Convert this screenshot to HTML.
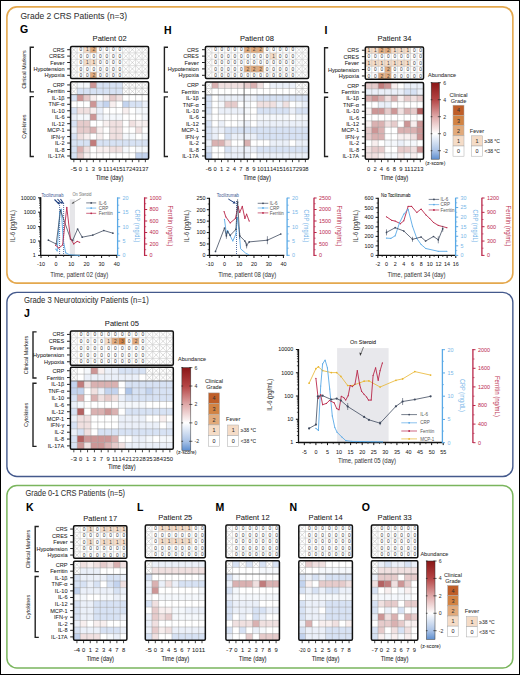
<!DOCTYPE html>
<html><head><meta charset="utf-8"><style>
html,body{margin:0;padding:0;background:#fff;}
svg{display:block;font-family:"Liberation Sans", sans-serif;}
</style></head><body>
<svg width="520" height="675" viewBox="0 0 520 675">
<defs>
<linearGradient id="cbgrad" x1="0" y1="0" x2="0" y2="1">
<stop offset="0" stop-color="#8a1616"/>
<stop offset="0.2222" stop-color="#b54545"/>
<stop offset="0.4444" stop-color="#dfa9a9"/>
<stop offset="0.6667" stop-color="#ffffff"/>
<stop offset="0.8889" stop-color="#a9c2e6"/>
<stop offset="1" stop-color="#5f8fd0"/>
</linearGradient>
</defs>
<rect width="520" height="675" fill="#fff"/>
<rect x="0.50" y="0.50" width="519.00" height="674.00" fill="none" stroke="#000" stroke-width="1" rx="0" />
<rect x="6.90" y="6.90" width="505.95" height="276.20" fill="none" stroke="#e4a84e" stroke-width="1.6" rx="10" />
<rect x="6.90" y="292.35" width="505.95" height="184.15" fill="none" stroke="#44598c" stroke-width="1.4" rx="10" />
<rect x="6.90" y="485.60" width="505.95" height="182.30" fill="none" stroke="#7ab55d" stroke-width="1.5" rx="10" />
<text x="20.50" y="18.70" font-size="8.6" fill="#333" text-anchor="start" stroke="#333" stroke-width="0.06" textLength="106.5" lengthAdjust="spacingAndGlyphs" >Grade 2 CRS Patients (n=3)</text>
<text x="24.00" y="302.70" font-size="8.2" fill="#333" text-anchor="start" stroke="#333" stroke-width="0.06" textLength="124.7" lengthAdjust="spacingAndGlyphs" >Grade 3 Neurotoxicity Patients (n=1)</text>
<text x="25.40" y="496.30" font-size="8.2" fill="#333" text-anchor="start" stroke="#333" stroke-width="0.06" textLength="99.6" lengthAdjust="spacingAndGlyphs" >Grade 0-1 CRS Patients (n=5)</text>
<text x="20.00" y="33.30" font-size="10.5" fill="#000" text-anchor="start" stroke="#000" stroke-width="0.06" font-weight="bold" >G</text>
<text x="164.00" y="33.70" font-size="10.5" fill="#000" text-anchor="start" stroke="#000" stroke-width="0.06" font-weight="bold" >H</text>
<text x="324.60" y="33.70" font-size="10.5" fill="#000" text-anchor="start" stroke="#000" stroke-width="0.06" font-weight="bold" >I</text>
<text x="24.00" y="317.00" font-size="10.5" fill="#000" text-anchor="start" stroke="#000" stroke-width="0.06" font-weight="bold" >J</text>
<text x="25.90" y="510.60" font-size="10.5" fill="#000" text-anchor="start" stroke="#000" stroke-width="0.06" font-weight="bold" >K</text>
<text x="137.10" y="510.60" font-size="10.5" fill="#000" text-anchor="start" stroke="#000" stroke-width="0.06" font-weight="bold" >L</text>
<text x="215.50" y="510.60" font-size="10.5" fill="#000" text-anchor="start" stroke="#000" stroke-width="0.06" font-weight="bold" >M</text>
<text x="289.60" y="510.60" font-size="10.5" fill="#000" text-anchor="start" stroke="#000" stroke-width="0.06" font-weight="bold" >N</text>
<text x="361.80" y="510.60" font-size="10.5" fill="#000" text-anchor="start" stroke="#000" stroke-width="0.06" font-weight="bold" >O</text>
<line x1="71.40" y1="47.30" x2="76.30" y2="52.10" stroke="#b0b0b0" stroke-width="0.45" />
<line x1="76.30" y1="47.30" x2="71.40" y2="52.10" stroke="#b0b0b0" stroke-width="0.45" />
<text x="80.75" y="51.40" font-size="4.8" fill="#444" text-anchor="middle" stroke="#444" stroke-width="0.03" >0</text>
<rect x="83.60" y="46.50" width="6.50" height="6.40" fill="#f5dcc7" stroke="none" stroke-width="0" rx="0" />
<text x="87.25" y="51.40" font-size="4.8" fill="#444" text-anchor="middle" stroke="#444" stroke-width="0.03" >1</text>
<rect x="90.10" y="46.50" width="6.50" height="6.40" fill="#e2aa7b" stroke="none" stroke-width="0" rx="0" />
<text x="93.75" y="51.40" font-size="4.8" fill="#444" text-anchor="middle" stroke="#444" stroke-width="0.03" >2</text>
<text x="100.25" y="51.40" font-size="4.8" fill="#444" text-anchor="middle" stroke="#444" stroke-width="0.03" >0</text>
<text x="106.75" y="51.40" font-size="4.8" fill="#444" text-anchor="middle" stroke="#444" stroke-width="0.03" >0</text>
<text x="113.25" y="51.40" font-size="4.8" fill="#444" text-anchor="middle" stroke="#444" stroke-width="0.03" >0</text>
<text x="119.75" y="51.40" font-size="4.8" fill="#444" text-anchor="middle" stroke="#444" stroke-width="0.03" >0</text>
<line x1="123.40" y1="47.30" x2="128.30" y2="52.10" stroke="#b0b0b0" stroke-width="0.45" />
<line x1="128.30" y1="47.30" x2="123.40" y2="52.10" stroke="#b0b0b0" stroke-width="0.45" />
<line x1="129.90" y1="47.30" x2="134.80" y2="52.10" stroke="#b0b0b0" stroke-width="0.45" />
<line x1="134.80" y1="47.30" x2="129.90" y2="52.10" stroke="#b0b0b0" stroke-width="0.45" />
<line x1="136.40" y1="47.30" x2="141.30" y2="52.10" stroke="#b0b0b0" stroke-width="0.45" />
<line x1="141.30" y1="47.30" x2="136.40" y2="52.10" stroke="#b0b0b0" stroke-width="0.45" />
<line x1="142.90" y1="47.30" x2="147.80" y2="52.10" stroke="#b0b0b0" stroke-width="0.45" />
<line x1="147.80" y1="47.30" x2="142.90" y2="52.10" stroke="#b0b0b0" stroke-width="0.45" />
<line x1="71.40" y1="53.70" x2="76.30" y2="58.50" stroke="#b0b0b0" stroke-width="0.45" />
<line x1="76.30" y1="53.70" x2="71.40" y2="58.50" stroke="#b0b0b0" stroke-width="0.45" />
<text x="80.75" y="57.80" font-size="4.8" fill="#444" text-anchor="middle" stroke="#444" stroke-width="0.03" >0</text>
<text x="87.25" y="57.80" font-size="4.8" fill="#444" text-anchor="middle" stroke="#444" stroke-width="0.03" >0</text>
<text x="93.75" y="57.80" font-size="4.8" fill="#444" text-anchor="middle" stroke="#444" stroke-width="0.03" >0</text>
<text x="100.25" y="57.80" font-size="4.8" fill="#444" text-anchor="middle" stroke="#444" stroke-width="0.03" >0</text>
<text x="106.75" y="57.80" font-size="4.8" fill="#444" text-anchor="middle" stroke="#444" stroke-width="0.03" >0</text>
<text x="113.25" y="57.80" font-size="4.8" fill="#444" text-anchor="middle" stroke="#444" stroke-width="0.03" >0</text>
<text x="119.75" y="57.80" font-size="4.8" fill="#444" text-anchor="middle" stroke="#444" stroke-width="0.03" >0</text>
<line x1="123.40" y1="53.70" x2="128.30" y2="58.50" stroke="#b0b0b0" stroke-width="0.45" />
<line x1="128.30" y1="53.70" x2="123.40" y2="58.50" stroke="#b0b0b0" stroke-width="0.45" />
<line x1="129.90" y1="53.70" x2="134.80" y2="58.50" stroke="#b0b0b0" stroke-width="0.45" />
<line x1="134.80" y1="53.70" x2="129.90" y2="58.50" stroke="#b0b0b0" stroke-width="0.45" />
<line x1="136.40" y1="53.70" x2="141.30" y2="58.50" stroke="#b0b0b0" stroke-width="0.45" />
<line x1="141.30" y1="53.70" x2="136.40" y2="58.50" stroke="#b0b0b0" stroke-width="0.45" />
<line x1="142.90" y1="53.70" x2="147.80" y2="58.50" stroke="#b0b0b0" stroke-width="0.45" />
<line x1="147.80" y1="53.70" x2="142.90" y2="58.50" stroke="#b0b0b0" stroke-width="0.45" />
<line x1="71.40" y1="60.10" x2="76.30" y2="64.90" stroke="#b0b0b0" stroke-width="0.45" />
<line x1="76.30" y1="60.10" x2="71.40" y2="64.90" stroke="#b0b0b0" stroke-width="0.45" />
<text x="80.75" y="64.20" font-size="4.8" fill="#444" text-anchor="middle" stroke="#444" stroke-width="0.03" >0</text>
<rect x="83.60" y="59.30" width="6.50" height="6.40" fill="#f5dcc7" stroke="none" stroke-width="0" rx="0" />
<text x="87.25" y="64.20" font-size="4.8" fill="#444" text-anchor="middle" stroke="#444" stroke-width="0.03" >1</text>
<rect x="90.10" y="59.30" width="6.50" height="6.40" fill="#f5dcc7" stroke="none" stroke-width="0" rx="0" />
<text x="93.75" y="64.20" font-size="4.8" fill="#444" text-anchor="middle" stroke="#444" stroke-width="0.03" >1</text>
<text x="100.25" y="64.20" font-size="4.8" fill="#444" text-anchor="middle" stroke="#444" stroke-width="0.03" >0</text>
<text x="106.75" y="64.20" font-size="4.8" fill="#444" text-anchor="middle" stroke="#444" stroke-width="0.03" >0</text>
<text x="113.25" y="64.20" font-size="4.8" fill="#444" text-anchor="middle" stroke="#444" stroke-width="0.03" >0</text>
<text x="119.75" y="64.20" font-size="4.8" fill="#444" text-anchor="middle" stroke="#444" stroke-width="0.03" >0</text>
<line x1="123.40" y1="60.10" x2="128.30" y2="64.90" stroke="#b0b0b0" stroke-width="0.45" />
<line x1="128.30" y1="60.10" x2="123.40" y2="64.90" stroke="#b0b0b0" stroke-width="0.45" />
<line x1="129.90" y1="60.10" x2="134.80" y2="64.90" stroke="#b0b0b0" stroke-width="0.45" />
<line x1="134.80" y1="60.10" x2="129.90" y2="64.90" stroke="#b0b0b0" stroke-width="0.45" />
<line x1="136.40" y1="60.10" x2="141.30" y2="64.90" stroke="#b0b0b0" stroke-width="0.45" />
<line x1="141.30" y1="60.10" x2="136.40" y2="64.90" stroke="#b0b0b0" stroke-width="0.45" />
<line x1="142.90" y1="60.10" x2="147.80" y2="64.90" stroke="#b0b0b0" stroke-width="0.45" />
<line x1="147.80" y1="60.10" x2="142.90" y2="64.90" stroke="#b0b0b0" stroke-width="0.45" />
<line x1="71.40" y1="66.50" x2="76.30" y2="71.30" stroke="#b0b0b0" stroke-width="0.45" />
<line x1="76.30" y1="66.50" x2="71.40" y2="71.30" stroke="#b0b0b0" stroke-width="0.45" />
<text x="80.75" y="70.60" font-size="4.8" fill="#444" text-anchor="middle" stroke="#444" stroke-width="0.03" >0</text>
<text x="87.25" y="70.60" font-size="4.8" fill="#444" text-anchor="middle" stroke="#444" stroke-width="0.03" >0</text>
<text x="93.75" y="70.60" font-size="4.8" fill="#444" text-anchor="middle" stroke="#444" stroke-width="0.03" >0</text>
<text x="100.25" y="70.60" font-size="4.8" fill="#444" text-anchor="middle" stroke="#444" stroke-width="0.03" >0</text>
<text x="106.75" y="70.60" font-size="4.8" fill="#444" text-anchor="middle" stroke="#444" stroke-width="0.03" >0</text>
<text x="113.25" y="70.60" font-size="4.8" fill="#444" text-anchor="middle" stroke="#444" stroke-width="0.03" >0</text>
<text x="119.75" y="70.60" font-size="4.8" fill="#444" text-anchor="middle" stroke="#444" stroke-width="0.03" >0</text>
<line x1="123.40" y1="66.50" x2="128.30" y2="71.30" stroke="#b0b0b0" stroke-width="0.45" />
<line x1="128.30" y1="66.50" x2="123.40" y2="71.30" stroke="#b0b0b0" stroke-width="0.45" />
<line x1="129.90" y1="66.50" x2="134.80" y2="71.30" stroke="#b0b0b0" stroke-width="0.45" />
<line x1="134.80" y1="66.50" x2="129.90" y2="71.30" stroke="#b0b0b0" stroke-width="0.45" />
<line x1="136.40" y1="66.50" x2="141.30" y2="71.30" stroke="#b0b0b0" stroke-width="0.45" />
<line x1="141.30" y1="66.50" x2="136.40" y2="71.30" stroke="#b0b0b0" stroke-width="0.45" />
<line x1="142.90" y1="66.50" x2="147.80" y2="71.30" stroke="#b0b0b0" stroke-width="0.45" />
<line x1="147.80" y1="66.50" x2="142.90" y2="71.30" stroke="#b0b0b0" stroke-width="0.45" />
<line x1="71.40" y1="72.90" x2="76.30" y2="77.70" stroke="#b0b0b0" stroke-width="0.45" />
<line x1="76.30" y1="72.90" x2="71.40" y2="77.70" stroke="#b0b0b0" stroke-width="0.45" />
<text x="80.75" y="77.00" font-size="4.8" fill="#444" text-anchor="middle" stroke="#444" stroke-width="0.03" >0</text>
<text x="87.25" y="77.00" font-size="4.8" fill="#444" text-anchor="middle" stroke="#444" stroke-width="0.03" >0</text>
<rect x="90.10" y="72.10" width="6.50" height="6.40" fill="#e2aa7b" stroke="none" stroke-width="0" rx="0" />
<text x="93.75" y="77.00" font-size="4.8" fill="#444" text-anchor="middle" stroke="#444" stroke-width="0.03" >2</text>
<text x="100.25" y="77.00" font-size="4.8" fill="#444" text-anchor="middle" stroke="#444" stroke-width="0.03" >0</text>
<text x="106.75" y="77.00" font-size="4.8" fill="#444" text-anchor="middle" stroke="#444" stroke-width="0.03" >0</text>
<text x="113.25" y="77.00" font-size="4.8" fill="#444" text-anchor="middle" stroke="#444" stroke-width="0.03" >0</text>
<text x="119.75" y="77.00" font-size="4.8" fill="#444" text-anchor="middle" stroke="#444" stroke-width="0.03" >0</text>
<line x1="123.40" y1="72.90" x2="128.30" y2="77.70" stroke="#b0b0b0" stroke-width="0.45" />
<line x1="128.30" y1="72.90" x2="123.40" y2="77.70" stroke="#b0b0b0" stroke-width="0.45" />
<line x1="129.90" y1="72.90" x2="134.80" y2="77.70" stroke="#b0b0b0" stroke-width="0.45" />
<line x1="134.80" y1="72.90" x2="129.90" y2="77.70" stroke="#b0b0b0" stroke-width="0.45" />
<line x1="136.40" y1="72.90" x2="141.30" y2="77.70" stroke="#b0b0b0" stroke-width="0.45" />
<line x1="141.30" y1="72.90" x2="136.40" y2="77.70" stroke="#b0b0b0" stroke-width="0.45" />
<line x1="142.90" y1="72.90" x2="147.80" y2="77.70" stroke="#b0b0b0" stroke-width="0.45" />
<line x1="147.80" y1="72.90" x2="142.90" y2="77.70" stroke="#b0b0b0" stroke-width="0.45" />
<line x1="77.10" y1="46.50" x2="77.10" y2="78.50" stroke="#b4b4b4" stroke-width="0.45" />
<line x1="83.60" y1="46.50" x2="83.60" y2="78.50" stroke="#b4b4b4" stroke-width="0.45" />
<line x1="90.10" y1="46.50" x2="90.10" y2="78.50" stroke="#b4b4b4" stroke-width="0.45" />
<line x1="96.60" y1="46.50" x2="96.60" y2="78.50" stroke="#b4b4b4" stroke-width="0.45" />
<line x1="103.10" y1="46.50" x2="103.10" y2="78.50" stroke="#b4b4b4" stroke-width="0.45" />
<line x1="109.60" y1="46.50" x2="109.60" y2="78.50" stroke="#b4b4b4" stroke-width="0.45" />
<line x1="116.10" y1="46.50" x2="116.10" y2="78.50" stroke="#b4b4b4" stroke-width="0.45" />
<line x1="122.60" y1="46.50" x2="122.60" y2="78.50" stroke="#b4b4b4" stroke-width="0.45" />
<line x1="129.10" y1="46.50" x2="129.10" y2="78.50" stroke="#b4b4b4" stroke-width="0.45" />
<line x1="135.60" y1="46.50" x2="135.60" y2="78.50" stroke="#b4b4b4" stroke-width="0.45" />
<line x1="142.10" y1="46.50" x2="142.10" y2="78.50" stroke="#b4b4b4" stroke-width="0.45" />
<line x1="70.60" y1="52.90" x2="148.60" y2="52.90" stroke="#b4b4b4" stroke-width="0.45" />
<line x1="70.60" y1="59.30" x2="148.60" y2="59.30" stroke="#b4b4b4" stroke-width="0.45" />
<line x1="70.60" y1="65.70" x2="148.60" y2="65.70" stroke="#b4b4b4" stroke-width="0.45" />
<line x1="70.60" y1="72.10" x2="148.60" y2="72.10" stroke="#b4b4b4" stroke-width="0.45" />
<rect x="70.60" y="46.50" width="78.00" height="32.00" fill="none" stroke="#111" stroke-width="1.5" rx="1.2" />
<line x1="71.40" y1="82.50" x2="76.30" y2="87.36" stroke="#b0b0b0" stroke-width="0.45" />
<line x1="76.30" y1="82.50" x2="71.40" y2="87.36" stroke="#b0b0b0" stroke-width="0.45" />
<rect x="77.08" y="81.68" width="6.54" height="6.50" fill="#f5f8fc" stroke="none" stroke-width="0" rx="0" />
<rect x="83.58" y="81.68" width="6.54" height="6.50" fill="#f5f8fc" stroke="none" stroke-width="0" rx="0" />
<rect x="90.08" y="81.68" width="6.54" height="6.50" fill="#cd9696" stroke="none" stroke-width="0" rx="0" />
<rect x="96.58" y="81.68" width="6.54" height="6.50" fill="#d7e2f4" stroke="none" stroke-width="0" rx="0" />
<rect x="103.08" y="81.68" width="6.54" height="6.50" fill="#d7e2f4" stroke="none" stroke-width="0" rx="0" />
<rect x="109.58" y="81.68" width="6.54" height="6.50" fill="#d7e2f4" stroke="none" stroke-width="0" rx="0" />
<rect x="116.08" y="81.68" width="6.54" height="6.50" fill="#d7e2f4" stroke="none" stroke-width="0" rx="0" />
<line x1="123.40" y1="82.50" x2="128.30" y2="87.36" stroke="#b0b0b0" stroke-width="0.45" />
<line x1="128.30" y1="82.50" x2="123.40" y2="87.36" stroke="#b0b0b0" stroke-width="0.45" />
<line x1="129.90" y1="82.50" x2="134.80" y2="87.36" stroke="#b0b0b0" stroke-width="0.45" />
<line x1="134.80" y1="82.50" x2="129.90" y2="87.36" stroke="#b0b0b0" stroke-width="0.45" />
<line x1="136.40" y1="82.50" x2="141.30" y2="87.36" stroke="#b0b0b0" stroke-width="0.45" />
<line x1="141.30" y1="82.50" x2="136.40" y2="87.36" stroke="#b0b0b0" stroke-width="0.45" />
<line x1="142.90" y1="82.50" x2="147.80" y2="87.36" stroke="#b0b0b0" stroke-width="0.45" />
<line x1="147.80" y1="82.50" x2="142.90" y2="87.36" stroke="#b0b0b0" stroke-width="0.45" />
<line x1="71.40" y1="88.96" x2="76.30" y2="93.82" stroke="#b0b0b0" stroke-width="0.45" />
<line x1="76.30" y1="88.96" x2="71.40" y2="93.82" stroke="#b0b0b0" stroke-width="0.45" />
<rect x="77.08" y="88.14" width="6.54" height="6.50" fill="#d7e2f4" stroke="none" stroke-width="0" rx="0" />
<rect x="83.58" y="88.14" width="6.54" height="6.50" fill="#d7e2f4" stroke="none" stroke-width="0" rx="0" />
<rect x="90.08" y="88.14" width="6.54" height="6.50" fill="#d7e2f4" stroke="none" stroke-width="0" rx="0" />
<rect x="96.58" y="88.14" width="6.54" height="6.50" fill="#d7e2f4" stroke="none" stroke-width="0" rx="0" />
<rect x="103.08" y="88.14" width="6.54" height="6.50" fill="#d7e2f4" stroke="none" stroke-width="0" rx="0" />
<rect x="109.58" y="88.14" width="6.54" height="6.50" fill="#d7e2f4" stroke="none" stroke-width="0" rx="0" />
<rect x="116.08" y="88.14" width="6.54" height="6.50" fill="#d7e2f4" stroke="none" stroke-width="0" rx="0" />
<line x1="123.40" y1="88.96" x2="128.30" y2="93.82" stroke="#b0b0b0" stroke-width="0.45" />
<line x1="128.30" y1="88.96" x2="123.40" y2="93.82" stroke="#b0b0b0" stroke-width="0.45" />
<line x1="129.90" y1="88.96" x2="134.80" y2="93.82" stroke="#b0b0b0" stroke-width="0.45" />
<line x1="134.80" y1="88.96" x2="129.90" y2="93.82" stroke="#b0b0b0" stroke-width="0.45" />
<line x1="136.40" y1="88.96" x2="141.30" y2="93.82" stroke="#b0b0b0" stroke-width="0.45" />
<line x1="141.30" y1="88.96" x2="136.40" y2="93.82" stroke="#b0b0b0" stroke-width="0.45" />
<line x1="142.90" y1="88.96" x2="147.80" y2="93.82" stroke="#b0b0b0" stroke-width="0.45" />
<line x1="147.80" y1="88.96" x2="142.90" y2="93.82" stroke="#b0b0b0" stroke-width="0.45" />
<rect x="70.58" y="94.60" width="6.54" height="6.50" fill="#d7e2f4" stroke="none" stroke-width="0" rx="0" />
<rect x="77.08" y="94.60" width="6.54" height="6.50" fill="#cd9696" stroke="none" stroke-width="0" rx="0" />
<rect x="83.58" y="94.60" width="6.54" height="6.50" fill="#e6cbcb" stroke="none" stroke-width="0" rx="0" />
<rect x="90.08" y="94.60" width="6.54" height="6.50" fill="#f8efef" stroke="none" stroke-width="0" rx="0" />
<rect x="96.58" y="94.60" width="6.54" height="6.50" fill="#ffffff" stroke="none" stroke-width="0" rx="0" />
<rect x="103.08" y="94.60" width="6.54" height="6.50" fill="#f8efef" stroke="none" stroke-width="0" rx="0" />
<rect x="109.58" y="94.60" width="6.54" height="6.50" fill="#e6cbcb" stroke="none" stroke-width="0" rx="0" />
<rect x="116.08" y="94.60" width="6.54" height="6.50" fill="#f0e0e0" stroke="none" stroke-width="0" rx="0" />
<rect x="122.58" y="94.60" width="6.54" height="6.50" fill="#ffffff" stroke="none" stroke-width="0" rx="0" />
<rect x="129.08" y="94.60" width="6.54" height="6.50" fill="#ffffff" stroke="none" stroke-width="0" rx="0" />
<rect x="135.58" y="94.60" width="6.54" height="6.50" fill="#ffffff" stroke="none" stroke-width="0" rx="0" />
<rect x="142.08" y="94.60" width="6.54" height="6.50" fill="#ffffff" stroke="none" stroke-width="0" rx="0" />
<rect x="70.58" y="101.06" width="6.54" height="6.50" fill="#ffffff" stroke="none" stroke-width="0" rx="0" />
<rect x="77.08" y="101.06" width="6.54" height="6.50" fill="#ffffff" stroke="none" stroke-width="0" rx="0" />
<rect x="83.58" y="101.06" width="6.54" height="6.50" fill="#ffffff" stroke="none" stroke-width="0" rx="0" />
<rect x="90.08" y="101.06" width="6.54" height="6.50" fill="#cd9696" stroke="none" stroke-width="0" rx="0" />
<rect x="96.58" y="101.06" width="6.54" height="6.50" fill="#d7e2f4" stroke="none" stroke-width="0" rx="0" />
<rect x="103.08" y="101.06" width="6.54" height="6.50" fill="#c3d3ee" stroke="none" stroke-width="0" rx="0" />
<rect x="109.58" y="101.06" width="6.54" height="6.50" fill="#f8efef" stroke="none" stroke-width="0" rx="0" />
<rect x="116.08" y="101.06" width="6.54" height="6.50" fill="#ffffff" stroke="none" stroke-width="0" rx="0" />
<rect x="122.58" y="101.06" width="6.54" height="6.50" fill="#c3d3ee" stroke="none" stroke-width="0" rx="0" />
<rect x="129.08" y="101.06" width="6.54" height="6.50" fill="#d7e2f4" stroke="none" stroke-width="0" rx="0" />
<rect x="135.58" y="101.06" width="6.54" height="6.50" fill="#d7e2f4" stroke="none" stroke-width="0" rx="0" />
<rect x="142.08" y="101.06" width="6.54" height="6.50" fill="#ebf0f9" stroke="none" stroke-width="0" rx="0" />
<rect x="70.58" y="107.51" width="6.54" height="6.50" fill="#d7e2f4" stroke="none" stroke-width="0" rx="0" />
<rect x="77.08" y="107.51" width="6.54" height="6.50" fill="#f0e0e0" stroke="none" stroke-width="0" rx="0" />
<rect x="83.58" y="107.51" width="6.54" height="6.50" fill="#f0e0e0" stroke="none" stroke-width="0" rx="0" />
<rect x="90.08" y="107.51" width="6.54" height="6.50" fill="#f8efef" stroke="none" stroke-width="0" rx="0" />
<rect x="96.58" y="107.51" width="6.54" height="6.50" fill="#ebf0f9" stroke="none" stroke-width="0" rx="0" />
<rect x="103.08" y="107.51" width="6.54" height="6.50" fill="#ffffff" stroke="none" stroke-width="0" rx="0" />
<rect x="109.58" y="107.51" width="6.54" height="6.50" fill="#ffffff" stroke="none" stroke-width="0" rx="0" />
<rect x="116.08" y="107.51" width="6.54" height="6.50" fill="#ffffff" stroke="none" stroke-width="0" rx="0" />
<rect x="122.58" y="107.51" width="6.54" height="6.50" fill="#f8efef" stroke="none" stroke-width="0" rx="0" />
<rect x="129.08" y="107.51" width="6.54" height="6.50" fill="#ffffff" stroke="none" stroke-width="0" rx="0" />
<rect x="135.58" y="107.51" width="6.54" height="6.50" fill="#f5f8fc" stroke="none" stroke-width="0" rx="0" />
<rect x="142.08" y="107.51" width="6.54" height="6.50" fill="#f5f8fc" stroke="none" stroke-width="0" rx="0" />
<rect x="70.58" y="113.97" width="6.54" height="6.50" fill="#ebf0f9" stroke="none" stroke-width="0" rx="0" />
<rect x="77.08" y="113.97" width="6.54" height="6.50" fill="#f5f8fc" stroke="none" stroke-width="0" rx="0" />
<rect x="83.58" y="113.97" width="6.54" height="6.50" fill="#f5f8fc" stroke="none" stroke-width="0" rx="0" />
<rect x="90.08" y="113.97" width="6.54" height="6.50" fill="#cd9696" stroke="none" stroke-width="0" rx="0" />
<rect x="96.58" y="113.97" width="6.54" height="6.50" fill="#ebf0f9" stroke="none" stroke-width="0" rx="0" />
<rect x="103.08" y="113.97" width="6.54" height="6.50" fill="#f5f8fc" stroke="none" stroke-width="0" rx="0" />
<rect x="109.58" y="113.97" width="6.54" height="6.50" fill="#f5f8fc" stroke="none" stroke-width="0" rx="0" />
<rect x="116.08" y="113.97" width="6.54" height="6.50" fill="#f5f8fc" stroke="none" stroke-width="0" rx="0" />
<rect x="122.58" y="113.97" width="6.54" height="6.50" fill="#ffffff" stroke="none" stroke-width="0" rx="0" />
<rect x="129.08" y="113.97" width="6.54" height="6.50" fill="#ffffff" stroke="none" stroke-width="0" rx="0" />
<rect x="135.58" y="113.97" width="6.54" height="6.50" fill="#ffffff" stroke="none" stroke-width="0" rx="0" />
<rect x="142.08" y="113.97" width="6.54" height="6.50" fill="#f5f8fc" stroke="none" stroke-width="0" rx="0" />
<rect x="70.58" y="120.43" width="6.54" height="6.50" fill="#d7e2f4" stroke="none" stroke-width="0" rx="0" />
<rect x="77.08" y="120.43" width="6.54" height="6.50" fill="#e6cbcb" stroke="none" stroke-width="0" rx="0" />
<rect x="83.58" y="120.43" width="6.54" height="6.50" fill="#e6cbcb" stroke="none" stroke-width="0" rx="0" />
<rect x="90.08" y="120.43" width="6.54" height="6.50" fill="#ffffff" stroke="none" stroke-width="0" rx="0" />
<rect x="96.58" y="120.43" width="6.54" height="6.50" fill="#ffffff" stroke="none" stroke-width="0" rx="0" />
<rect x="103.08" y="120.43" width="6.54" height="6.50" fill="#f8efef" stroke="none" stroke-width="0" rx="0" />
<rect x="109.58" y="120.43" width="6.54" height="6.50" fill="#f0e0e0" stroke="none" stroke-width="0" rx="0" />
<rect x="116.08" y="120.43" width="6.54" height="6.50" fill="#f0e0e0" stroke="none" stroke-width="0" rx="0" />
<rect x="122.58" y="120.43" width="6.54" height="6.50" fill="#ffffff" stroke="none" stroke-width="0" rx="0" />
<rect x="129.08" y="120.43" width="6.54" height="6.50" fill="#f0e0e0" stroke="none" stroke-width="0" rx="0" />
<rect x="135.58" y="120.43" width="6.54" height="6.50" fill="#f8efef" stroke="none" stroke-width="0" rx="0" />
<rect x="142.08" y="120.43" width="6.54" height="6.50" fill="#f8efef" stroke="none" stroke-width="0" rx="0" />
<rect x="70.58" y="126.89" width="6.54" height="6.50" fill="#ebf0f9" stroke="none" stroke-width="0" rx="0" />
<rect x="77.08" y="126.89" width="6.54" height="6.50" fill="#e6cbcb" stroke="none" stroke-width="0" rx="0" />
<rect x="83.58" y="126.89" width="6.54" height="6.50" fill="#e6cbcb" stroke="none" stroke-width="0" rx="0" />
<rect x="90.08" y="126.89" width="6.54" height="6.50" fill="#dab1b1" stroke="none" stroke-width="0" rx="0" />
<rect x="96.58" y="126.89" width="6.54" height="6.50" fill="#f8efef" stroke="none" stroke-width="0" rx="0" />
<rect x="103.08" y="126.89" width="6.54" height="6.50" fill="#ffffff" stroke="none" stroke-width="0" rx="0" />
<rect x="109.58" y="126.89" width="6.54" height="6.50" fill="#f0e0e0" stroke="none" stroke-width="0" rx="0" />
<rect x="116.08" y="126.89" width="6.54" height="6.50" fill="#f0e0e0" stroke="none" stroke-width="0" rx="0" />
<rect x="122.58" y="126.89" width="6.54" height="6.50" fill="#ffffff" stroke="none" stroke-width="0" rx="0" />
<rect x="129.08" y="126.89" width="6.54" height="6.50" fill="#ffffff" stroke="none" stroke-width="0" rx="0" />
<rect x="135.58" y="126.89" width="6.54" height="6.50" fill="#f0e0e0" stroke="none" stroke-width="0" rx="0" />
<rect x="142.08" y="126.89" width="6.54" height="6.50" fill="#ffffff" stroke="none" stroke-width="0" rx="0" />
<rect x="70.58" y="133.35" width="6.54" height="6.50" fill="#d7e2f4" stroke="none" stroke-width="0" rx="0" />
<rect x="77.08" y="133.35" width="6.54" height="6.50" fill="#f0e0e0" stroke="none" stroke-width="0" rx="0" />
<rect x="83.58" y="133.35" width="6.54" height="6.50" fill="#f8efef" stroke="none" stroke-width="0" rx="0" />
<rect x="90.08" y="133.35" width="6.54" height="6.50" fill="#ffffff" stroke="none" stroke-width="0" rx="0" />
<rect x="96.58" y="133.35" width="6.54" height="6.50" fill="#f8efef" stroke="none" stroke-width="0" rx="0" />
<rect x="103.08" y="133.35" width="6.54" height="6.50" fill="#ffffff" stroke="none" stroke-width="0" rx="0" />
<rect x="109.58" y="133.35" width="6.54" height="6.50" fill="#f0e0e0" stroke="none" stroke-width="0" rx="0" />
<rect x="116.08" y="133.35" width="6.54" height="6.50" fill="#f0e0e0" stroke="none" stroke-width="0" rx="0" />
<rect x="122.58" y="133.35" width="6.54" height="6.50" fill="#f5f8fc" stroke="none" stroke-width="0" rx="0" />
<rect x="129.08" y="133.35" width="6.54" height="6.50" fill="#f5f8fc" stroke="none" stroke-width="0" rx="0" />
<rect x="135.58" y="133.35" width="6.54" height="6.50" fill="#ffffff" stroke="none" stroke-width="0" rx="0" />
<rect x="142.08" y="133.35" width="6.54" height="6.50" fill="#f5f8fc" stroke="none" stroke-width="0" rx="0" />
<rect x="70.58" y="139.80" width="6.54" height="6.50" fill="#d7e2f4" stroke="none" stroke-width="0" rx="0" />
<rect x="77.08" y="139.80" width="6.54" height="6.50" fill="#d7e2f4" stroke="none" stroke-width="0" rx="0" />
<rect x="83.58" y="139.80" width="6.54" height="6.50" fill="#d7e2f4" stroke="none" stroke-width="0" rx="0" />
<rect x="90.08" y="139.80" width="6.54" height="6.50" fill="#c17c7c" stroke="none" stroke-width="0" rx="0" />
<rect x="96.58" y="139.80" width="6.54" height="6.50" fill="#d7e2f4" stroke="none" stroke-width="0" rx="0" />
<rect x="103.08" y="139.80" width="6.54" height="6.50" fill="#d7e2f4" stroke="none" stroke-width="0" rx="0" />
<rect x="109.58" y="139.80" width="6.54" height="6.50" fill="#d7e2f4" stroke="none" stroke-width="0" rx="0" />
<rect x="116.08" y="139.80" width="6.54" height="6.50" fill="#d7e2f4" stroke="none" stroke-width="0" rx="0" />
<rect x="122.58" y="139.80" width="6.54" height="6.50" fill="#d7e2f4" stroke="none" stroke-width="0" rx="0" />
<rect x="129.08" y="139.80" width="6.54" height="6.50" fill="#d7e2f4" stroke="none" stroke-width="0" rx="0" />
<rect x="135.58" y="139.80" width="6.54" height="6.50" fill="#d7e2f4" stroke="none" stroke-width="0" rx="0" />
<rect x="142.08" y="139.80" width="6.54" height="6.50" fill="#d7e2f4" stroke="none" stroke-width="0" rx="0" />
<rect x="70.58" y="146.26" width="6.54" height="6.50" fill="#d7e2f4" stroke="none" stroke-width="0" rx="0" />
<rect x="77.08" y="146.26" width="6.54" height="6.50" fill="#dab1b1" stroke="none" stroke-width="0" rx="0" />
<rect x="83.58" y="146.26" width="6.54" height="6.50" fill="#f0e0e0" stroke="none" stroke-width="0" rx="0" />
<rect x="90.08" y="146.26" width="6.54" height="6.50" fill="#ffffff" stroke="none" stroke-width="0" rx="0" />
<rect x="96.58" y="146.26" width="6.54" height="6.50" fill="#f8efef" stroke="none" stroke-width="0" rx="0" />
<rect x="103.08" y="146.26" width="6.54" height="6.50" fill="#f8efef" stroke="none" stroke-width="0" rx="0" />
<rect x="109.58" y="146.26" width="6.54" height="6.50" fill="#f0e0e0" stroke="none" stroke-width="0" rx="0" />
<rect x="116.08" y="146.26" width="6.54" height="6.50" fill="#f0e0e0" stroke="none" stroke-width="0" rx="0" />
<rect x="122.58" y="146.26" width="6.54" height="6.50" fill="#f5f8fc" stroke="none" stroke-width="0" rx="0" />
<rect x="129.08" y="146.26" width="6.54" height="6.50" fill="#ffffff" stroke="none" stroke-width="0" rx="0" />
<rect x="135.58" y="146.26" width="6.54" height="6.50" fill="#f5f8fc" stroke="none" stroke-width="0" rx="0" />
<rect x="142.08" y="146.26" width="6.54" height="6.50" fill="#f5f8fc" stroke="none" stroke-width="0" rx="0" />
<rect x="70.58" y="152.72" width="6.54" height="6.50" fill="#d7e2f4" stroke="none" stroke-width="0" rx="0" />
<rect x="77.08" y="152.72" width="6.54" height="6.50" fill="#e6cbcb" stroke="none" stroke-width="0" rx="0" />
<rect x="83.58" y="152.72" width="6.54" height="6.50" fill="#f8efef" stroke="none" stroke-width="0" rx="0" />
<rect x="90.08" y="152.72" width="6.54" height="6.50" fill="#ffffff" stroke="none" stroke-width="0" rx="0" />
<rect x="96.58" y="152.72" width="6.54" height="6.50" fill="#ffffff" stroke="none" stroke-width="0" rx="0" />
<rect x="103.08" y="152.72" width="6.54" height="6.50" fill="#ffffff" stroke="none" stroke-width="0" rx="0" />
<rect x="109.58" y="152.72" width="6.54" height="6.50" fill="#ffffff" stroke="none" stroke-width="0" rx="0" />
<rect x="116.08" y="152.72" width="6.54" height="6.50" fill="#ffffff" stroke="none" stroke-width="0" rx="0" />
<rect x="122.58" y="152.72" width="6.54" height="6.50" fill="#ffffff" stroke="none" stroke-width="0" rx="0" />
<rect x="129.08" y="152.72" width="6.54" height="6.50" fill="#ffffff" stroke="none" stroke-width="0" rx="0" />
<rect x="135.58" y="152.72" width="6.54" height="6.50" fill="#c3d3ee" stroke="none" stroke-width="0" rx="0" />
<rect x="142.08" y="152.72" width="6.54" height="6.50" fill="#c3d3ee" stroke="none" stroke-width="0" rx="0" />
<line x1="77.10" y1="81.70" x2="77.10" y2="159.20" stroke="#949494" stroke-width="0.45" />
<line x1="83.60" y1="81.70" x2="83.60" y2="159.20" stroke="#949494" stroke-width="0.45" />
<line x1="90.10" y1="81.70" x2="90.10" y2="159.20" stroke="#949494" stroke-width="0.45" />
<line x1="96.60" y1="81.70" x2="96.60" y2="159.20" stroke="#949494" stroke-width="0.45" />
<line x1="103.10" y1="81.70" x2="103.10" y2="159.20" stroke="#949494" stroke-width="0.45" />
<line x1="109.60" y1="81.70" x2="109.60" y2="159.20" stroke="#949494" stroke-width="0.45" />
<line x1="116.10" y1="81.70" x2="116.10" y2="159.20" stroke="#949494" stroke-width="0.45" />
<line x1="122.60" y1="81.70" x2="122.60" y2="159.20" stroke="#949494" stroke-width="0.45" />
<line x1="129.10" y1="81.70" x2="129.10" y2="159.20" stroke="#949494" stroke-width="0.45" />
<line x1="135.60" y1="81.70" x2="135.60" y2="159.20" stroke="#949494" stroke-width="0.45" />
<line x1="142.10" y1="81.70" x2="142.10" y2="159.20" stroke="#949494" stroke-width="0.45" />
<line x1="70.60" y1="88.16" x2="148.60" y2="88.16" stroke="#949494" stroke-width="0.45" />
<line x1="70.60" y1="94.62" x2="148.60" y2="94.62" stroke="#949494" stroke-width="0.45" />
<line x1="70.60" y1="101.08" x2="148.60" y2="101.08" stroke="#949494" stroke-width="0.45" />
<line x1="70.60" y1="107.53" x2="148.60" y2="107.53" stroke="#949494" stroke-width="0.45" />
<line x1="70.60" y1="113.99" x2="148.60" y2="113.99" stroke="#949494" stroke-width="0.45" />
<line x1="70.60" y1="120.45" x2="148.60" y2="120.45" stroke="#949494" stroke-width="0.45" />
<line x1="70.60" y1="126.91" x2="148.60" y2="126.91" stroke="#949494" stroke-width="0.45" />
<line x1="70.60" y1="133.37" x2="148.60" y2="133.37" stroke="#949494" stroke-width="0.45" />
<line x1="70.60" y1="139.82" x2="148.60" y2="139.82" stroke="#949494" stroke-width="0.45" />
<line x1="70.60" y1="146.28" x2="148.60" y2="146.28" stroke="#949494" stroke-width="0.45" />
<line x1="70.60" y1="152.74" x2="148.60" y2="152.74" stroke="#949494" stroke-width="0.45" />
<line x1="70.60" y1="94.62" x2="148.60" y2="94.62" stroke="#555" stroke-width="0.6" />
<rect x="70.60" y="81.70" width="78.00" height="77.50" fill="none" stroke="#111" stroke-width="1.5" rx="1.2" />
<line x1="73.85" y1="160.00" x2="73.85" y2="162.20" stroke="#111" stroke-width="0.8" />
<text x="73.85" y="170.80" font-size="5.8" fill="#222" text-anchor="middle" stroke="#222" stroke-width="0.04" textLength="6.5" lengthAdjust="spacingAndGlyphs" >-5</text>
<line x1="80.35" y1="160.00" x2="80.35" y2="162.20" stroke="#111" stroke-width="0.8" />
<text x="80.35" y="170.80" font-size="5.8" fill="#222" text-anchor="middle" stroke="#222" stroke-width="0.04" >0</text>
<line x1="86.85" y1="160.00" x2="86.85" y2="162.20" stroke="#111" stroke-width="0.8" />
<text x="86.85" y="170.80" font-size="5.8" fill="#222" text-anchor="middle" stroke="#222" stroke-width="0.04" >1</text>
<line x1="93.35" y1="160.00" x2="93.35" y2="162.20" stroke="#111" stroke-width="0.8" />
<text x="93.35" y="170.80" font-size="5.8" fill="#222" text-anchor="middle" stroke="#222" stroke-width="0.04" >3</text>
<line x1="99.85" y1="160.00" x2="99.85" y2="162.20" stroke="#111" stroke-width="0.8" />
<text x="99.85" y="170.80" font-size="5.8" fill="#222" text-anchor="middle" stroke="#222" stroke-width="0.04" >9</text>
<line x1="106.35" y1="160.00" x2="106.35" y2="162.20" stroke="#111" stroke-width="0.8" />
<text x="106.35" y="170.80" font-size="5.8" fill="#222" text-anchor="middle" stroke="#222" stroke-width="0.04" textLength="6.5" lengthAdjust="spacingAndGlyphs" >11</text>
<line x1="112.85" y1="160.00" x2="112.85" y2="162.20" stroke="#111" stroke-width="0.8" />
<text x="112.85" y="170.80" font-size="5.8" fill="#222" text-anchor="middle" stroke="#222" stroke-width="0.04" textLength="6.5" lengthAdjust="spacingAndGlyphs" >14</text>
<line x1="119.35" y1="160.00" x2="119.35" y2="162.20" stroke="#111" stroke-width="0.8" />
<text x="119.35" y="170.80" font-size="5.8" fill="#222" text-anchor="middle" stroke="#222" stroke-width="0.04" textLength="6.5" lengthAdjust="spacingAndGlyphs" >15</text>
<line x1="125.85" y1="160.00" x2="125.85" y2="162.20" stroke="#111" stroke-width="0.8" />
<text x="125.85" y="170.80" font-size="5.8" fill="#222" text-anchor="middle" stroke="#222" stroke-width="0.04" textLength="6.5" lengthAdjust="spacingAndGlyphs" >17</text>
<line x1="132.35" y1="160.00" x2="132.35" y2="162.20" stroke="#111" stroke-width="0.8" />
<text x="132.35" y="170.80" font-size="5.8" fill="#222" text-anchor="middle" stroke="#222" stroke-width="0.04" textLength="6.5" lengthAdjust="spacingAndGlyphs" >24</text>
<line x1="138.85" y1="160.00" x2="138.85" y2="162.20" stroke="#111" stroke-width="0.8" />
<text x="138.85" y="170.80" font-size="5.8" fill="#222" text-anchor="middle" stroke="#222" stroke-width="0.04" textLength="6.5" lengthAdjust="spacingAndGlyphs" >31</text>
<line x1="145.35" y1="160.00" x2="145.35" y2="162.20" stroke="#111" stroke-width="0.8" />
<text x="145.35" y="170.80" font-size="5.8" fill="#222" text-anchor="middle" stroke="#222" stroke-width="0.04" textLength="6.5" lengthAdjust="spacingAndGlyphs" >37</text>
<text x="109.60" y="41.20" font-size="7.7" fill="#222" text-anchor="middle" stroke="#222" stroke-width="0.06" textLength="34.0" lengthAdjust="spacingAndGlyphs" >Patient 02</text>
<text x="109.60" y="180.20" font-size="7.6" fill="#222" text-anchor="middle" stroke="#222" stroke-width="0.06" textLength="27.7" lengthAdjust="spacingAndGlyphs" >Time (day)</text>
<line x1="67.20" y1="49.70" x2="70.10" y2="49.70" stroke="#222" stroke-width="1.0" />
<text x="64.60" y="51.70" font-size="5.6" fill="#222" text-anchor="end" stroke="#222" stroke-width="0.05" >CRS</text>
<line x1="67.20" y1="56.10" x2="70.10" y2="56.10" stroke="#222" stroke-width="1.0" />
<text x="64.60" y="58.10" font-size="5.6" fill="#222" text-anchor="end" stroke="#222" stroke-width="0.05" >CRES</text>
<line x1="67.20" y1="62.50" x2="70.10" y2="62.50" stroke="#222" stroke-width="1.0" />
<text x="64.60" y="64.50" font-size="5.6" fill="#222" text-anchor="end" stroke="#222" stroke-width="0.05" >Fever</text>
<line x1="67.20" y1="68.90" x2="70.10" y2="68.90" stroke="#222" stroke-width="1.0" />
<text x="64.60" y="70.90" font-size="5.6" fill="#222" text-anchor="end" stroke="#222" stroke-width="0.05" >Hypotension</text>
<line x1="67.20" y1="75.30" x2="70.10" y2="75.30" stroke="#222" stroke-width="1.0" />
<text x="64.60" y="77.30" font-size="5.6" fill="#222" text-anchor="end" stroke="#222" stroke-width="0.05" >Hypoxia</text>
<line x1="67.20" y1="84.93" x2="70.10" y2="84.93" stroke="#222" stroke-width="1.0" />
<text x="64.60" y="86.93" font-size="5.6" fill="#222" text-anchor="end" stroke="#222" stroke-width="0.05" >CRP</text>
<line x1="67.20" y1="91.39" x2="70.10" y2="91.39" stroke="#222" stroke-width="1.0" />
<text x="64.60" y="93.39" font-size="5.6" fill="#222" text-anchor="end" stroke="#222" stroke-width="0.05" >Ferritin</text>
<line x1="67.20" y1="97.85" x2="70.10" y2="97.85" stroke="#222" stroke-width="1.0" />
<text x="64.60" y="99.85" font-size="5.6" fill="#222" text-anchor="end" stroke="#222" stroke-width="0.05" >IL-1β</text>
<line x1="67.20" y1="104.30" x2="70.10" y2="104.30" stroke="#222" stroke-width="1.0" />
<text x="64.60" y="106.30" font-size="5.6" fill="#222" text-anchor="end" stroke="#222" stroke-width="0.05" >TNF-α</text>
<line x1="67.20" y1="110.76" x2="70.10" y2="110.76" stroke="#222" stroke-width="1.0" />
<text x="64.60" y="112.76" font-size="5.6" fill="#222" text-anchor="end" stroke="#222" stroke-width="0.05" >IL-10</text>
<line x1="67.20" y1="117.22" x2="70.10" y2="117.22" stroke="#222" stroke-width="1.0" />
<text x="64.60" y="119.22" font-size="5.6" fill="#222" text-anchor="end" stroke="#222" stroke-width="0.05" >IL-6</text>
<line x1="67.20" y1="123.68" x2="70.10" y2="123.68" stroke="#222" stroke-width="1.0" />
<text x="64.60" y="125.68" font-size="5.6" fill="#222" text-anchor="end" stroke="#222" stroke-width="0.05" >IL-12</text>
<line x1="67.20" y1="130.14" x2="70.10" y2="130.14" stroke="#222" stroke-width="1.0" />
<text x="64.60" y="132.14" font-size="5.6" fill="#222" text-anchor="end" stroke="#222" stroke-width="0.05" >MCP-1</text>
<line x1="67.20" y1="136.60" x2="70.10" y2="136.60" stroke="#222" stroke-width="1.0" />
<text x="64.60" y="138.60" font-size="5.6" fill="#222" text-anchor="end" stroke="#222" stroke-width="0.05" >IFN-γ</text>
<line x1="67.20" y1="143.05" x2="70.10" y2="143.05" stroke="#222" stroke-width="1.0" />
<text x="64.60" y="145.05" font-size="5.6" fill="#222" text-anchor="end" stroke="#222" stroke-width="0.05" >IL-2</text>
<line x1="67.20" y1="149.51" x2="70.10" y2="149.51" stroke="#222" stroke-width="1.0" />
<text x="64.60" y="151.51" font-size="5.6" fill="#222" text-anchor="end" stroke="#222" stroke-width="0.05" >IL-8</text>
<line x1="67.20" y1="155.97" x2="70.10" y2="155.97" stroke="#222" stroke-width="1.0" />
<text x="64.60" y="157.97" font-size="5.6" fill="#222" text-anchor="end" stroke="#222" stroke-width="0.05" >IL-17A</text>
<path d="M33.90,47.20 H30.30 V91.89 H33.90" fill="none" stroke="#222" stroke-width="1.4"/>
<path d="M33.90,96.65 H30.30 V156.47 H33.90" fill="none" stroke="#222" stroke-width="1.4"/>
<text x="25.60" y="69.54" font-size="5.6" fill="#333" text-anchor="middle" stroke="#333" stroke-width="0.03" textLength="38.5" lengthAdjust="spacingAndGlyphs" transform="rotate(-90 25.60 69.54)" >Clinical Markers</text>
<text x="25.60" y="126.56" font-size="5.7" fill="#333" text-anchor="middle" stroke="#333" stroke-width="0.03" textLength="24.3" lengthAdjust="spacingAndGlyphs" transform="rotate(-90 25.60 126.56)" >Cytokines</text>
<line x1="206.20" y1="47.30" x2="211.05" y2="52.10" stroke="#b0b0b0" stroke-width="0.45" />
<line x1="211.05" y1="47.30" x2="206.20" y2="52.10" stroke="#b0b0b0" stroke-width="0.45" />
<text x="215.47" y="51.40" font-size="4.8" fill="#444" text-anchor="middle" stroke="#444" stroke-width="0.03" >0</text>
<text x="221.93" y="51.40" font-size="4.8" fill="#444" text-anchor="middle" stroke="#444" stroke-width="0.03" >0</text>
<text x="228.38" y="51.40" font-size="4.8" fill="#444" text-anchor="middle" stroke="#444" stroke-width="0.03" >0</text>
<text x="234.83" y="51.40" font-size="4.8" fill="#444" text-anchor="middle" stroke="#444" stroke-width="0.03" >0</text>
<text x="241.28" y="51.40" font-size="4.8" fill="#444" text-anchor="middle" stroke="#444" stroke-width="0.03" >0</text>
<rect x="244.10" y="46.50" width="6.45" height="6.40" fill="#e2aa7b" stroke="none" stroke-width="0" rx="0" />
<text x="247.73" y="51.40" font-size="4.8" fill="#444" text-anchor="middle" stroke="#444" stroke-width="0.03" >2</text>
<rect x="250.55" y="46.50" width="6.45" height="6.40" fill="#e2aa7b" stroke="none" stroke-width="0" rx="0" />
<text x="254.18" y="51.40" font-size="4.8" fill="#444" text-anchor="middle" stroke="#444" stroke-width="0.03" >2</text>
<rect x="257.00" y="46.50" width="6.45" height="6.40" fill="#e2aa7b" stroke="none" stroke-width="0" rx="0" />
<text x="260.62" y="51.40" font-size="4.8" fill="#444" text-anchor="middle" stroke="#444" stroke-width="0.03" >2</text>
<text x="267.07" y="51.40" font-size="4.8" fill="#444" text-anchor="middle" stroke="#444" stroke-width="0.03" >0</text>
<text x="273.52" y="51.40" font-size="4.8" fill="#444" text-anchor="middle" stroke="#444" stroke-width="0.03" >0</text>
<text x="279.98" y="51.40" font-size="4.8" fill="#444" text-anchor="middle" stroke="#444" stroke-width="0.03" >0</text>
<text x="286.43" y="51.40" font-size="4.8" fill="#444" text-anchor="middle" stroke="#444" stroke-width="0.03" >0</text>
<text x="292.88" y="51.40" font-size="4.8" fill="#444" text-anchor="middle" stroke="#444" stroke-width="0.03" >0</text>
<line x1="296.50" y1="47.30" x2="301.35" y2="52.10" stroke="#b0b0b0" stroke-width="0.45" />
<line x1="301.35" y1="47.30" x2="296.50" y2="52.10" stroke="#b0b0b0" stroke-width="0.45" />
<line x1="302.95" y1="47.30" x2="307.80" y2="52.10" stroke="#b0b0b0" stroke-width="0.45" />
<line x1="307.80" y1="47.30" x2="302.95" y2="52.10" stroke="#b0b0b0" stroke-width="0.45" />
<line x1="206.20" y1="53.70" x2="211.05" y2="58.50" stroke="#b0b0b0" stroke-width="0.45" />
<line x1="211.05" y1="53.70" x2="206.20" y2="58.50" stroke="#b0b0b0" stroke-width="0.45" />
<text x="215.47" y="57.80" font-size="4.8" fill="#444" text-anchor="middle" stroke="#444" stroke-width="0.03" >0</text>
<text x="221.93" y="57.80" font-size="4.8" fill="#444" text-anchor="middle" stroke="#444" stroke-width="0.03" >0</text>
<text x="228.38" y="57.80" font-size="4.8" fill="#444" text-anchor="middle" stroke="#444" stroke-width="0.03" >0</text>
<text x="234.83" y="57.80" font-size="4.8" fill="#444" text-anchor="middle" stroke="#444" stroke-width="0.03" >0</text>
<text x="241.28" y="57.80" font-size="4.8" fill="#444" text-anchor="middle" stroke="#444" stroke-width="0.03" >0</text>
<text x="247.73" y="57.80" font-size="4.8" fill="#444" text-anchor="middle" stroke="#444" stroke-width="0.03" >0</text>
<text x="254.18" y="57.80" font-size="4.8" fill="#444" text-anchor="middle" stroke="#444" stroke-width="0.03" >0</text>
<text x="260.62" y="57.80" font-size="4.8" fill="#444" text-anchor="middle" stroke="#444" stroke-width="0.03" >0</text>
<text x="267.07" y="57.80" font-size="4.8" fill="#444" text-anchor="middle" stroke="#444" stroke-width="0.03" >0</text>
<rect x="269.90" y="52.90" width="6.45" height="6.40" fill="#f5dcc7" stroke="none" stroke-width="0" rx="0" />
<text x="273.52" y="57.80" font-size="4.8" fill="#444" text-anchor="middle" stroke="#444" stroke-width="0.03" >1</text>
<text x="279.98" y="57.80" font-size="4.8" fill="#444" text-anchor="middle" stroke="#444" stroke-width="0.03" >0</text>
<text x="286.43" y="57.80" font-size="4.8" fill="#444" text-anchor="middle" stroke="#444" stroke-width="0.03" >0</text>
<text x="292.88" y="57.80" font-size="4.8" fill="#444" text-anchor="middle" stroke="#444" stroke-width="0.03" >0</text>
<line x1="296.50" y1="53.70" x2="301.35" y2="58.50" stroke="#b0b0b0" stroke-width="0.45" />
<line x1="301.35" y1="53.70" x2="296.50" y2="58.50" stroke="#b0b0b0" stroke-width="0.45" />
<line x1="302.95" y1="53.70" x2="307.80" y2="58.50" stroke="#b0b0b0" stroke-width="0.45" />
<line x1="307.80" y1="53.70" x2="302.95" y2="58.50" stroke="#b0b0b0" stroke-width="0.45" />
<line x1="206.20" y1="60.10" x2="211.05" y2="64.90" stroke="#b0b0b0" stroke-width="0.45" />
<line x1="211.05" y1="60.10" x2="206.20" y2="64.90" stroke="#b0b0b0" stroke-width="0.45" />
<text x="215.47" y="64.20" font-size="4.8" fill="#444" text-anchor="middle" stroke="#444" stroke-width="0.03" >0</text>
<text x="221.93" y="64.20" font-size="4.8" fill="#444" text-anchor="middle" stroke="#444" stroke-width="0.03" >0</text>
<text x="228.38" y="64.20" font-size="4.8" fill="#444" text-anchor="middle" stroke="#444" stroke-width="0.03" >0</text>
<text x="234.83" y="64.20" font-size="4.8" fill="#444" text-anchor="middle" stroke="#444" stroke-width="0.03" >0</text>
<text x="241.28" y="64.20" font-size="4.8" fill="#444" text-anchor="middle" stroke="#444" stroke-width="0.03" >0</text>
<text x="247.73" y="64.20" font-size="4.8" fill="#444" text-anchor="middle" stroke="#444" stroke-width="0.03" >0</text>
<text x="254.18" y="64.20" font-size="4.8" fill="#444" text-anchor="middle" stroke="#444" stroke-width="0.03" >0</text>
<text x="260.62" y="64.20" font-size="4.8" fill="#444" text-anchor="middle" stroke="#444" stroke-width="0.03" >0</text>
<text x="267.07" y="64.20" font-size="4.8" fill="#444" text-anchor="middle" stroke="#444" stroke-width="0.03" >0</text>
<text x="273.52" y="64.20" font-size="4.8" fill="#444" text-anchor="middle" stroke="#444" stroke-width="0.03" >0</text>
<text x="279.98" y="64.20" font-size="4.8" fill="#444" text-anchor="middle" stroke="#444" stroke-width="0.03" >0</text>
<text x="286.43" y="64.20" font-size="4.8" fill="#444" text-anchor="middle" stroke="#444" stroke-width="0.03" >0</text>
<text x="292.88" y="64.20" font-size="4.8" fill="#444" text-anchor="middle" stroke="#444" stroke-width="0.03" >0</text>
<line x1="296.50" y1="60.10" x2="301.35" y2="64.90" stroke="#b0b0b0" stroke-width="0.45" />
<line x1="301.35" y1="60.10" x2="296.50" y2="64.90" stroke="#b0b0b0" stroke-width="0.45" />
<line x1="302.95" y1="60.10" x2="307.80" y2="64.90" stroke="#b0b0b0" stroke-width="0.45" />
<line x1="307.80" y1="60.10" x2="302.95" y2="64.90" stroke="#b0b0b0" stroke-width="0.45" />
<line x1="206.20" y1="66.50" x2="211.05" y2="71.30" stroke="#b0b0b0" stroke-width="0.45" />
<line x1="211.05" y1="66.50" x2="206.20" y2="71.30" stroke="#b0b0b0" stroke-width="0.45" />
<text x="215.47" y="70.60" font-size="4.8" fill="#444" text-anchor="middle" stroke="#444" stroke-width="0.03" >0</text>
<text x="221.93" y="70.60" font-size="4.8" fill="#444" text-anchor="middle" stroke="#444" stroke-width="0.03" >0</text>
<text x="228.38" y="70.60" font-size="4.8" fill="#444" text-anchor="middle" stroke="#444" stroke-width="0.03" >0</text>
<text x="234.83" y="70.60" font-size="4.8" fill="#444" text-anchor="middle" stroke="#444" stroke-width="0.03" >0</text>
<text x="241.28" y="70.60" font-size="4.8" fill="#444" text-anchor="middle" stroke="#444" stroke-width="0.03" >0</text>
<rect x="244.10" y="65.70" width="6.45" height="6.40" fill="#e2aa7b" stroke="none" stroke-width="0" rx="0" />
<text x="247.73" y="70.60" font-size="4.8" fill="#444" text-anchor="middle" stroke="#444" stroke-width="0.03" >2</text>
<rect x="250.55" y="65.70" width="6.45" height="6.40" fill="#e2aa7b" stroke="none" stroke-width="0" rx="0" />
<text x="254.18" y="70.60" font-size="4.8" fill="#444" text-anchor="middle" stroke="#444" stroke-width="0.03" >2</text>
<rect x="257.00" y="65.70" width="6.45" height="6.40" fill="#e2aa7b" stroke="none" stroke-width="0" rx="0" />
<text x="260.62" y="70.60" font-size="4.8" fill="#444" text-anchor="middle" stroke="#444" stroke-width="0.03" >2</text>
<text x="267.07" y="70.60" font-size="4.8" fill="#444" text-anchor="middle" stroke="#444" stroke-width="0.03" >0</text>
<text x="273.52" y="70.60" font-size="4.8" fill="#444" text-anchor="middle" stroke="#444" stroke-width="0.03" >0</text>
<text x="279.98" y="70.60" font-size="4.8" fill="#444" text-anchor="middle" stroke="#444" stroke-width="0.03" >0</text>
<text x="286.43" y="70.60" font-size="4.8" fill="#444" text-anchor="middle" stroke="#444" stroke-width="0.03" >0</text>
<text x="292.88" y="70.60" font-size="4.8" fill="#444" text-anchor="middle" stroke="#444" stroke-width="0.03" >0</text>
<line x1="296.50" y1="66.50" x2="301.35" y2="71.30" stroke="#b0b0b0" stroke-width="0.45" />
<line x1="301.35" y1="66.50" x2="296.50" y2="71.30" stroke="#b0b0b0" stroke-width="0.45" />
<line x1="302.95" y1="66.50" x2="307.80" y2="71.30" stroke="#b0b0b0" stroke-width="0.45" />
<line x1="307.80" y1="66.50" x2="302.95" y2="71.30" stroke="#b0b0b0" stroke-width="0.45" />
<line x1="206.20" y1="72.90" x2="211.05" y2="77.70" stroke="#b0b0b0" stroke-width="0.45" />
<line x1="211.05" y1="72.90" x2="206.20" y2="77.70" stroke="#b0b0b0" stroke-width="0.45" />
<text x="215.47" y="77.00" font-size="4.8" fill="#444" text-anchor="middle" stroke="#444" stroke-width="0.03" >0</text>
<text x="221.93" y="77.00" font-size="4.8" fill="#444" text-anchor="middle" stroke="#444" stroke-width="0.03" >0</text>
<text x="228.38" y="77.00" font-size="4.8" fill="#444" text-anchor="middle" stroke="#444" stroke-width="0.03" >0</text>
<text x="234.83" y="77.00" font-size="4.8" fill="#444" text-anchor="middle" stroke="#444" stroke-width="0.03" >0</text>
<text x="241.28" y="77.00" font-size="4.8" fill="#444" text-anchor="middle" stroke="#444" stroke-width="0.03" >0</text>
<text x="247.73" y="77.00" font-size="4.8" fill="#444" text-anchor="middle" stroke="#444" stroke-width="0.03" >0</text>
<text x="254.18" y="77.00" font-size="4.8" fill="#444" text-anchor="middle" stroke="#444" stroke-width="0.03" >0</text>
<text x="260.62" y="77.00" font-size="4.8" fill="#444" text-anchor="middle" stroke="#444" stroke-width="0.03" >0</text>
<text x="267.07" y="77.00" font-size="4.8" fill="#444" text-anchor="middle" stroke="#444" stroke-width="0.03" >0</text>
<text x="273.52" y="77.00" font-size="4.8" fill="#444" text-anchor="middle" stroke="#444" stroke-width="0.03" >0</text>
<text x="279.98" y="77.00" font-size="4.8" fill="#444" text-anchor="middle" stroke="#444" stroke-width="0.03" >0</text>
<text x="286.43" y="77.00" font-size="4.8" fill="#444" text-anchor="middle" stroke="#444" stroke-width="0.03" >0</text>
<text x="292.88" y="77.00" font-size="4.8" fill="#444" text-anchor="middle" stroke="#444" stroke-width="0.03" >0</text>
<line x1="296.50" y1="72.90" x2="301.35" y2="77.70" stroke="#b0b0b0" stroke-width="0.45" />
<line x1="301.35" y1="72.90" x2="296.50" y2="77.70" stroke="#b0b0b0" stroke-width="0.45" />
<line x1="302.95" y1="72.90" x2="307.80" y2="77.70" stroke="#b0b0b0" stroke-width="0.45" />
<line x1="307.80" y1="72.90" x2="302.95" y2="77.70" stroke="#b0b0b0" stroke-width="0.45" />
<line x1="211.85" y1="46.50" x2="211.85" y2="78.50" stroke="#b4b4b4" stroke-width="0.45" />
<line x1="218.30" y1="46.50" x2="218.30" y2="78.50" stroke="#b4b4b4" stroke-width="0.45" />
<line x1="224.75" y1="46.50" x2="224.75" y2="78.50" stroke="#b4b4b4" stroke-width="0.45" />
<line x1="231.20" y1="46.50" x2="231.20" y2="78.50" stroke="#b4b4b4" stroke-width="0.45" />
<line x1="237.65" y1="46.50" x2="237.65" y2="78.50" stroke="#b4b4b4" stroke-width="0.45" />
<line x1="244.10" y1="46.50" x2="244.10" y2="78.50" stroke="#b4b4b4" stroke-width="0.45" />
<line x1="250.55" y1="46.50" x2="250.55" y2="78.50" stroke="#b4b4b4" stroke-width="0.45" />
<line x1="257.00" y1="46.50" x2="257.00" y2="78.50" stroke="#b4b4b4" stroke-width="0.45" />
<line x1="263.45" y1="46.50" x2="263.45" y2="78.50" stroke="#b4b4b4" stroke-width="0.45" />
<line x1="269.90" y1="46.50" x2="269.90" y2="78.50" stroke="#b4b4b4" stroke-width="0.45" />
<line x1="276.35" y1="46.50" x2="276.35" y2="78.50" stroke="#b4b4b4" stroke-width="0.45" />
<line x1="282.80" y1="46.50" x2="282.80" y2="78.50" stroke="#b4b4b4" stroke-width="0.45" />
<line x1="289.25" y1="46.50" x2="289.25" y2="78.50" stroke="#b4b4b4" stroke-width="0.45" />
<line x1="295.70" y1="46.50" x2="295.70" y2="78.50" stroke="#b4b4b4" stroke-width="0.45" />
<line x1="302.15" y1="46.50" x2="302.15" y2="78.50" stroke="#b4b4b4" stroke-width="0.45" />
<line x1="205.40" y1="52.90" x2="308.60" y2="52.90" stroke="#b4b4b4" stroke-width="0.45" />
<line x1="205.40" y1="59.30" x2="308.60" y2="59.30" stroke="#b4b4b4" stroke-width="0.45" />
<line x1="205.40" y1="65.70" x2="308.60" y2="65.70" stroke="#b4b4b4" stroke-width="0.45" />
<line x1="205.40" y1="72.10" x2="308.60" y2="72.10" stroke="#b4b4b4" stroke-width="0.45" />
<rect x="205.40" y="46.50" width="103.20" height="32.00" fill="none" stroke="#111" stroke-width="1.5" rx="1.2" />
<line x1="206.20" y1="82.80" x2="211.05" y2="87.63" stroke="#b0b0b0" stroke-width="0.45" />
<line x1="211.05" y1="82.80" x2="206.20" y2="87.63" stroke="#b0b0b0" stroke-width="0.45" />
<rect x="211.83" y="81.98" width="6.49" height="6.47" fill="#dab1b1" stroke="none" stroke-width="0" rx="0" />
<rect x="218.28" y="81.98" width="6.49" height="6.47" fill="#f0e0e0" stroke="none" stroke-width="0" rx="0" />
<rect x="224.73" y="81.98" width="6.49" height="6.47" fill="#f0e0e0" stroke="none" stroke-width="0" rx="0" />
<rect x="231.18" y="81.98" width="6.49" height="6.47" fill="#f0e0e0" stroke="none" stroke-width="0" rx="0" />
<rect x="237.63" y="81.98" width="6.49" height="6.47" fill="#f0e0e0" stroke="none" stroke-width="0" rx="0" />
<rect x="244.08" y="81.98" width="6.49" height="6.47" fill="#e6cbcb" stroke="none" stroke-width="0" rx="0" />
<rect x="250.53" y="81.98" width="6.49" height="6.47" fill="#dab1b1" stroke="none" stroke-width="0" rx="0" />
<rect x="256.98" y="81.98" width="6.49" height="6.47" fill="#f0e0e0" stroke="none" stroke-width="0" rx="0" />
<rect x="263.43" y="81.98" width="6.49" height="6.47" fill="#ffffff" stroke="none" stroke-width="0" rx="0" />
<rect x="269.88" y="81.98" width="6.49" height="6.47" fill="#ebf0f9" stroke="none" stroke-width="0" rx="0" />
<rect x="276.33" y="81.98" width="6.49" height="6.47" fill="#ebf0f9" stroke="none" stroke-width="0" rx="0" />
<rect x="282.78" y="81.98" width="6.49" height="6.47" fill="#ebf0f9" stroke="none" stroke-width="0" rx="0" />
<rect x="289.23" y="81.98" width="6.49" height="6.47" fill="#ebf0f9" stroke="none" stroke-width="0" rx="0" />
<line x1="296.50" y1="82.80" x2="301.35" y2="87.63" stroke="#b0b0b0" stroke-width="0.45" />
<line x1="301.35" y1="82.80" x2="296.50" y2="87.63" stroke="#b0b0b0" stroke-width="0.45" />
<line x1="302.95" y1="82.80" x2="307.80" y2="87.63" stroke="#b0b0b0" stroke-width="0.45" />
<line x1="307.80" y1="82.80" x2="302.95" y2="87.63" stroke="#b0b0b0" stroke-width="0.45" />
<line x1="206.20" y1="89.23" x2="211.05" y2="94.07" stroke="#b0b0b0" stroke-width="0.45" />
<line x1="211.05" y1="89.23" x2="206.20" y2="94.07" stroke="#b0b0b0" stroke-width="0.45" />
<rect x="211.83" y="88.41" width="6.49" height="6.47" fill="#ffffff" stroke="none" stroke-width="0" rx="0" />
<rect x="218.28" y="88.41" width="6.49" height="6.47" fill="#ffffff" stroke="none" stroke-width="0" rx="0" />
<rect x="224.73" y="88.41" width="6.49" height="6.47" fill="#ffffff" stroke="none" stroke-width="0" rx="0" />
<rect x="231.18" y="88.41" width="6.49" height="6.47" fill="#ffffff" stroke="none" stroke-width="0" rx="0" />
<rect x="237.63" y="88.41" width="6.49" height="6.47" fill="#ffffff" stroke="none" stroke-width="0" rx="0" />
<rect x="244.08" y="88.41" width="6.49" height="6.47" fill="#ffffff" stroke="none" stroke-width="0" rx="0" />
<rect x="250.53" y="88.41" width="6.49" height="6.47" fill="#ffffff" stroke="none" stroke-width="0" rx="0" />
<rect x="256.98" y="88.41" width="6.49" height="6.47" fill="#ffffff" stroke="none" stroke-width="0" rx="0" />
<rect x="263.43" y="88.41" width="6.49" height="6.47" fill="#ffffff" stroke="none" stroke-width="0" rx="0" />
<rect x="269.88" y="88.41" width="6.49" height="6.47" fill="#ffffff" stroke="none" stroke-width="0" rx="0" />
<rect x="276.33" y="88.41" width="6.49" height="6.47" fill="#ffffff" stroke="none" stroke-width="0" rx="0" />
<rect x="282.78" y="88.41" width="6.49" height="6.47" fill="#ffffff" stroke="none" stroke-width="0" rx="0" />
<rect x="289.23" y="88.41" width="6.49" height="6.47" fill="#ffffff" stroke="none" stroke-width="0" rx="0" />
<line x1="296.50" y1="89.23" x2="301.35" y2="94.07" stroke="#b0b0b0" stroke-width="0.45" />
<line x1="301.35" y1="89.23" x2="296.50" y2="94.07" stroke="#b0b0b0" stroke-width="0.45" />
<line x1="302.95" y1="89.23" x2="307.80" y2="94.07" stroke="#b0b0b0" stroke-width="0.45" />
<line x1="307.80" y1="89.23" x2="302.95" y2="94.07" stroke="#b0b0b0" stroke-width="0.45" />
<rect x="205.38" y="94.85" width="6.49" height="6.47" fill="#d7e2f4" stroke="none" stroke-width="0" rx="0" />
<rect x="211.83" y="94.85" width="6.49" height="6.47" fill="#ffffff" stroke="none" stroke-width="0" rx="0" />
<rect x="218.28" y="94.85" width="6.49" height="6.47" fill="#ebf0f9" stroke="none" stroke-width="0" rx="0" />
<rect x="224.73" y="94.85" width="6.49" height="6.47" fill="#ebf0f9" stroke="none" stroke-width="0" rx="0" />
<rect x="231.18" y="94.85" width="6.49" height="6.47" fill="#ebf0f9" stroke="none" stroke-width="0" rx="0" />
<rect x="237.63" y="94.85" width="6.49" height="6.47" fill="#ebf0f9" stroke="none" stroke-width="0" rx="0" />
<rect x="244.08" y="94.85" width="6.49" height="6.47" fill="#ebf0f9" stroke="none" stroke-width="0" rx="0" />
<rect x="250.53" y="94.85" width="6.49" height="6.47" fill="#ebf0f9" stroke="none" stroke-width="0" rx="0" />
<rect x="256.98" y="94.85" width="6.49" height="6.47" fill="#d7e2f4" stroke="none" stroke-width="0" rx="0" />
<rect x="263.43" y="94.85" width="6.49" height="6.47" fill="#d7e2f4" stroke="none" stroke-width="0" rx="0" />
<rect x="269.88" y="94.85" width="6.49" height="6.47" fill="#d7e2f4" stroke="none" stroke-width="0" rx="0" />
<rect x="276.33" y="94.85" width="6.49" height="6.47" fill="#d7e2f4" stroke="none" stroke-width="0" rx="0" />
<rect x="282.78" y="94.85" width="6.49" height="6.47" fill="#d7e2f4" stroke="none" stroke-width="0" rx="0" />
<rect x="289.23" y="94.85" width="6.49" height="6.47" fill="#d7e2f4" stroke="none" stroke-width="0" rx="0" />
<rect x="295.68" y="94.85" width="6.49" height="6.47" fill="#d7e2f4" stroke="none" stroke-width="0" rx="0" />
<rect x="302.13" y="94.85" width="6.49" height="6.47" fill="#d7e2f4" stroke="none" stroke-width="0" rx="0" />
<rect x="205.38" y="101.28" width="6.49" height="6.47" fill="#d7e2f4" stroke="none" stroke-width="0" rx="0" />
<rect x="211.83" y="101.28" width="6.49" height="6.47" fill="#ffffff" stroke="none" stroke-width="0" rx="0" />
<rect x="218.28" y="101.28" width="6.49" height="6.47" fill="#f5f8fc" stroke="none" stroke-width="0" rx="0" />
<rect x="224.73" y="101.28" width="6.49" height="6.47" fill="#e6cbcb" stroke="none" stroke-width="0" rx="0" />
<rect x="231.18" y="101.28" width="6.49" height="6.47" fill="#e6cbcb" stroke="none" stroke-width="0" rx="0" />
<rect x="237.63" y="101.28" width="6.49" height="6.47" fill="#ffffff" stroke="none" stroke-width="0" rx="0" />
<rect x="244.08" y="101.28" width="6.49" height="6.47" fill="#f5f8fc" stroke="none" stroke-width="0" rx="0" />
<rect x="250.53" y="101.28" width="6.49" height="6.47" fill="#ffffff" stroke="none" stroke-width="0" rx="0" />
<rect x="256.98" y="101.28" width="6.49" height="6.47" fill="#f0e0e0" stroke="none" stroke-width="0" rx="0" />
<rect x="263.43" y="101.28" width="6.49" height="6.47" fill="#f0e0e0" stroke="none" stroke-width="0" rx="0" />
<rect x="269.88" y="101.28" width="6.49" height="6.47" fill="#f0e0e0" stroke="none" stroke-width="0" rx="0" />
<rect x="276.33" y="101.28" width="6.49" height="6.47" fill="#ebf0f9" stroke="none" stroke-width="0" rx="0" />
<rect x="282.78" y="101.28" width="6.49" height="6.47" fill="#f0e0e0" stroke="none" stroke-width="0" rx="0" />
<rect x="289.23" y="101.28" width="6.49" height="6.47" fill="#ffffff" stroke="none" stroke-width="0" rx="0" />
<rect x="295.68" y="101.28" width="6.49" height="6.47" fill="#f5f8fc" stroke="none" stroke-width="0" rx="0" />
<rect x="302.13" y="101.28" width="6.49" height="6.47" fill="#ebf0f9" stroke="none" stroke-width="0" rx="0" />
<rect x="205.38" y="107.71" width="6.49" height="6.47" fill="#d7e2f4" stroke="none" stroke-width="0" rx="0" />
<rect x="211.83" y="107.71" width="6.49" height="6.47" fill="#ffffff" stroke="none" stroke-width="0" rx="0" />
<rect x="218.28" y="107.71" width="6.49" height="6.47" fill="#ebf0f9" stroke="none" stroke-width="0" rx="0" />
<rect x="224.73" y="107.71" width="6.49" height="6.47" fill="#ebf0f9" stroke="none" stroke-width="0" rx="0" />
<rect x="231.18" y="107.71" width="6.49" height="6.47" fill="#ebf0f9" stroke="none" stroke-width="0" rx="0" />
<rect x="237.63" y="107.71" width="6.49" height="6.47" fill="#ebf0f9" stroke="none" stroke-width="0" rx="0" />
<rect x="244.08" y="107.71" width="6.49" height="6.47" fill="#f5f8fc" stroke="none" stroke-width="0" rx="0" />
<rect x="250.53" y="107.71" width="6.49" height="6.47" fill="#ffffff" stroke="none" stroke-width="0" rx="0" />
<rect x="256.98" y="107.71" width="6.49" height="6.47" fill="#d7e2f4" stroke="none" stroke-width="0" rx="0" />
<rect x="263.43" y="107.71" width="6.49" height="6.47" fill="#d7e2f4" stroke="none" stroke-width="0" rx="0" />
<rect x="269.88" y="107.71" width="6.49" height="6.47" fill="#d7e2f4" stroke="none" stroke-width="0" rx="0" />
<rect x="276.33" y="107.71" width="6.49" height="6.47" fill="#d7e2f4" stroke="none" stroke-width="0" rx="0" />
<rect x="282.78" y="107.71" width="6.49" height="6.47" fill="#d7e2f4" stroke="none" stroke-width="0" rx="0" />
<rect x="289.23" y="107.71" width="6.49" height="6.47" fill="#ebf0f9" stroke="none" stroke-width="0" rx="0" />
<rect x="295.68" y="107.71" width="6.49" height="6.47" fill="#d7e2f4" stroke="none" stroke-width="0" rx="0" />
<rect x="302.13" y="107.71" width="6.49" height="6.47" fill="#d7e2f4" stroke="none" stroke-width="0" rx="0" />
<rect x="205.38" y="114.15" width="6.49" height="6.47" fill="#ebf0f9" stroke="none" stroke-width="0" rx="0" />
<rect x="211.83" y="114.15" width="6.49" height="6.47" fill="#ffffff" stroke="none" stroke-width="0" rx="0" />
<rect x="218.28" y="114.15" width="6.49" height="6.47" fill="#ffffff" stroke="none" stroke-width="0" rx="0" />
<rect x="224.73" y="114.15" width="6.49" height="6.47" fill="#ffffff" stroke="none" stroke-width="0" rx="0" />
<rect x="231.18" y="114.15" width="6.49" height="6.47" fill="#ffffff" stroke="none" stroke-width="0" rx="0" />
<rect x="237.63" y="114.15" width="6.49" height="6.47" fill="#ffffff" stroke="none" stroke-width="0" rx="0" />
<rect x="244.08" y="114.15" width="6.49" height="6.47" fill="#ffffff" stroke="none" stroke-width="0" rx="0" />
<rect x="250.53" y="114.15" width="6.49" height="6.47" fill="#ffffff" stroke="none" stroke-width="0" rx="0" />
<rect x="256.98" y="114.15" width="6.49" height="6.47" fill="#f5f8fc" stroke="none" stroke-width="0" rx="0" />
<rect x="263.43" y="114.15" width="6.49" height="6.47" fill="#f5f8fc" stroke="none" stroke-width="0" rx="0" />
<rect x="269.88" y="114.15" width="6.49" height="6.47" fill="#f5f8fc" stroke="none" stroke-width="0" rx="0" />
<rect x="276.33" y="114.15" width="6.49" height="6.47" fill="#f5f8fc" stroke="none" stroke-width="0" rx="0" />
<rect x="282.78" y="114.15" width="6.49" height="6.47" fill="#f5f8fc" stroke="none" stroke-width="0" rx="0" />
<rect x="289.23" y="114.15" width="6.49" height="6.47" fill="#ffffff" stroke="none" stroke-width="0" rx="0" />
<rect x="295.68" y="114.15" width="6.49" height="6.47" fill="#f5f8fc" stroke="none" stroke-width="0" rx="0" />
<rect x="302.13" y="114.15" width="6.49" height="6.47" fill="#f5f8fc" stroke="none" stroke-width="0" rx="0" />
<rect x="205.38" y="120.58" width="6.49" height="6.47" fill="#d7e2f4" stroke="none" stroke-width="0" rx="0" />
<rect x="211.83" y="120.58" width="6.49" height="6.47" fill="#ffffff" stroke="none" stroke-width="0" rx="0" />
<rect x="218.28" y="120.58" width="6.49" height="6.47" fill="#ebf0f9" stroke="none" stroke-width="0" rx="0" />
<rect x="224.73" y="120.58" width="6.49" height="6.47" fill="#ffffff" stroke="none" stroke-width="0" rx="0" />
<rect x="231.18" y="120.58" width="6.49" height="6.47" fill="#ffffff" stroke="none" stroke-width="0" rx="0" />
<rect x="237.63" y="120.58" width="6.49" height="6.47" fill="#f5f8fc" stroke="none" stroke-width="0" rx="0" />
<rect x="244.08" y="120.58" width="6.49" height="6.47" fill="#ebf0f9" stroke="none" stroke-width="0" rx="0" />
<rect x="250.53" y="120.58" width="6.49" height="6.47" fill="#ffffff" stroke="none" stroke-width="0" rx="0" />
<rect x="256.98" y="120.58" width="6.49" height="6.47" fill="#ebf0f9" stroke="none" stroke-width="0" rx="0" />
<rect x="263.43" y="120.58" width="6.49" height="6.47" fill="#ebf0f9" stroke="none" stroke-width="0" rx="0" />
<rect x="269.88" y="120.58" width="6.49" height="6.47" fill="#ebf0f9" stroke="none" stroke-width="0" rx="0" />
<rect x="276.33" y="120.58" width="6.49" height="6.47" fill="#ebf0f9" stroke="none" stroke-width="0" rx="0" />
<rect x="282.78" y="120.58" width="6.49" height="6.47" fill="#ebf0f9" stroke="none" stroke-width="0" rx="0" />
<rect x="289.23" y="120.58" width="6.49" height="6.47" fill="#ebf0f9" stroke="none" stroke-width="0" rx="0" />
<rect x="295.68" y="120.58" width="6.49" height="6.47" fill="#ebf0f9" stroke="none" stroke-width="0" rx="0" />
<rect x="302.13" y="120.58" width="6.49" height="6.47" fill="#ebf0f9" stroke="none" stroke-width="0" rx="0" />
<rect x="205.38" y="127.01" width="6.49" height="6.47" fill="#d7e2f4" stroke="none" stroke-width="0" rx="0" />
<rect x="211.83" y="127.01" width="6.49" height="6.47" fill="#ebf0f9" stroke="none" stroke-width="0" rx="0" />
<rect x="218.28" y="127.01" width="6.49" height="6.47" fill="#ebf0f9" stroke="none" stroke-width="0" rx="0" />
<rect x="224.73" y="127.01" width="6.49" height="6.47" fill="#d7e2f4" stroke="none" stroke-width="0" rx="0" />
<rect x="231.18" y="127.01" width="6.49" height="6.47" fill="#d7e2f4" stroke="none" stroke-width="0" rx="0" />
<rect x="237.63" y="127.01" width="6.49" height="6.47" fill="#d7e2f4" stroke="none" stroke-width="0" rx="0" />
<rect x="244.08" y="127.01" width="6.49" height="6.47" fill="#d7e2f4" stroke="none" stroke-width="0" rx="0" />
<rect x="250.53" y="127.01" width="6.49" height="6.47" fill="#d7e2f4" stroke="none" stroke-width="0" rx="0" />
<rect x="256.98" y="127.01" width="6.49" height="6.47" fill="#d7e2f4" stroke="none" stroke-width="0" rx="0" />
<rect x="263.43" y="127.01" width="6.49" height="6.47" fill="#d7e2f4" stroke="none" stroke-width="0" rx="0" />
<rect x="269.88" y="127.01" width="6.49" height="6.47" fill="#d7e2f4" stroke="none" stroke-width="0" rx="0" />
<rect x="276.33" y="127.01" width="6.49" height="6.47" fill="#d7e2f4" stroke="none" stroke-width="0" rx="0" />
<rect x="282.78" y="127.01" width="6.49" height="6.47" fill="#d7e2f4" stroke="none" stroke-width="0" rx="0" />
<rect x="289.23" y="127.01" width="6.49" height="6.47" fill="#d7e2f4" stroke="none" stroke-width="0" rx="0" />
<rect x="295.68" y="127.01" width="6.49" height="6.47" fill="#d7e2f4" stroke="none" stroke-width="0" rx="0" />
<rect x="302.13" y="127.01" width="6.49" height="6.47" fill="#d7e2f4" stroke="none" stroke-width="0" rx="0" />
<rect x="205.38" y="133.45" width="6.49" height="6.47" fill="#d7e2f4" stroke="none" stroke-width="0" rx="0" />
<rect x="211.83" y="133.45" width="6.49" height="6.47" fill="#ebf0f9" stroke="none" stroke-width="0" rx="0" />
<rect x="218.28" y="133.45" width="6.49" height="6.47" fill="#ffffff" stroke="none" stroke-width="0" rx="0" />
<rect x="224.73" y="133.45" width="6.49" height="6.47" fill="#d7e2f4" stroke="none" stroke-width="0" rx="0" />
<rect x="231.18" y="133.45" width="6.49" height="6.47" fill="#ebf0f9" stroke="none" stroke-width="0" rx="0" />
<rect x="237.63" y="133.45" width="6.49" height="6.47" fill="#ebf0f9" stroke="none" stroke-width="0" rx="0" />
<rect x="244.08" y="133.45" width="6.49" height="6.47" fill="#ebf0f9" stroke="none" stroke-width="0" rx="0" />
<rect x="250.53" y="133.45" width="6.49" height="6.47" fill="#ebf0f9" stroke="none" stroke-width="0" rx="0" />
<rect x="256.98" y="133.45" width="6.49" height="6.47" fill="#d7e2f4" stroke="none" stroke-width="0" rx="0" />
<rect x="263.43" y="133.45" width="6.49" height="6.47" fill="#d7e2f4" stroke="none" stroke-width="0" rx="0" />
<rect x="269.88" y="133.45" width="6.49" height="6.47" fill="#d7e2f4" stroke="none" stroke-width="0" rx="0" />
<rect x="276.33" y="133.45" width="6.49" height="6.47" fill="#d7e2f4" stroke="none" stroke-width="0" rx="0" />
<rect x="282.78" y="133.45" width="6.49" height="6.47" fill="#d7e2f4" stroke="none" stroke-width="0" rx="0" />
<rect x="289.23" y="133.45" width="6.49" height="6.47" fill="#d7e2f4" stroke="none" stroke-width="0" rx="0" />
<rect x="295.68" y="133.45" width="6.49" height="6.47" fill="#d7e2f4" stroke="none" stroke-width="0" rx="0" />
<rect x="302.13" y="133.45" width="6.49" height="6.47" fill="#d7e2f4" stroke="none" stroke-width="0" rx="0" />
<rect x="205.38" y="139.88" width="6.49" height="6.47" fill="#ebf0f9" stroke="none" stroke-width="0" rx="0" />
<rect x="211.83" y="139.88" width="6.49" height="6.47" fill="#dab1b1" stroke="none" stroke-width="0" rx="0" />
<rect x="218.28" y="139.88" width="6.49" height="6.47" fill="#dab1b1" stroke="none" stroke-width="0" rx="0" />
<rect x="224.73" y="139.88" width="6.49" height="6.47" fill="#f0e0e0" stroke="none" stroke-width="0" rx="0" />
<rect x="231.18" y="139.88" width="6.49" height="6.47" fill="#ffffff" stroke="none" stroke-width="0" rx="0" />
<rect x="237.63" y="139.88" width="6.49" height="6.47" fill="#ffffff" stroke="none" stroke-width="0" rx="0" />
<rect x="244.08" y="139.88" width="6.49" height="6.47" fill="#dab1b1" stroke="none" stroke-width="0" rx="0" />
<rect x="250.53" y="139.88" width="6.49" height="6.47" fill="#ffffff" stroke="none" stroke-width="0" rx="0" />
<rect x="256.98" y="139.88" width="6.49" height="6.47" fill="#ffffff" stroke="none" stroke-width="0" rx="0" />
<rect x="263.43" y="139.88" width="6.49" height="6.47" fill="#ffffff" stroke="none" stroke-width="0" rx="0" />
<rect x="269.88" y="139.88" width="6.49" height="6.47" fill="#ebf0f9" stroke="none" stroke-width="0" rx="0" />
<rect x="276.33" y="139.88" width="6.49" height="6.47" fill="#ebf0f9" stroke="none" stroke-width="0" rx="0" />
<rect x="282.78" y="139.88" width="6.49" height="6.47" fill="#ebf0f9" stroke="none" stroke-width="0" rx="0" />
<rect x="289.23" y="139.88" width="6.49" height="6.47" fill="#ffffff" stroke="none" stroke-width="0" rx="0" />
<rect x="295.68" y="139.88" width="6.49" height="6.47" fill="#ebf0f9" stroke="none" stroke-width="0" rx="0" />
<rect x="302.13" y="139.88" width="6.49" height="6.47" fill="#ebf0f9" stroke="none" stroke-width="0" rx="0" />
<rect x="205.38" y="146.31" width="6.49" height="6.47" fill="#d7e2f4" stroke="none" stroke-width="0" rx="0" />
<rect x="211.83" y="146.31" width="6.49" height="6.47" fill="#ffffff" stroke="none" stroke-width="0" rx="0" />
<rect x="218.28" y="146.31" width="6.49" height="6.47" fill="#ffffff" stroke="none" stroke-width="0" rx="0" />
<rect x="224.73" y="146.31" width="6.49" height="6.47" fill="#d7e2f4" stroke="none" stroke-width="0" rx="0" />
<rect x="231.18" y="146.31" width="6.49" height="6.47" fill="#ebf0f9" stroke="none" stroke-width="0" rx="0" />
<rect x="237.63" y="146.31" width="6.49" height="6.47" fill="#ebf0f9" stroke="none" stroke-width="0" rx="0" />
<rect x="244.08" y="146.31" width="6.49" height="6.47" fill="#ebf0f9" stroke="none" stroke-width="0" rx="0" />
<rect x="250.53" y="146.31" width="6.49" height="6.47" fill="#ebf0f9" stroke="none" stroke-width="0" rx="0" />
<rect x="256.98" y="146.31" width="6.49" height="6.47" fill="#d7e2f4" stroke="none" stroke-width="0" rx="0" />
<rect x="263.43" y="146.31" width="6.49" height="6.47" fill="#d7e2f4" stroke="none" stroke-width="0" rx="0" />
<rect x="269.88" y="146.31" width="6.49" height="6.47" fill="#d7e2f4" stroke="none" stroke-width="0" rx="0" />
<rect x="276.33" y="146.31" width="6.49" height="6.47" fill="#d7e2f4" stroke="none" stroke-width="0" rx="0" />
<rect x="282.78" y="146.31" width="6.49" height="6.47" fill="#d7e2f4" stroke="none" stroke-width="0" rx="0" />
<rect x="289.23" y="146.31" width="6.49" height="6.47" fill="#d7e2f4" stroke="none" stroke-width="0" rx="0" />
<rect x="295.68" y="146.31" width="6.49" height="6.47" fill="#d7e2f4" stroke="none" stroke-width="0" rx="0" />
<rect x="302.13" y="146.31" width="6.49" height="6.47" fill="#d7e2f4" stroke="none" stroke-width="0" rx="0" />
<rect x="205.38" y="152.75" width="6.49" height="6.47" fill="#c3d3ee" stroke="none" stroke-width="0" rx="0" />
<rect x="211.83" y="152.75" width="6.49" height="6.47" fill="#ffffff" stroke="none" stroke-width="0" rx="0" />
<rect x="218.28" y="152.75" width="6.49" height="6.47" fill="#ffffff" stroke="none" stroke-width="0" rx="0" />
<rect x="224.73" y="152.75" width="6.49" height="6.47" fill="#ebf0f9" stroke="none" stroke-width="0" rx="0" />
<rect x="231.18" y="152.75" width="6.49" height="6.47" fill="#ebf0f9" stroke="none" stroke-width="0" rx="0" />
<rect x="237.63" y="152.75" width="6.49" height="6.47" fill="#ebf0f9" stroke="none" stroke-width="0" rx="0" />
<rect x="244.08" y="152.75" width="6.49" height="6.47" fill="#ebf0f9" stroke="none" stroke-width="0" rx="0" />
<rect x="250.53" y="152.75" width="6.49" height="6.47" fill="#ffffff" stroke="none" stroke-width="0" rx="0" />
<rect x="256.98" y="152.75" width="6.49" height="6.47" fill="#ebf0f9" stroke="none" stroke-width="0" rx="0" />
<rect x="263.43" y="152.75" width="6.49" height="6.47" fill="#ebf0f9" stroke="none" stroke-width="0" rx="0" />
<rect x="269.88" y="152.75" width="6.49" height="6.47" fill="#ebf0f9" stroke="none" stroke-width="0" rx="0" />
<rect x="276.33" y="152.75" width="6.49" height="6.47" fill="#ebf0f9" stroke="none" stroke-width="0" rx="0" />
<rect x="282.78" y="152.75" width="6.49" height="6.47" fill="#ebf0f9" stroke="none" stroke-width="0" rx="0" />
<rect x="289.23" y="152.75" width="6.49" height="6.47" fill="#ebf0f9" stroke="none" stroke-width="0" rx="0" />
<rect x="295.68" y="152.75" width="6.49" height="6.47" fill="#ebf0f9" stroke="none" stroke-width="0" rx="0" />
<rect x="302.13" y="152.75" width="6.49" height="6.47" fill="#ebf0f9" stroke="none" stroke-width="0" rx="0" />
<line x1="211.85" y1="82.00" x2="211.85" y2="159.20" stroke="#949494" stroke-width="0.45" />
<line x1="218.30" y1="82.00" x2="218.30" y2="159.20" stroke="#949494" stroke-width="0.45" />
<line x1="224.75" y1="82.00" x2="224.75" y2="159.20" stroke="#949494" stroke-width="0.45" />
<line x1="231.20" y1="82.00" x2="231.20" y2="159.20" stroke="#949494" stroke-width="0.45" />
<line x1="237.65" y1="82.00" x2="237.65" y2="159.20" stroke="#949494" stroke-width="0.45" />
<line x1="244.10" y1="82.00" x2="244.10" y2="159.20" stroke="#949494" stroke-width="0.45" />
<line x1="250.55" y1="82.00" x2="250.55" y2="159.20" stroke="#949494" stroke-width="0.45" />
<line x1="257.00" y1="82.00" x2="257.00" y2="159.20" stroke="#949494" stroke-width="0.45" />
<line x1="263.45" y1="82.00" x2="263.45" y2="159.20" stroke="#949494" stroke-width="0.45" />
<line x1="269.90" y1="82.00" x2="269.90" y2="159.20" stroke="#949494" stroke-width="0.45" />
<line x1="276.35" y1="82.00" x2="276.35" y2="159.20" stroke="#949494" stroke-width="0.45" />
<line x1="282.80" y1="82.00" x2="282.80" y2="159.20" stroke="#949494" stroke-width="0.45" />
<line x1="289.25" y1="82.00" x2="289.25" y2="159.20" stroke="#949494" stroke-width="0.45" />
<line x1="295.70" y1="82.00" x2="295.70" y2="159.20" stroke="#949494" stroke-width="0.45" />
<line x1="302.15" y1="82.00" x2="302.15" y2="159.20" stroke="#949494" stroke-width="0.45" />
<line x1="205.40" y1="88.43" x2="308.60" y2="88.43" stroke="#949494" stroke-width="0.45" />
<line x1="205.40" y1="94.87" x2="308.60" y2="94.87" stroke="#949494" stroke-width="0.45" />
<line x1="205.40" y1="101.30" x2="308.60" y2="101.30" stroke="#949494" stroke-width="0.45" />
<line x1="205.40" y1="107.73" x2="308.60" y2="107.73" stroke="#949494" stroke-width="0.45" />
<line x1="205.40" y1="114.17" x2="308.60" y2="114.17" stroke="#949494" stroke-width="0.45" />
<line x1="205.40" y1="120.60" x2="308.60" y2="120.60" stroke="#949494" stroke-width="0.45" />
<line x1="205.40" y1="127.03" x2="308.60" y2="127.03" stroke="#949494" stroke-width="0.45" />
<line x1="205.40" y1="133.47" x2="308.60" y2="133.47" stroke="#949494" stroke-width="0.45" />
<line x1="205.40" y1="139.90" x2="308.60" y2="139.90" stroke="#949494" stroke-width="0.45" />
<line x1="205.40" y1="146.33" x2="308.60" y2="146.33" stroke="#949494" stroke-width="0.45" />
<line x1="205.40" y1="152.77" x2="308.60" y2="152.77" stroke="#949494" stroke-width="0.45" />
<line x1="205.40" y1="94.87" x2="308.60" y2="94.87" stroke="#555" stroke-width="0.6" />
<line x1="244.10" y1="82.00" x2="244.10" y2="159.20" stroke="#444" stroke-width="0.6" />
<rect x="205.40" y="82.00" width="103.20" height="77.20" fill="none" stroke="#111" stroke-width="1.5" rx="1.2" />
<line x1="208.62" y1="160.00" x2="208.62" y2="162.20" stroke="#111" stroke-width="0.8" />
<text x="208.62" y="170.80" font-size="5.8" fill="#222" text-anchor="middle" stroke="#222" stroke-width="0.04" textLength="6.45" lengthAdjust="spacingAndGlyphs" >-6</text>
<line x1="215.07" y1="160.00" x2="215.07" y2="162.20" stroke="#111" stroke-width="0.8" />
<text x="215.07" y="170.80" font-size="5.8" fill="#222" text-anchor="middle" stroke="#222" stroke-width="0.04" >0</text>
<line x1="221.53" y1="160.00" x2="221.53" y2="162.20" stroke="#111" stroke-width="0.8" />
<text x="221.53" y="170.80" font-size="5.8" fill="#222" text-anchor="middle" stroke="#222" stroke-width="0.04" >1</text>
<line x1="227.97" y1="160.00" x2="227.97" y2="162.20" stroke="#111" stroke-width="0.8" />
<text x="227.97" y="170.80" font-size="5.8" fill="#222" text-anchor="middle" stroke="#222" stroke-width="0.04" >2</text>
<line x1="234.43" y1="160.00" x2="234.43" y2="162.20" stroke="#111" stroke-width="0.8" />
<text x="234.43" y="170.80" font-size="5.8" fill="#222" text-anchor="middle" stroke="#222" stroke-width="0.04" >4</text>
<line x1="240.88" y1="160.00" x2="240.88" y2="162.20" stroke="#111" stroke-width="0.8" />
<text x="240.88" y="170.80" font-size="5.8" fill="#222" text-anchor="middle" stroke="#222" stroke-width="0.04" >7</text>
<line x1="247.33" y1="160.00" x2="247.33" y2="162.20" stroke="#111" stroke-width="0.8" />
<text x="247.33" y="170.80" font-size="5.8" fill="#222" text-anchor="middle" stroke="#222" stroke-width="0.04" >8</text>
<line x1="253.78" y1="160.00" x2="253.78" y2="162.20" stroke="#111" stroke-width="0.8" />
<text x="253.78" y="170.80" font-size="5.8" fill="#222" text-anchor="middle" stroke="#222" stroke-width="0.04" >9</text>
<line x1="260.23" y1="160.00" x2="260.23" y2="162.20" stroke="#111" stroke-width="0.8" />
<text x="260.23" y="170.80" font-size="5.8" fill="#222" text-anchor="middle" stroke="#222" stroke-width="0.04" textLength="6.45" lengthAdjust="spacingAndGlyphs" >10</text>
<line x1="266.68" y1="160.00" x2="266.68" y2="162.20" stroke="#111" stroke-width="0.8" />
<text x="266.68" y="170.80" font-size="5.8" fill="#222" text-anchor="middle" stroke="#222" stroke-width="0.04" textLength="6.45" lengthAdjust="spacingAndGlyphs" >11</text>
<line x1="273.12" y1="160.00" x2="273.12" y2="162.20" stroke="#111" stroke-width="0.8" />
<text x="273.12" y="170.80" font-size="5.8" fill="#222" text-anchor="middle" stroke="#222" stroke-width="0.04" textLength="6.45" lengthAdjust="spacingAndGlyphs" >14</text>
<line x1="279.58" y1="160.00" x2="279.58" y2="162.20" stroke="#111" stroke-width="0.8" />
<text x="279.58" y="170.80" font-size="5.8" fill="#222" text-anchor="middle" stroke="#222" stroke-width="0.04" textLength="6.45" lengthAdjust="spacingAndGlyphs" >15</text>
<line x1="286.03" y1="160.00" x2="286.03" y2="162.20" stroke="#111" stroke-width="0.8" />
<text x="286.03" y="170.80" font-size="5.8" fill="#222" text-anchor="middle" stroke="#222" stroke-width="0.04" textLength="6.45" lengthAdjust="spacingAndGlyphs" >16</text>
<line x1="292.48" y1="160.00" x2="292.48" y2="162.20" stroke="#111" stroke-width="0.8" />
<text x="292.48" y="170.80" font-size="5.8" fill="#222" text-anchor="middle" stroke="#222" stroke-width="0.04" textLength="6.45" lengthAdjust="spacingAndGlyphs" >17</text>
<line x1="298.93" y1="160.00" x2="298.93" y2="162.20" stroke="#111" stroke-width="0.8" />
<text x="298.93" y="170.80" font-size="5.8" fill="#222" text-anchor="middle" stroke="#222" stroke-width="0.04" textLength="6.45" lengthAdjust="spacingAndGlyphs" >29</text>
<line x1="305.38" y1="160.00" x2="305.38" y2="162.20" stroke="#111" stroke-width="0.8" />
<text x="305.38" y="170.80" font-size="5.8" fill="#222" text-anchor="middle" stroke="#222" stroke-width="0.04" textLength="6.45" lengthAdjust="spacingAndGlyphs" >38</text>
<text x="257.00" y="41.20" font-size="7.7" fill="#222" text-anchor="middle" stroke="#222" stroke-width="0.06" textLength="34.0" lengthAdjust="spacingAndGlyphs" >Patient 08</text>
<text x="257.00" y="180.20" font-size="7.6" fill="#222" text-anchor="middle" stroke="#222" stroke-width="0.06" textLength="27.7" lengthAdjust="spacingAndGlyphs" >Time (day)</text>
<line x1="202.00" y1="49.70" x2="204.90" y2="49.70" stroke="#222" stroke-width="1.0" />
<text x="198.80" y="51.70" font-size="5.6" fill="#222" text-anchor="end" stroke="#222" stroke-width="0.05" >CRS</text>
<line x1="202.00" y1="56.10" x2="204.90" y2="56.10" stroke="#222" stroke-width="1.0" />
<text x="198.80" y="58.10" font-size="5.6" fill="#222" text-anchor="end" stroke="#222" stroke-width="0.05" >CRES</text>
<line x1="202.00" y1="62.50" x2="204.90" y2="62.50" stroke="#222" stroke-width="1.0" />
<text x="198.80" y="64.50" font-size="5.6" fill="#222" text-anchor="end" stroke="#222" stroke-width="0.05" >Fever</text>
<line x1="202.00" y1="68.90" x2="204.90" y2="68.90" stroke="#222" stroke-width="1.0" />
<text x="198.80" y="70.90" font-size="5.6" fill="#222" text-anchor="end" stroke="#222" stroke-width="0.05" >Hypotension</text>
<line x1="202.00" y1="75.30" x2="204.90" y2="75.30" stroke="#222" stroke-width="1.0" />
<text x="198.80" y="77.30" font-size="5.6" fill="#222" text-anchor="end" stroke="#222" stroke-width="0.05" >Hypoxia</text>
<line x1="202.00" y1="85.22" x2="204.90" y2="85.22" stroke="#222" stroke-width="1.0" />
<text x="198.80" y="87.22" font-size="5.6" fill="#222" text-anchor="end" stroke="#222" stroke-width="0.05" >CRP</text>
<line x1="202.00" y1="91.65" x2="204.90" y2="91.65" stroke="#222" stroke-width="1.0" />
<text x="198.80" y="93.65" font-size="5.6" fill="#222" text-anchor="end" stroke="#222" stroke-width="0.05" >Ferritin</text>
<line x1="202.00" y1="98.08" x2="204.90" y2="98.08" stroke="#222" stroke-width="1.0" />
<text x="198.80" y="100.08" font-size="5.6" fill="#222" text-anchor="end" stroke="#222" stroke-width="0.05" >IL-1β</text>
<line x1="202.00" y1="104.52" x2="204.90" y2="104.52" stroke="#222" stroke-width="1.0" />
<text x="198.80" y="106.52" font-size="5.6" fill="#222" text-anchor="end" stroke="#222" stroke-width="0.05" >TNF-α</text>
<line x1="202.00" y1="110.95" x2="204.90" y2="110.95" stroke="#222" stroke-width="1.0" />
<text x="198.80" y="112.95" font-size="5.6" fill="#222" text-anchor="end" stroke="#222" stroke-width="0.05" >IL-10</text>
<line x1="202.00" y1="117.38" x2="204.90" y2="117.38" stroke="#222" stroke-width="1.0" />
<text x="198.80" y="119.38" font-size="5.6" fill="#222" text-anchor="end" stroke="#222" stroke-width="0.05" >IL-6</text>
<line x1="202.00" y1="123.82" x2="204.90" y2="123.82" stroke="#222" stroke-width="1.0" />
<text x="198.80" y="125.82" font-size="5.6" fill="#222" text-anchor="end" stroke="#222" stroke-width="0.05" >IL-12</text>
<line x1="202.00" y1="130.25" x2="204.90" y2="130.25" stroke="#222" stroke-width="1.0" />
<text x="198.80" y="132.25" font-size="5.6" fill="#222" text-anchor="end" stroke="#222" stroke-width="0.05" >MCP-1</text>
<line x1="202.00" y1="136.68" x2="204.90" y2="136.68" stroke="#222" stroke-width="1.0" />
<text x="198.80" y="138.68" font-size="5.6" fill="#222" text-anchor="end" stroke="#222" stroke-width="0.05" >IFN-γ</text>
<line x1="202.00" y1="143.12" x2="204.90" y2="143.12" stroke="#222" stroke-width="1.0" />
<text x="198.80" y="145.12" font-size="5.6" fill="#222" text-anchor="end" stroke="#222" stroke-width="0.05" >IL-2</text>
<line x1="202.00" y1="149.55" x2="204.90" y2="149.55" stroke="#222" stroke-width="1.0" />
<text x="198.80" y="151.55" font-size="5.6" fill="#222" text-anchor="end" stroke="#222" stroke-width="0.05" >IL-8</text>
<line x1="202.00" y1="155.98" x2="204.90" y2="155.98" stroke="#222" stroke-width="1.0" />
<text x="198.80" y="157.98" font-size="5.6" fill="#222" text-anchor="end" stroke="#222" stroke-width="0.05" >IL-17A</text>
<path d="M168.00,47.20 H164.40 V92.15 H168.00" fill="none" stroke="#222" stroke-width="1.4"/>
<path d="M168.00,96.88 H164.40 V156.48 H168.00" fill="none" stroke="#222" stroke-width="1.4"/>
<rect x="365.30" y="47.00" width="6.47" height="6.44" fill="#f5dcc7" stroke="none" stroke-width="0" rx="0" />
<text x="368.94" y="51.92" font-size="4.8" fill="#444" text-anchor="middle" stroke="#444" stroke-width="0.03" >1</text>
<rect x="371.77" y="47.00" width="6.47" height="6.44" fill="#f5dcc7" stroke="none" stroke-width="0" rx="0" />
<text x="375.41" y="51.92" font-size="4.8" fill="#444" text-anchor="middle" stroke="#444" stroke-width="0.03" >1</text>
<rect x="378.24" y="47.00" width="6.47" height="6.44" fill="#e2aa7b" stroke="none" stroke-width="0" rx="0" />
<text x="381.88" y="51.92" font-size="4.8" fill="#444" text-anchor="middle" stroke="#444" stroke-width="0.03" >2</text>
<rect x="384.71" y="47.00" width="6.47" height="6.44" fill="#e2aa7b" stroke="none" stroke-width="0" rx="0" />
<text x="388.35" y="51.92" font-size="4.8" fill="#444" text-anchor="middle" stroke="#444" stroke-width="0.03" >2</text>
<rect x="391.18" y="47.00" width="6.47" height="6.44" fill="#f5dcc7" stroke="none" stroke-width="0" rx="0" />
<text x="394.81" y="51.92" font-size="4.8" fill="#444" text-anchor="middle" stroke="#444" stroke-width="0.03" >1</text>
<rect x="397.65" y="47.00" width="6.47" height="6.44" fill="#f5dcc7" stroke="none" stroke-width="0" rx="0" />
<text x="401.29" y="51.92" font-size="4.8" fill="#444" text-anchor="middle" stroke="#444" stroke-width="0.03" >1</text>
<rect x="404.12" y="47.00" width="6.47" height="6.44" fill="#f5dcc7" stroke="none" stroke-width="0" rx="0" />
<text x="407.75" y="51.92" font-size="4.8" fill="#444" text-anchor="middle" stroke="#444" stroke-width="0.03" >1</text>
<text x="414.23" y="51.92" font-size="4.8" fill="#444" text-anchor="middle" stroke="#444" stroke-width="0.03" >0</text>
<text x="420.69" y="51.92" font-size="4.8" fill="#444" text-anchor="middle" stroke="#444" stroke-width="0.03" >0</text>
<text x="368.94" y="58.36" font-size="4.8" fill="#444" text-anchor="middle" stroke="#444" stroke-width="0.03" >0</text>
<text x="375.41" y="58.36" font-size="4.8" fill="#444" text-anchor="middle" stroke="#444" stroke-width="0.03" >0</text>
<text x="381.88" y="58.36" font-size="4.8" fill="#444" text-anchor="middle" stroke="#444" stroke-width="0.03" >0</text>
<text x="388.35" y="58.36" font-size="4.8" fill="#444" text-anchor="middle" stroke="#444" stroke-width="0.03" >0</text>
<text x="394.81" y="58.36" font-size="4.8" fill="#444" text-anchor="middle" stroke="#444" stroke-width="0.03" >0</text>
<text x="401.29" y="58.36" font-size="4.8" fill="#444" text-anchor="middle" stroke="#444" stroke-width="0.03" >0</text>
<text x="407.75" y="58.36" font-size="4.8" fill="#444" text-anchor="middle" stroke="#444" stroke-width="0.03" >0</text>
<text x="414.23" y="58.36" font-size="4.8" fill="#444" text-anchor="middle" stroke="#444" stroke-width="0.03" >0</text>
<text x="420.69" y="58.36" font-size="4.8" fill="#444" text-anchor="middle" stroke="#444" stroke-width="0.03" >0</text>
<rect x="365.30" y="59.88" width="6.47" height="6.44" fill="#f5dcc7" stroke="none" stroke-width="0" rx="0" />
<text x="368.94" y="64.80" font-size="4.8" fill="#444" text-anchor="middle" stroke="#444" stroke-width="0.03" >1</text>
<rect x="371.77" y="59.88" width="6.47" height="6.44" fill="#f5dcc7" stroke="none" stroke-width="0" rx="0" />
<text x="375.41" y="64.80" font-size="4.8" fill="#444" text-anchor="middle" stroke="#444" stroke-width="0.03" >1</text>
<rect x="378.24" y="59.88" width="6.47" height="6.44" fill="#f5dcc7" stroke="none" stroke-width="0" rx="0" />
<text x="381.88" y="64.80" font-size="4.8" fill="#444" text-anchor="middle" stroke="#444" stroke-width="0.03" >1</text>
<rect x="384.71" y="59.88" width="6.47" height="6.44" fill="#f5dcc7" stroke="none" stroke-width="0" rx="0" />
<text x="388.35" y="64.80" font-size="4.8" fill="#444" text-anchor="middle" stroke="#444" stroke-width="0.03" >1</text>
<rect x="391.18" y="59.88" width="6.47" height="6.44" fill="#f5dcc7" stroke="none" stroke-width="0" rx="0" />
<text x="394.81" y="64.80" font-size="4.8" fill="#444" text-anchor="middle" stroke="#444" stroke-width="0.03" >1</text>
<rect x="397.65" y="59.88" width="6.47" height="6.44" fill="#f5dcc7" stroke="none" stroke-width="0" rx="0" />
<text x="401.29" y="64.80" font-size="4.8" fill="#444" text-anchor="middle" stroke="#444" stroke-width="0.03" >1</text>
<rect x="404.12" y="59.88" width="6.47" height="6.44" fill="#f5dcc7" stroke="none" stroke-width="0" rx="0" />
<text x="407.75" y="64.80" font-size="4.8" fill="#444" text-anchor="middle" stroke="#444" stroke-width="0.03" >1</text>
<text x="414.23" y="64.80" font-size="4.8" fill="#444" text-anchor="middle" stroke="#444" stroke-width="0.03" >0</text>
<text x="420.69" y="64.80" font-size="4.8" fill="#444" text-anchor="middle" stroke="#444" stroke-width="0.03" >0</text>
<text x="368.94" y="71.24" font-size="4.8" fill="#444" text-anchor="middle" stroke="#444" stroke-width="0.03" >0</text>
<text x="375.41" y="71.24" font-size="4.8" fill="#444" text-anchor="middle" stroke="#444" stroke-width="0.03" >0</text>
<text x="381.88" y="71.24" font-size="4.8" fill="#444" text-anchor="middle" stroke="#444" stroke-width="0.03" >0</text>
<rect x="384.71" y="66.32" width="6.47" height="6.44" fill="#e2aa7b" stroke="none" stroke-width="0" rx="0" />
<text x="388.35" y="71.24" font-size="4.8" fill="#444" text-anchor="middle" stroke="#444" stroke-width="0.03" >2</text>
<text x="394.81" y="71.24" font-size="4.8" fill="#444" text-anchor="middle" stroke="#444" stroke-width="0.03" >0</text>
<text x="401.29" y="71.24" font-size="4.8" fill="#444" text-anchor="middle" stroke="#444" stroke-width="0.03" >0</text>
<text x="407.75" y="71.24" font-size="4.8" fill="#444" text-anchor="middle" stroke="#444" stroke-width="0.03" >0</text>
<text x="414.23" y="71.24" font-size="4.8" fill="#444" text-anchor="middle" stroke="#444" stroke-width="0.03" >0</text>
<text x="420.69" y="71.24" font-size="4.8" fill="#444" text-anchor="middle" stroke="#444" stroke-width="0.03" >0</text>
<text x="368.94" y="77.68" font-size="4.8" fill="#444" text-anchor="middle" stroke="#444" stroke-width="0.03" >0</text>
<text x="375.41" y="77.68" font-size="4.8" fill="#444" text-anchor="middle" stroke="#444" stroke-width="0.03" >0</text>
<rect x="378.24" y="72.76" width="6.47" height="6.44" fill="#e2aa7b" stroke="none" stroke-width="0" rx="0" />
<text x="381.88" y="77.68" font-size="4.8" fill="#444" text-anchor="middle" stroke="#444" stroke-width="0.03" >2</text>
<rect x="384.71" y="72.76" width="6.47" height="6.44" fill="#e2aa7b" stroke="none" stroke-width="0" rx="0" />
<text x="388.35" y="77.68" font-size="4.8" fill="#444" text-anchor="middle" stroke="#444" stroke-width="0.03" >2</text>
<text x="394.81" y="77.68" font-size="4.8" fill="#444" text-anchor="middle" stroke="#444" stroke-width="0.03" >0</text>
<text x="401.29" y="77.68" font-size="4.8" fill="#444" text-anchor="middle" stroke="#444" stroke-width="0.03" >0</text>
<text x="407.75" y="77.68" font-size="4.8" fill="#444" text-anchor="middle" stroke="#444" stroke-width="0.03" >0</text>
<text x="414.23" y="77.68" font-size="4.8" fill="#444" text-anchor="middle" stroke="#444" stroke-width="0.03" >0</text>
<text x="420.69" y="77.68" font-size="4.8" fill="#444" text-anchor="middle" stroke="#444" stroke-width="0.03" >0</text>
<line x1="371.77" y1="47.00" x2="371.77" y2="79.20" stroke="#b4b4b4" stroke-width="0.45" />
<line x1="378.24" y1="47.00" x2="378.24" y2="79.20" stroke="#b4b4b4" stroke-width="0.45" />
<line x1="384.71" y1="47.00" x2="384.71" y2="79.20" stroke="#b4b4b4" stroke-width="0.45" />
<line x1="391.18" y1="47.00" x2="391.18" y2="79.20" stroke="#b4b4b4" stroke-width="0.45" />
<line x1="397.65" y1="47.00" x2="397.65" y2="79.20" stroke="#b4b4b4" stroke-width="0.45" />
<line x1="404.12" y1="47.00" x2="404.12" y2="79.20" stroke="#b4b4b4" stroke-width="0.45" />
<line x1="410.59" y1="47.00" x2="410.59" y2="79.20" stroke="#b4b4b4" stroke-width="0.45" />
<line x1="417.06" y1="47.00" x2="417.06" y2="79.20" stroke="#b4b4b4" stroke-width="0.45" />
<line x1="365.30" y1="53.44" x2="423.53" y2="53.44" stroke="#b4b4b4" stroke-width="0.45" />
<line x1="365.30" y1="59.88" x2="423.53" y2="59.88" stroke="#b4b4b4" stroke-width="0.45" />
<line x1="365.30" y1="66.32" x2="423.53" y2="66.32" stroke="#b4b4b4" stroke-width="0.45" />
<line x1="365.30" y1="72.76" x2="423.53" y2="72.76" stroke="#b4b4b4" stroke-width="0.45" />
<rect x="365.30" y="47.00" width="58.23" height="32.20" fill="none" stroke="#111" stroke-width="1.5" rx="1.2" />
<rect x="365.28" y="82.48" width="6.51" height="6.43" fill="#e6cbcb" stroke="none" stroke-width="0" rx="0" />
<rect x="371.75" y="82.48" width="6.51" height="6.43" fill="#e6cbcb" stroke="none" stroke-width="0" rx="0" />
<rect x="378.22" y="82.48" width="6.51" height="6.43" fill="#c17c7c" stroke="none" stroke-width="0" rx="0" />
<rect x="384.69" y="82.48" width="6.51" height="6.43" fill="#cd9696" stroke="none" stroke-width="0" rx="0" />
<rect x="391.16" y="82.48" width="6.51" height="6.43" fill="#f8efef" stroke="none" stroke-width="0" rx="0" />
<rect x="397.63" y="82.48" width="6.51" height="6.43" fill="#ffffff" stroke="none" stroke-width="0" rx="0" />
<rect x="404.10" y="82.48" width="6.51" height="6.43" fill="#ebf0f9" stroke="none" stroke-width="0" rx="0" />
<rect x="410.57" y="82.48" width="6.51" height="6.43" fill="#ebf0f9" stroke="none" stroke-width="0" rx="0" />
<rect x="417.04" y="82.48" width="6.51" height="6.43" fill="#ebf0f9" stroke="none" stroke-width="0" rx="0" />
<rect x="365.28" y="88.87" width="6.51" height="6.43" fill="#ebf0f9" stroke="none" stroke-width="0" rx="0" />
<rect x="371.75" y="88.87" width="6.51" height="6.43" fill="#ebf0f9" stroke="none" stroke-width="0" rx="0" />
<rect x="378.22" y="88.87" width="6.51" height="6.43" fill="#ebf0f9" stroke="none" stroke-width="0" rx="0" />
<rect x="384.69" y="88.87" width="6.51" height="6.43" fill="#ebf0f9" stroke="none" stroke-width="0" rx="0" />
<rect x="391.16" y="88.87" width="6.51" height="6.43" fill="#ebf0f9" stroke="none" stroke-width="0" rx="0" />
<rect x="397.63" y="88.87" width="6.51" height="6.43" fill="#ebf0f9" stroke="none" stroke-width="0" rx="0" />
<rect x="404.10" y="88.87" width="6.51" height="6.43" fill="#d7e2f4" stroke="none" stroke-width="0" rx="0" />
<rect x="410.57" y="88.87" width="6.51" height="6.43" fill="#d7e2f4" stroke="none" stroke-width="0" rx="0" />
<rect x="417.04" y="88.87" width="6.51" height="6.43" fill="#ebf0f9" stroke="none" stroke-width="0" rx="0" />
<rect x="365.28" y="95.26" width="6.51" height="6.43" fill="#dab1b1" stroke="none" stroke-width="0" rx="0" />
<rect x="371.75" y="95.26" width="6.51" height="6.43" fill="#cd9696" stroke="none" stroke-width="0" rx="0" />
<rect x="378.22" y="95.26" width="6.51" height="6.43" fill="#dab1b1" stroke="none" stroke-width="0" rx="0" />
<rect x="384.69" y="95.26" width="6.51" height="6.43" fill="#f0e0e0" stroke="none" stroke-width="0" rx="0" />
<rect x="391.16" y="95.26" width="6.51" height="6.43" fill="#dab1b1" stroke="none" stroke-width="0" rx="0" />
<rect x="397.63" y="95.26" width="6.51" height="6.43" fill="#f8efef" stroke="none" stroke-width="0" rx="0" />
<rect x="404.10" y="95.26" width="6.51" height="6.43" fill="#e6cbcb" stroke="none" stroke-width="0" rx="0" />
<rect x="410.57" y="95.26" width="6.51" height="6.43" fill="#f0e0e0" stroke="none" stroke-width="0" rx="0" />
<rect x="417.04" y="95.26" width="6.51" height="6.43" fill="#e6cbcb" stroke="none" stroke-width="0" rx="0" />
<rect x="365.28" y="101.66" width="6.51" height="6.43" fill="#ffffff" stroke="none" stroke-width="0" rx="0" />
<rect x="371.75" y="101.66" width="6.51" height="6.43" fill="#ffffff" stroke="none" stroke-width="0" rx="0" />
<rect x="378.22" y="101.66" width="6.51" height="6.43" fill="#ebf0f9" stroke="none" stroke-width="0" rx="0" />
<rect x="384.69" y="101.66" width="6.51" height="6.43" fill="#ebf0f9" stroke="none" stroke-width="0" rx="0" />
<rect x="391.16" y="101.66" width="6.51" height="6.43" fill="#ffffff" stroke="none" stroke-width="0" rx="0" />
<rect x="397.63" y="101.66" width="6.51" height="6.43" fill="#ffffff" stroke="none" stroke-width="0" rx="0" />
<rect x="404.10" y="101.66" width="6.51" height="6.43" fill="#ffffff" stroke="none" stroke-width="0" rx="0" />
<rect x="410.57" y="101.66" width="6.51" height="6.43" fill="#ffffff" stroke="none" stroke-width="0" rx="0" />
<rect x="417.04" y="101.66" width="6.51" height="6.43" fill="#ffffff" stroke="none" stroke-width="0" rx="0" />
<rect x="365.28" y="108.05" width="6.51" height="6.43" fill="#f8efef" stroke="none" stroke-width="0" rx="0" />
<rect x="371.75" y="108.05" width="6.51" height="6.43" fill="#cd9696" stroke="none" stroke-width="0" rx="0" />
<rect x="378.22" y="108.05" width="6.51" height="6.43" fill="#cd9696" stroke="none" stroke-width="0" rx="0" />
<rect x="384.69" y="108.05" width="6.51" height="6.43" fill="#e6cbcb" stroke="none" stroke-width="0" rx="0" />
<rect x="391.16" y="108.05" width="6.51" height="6.43" fill="#cd9696" stroke="none" stroke-width="0" rx="0" />
<rect x="397.63" y="108.05" width="6.51" height="6.43" fill="#f0e0e0" stroke="none" stroke-width="0" rx="0" />
<rect x="404.10" y="108.05" width="6.51" height="6.43" fill="#dab1b1" stroke="none" stroke-width="0" rx="0" />
<rect x="410.57" y="108.05" width="6.51" height="6.43" fill="#e6cbcb" stroke="none" stroke-width="0" rx="0" />
<rect x="417.04" y="108.05" width="6.51" height="6.43" fill="#b46262" stroke="none" stroke-width="0" rx="0" />
<rect x="365.28" y="114.44" width="6.51" height="6.43" fill="#ffffff" stroke="none" stroke-width="0" rx="0" />
<rect x="371.75" y="114.44" width="6.51" height="6.43" fill="#ffffff" stroke="none" stroke-width="0" rx="0" />
<rect x="378.22" y="114.44" width="6.51" height="6.43" fill="#ffffff" stroke="none" stroke-width="0" rx="0" />
<rect x="384.69" y="114.44" width="6.51" height="6.43" fill="#ffffff" stroke="none" stroke-width="0" rx="0" />
<rect x="391.16" y="114.44" width="6.51" height="6.43" fill="#ffffff" stroke="none" stroke-width="0" rx="0" />
<rect x="397.63" y="114.44" width="6.51" height="6.43" fill="#ffffff" stroke="none" stroke-width="0" rx="0" />
<rect x="404.10" y="114.44" width="6.51" height="6.43" fill="#ffffff" stroke="none" stroke-width="0" rx="0" />
<rect x="410.57" y="114.44" width="6.51" height="6.43" fill="#ffffff" stroke="none" stroke-width="0" rx="0" />
<rect x="417.04" y="114.44" width="6.51" height="6.43" fill="#ffffff" stroke="none" stroke-width="0" rx="0" />
<rect x="365.28" y="120.83" width="6.51" height="6.43" fill="#f8efef" stroke="none" stroke-width="0" rx="0" />
<rect x="371.75" y="120.83" width="6.51" height="6.43" fill="#dab1b1" stroke="none" stroke-width="0" rx="0" />
<rect x="378.22" y="120.83" width="6.51" height="6.43" fill="#dab1b1" stroke="none" stroke-width="0" rx="0" />
<rect x="384.69" y="120.83" width="6.51" height="6.43" fill="#f0e0e0" stroke="none" stroke-width="0" rx="0" />
<rect x="391.16" y="120.83" width="6.51" height="6.43" fill="#e6cbcb" stroke="none" stroke-width="0" rx="0" />
<rect x="397.63" y="120.83" width="6.51" height="6.43" fill="#ffffff" stroke="none" stroke-width="0" rx="0" />
<rect x="404.10" y="120.83" width="6.51" height="6.43" fill="#cd9696" stroke="none" stroke-width="0" rx="0" />
<rect x="410.57" y="120.83" width="6.51" height="6.43" fill="#f8efef" stroke="none" stroke-width="0" rx="0" />
<rect x="417.04" y="120.83" width="6.51" height="6.43" fill="#cd9696" stroke="none" stroke-width="0" rx="0" />
<rect x="365.28" y="127.22" width="6.51" height="6.43" fill="#e6cbcb" stroke="none" stroke-width="0" rx="0" />
<rect x="371.75" y="127.22" width="6.51" height="6.43" fill="#cd9696" stroke="none" stroke-width="0" rx="0" />
<rect x="378.22" y="127.22" width="6.51" height="6.43" fill="#dab1b1" stroke="none" stroke-width="0" rx="0" />
<rect x="384.69" y="127.22" width="6.51" height="6.43" fill="#ffffff" stroke="none" stroke-width="0" rx="0" />
<rect x="391.16" y="127.22" width="6.51" height="6.43" fill="#ffffff" stroke="none" stroke-width="0" rx="0" />
<rect x="397.63" y="127.22" width="6.51" height="6.43" fill="#dab1b1" stroke="none" stroke-width="0" rx="0" />
<rect x="404.10" y="127.22" width="6.51" height="6.43" fill="#dab1b1" stroke="none" stroke-width="0" rx="0" />
<rect x="410.57" y="127.22" width="6.51" height="6.43" fill="#dab1b1" stroke="none" stroke-width="0" rx="0" />
<rect x="417.04" y="127.22" width="6.51" height="6.43" fill="#cd9696" stroke="none" stroke-width="0" rx="0" />
<rect x="365.28" y="133.61" width="6.51" height="6.43" fill="#e6cbcb" stroke="none" stroke-width="0" rx="0" />
<rect x="371.75" y="133.61" width="6.51" height="6.43" fill="#dab1b1" stroke="none" stroke-width="0" rx="0" />
<rect x="378.22" y="133.61" width="6.51" height="6.43" fill="#dab1b1" stroke="none" stroke-width="0" rx="0" />
<rect x="384.69" y="133.61" width="6.51" height="6.43" fill="#ffffff" stroke="none" stroke-width="0" rx="0" />
<rect x="391.16" y="133.61" width="6.51" height="6.43" fill="#ffffff" stroke="none" stroke-width="0" rx="0" />
<rect x="397.63" y="133.61" width="6.51" height="6.43" fill="#f8efef" stroke="none" stroke-width="0" rx="0" />
<rect x="404.10" y="133.61" width="6.51" height="6.43" fill="#f8efef" stroke="none" stroke-width="0" rx="0" />
<rect x="410.57" y="133.61" width="6.51" height="6.43" fill="#f0e0e0" stroke="none" stroke-width="0" rx="0" />
<rect x="417.04" y="133.61" width="6.51" height="6.43" fill="#cd9696" stroke="none" stroke-width="0" rx="0" />
<rect x="365.28" y="140.00" width="6.51" height="6.43" fill="#ffffff" stroke="none" stroke-width="0" rx="0" />
<rect x="371.75" y="140.00" width="6.51" height="6.43" fill="#f8efef" stroke="none" stroke-width="0" rx="0" />
<rect x="378.22" y="140.00" width="6.51" height="6.43" fill="#ffffff" stroke="none" stroke-width="0" rx="0" />
<rect x="384.69" y="140.00" width="6.51" height="6.43" fill="#f5f8fc" stroke="none" stroke-width="0" rx="0" />
<rect x="391.16" y="140.00" width="6.51" height="6.43" fill="#f5f8fc" stroke="none" stroke-width="0" rx="0" />
<rect x="397.63" y="140.00" width="6.51" height="6.43" fill="#ebf0f9" stroke="none" stroke-width="0" rx="0" />
<rect x="404.10" y="140.00" width="6.51" height="6.43" fill="#f5f8fc" stroke="none" stroke-width="0" rx="0" />
<rect x="410.57" y="140.00" width="6.51" height="6.43" fill="#f5f8fc" stroke="none" stroke-width="0" rx="0" />
<rect x="417.04" y="140.00" width="6.51" height="6.43" fill="#ffffff" stroke="none" stroke-width="0" rx="0" />
<rect x="365.28" y="146.40" width="6.51" height="6.43" fill="#f0e0e0" stroke="none" stroke-width="0" rx="0" />
<rect x="371.75" y="146.40" width="6.51" height="6.43" fill="#e6cbcb" stroke="none" stroke-width="0" rx="0" />
<rect x="378.22" y="146.40" width="6.51" height="6.43" fill="#e6cbcb" stroke="none" stroke-width="0" rx="0" />
<rect x="384.69" y="146.40" width="6.51" height="6.43" fill="#ffffff" stroke="none" stroke-width="0" rx="0" />
<rect x="391.16" y="146.40" width="6.51" height="6.43" fill="#ffffff" stroke="none" stroke-width="0" rx="0" />
<rect x="397.63" y="146.40" width="6.51" height="6.43" fill="#e6cbcb" stroke="none" stroke-width="0" rx="0" />
<rect x="404.10" y="146.40" width="6.51" height="6.43" fill="#e6cbcb" stroke="none" stroke-width="0" rx="0" />
<rect x="410.57" y="146.40" width="6.51" height="6.43" fill="#f0e0e0" stroke="none" stroke-width="0" rx="0" />
<rect x="417.04" y="146.40" width="6.51" height="6.43" fill="#cd9696" stroke="none" stroke-width="0" rx="0" />
<rect x="365.28" y="152.79" width="6.51" height="6.43" fill="#f0e0e0" stroke="none" stroke-width="0" rx="0" />
<rect x="371.75" y="152.79" width="6.51" height="6.43" fill="#f0e0e0" stroke="none" stroke-width="0" rx="0" />
<rect x="378.22" y="152.79" width="6.51" height="6.43" fill="#f8efef" stroke="none" stroke-width="0" rx="0" />
<rect x="384.69" y="152.79" width="6.51" height="6.43" fill="#f5f8fc" stroke="none" stroke-width="0" rx="0" />
<rect x="391.16" y="152.79" width="6.51" height="6.43" fill="#f5f8fc" stroke="none" stroke-width="0" rx="0" />
<rect x="397.63" y="152.79" width="6.51" height="6.43" fill="#f8efef" stroke="none" stroke-width="0" rx="0" />
<rect x="404.10" y="152.79" width="6.51" height="6.43" fill="#f5f8fc" stroke="none" stroke-width="0" rx="0" />
<rect x="410.57" y="152.79" width="6.51" height="6.43" fill="#f8efef" stroke="none" stroke-width="0" rx="0" />
<rect x="417.04" y="152.79" width="6.51" height="6.43" fill="#ffffff" stroke="none" stroke-width="0" rx="0" />
<line x1="371.77" y1="82.50" x2="371.77" y2="159.20" stroke="#949494" stroke-width="0.45" />
<line x1="378.24" y1="82.50" x2="378.24" y2="159.20" stroke="#949494" stroke-width="0.45" />
<line x1="384.71" y1="82.50" x2="384.71" y2="159.20" stroke="#949494" stroke-width="0.45" />
<line x1="391.18" y1="82.50" x2="391.18" y2="159.20" stroke="#949494" stroke-width="0.45" />
<line x1="397.65" y1="82.50" x2="397.65" y2="159.20" stroke="#949494" stroke-width="0.45" />
<line x1="404.12" y1="82.50" x2="404.12" y2="159.20" stroke="#949494" stroke-width="0.45" />
<line x1="410.59" y1="82.50" x2="410.59" y2="159.20" stroke="#949494" stroke-width="0.45" />
<line x1="417.06" y1="82.50" x2="417.06" y2="159.20" stroke="#949494" stroke-width="0.45" />
<line x1="365.30" y1="88.89" x2="423.53" y2="88.89" stroke="#949494" stroke-width="0.45" />
<line x1="365.30" y1="95.28" x2="423.53" y2="95.28" stroke="#949494" stroke-width="0.45" />
<line x1="365.30" y1="101.67" x2="423.53" y2="101.67" stroke="#949494" stroke-width="0.45" />
<line x1="365.30" y1="108.07" x2="423.53" y2="108.07" stroke="#949494" stroke-width="0.45" />
<line x1="365.30" y1="114.46" x2="423.53" y2="114.46" stroke="#949494" stroke-width="0.45" />
<line x1="365.30" y1="120.85" x2="423.53" y2="120.85" stroke="#949494" stroke-width="0.45" />
<line x1="365.30" y1="127.24" x2="423.53" y2="127.24" stroke="#949494" stroke-width="0.45" />
<line x1="365.30" y1="133.63" x2="423.53" y2="133.63" stroke="#949494" stroke-width="0.45" />
<line x1="365.30" y1="140.02" x2="423.53" y2="140.02" stroke="#949494" stroke-width="0.45" />
<line x1="365.30" y1="146.42" x2="423.53" y2="146.42" stroke="#949494" stroke-width="0.45" />
<line x1="365.30" y1="152.81" x2="423.53" y2="152.81" stroke="#949494" stroke-width="0.45" />
<line x1="365.30" y1="95.28" x2="423.53" y2="95.28" stroke="#555" stroke-width="0.6" />
<rect x="365.30" y="82.50" width="58.23" height="76.70" fill="none" stroke="#111" stroke-width="1.5" rx="1.2" />
<line x1="368.54" y1="160.00" x2="368.54" y2="162.20" stroke="#111" stroke-width="0.8" />
<text x="368.54" y="170.80" font-size="5.8" fill="#222" text-anchor="middle" stroke="#222" stroke-width="0.04" >0</text>
<line x1="375.01" y1="160.00" x2="375.01" y2="162.20" stroke="#111" stroke-width="0.8" />
<text x="375.01" y="170.80" font-size="5.8" fill="#222" text-anchor="middle" stroke="#222" stroke-width="0.04" >2</text>
<line x1="381.48" y1="160.00" x2="381.48" y2="162.20" stroke="#111" stroke-width="0.8" />
<text x="381.48" y="170.80" font-size="5.8" fill="#222" text-anchor="middle" stroke="#222" stroke-width="0.04" >4</text>
<line x1="387.95" y1="160.00" x2="387.95" y2="162.20" stroke="#111" stroke-width="0.8" />
<text x="387.95" y="170.80" font-size="5.8" fill="#222" text-anchor="middle" stroke="#222" stroke-width="0.04" >6</text>
<line x1="394.42" y1="160.00" x2="394.42" y2="162.20" stroke="#111" stroke-width="0.8" />
<text x="394.42" y="170.80" font-size="5.8" fill="#222" text-anchor="middle" stroke="#222" stroke-width="0.04" >8</text>
<line x1="400.89" y1="160.00" x2="400.89" y2="162.20" stroke="#111" stroke-width="0.8" />
<text x="400.89" y="170.80" font-size="5.8" fill="#222" text-anchor="middle" stroke="#222" stroke-width="0.04" >9</text>
<line x1="407.36" y1="160.00" x2="407.36" y2="162.20" stroke="#111" stroke-width="0.8" />
<text x="407.36" y="170.80" font-size="5.8" fill="#222" text-anchor="middle" stroke="#222" stroke-width="0.04" textLength="6.47" lengthAdjust="spacingAndGlyphs" >11</text>
<line x1="413.83" y1="160.00" x2="413.83" y2="162.20" stroke="#111" stroke-width="0.8" />
<text x="413.83" y="170.80" font-size="5.8" fill="#222" text-anchor="middle" stroke="#222" stroke-width="0.04" textLength="6.47" lengthAdjust="spacingAndGlyphs" >12</text>
<line x1="420.30" y1="160.00" x2="420.30" y2="162.20" stroke="#111" stroke-width="0.8" />
<text x="420.30" y="170.80" font-size="5.8" fill="#222" text-anchor="middle" stroke="#222" stroke-width="0.04" textLength="6.47" lengthAdjust="spacingAndGlyphs" >13</text>
<text x="394.42" y="41.20" font-size="7.7" fill="#222" text-anchor="middle" stroke="#222" stroke-width="0.06" textLength="34.0" lengthAdjust="spacingAndGlyphs" >Patient 34</text>
<text x="394.42" y="180.20" font-size="7.6" fill="#222" text-anchor="middle" stroke="#222" stroke-width="0.06" textLength="27.7" lengthAdjust="spacingAndGlyphs" >Time (day)</text>
<line x1="361.90" y1="50.22" x2="364.80" y2="50.22" stroke="#222" stroke-width="1.0" />
<text x="359.00" y="52.22" font-size="5.6" fill="#222" text-anchor="end" stroke="#222" stroke-width="0.05" >CRS</text>
<line x1="361.90" y1="56.66" x2="364.80" y2="56.66" stroke="#222" stroke-width="1.0" />
<text x="359.00" y="58.66" font-size="5.6" fill="#222" text-anchor="end" stroke="#222" stroke-width="0.05" >CRES</text>
<line x1="361.90" y1="63.10" x2="364.80" y2="63.10" stroke="#222" stroke-width="1.0" />
<text x="359.00" y="65.10" font-size="5.6" fill="#222" text-anchor="end" stroke="#222" stroke-width="0.05" >Fever</text>
<line x1="361.90" y1="69.54" x2="364.80" y2="69.54" stroke="#222" stroke-width="1.0" />
<text x="359.00" y="71.54" font-size="5.6" fill="#222" text-anchor="end" stroke="#222" stroke-width="0.05" >Hypotension</text>
<line x1="361.90" y1="75.98" x2="364.80" y2="75.98" stroke="#222" stroke-width="1.0" />
<text x="359.00" y="77.98" font-size="5.6" fill="#222" text-anchor="end" stroke="#222" stroke-width="0.05" >Hypoxia</text>
<line x1="361.90" y1="85.70" x2="364.80" y2="85.70" stroke="#222" stroke-width="1.0" />
<text x="359.00" y="87.70" font-size="5.6" fill="#222" text-anchor="end" stroke="#222" stroke-width="0.05" >CRP</text>
<line x1="361.90" y1="92.09" x2="364.80" y2="92.09" stroke="#222" stroke-width="1.0" />
<text x="359.00" y="94.09" font-size="5.6" fill="#222" text-anchor="end" stroke="#222" stroke-width="0.05" >Ferritin</text>
<line x1="361.90" y1="98.48" x2="364.80" y2="98.48" stroke="#222" stroke-width="1.0" />
<text x="359.00" y="100.48" font-size="5.6" fill="#222" text-anchor="end" stroke="#222" stroke-width="0.05" >IL-1β</text>
<line x1="361.90" y1="104.87" x2="364.80" y2="104.87" stroke="#222" stroke-width="1.0" />
<text x="359.00" y="106.87" font-size="5.6" fill="#222" text-anchor="end" stroke="#222" stroke-width="0.05" >TNF-α</text>
<line x1="361.90" y1="111.26" x2="364.80" y2="111.26" stroke="#222" stroke-width="1.0" />
<text x="359.00" y="113.26" font-size="5.6" fill="#222" text-anchor="end" stroke="#222" stroke-width="0.05" >IL-10</text>
<line x1="361.90" y1="117.65" x2="364.80" y2="117.65" stroke="#222" stroke-width="1.0" />
<text x="359.00" y="119.65" font-size="5.6" fill="#222" text-anchor="end" stroke="#222" stroke-width="0.05" >IL-6</text>
<line x1="361.90" y1="124.05" x2="364.80" y2="124.05" stroke="#222" stroke-width="1.0" />
<text x="359.00" y="126.05" font-size="5.6" fill="#222" text-anchor="end" stroke="#222" stroke-width="0.05" >IL-12</text>
<line x1="361.90" y1="130.44" x2="364.80" y2="130.44" stroke="#222" stroke-width="1.0" />
<text x="359.00" y="132.44" font-size="5.6" fill="#222" text-anchor="end" stroke="#222" stroke-width="0.05" >MCP-1</text>
<line x1="361.90" y1="136.83" x2="364.80" y2="136.83" stroke="#222" stroke-width="1.0" />
<text x="359.00" y="138.83" font-size="5.6" fill="#222" text-anchor="end" stroke="#222" stroke-width="0.05" >IFN-γ</text>
<line x1="361.90" y1="143.22" x2="364.80" y2="143.22" stroke="#222" stroke-width="1.0" />
<text x="359.00" y="145.22" font-size="5.6" fill="#222" text-anchor="end" stroke="#222" stroke-width="0.05" >IL-2</text>
<line x1="361.90" y1="149.61" x2="364.80" y2="149.61" stroke="#222" stroke-width="1.0" />
<text x="359.00" y="151.61" font-size="5.6" fill="#222" text-anchor="end" stroke="#222" stroke-width="0.05" >IL-8</text>
<line x1="361.90" y1="156.00" x2="364.80" y2="156.00" stroke="#222" stroke-width="1.0" />
<text x="359.00" y="158.00" font-size="5.6" fill="#222" text-anchor="end" stroke="#222" stroke-width="0.05" >IL-17A</text>
<path d="M328.20,47.72 H324.60 V92.59 H328.20" fill="none" stroke="#222" stroke-width="1.4"/>
<path d="M328.20,97.28 H324.60 V156.50 H328.20" fill="none" stroke="#222" stroke-width="1.4"/>
<rect x="431.20" y="82.70" width="8.2" height="76.50" fill="url(#cbgrad)" stroke="#333" stroke-width="0.5"/>
<line x1="437.80" y1="82.70" x2="441.00" y2="82.70" stroke="#222" stroke-width="0.7" />
<line x1="430.70" y1="82.70" x2="432.40" y2="82.70" stroke="#222" stroke-width="0.7" />
<text x="443.20" y="84.60" font-size="5.2" fill="#333" text-anchor="start" stroke="#333" stroke-width="0.03" >6</text>
<line x1="437.80" y1="99.70" x2="441.00" y2="99.70" stroke="#222" stroke-width="0.7" />
<line x1="430.70" y1="99.70" x2="432.40" y2="99.70" stroke="#222" stroke-width="0.7" />
<text x="443.20" y="101.60" font-size="5.2" fill="#333" text-anchor="start" stroke="#333" stroke-width="0.03" >4</text>
<line x1="437.80" y1="116.70" x2="441.00" y2="116.70" stroke="#222" stroke-width="0.7" />
<line x1="430.70" y1="116.70" x2="432.40" y2="116.70" stroke="#222" stroke-width="0.7" />
<text x="443.20" y="118.60" font-size="5.2" fill="#333" text-anchor="start" stroke="#333" stroke-width="0.03" >2</text>
<line x1="437.80" y1="133.70" x2="441.00" y2="133.70" stroke="#222" stroke-width="0.7" />
<line x1="430.70" y1="133.70" x2="432.40" y2="133.70" stroke="#222" stroke-width="0.7" />
<text x="443.20" y="135.60" font-size="5.2" fill="#333" text-anchor="start" stroke="#333" stroke-width="0.03" >0</text>
<line x1="437.80" y1="150.70" x2="441.00" y2="150.70" stroke="#222" stroke-width="0.7" />
<line x1="430.70" y1="150.70" x2="432.40" y2="150.70" stroke="#222" stroke-width="0.7" />
<text x="443.20" y="152.60" font-size="5.2" fill="#333" text-anchor="start" stroke="#333" stroke-width="0.03" >-2</text>
<text x="442.10" y="77.30" font-size="5.6" fill="#333" text-anchor="middle" stroke="#333" stroke-width="0.06" textLength="28" lengthAdjust="spacingAndGlyphs" >Abundance</text>
<text x="435.30" y="165.30" font-size="5.4" fill="#333" text-anchor="middle" stroke="#333" stroke-width="0.06" textLength="20.2" lengthAdjust="spacingAndGlyphs" >(z-score)</text>
<rect x="453.00" y="105.20" width="11.00" height="10.20" fill="#bf5e28" stroke="#aaa" stroke-width="0.5" rx="0" />
<text x="458.50" y="112.30" font-size="5.4" fill="#333" text-anchor="middle" stroke="#333" stroke-width="0.06" >4</text>
<rect x="453.00" y="115.40" width="11.00" height="10.20" fill="#d28343" stroke="#aaa" stroke-width="0.5" rx="0" />
<text x="458.50" y="122.50" font-size="5.4" fill="#333" text-anchor="middle" stroke="#333" stroke-width="0.06" >3</text>
<rect x="453.00" y="125.60" width="11.00" height="10.20" fill="#e2aa7b" stroke="#aaa" stroke-width="0.5" rx="0" />
<text x="458.50" y="132.70" font-size="5.4" fill="#333" text-anchor="middle" stroke="#333" stroke-width="0.06" >2</text>
<rect x="453.00" y="135.80" width="11.00" height="10.20" fill="#f5dcc7" stroke="#aaa" stroke-width="0.5" rx="0" />
<text x="458.50" y="142.90" font-size="5.4" fill="#333" text-anchor="middle" stroke="#333" stroke-width="0.06" >1</text>
<rect x="453.00" y="146.00" width="11.00" height="10.20" fill="#ffffff" stroke="#aaa" stroke-width="0.5" rx="0" />
<text x="458.50" y="153.10" font-size="5.4" fill="#333" text-anchor="middle" stroke="#333" stroke-width="0.06" >0</text>
<text x="458.50" y="97.20" font-size="5.6" fill="#333" text-anchor="middle" stroke="#333" stroke-width="0.06" >Clinical</text>
<text x="458.50" y="103.30" font-size="5.6" fill="#333" text-anchor="middle" stroke="#333" stroke-width="0.06" >Grade</text>
<rect x="471.50" y="135.80" width="11.00" height="10.20" fill="#f5dcc7" stroke="#aaa" stroke-width="0.5" rx="0" />
<text x="477.00" y="142.90" font-size="5.4" fill="#333" text-anchor="middle" stroke="#333" stroke-width="0.06" >1</text>
<text x="484.50" y="142.90" font-size="5.0" fill="#333" text-anchor="start" stroke="#333" stroke-width="0.06" >≥38 °C</text>
<rect x="471.50" y="146.00" width="11.00" height="10.20" fill="#ffffff" stroke="#aaa" stroke-width="0.5" rx="0" />
<text x="477.00" y="153.10" font-size="5.4" fill="#333" text-anchor="middle" stroke="#333" stroke-width="0.06" >0</text>
<text x="484.50" y="153.10" font-size="5.0" fill="#333" text-anchor="start" stroke="#333" stroke-width="0.06" >&lt;38 °C</text>
<text x="477.00" y="132.80" font-size="5.6" fill="#333" text-anchor="middle" stroke="#333" stroke-width="0.06" >Fever</text>
<line x1="71.20" y1="331.80" x2="76.46" y2="337.04" stroke="#b0b0b0" stroke-width="0.45" />
<line x1="76.46" y1="331.80" x2="71.20" y2="337.04" stroke="#b0b0b0" stroke-width="0.45" />
<text x="81.09" y="336.12" font-size="4.8" fill="#444" text-anchor="middle" stroke="#444" stroke-width="0.03" >0</text>
<text x="87.95" y="336.12" font-size="4.8" fill="#444" text-anchor="middle" stroke="#444" stroke-width="0.03" >0</text>
<text x="94.81" y="336.12" font-size="4.8" fill="#444" text-anchor="middle" stroke="#444" stroke-width="0.03" >0</text>
<text x="101.67" y="336.12" font-size="4.8" fill="#444" text-anchor="middle" stroke="#444" stroke-width="0.03" >0</text>
<text x="108.53" y="336.12" font-size="4.8" fill="#444" text-anchor="middle" stroke="#444" stroke-width="0.03" >0</text>
<text x="115.39" y="336.12" font-size="4.8" fill="#444" text-anchor="middle" stroke="#444" stroke-width="0.03" >0</text>
<text x="122.25" y="336.12" font-size="4.8" fill="#444" text-anchor="middle" stroke="#444" stroke-width="0.03" >0</text>
<text x="129.11" y="336.12" font-size="4.8" fill="#444" text-anchor="middle" stroke="#444" stroke-width="0.03" >0</text>
<text x="135.97" y="336.12" font-size="4.8" fill="#444" text-anchor="middle" stroke="#444" stroke-width="0.03" >0</text>
<text x="142.83" y="336.12" font-size="4.8" fill="#444" text-anchor="middle" stroke="#444" stroke-width="0.03" >0</text>
<line x1="146.66" y1="331.80" x2="151.92" y2="337.04" stroke="#b0b0b0" stroke-width="0.45" />
<line x1="151.92" y1="331.80" x2="146.66" y2="337.04" stroke="#b0b0b0" stroke-width="0.45" />
<line x1="153.52" y1="331.80" x2="158.78" y2="337.04" stroke="#b0b0b0" stroke-width="0.45" />
<line x1="158.78" y1="331.80" x2="153.52" y2="337.04" stroke="#b0b0b0" stroke-width="0.45" />
<line x1="160.38" y1="331.80" x2="165.64" y2="337.04" stroke="#b0b0b0" stroke-width="0.45" />
<line x1="165.64" y1="331.80" x2="160.38" y2="337.04" stroke="#b0b0b0" stroke-width="0.45" />
<line x1="167.24" y1="331.80" x2="172.50" y2="337.04" stroke="#b0b0b0" stroke-width="0.45" />
<line x1="172.50" y1="331.80" x2="167.24" y2="337.04" stroke="#b0b0b0" stroke-width="0.45" />
<line x1="71.20" y1="338.64" x2="76.46" y2="343.88" stroke="#b0b0b0" stroke-width="0.45" />
<line x1="76.46" y1="338.64" x2="71.20" y2="343.88" stroke="#b0b0b0" stroke-width="0.45" />
<text x="81.09" y="342.96" font-size="4.8" fill="#444" text-anchor="middle" stroke="#444" stroke-width="0.03" >0</text>
<text x="87.95" y="342.96" font-size="4.8" fill="#444" text-anchor="middle" stroke="#444" stroke-width="0.03" >0</text>
<text x="94.81" y="342.96" font-size="4.8" fill="#444" text-anchor="middle" stroke="#444" stroke-width="0.03" >0</text>
<text x="101.67" y="342.96" font-size="4.8" fill="#444" text-anchor="middle" stroke="#444" stroke-width="0.03" >0</text>
<rect x="104.70" y="337.84" width="6.86" height="6.84" fill="#f5dcc7" stroke="none" stroke-width="0" rx="0" />
<text x="108.53" y="342.96" font-size="4.8" fill="#444" text-anchor="middle" stroke="#444" stroke-width="0.03" >1</text>
<rect x="111.56" y="337.84" width="6.86" height="6.84" fill="#e2aa7b" stroke="none" stroke-width="0" rx="0" />
<text x="115.39" y="342.96" font-size="4.8" fill="#444" text-anchor="middle" stroke="#444" stroke-width="0.03" >2</text>
<rect x="118.42" y="337.84" width="6.86" height="6.84" fill="#d28343" stroke="none" stroke-width="0" rx="0" />
<text x="122.25" y="342.96" font-size="4.8" fill="#444" text-anchor="middle" stroke="#444" stroke-width="0.03" >3</text>
<text x="129.11" y="342.96" font-size="4.8" fill="#444" text-anchor="middle" stroke="#444" stroke-width="0.03" >0</text>
<rect x="132.14" y="337.84" width="6.86" height="6.84" fill="#e2aa7b" stroke="none" stroke-width="0" rx="0" />
<text x="135.97" y="342.96" font-size="4.8" fill="#444" text-anchor="middle" stroke="#444" stroke-width="0.03" >2</text>
<text x="142.83" y="342.96" font-size="4.8" fill="#444" text-anchor="middle" stroke="#444" stroke-width="0.03" >0</text>
<line x1="146.66" y1="338.64" x2="151.92" y2="343.88" stroke="#b0b0b0" stroke-width="0.45" />
<line x1="151.92" y1="338.64" x2="146.66" y2="343.88" stroke="#b0b0b0" stroke-width="0.45" />
<line x1="153.52" y1="338.64" x2="158.78" y2="343.88" stroke="#b0b0b0" stroke-width="0.45" />
<line x1="158.78" y1="338.64" x2="153.52" y2="343.88" stroke="#b0b0b0" stroke-width="0.45" />
<line x1="160.38" y1="338.64" x2="165.64" y2="343.88" stroke="#b0b0b0" stroke-width="0.45" />
<line x1="165.64" y1="338.64" x2="160.38" y2="343.88" stroke="#b0b0b0" stroke-width="0.45" />
<line x1="167.24" y1="338.64" x2="172.50" y2="343.88" stroke="#b0b0b0" stroke-width="0.45" />
<line x1="172.50" y1="338.64" x2="167.24" y2="343.88" stroke="#b0b0b0" stroke-width="0.45" />
<line x1="71.20" y1="345.48" x2="76.46" y2="350.72" stroke="#b0b0b0" stroke-width="0.45" />
<line x1="76.46" y1="345.48" x2="71.20" y2="350.72" stroke="#b0b0b0" stroke-width="0.45" />
<text x="81.09" y="349.80" font-size="4.8" fill="#444" text-anchor="middle" stroke="#444" stroke-width="0.03" >0</text>
<text x="87.95" y="349.80" font-size="4.8" fill="#444" text-anchor="middle" stroke="#444" stroke-width="0.03" >0</text>
<text x="94.81" y="349.80" font-size="4.8" fill="#444" text-anchor="middle" stroke="#444" stroke-width="0.03" >0</text>
<text x="101.67" y="349.80" font-size="4.8" fill="#444" text-anchor="middle" stroke="#444" stroke-width="0.03" >0</text>
<text x="108.53" y="349.80" font-size="4.8" fill="#444" text-anchor="middle" stroke="#444" stroke-width="0.03" >0</text>
<text x="115.39" y="349.80" font-size="4.8" fill="#444" text-anchor="middle" stroke="#444" stroke-width="0.03" >0</text>
<text x="122.25" y="349.80" font-size="4.8" fill="#444" text-anchor="middle" stroke="#444" stroke-width="0.03" >0</text>
<text x="129.11" y="349.80" font-size="4.8" fill="#444" text-anchor="middle" stroke="#444" stroke-width="0.03" >0</text>
<text x="135.97" y="349.80" font-size="4.8" fill="#444" text-anchor="middle" stroke="#444" stroke-width="0.03" >0</text>
<text x="142.83" y="349.80" font-size="4.8" fill="#444" text-anchor="middle" stroke="#444" stroke-width="0.03" >0</text>
<line x1="146.66" y1="345.48" x2="151.92" y2="350.72" stroke="#b0b0b0" stroke-width="0.45" />
<line x1="151.92" y1="345.48" x2="146.66" y2="350.72" stroke="#b0b0b0" stroke-width="0.45" />
<line x1="153.52" y1="345.48" x2="158.78" y2="350.72" stroke="#b0b0b0" stroke-width="0.45" />
<line x1="158.78" y1="345.48" x2="153.52" y2="350.72" stroke="#b0b0b0" stroke-width="0.45" />
<line x1="160.38" y1="345.48" x2="165.64" y2="350.72" stroke="#b0b0b0" stroke-width="0.45" />
<line x1="165.64" y1="345.48" x2="160.38" y2="350.72" stroke="#b0b0b0" stroke-width="0.45" />
<line x1="167.24" y1="345.48" x2="172.50" y2="350.72" stroke="#b0b0b0" stroke-width="0.45" />
<line x1="172.50" y1="345.48" x2="167.24" y2="350.72" stroke="#b0b0b0" stroke-width="0.45" />
<line x1="71.20" y1="352.32" x2="76.46" y2="357.56" stroke="#b0b0b0" stroke-width="0.45" />
<line x1="76.46" y1="352.32" x2="71.20" y2="357.56" stroke="#b0b0b0" stroke-width="0.45" />
<text x="81.09" y="356.64" font-size="4.8" fill="#444" text-anchor="middle" stroke="#444" stroke-width="0.03" >0</text>
<text x="87.95" y="356.64" font-size="4.8" fill="#444" text-anchor="middle" stroke="#444" stroke-width="0.03" >0</text>
<text x="94.81" y="356.64" font-size="4.8" fill="#444" text-anchor="middle" stroke="#444" stroke-width="0.03" >0</text>
<text x="101.67" y="356.64" font-size="4.8" fill="#444" text-anchor="middle" stroke="#444" stroke-width="0.03" >0</text>
<text x="108.53" y="356.64" font-size="4.8" fill="#444" text-anchor="middle" stroke="#444" stroke-width="0.03" >0</text>
<text x="115.39" y="356.64" font-size="4.8" fill="#444" text-anchor="middle" stroke="#444" stroke-width="0.03" >0</text>
<text x="122.25" y="356.64" font-size="4.8" fill="#444" text-anchor="middle" stroke="#444" stroke-width="0.03" >0</text>
<text x="129.11" y="356.64" font-size="4.8" fill="#444" text-anchor="middle" stroke="#444" stroke-width="0.03" >0</text>
<text x="135.97" y="356.64" font-size="4.8" fill="#444" text-anchor="middle" stroke="#444" stroke-width="0.03" >0</text>
<text x="142.83" y="356.64" font-size="4.8" fill="#444" text-anchor="middle" stroke="#444" stroke-width="0.03" >0</text>
<line x1="146.66" y1="352.32" x2="151.92" y2="357.56" stroke="#b0b0b0" stroke-width="0.45" />
<line x1="151.92" y1="352.32" x2="146.66" y2="357.56" stroke="#b0b0b0" stroke-width="0.45" />
<line x1="153.52" y1="352.32" x2="158.78" y2="357.56" stroke="#b0b0b0" stroke-width="0.45" />
<line x1="158.78" y1="352.32" x2="153.52" y2="357.56" stroke="#b0b0b0" stroke-width="0.45" />
<line x1="160.38" y1="352.32" x2="165.64" y2="357.56" stroke="#b0b0b0" stroke-width="0.45" />
<line x1="165.64" y1="352.32" x2="160.38" y2="357.56" stroke="#b0b0b0" stroke-width="0.45" />
<line x1="167.24" y1="352.32" x2="172.50" y2="357.56" stroke="#b0b0b0" stroke-width="0.45" />
<line x1="172.50" y1="352.32" x2="167.24" y2="357.56" stroke="#b0b0b0" stroke-width="0.45" />
<line x1="71.20" y1="359.16" x2="76.46" y2="364.40" stroke="#b0b0b0" stroke-width="0.45" />
<line x1="76.46" y1="359.16" x2="71.20" y2="364.40" stroke="#b0b0b0" stroke-width="0.45" />
<text x="81.09" y="363.48" font-size="4.8" fill="#444" text-anchor="middle" stroke="#444" stroke-width="0.03" >0</text>
<text x="87.95" y="363.48" font-size="4.8" fill="#444" text-anchor="middle" stroke="#444" stroke-width="0.03" >0</text>
<text x="94.81" y="363.48" font-size="4.8" fill="#444" text-anchor="middle" stroke="#444" stroke-width="0.03" >0</text>
<text x="101.67" y="363.48" font-size="4.8" fill="#444" text-anchor="middle" stroke="#444" stroke-width="0.03" >0</text>
<text x="108.53" y="363.48" font-size="4.8" fill="#444" text-anchor="middle" stroke="#444" stroke-width="0.03" >0</text>
<text x="115.39" y="363.48" font-size="4.8" fill="#444" text-anchor="middle" stroke="#444" stroke-width="0.03" >0</text>
<text x="122.25" y="363.48" font-size="4.8" fill="#444" text-anchor="middle" stroke="#444" stroke-width="0.03" >0</text>
<text x="129.11" y="363.48" font-size="4.8" fill="#444" text-anchor="middle" stroke="#444" stroke-width="0.03" >0</text>
<text x="135.97" y="363.48" font-size="4.8" fill="#444" text-anchor="middle" stroke="#444" stroke-width="0.03" >0</text>
<text x="142.83" y="363.48" font-size="4.8" fill="#444" text-anchor="middle" stroke="#444" stroke-width="0.03" >0</text>
<line x1="146.66" y1="359.16" x2="151.92" y2="364.40" stroke="#b0b0b0" stroke-width="0.45" />
<line x1="151.92" y1="359.16" x2="146.66" y2="364.40" stroke="#b0b0b0" stroke-width="0.45" />
<line x1="153.52" y1="359.16" x2="158.78" y2="364.40" stroke="#b0b0b0" stroke-width="0.45" />
<line x1="158.78" y1="359.16" x2="153.52" y2="364.40" stroke="#b0b0b0" stroke-width="0.45" />
<line x1="160.38" y1="359.16" x2="165.64" y2="364.40" stroke="#b0b0b0" stroke-width="0.45" />
<line x1="165.64" y1="359.16" x2="160.38" y2="364.40" stroke="#b0b0b0" stroke-width="0.45" />
<line x1="167.24" y1="359.16" x2="172.50" y2="364.40" stroke="#b0b0b0" stroke-width="0.45" />
<line x1="172.50" y1="359.16" x2="167.24" y2="364.40" stroke="#b0b0b0" stroke-width="0.45" />
<line x1="77.26" y1="331.00" x2="77.26" y2="365.20" stroke="#b4b4b4" stroke-width="0.45" />
<line x1="84.12" y1="331.00" x2="84.12" y2="365.20" stroke="#b4b4b4" stroke-width="0.45" />
<line x1="90.98" y1="331.00" x2="90.98" y2="365.20" stroke="#b4b4b4" stroke-width="0.45" />
<line x1="97.84" y1="331.00" x2="97.84" y2="365.20" stroke="#b4b4b4" stroke-width="0.45" />
<line x1="104.70" y1="331.00" x2="104.70" y2="365.20" stroke="#b4b4b4" stroke-width="0.45" />
<line x1="111.56" y1="331.00" x2="111.56" y2="365.20" stroke="#b4b4b4" stroke-width="0.45" />
<line x1="118.42" y1="331.00" x2="118.42" y2="365.20" stroke="#b4b4b4" stroke-width="0.45" />
<line x1="125.28" y1="331.00" x2="125.28" y2="365.20" stroke="#b4b4b4" stroke-width="0.45" />
<line x1="132.14" y1="331.00" x2="132.14" y2="365.20" stroke="#b4b4b4" stroke-width="0.45" />
<line x1="139.00" y1="331.00" x2="139.00" y2="365.20" stroke="#b4b4b4" stroke-width="0.45" />
<line x1="145.86" y1="331.00" x2="145.86" y2="365.20" stroke="#b4b4b4" stroke-width="0.45" />
<line x1="152.72" y1="331.00" x2="152.72" y2="365.20" stroke="#b4b4b4" stroke-width="0.45" />
<line x1="159.58" y1="331.00" x2="159.58" y2="365.20" stroke="#b4b4b4" stroke-width="0.45" />
<line x1="166.44" y1="331.00" x2="166.44" y2="365.20" stroke="#b4b4b4" stroke-width="0.45" />
<line x1="70.40" y1="337.84" x2="173.30" y2="337.84" stroke="#b4b4b4" stroke-width="0.45" />
<line x1="70.40" y1="344.68" x2="173.30" y2="344.68" stroke="#b4b4b4" stroke-width="0.45" />
<line x1="70.40" y1="351.52" x2="173.30" y2="351.52" stroke="#b4b4b4" stroke-width="0.45" />
<line x1="70.40" y1="358.36" x2="173.30" y2="358.36" stroke="#b4b4b4" stroke-width="0.45" />
<rect x="70.40" y="331.00" width="102.90" height="34.20" fill="none" stroke="#111" stroke-width="1.5" rx="1.2" />
<line x1="71.20" y1="368.10" x2="76.46" y2="373.33" stroke="#b0b0b0" stroke-width="0.45" />
<line x1="76.46" y1="368.10" x2="71.20" y2="373.33" stroke="#b0b0b0" stroke-width="0.45" />
<rect x="77.24" y="367.28" width="6.90" height="6.87" fill="#ffffff" stroke="none" stroke-width="0" rx="0" />
<rect x="84.10" y="367.28" width="6.90" height="6.87" fill="#f5f8fc" stroke="none" stroke-width="0" rx="0" />
<rect x="90.96" y="367.28" width="6.90" height="6.87" fill="#cd9696" stroke="none" stroke-width="0" rx="0" />
<rect x="97.82" y="367.28" width="6.90" height="6.87" fill="#f8efef" stroke="none" stroke-width="0" rx="0" />
<rect x="104.68" y="367.28" width="6.90" height="6.87" fill="#ebf0f9" stroke="none" stroke-width="0" rx="0" />
<rect x="111.54" y="367.28" width="6.90" height="6.87" fill="#ebf0f9" stroke="none" stroke-width="0" rx="0" />
<rect x="118.40" y="367.28" width="6.90" height="6.87" fill="#d7e2f4" stroke="none" stroke-width="0" rx="0" />
<rect x="125.26" y="367.28" width="6.90" height="6.87" fill="#d7e2f4" stroke="none" stroke-width="0" rx="0" />
<rect x="132.12" y="367.28" width="6.90" height="6.87" fill="#d7e2f4" stroke="none" stroke-width="0" rx="0" />
<rect x="138.98" y="367.28" width="6.90" height="6.87" fill="#d7e2f4" stroke="none" stroke-width="0" rx="0" />
<line x1="146.66" y1="368.10" x2="151.92" y2="373.33" stroke="#b0b0b0" stroke-width="0.45" />
<line x1="151.92" y1="368.10" x2="146.66" y2="373.33" stroke="#b0b0b0" stroke-width="0.45" />
<line x1="153.52" y1="368.10" x2="158.78" y2="373.33" stroke="#b0b0b0" stroke-width="0.45" />
<line x1="158.78" y1="368.10" x2="153.52" y2="373.33" stroke="#b0b0b0" stroke-width="0.45" />
<line x1="160.38" y1="368.10" x2="165.64" y2="373.33" stroke="#b0b0b0" stroke-width="0.45" />
<line x1="165.64" y1="368.10" x2="160.38" y2="373.33" stroke="#b0b0b0" stroke-width="0.45" />
<line x1="167.24" y1="368.10" x2="172.50" y2="373.33" stroke="#b0b0b0" stroke-width="0.45" />
<line x1="172.50" y1="368.10" x2="167.24" y2="373.33" stroke="#b0b0b0" stroke-width="0.45" />
<line x1="71.20" y1="374.93" x2="76.46" y2="380.17" stroke="#b0b0b0" stroke-width="0.45" />
<line x1="76.46" y1="374.93" x2="71.20" y2="380.17" stroke="#b0b0b0" stroke-width="0.45" />
<rect x="77.24" y="374.11" width="6.90" height="6.87" fill="#ffffff" stroke="none" stroke-width="0" rx="0" />
<rect x="84.10" y="374.11" width="6.90" height="6.87" fill="#ebf0f9" stroke="none" stroke-width="0" rx="0" />
<rect x="90.96" y="374.11" width="6.90" height="6.87" fill="#ebf0f9" stroke="none" stroke-width="0" rx="0" />
<rect x="97.82" y="374.11" width="6.90" height="6.87" fill="#ebf0f9" stroke="none" stroke-width="0" rx="0" />
<rect x="104.68" y="374.11" width="6.90" height="6.87" fill="#ebf0f9" stroke="none" stroke-width="0" rx="0" />
<rect x="111.54" y="374.11" width="6.90" height="6.87" fill="#ebf0f9" stroke="none" stroke-width="0" rx="0" />
<rect x="118.40" y="374.11" width="6.90" height="6.87" fill="#ebf0f9" stroke="none" stroke-width="0" rx="0" />
<rect x="125.26" y="374.11" width="6.90" height="6.87" fill="#ebf0f9" stroke="none" stroke-width="0" rx="0" />
<rect x="132.12" y="374.11" width="6.90" height="6.87" fill="#ebf0f9" stroke="none" stroke-width="0" rx="0" />
<rect x="138.98" y="374.11" width="6.90" height="6.87" fill="#ffffff" stroke="none" stroke-width="0" rx="0" />
<line x1="146.66" y1="374.93" x2="151.92" y2="380.17" stroke="#b0b0b0" stroke-width="0.45" />
<line x1="151.92" y1="374.93" x2="146.66" y2="380.17" stroke="#b0b0b0" stroke-width="0.45" />
<line x1="153.52" y1="374.93" x2="158.78" y2="380.17" stroke="#b0b0b0" stroke-width="0.45" />
<line x1="158.78" y1="374.93" x2="153.52" y2="380.17" stroke="#b0b0b0" stroke-width="0.45" />
<line x1="160.38" y1="374.93" x2="165.64" y2="380.17" stroke="#b0b0b0" stroke-width="0.45" />
<line x1="165.64" y1="374.93" x2="160.38" y2="380.17" stroke="#b0b0b0" stroke-width="0.45" />
<line x1="167.24" y1="374.93" x2="172.50" y2="380.17" stroke="#b0b0b0" stroke-width="0.45" />
<line x1="172.50" y1="374.93" x2="167.24" y2="380.17" stroke="#b0b0b0" stroke-width="0.45" />
<rect x="70.38" y="380.95" width="6.90" height="6.87" fill="#c3d3ee" stroke="none" stroke-width="0" rx="0" />
<rect x="77.24" y="380.95" width="6.90" height="6.87" fill="#c17c7c" stroke="none" stroke-width="0" rx="0" />
<rect x="84.10" y="380.95" width="6.90" height="6.87" fill="#f0e0e0" stroke="none" stroke-width="0" rx="0" />
<rect x="90.96" y="380.95" width="6.90" height="6.87" fill="#dab1b1" stroke="none" stroke-width="0" rx="0" />
<rect x="97.82" y="380.95" width="6.90" height="6.87" fill="#dab1b1" stroke="none" stroke-width="0" rx="0" />
<rect x="104.68" y="380.95" width="6.90" height="6.87" fill="#dab1b1" stroke="none" stroke-width="0" rx="0" />
<rect x="111.54" y="380.95" width="6.90" height="6.87" fill="#dab1b1" stroke="none" stroke-width="0" rx="0" />
<rect x="118.40" y="380.95" width="6.90" height="6.87" fill="#ffffff" stroke="none" stroke-width="0" rx="0" />
<rect x="125.26" y="380.95" width="6.90" height="6.87" fill="#d7e2f4" stroke="none" stroke-width="0" rx="0" />
<rect x="132.12" y="380.95" width="6.90" height="6.87" fill="#d7e2f4" stroke="none" stroke-width="0" rx="0" />
<rect x="138.98" y="380.95" width="6.90" height="6.87" fill="#d7e2f4" stroke="none" stroke-width="0" rx="0" />
<rect x="145.84" y="380.95" width="6.90" height="6.87" fill="#d7e2f4" stroke="none" stroke-width="0" rx="0" />
<rect x="152.70" y="380.95" width="6.90" height="6.87" fill="#d7e2f4" stroke="none" stroke-width="0" rx="0" />
<rect x="159.56" y="380.95" width="6.90" height="6.87" fill="#d7e2f4" stroke="none" stroke-width="0" rx="0" />
<rect x="166.42" y="380.95" width="6.90" height="6.87" fill="#d7e2f4" stroke="none" stroke-width="0" rx="0" />
<rect x="70.38" y="387.78" width="6.90" height="6.87" fill="#c3d3ee" stroke="none" stroke-width="0" rx="0" />
<rect x="77.24" y="387.78" width="6.90" height="6.87" fill="#c3d3ee" stroke="none" stroke-width="0" rx="0" />
<rect x="84.10" y="387.78" width="6.90" height="6.87" fill="#ffffff" stroke="none" stroke-width="0" rx="0" />
<rect x="90.96" y="387.78" width="6.90" height="6.87" fill="#f0e0e0" stroke="none" stroke-width="0" rx="0" />
<rect x="97.82" y="387.78" width="6.90" height="6.87" fill="#ebf0f9" stroke="none" stroke-width="0" rx="0" />
<rect x="104.68" y="387.78" width="6.90" height="6.87" fill="#c3d3ee" stroke="none" stroke-width="0" rx="0" />
<rect x="111.54" y="387.78" width="6.90" height="6.87" fill="#c3d3ee" stroke="none" stroke-width="0" rx="0" />
<rect x="118.40" y="387.78" width="6.90" height="6.87" fill="#ffffff" stroke="none" stroke-width="0" rx="0" />
<rect x="125.26" y="387.78" width="6.90" height="6.87" fill="#aec5e9" stroke="none" stroke-width="0" rx="0" />
<rect x="132.12" y="387.78" width="6.90" height="6.87" fill="#d7e2f4" stroke="none" stroke-width="0" rx="0" />
<rect x="138.98" y="387.78" width="6.90" height="6.87" fill="#d7e2f4" stroke="none" stroke-width="0" rx="0" />
<rect x="145.84" y="387.78" width="6.90" height="6.87" fill="#c3d3ee" stroke="none" stroke-width="0" rx="0" />
<rect x="152.70" y="387.78" width="6.90" height="6.87" fill="#d7e2f4" stroke="none" stroke-width="0" rx="0" />
<rect x="159.56" y="387.78" width="6.90" height="6.87" fill="#d7e2f4" stroke="none" stroke-width="0" rx="0" />
<rect x="166.42" y="387.78" width="6.90" height="6.87" fill="#d7e2f4" stroke="none" stroke-width="0" rx="0" />
<rect x="70.38" y="394.61" width="6.90" height="6.87" fill="#d7e2f4" stroke="none" stroke-width="0" rx="0" />
<rect x="77.24" y="394.61" width="6.90" height="6.87" fill="#dab1b1" stroke="none" stroke-width="0" rx="0" />
<rect x="84.10" y="394.61" width="6.90" height="6.87" fill="#ffffff" stroke="none" stroke-width="0" rx="0" />
<rect x="90.96" y="394.61" width="6.90" height="6.87" fill="#dab1b1" stroke="none" stroke-width="0" rx="0" />
<rect x="97.82" y="394.61" width="6.90" height="6.87" fill="#f0e0e0" stroke="none" stroke-width="0" rx="0" />
<rect x="104.68" y="394.61" width="6.90" height="6.87" fill="#e6cbcb" stroke="none" stroke-width="0" rx="0" />
<rect x="111.54" y="394.61" width="6.90" height="6.87" fill="#f0e0e0" stroke="none" stroke-width="0" rx="0" />
<rect x="118.40" y="394.61" width="6.90" height="6.87" fill="#ebf0f9" stroke="none" stroke-width="0" rx="0" />
<rect x="125.26" y="394.61" width="6.90" height="6.87" fill="#d7e2f4" stroke="none" stroke-width="0" rx="0" />
<rect x="132.12" y="394.61" width="6.90" height="6.87" fill="#d7e2f4" stroke="none" stroke-width="0" rx="0" />
<rect x="138.98" y="394.61" width="6.90" height="6.87" fill="#d7e2f4" stroke="none" stroke-width="0" rx="0" />
<rect x="145.84" y="394.61" width="6.90" height="6.87" fill="#d7e2f4" stroke="none" stroke-width="0" rx="0" />
<rect x="152.70" y="394.61" width="6.90" height="6.87" fill="#d7e2f4" stroke="none" stroke-width="0" rx="0" />
<rect x="159.56" y="394.61" width="6.90" height="6.87" fill="#d7e2f4" stroke="none" stroke-width="0" rx="0" />
<rect x="166.42" y="394.61" width="6.90" height="6.87" fill="#d7e2f4" stroke="none" stroke-width="0" rx="0" />
<rect x="70.38" y="401.45" width="6.90" height="6.87" fill="#ebf0f9" stroke="none" stroke-width="0" rx="0" />
<rect x="77.24" y="401.45" width="6.90" height="6.87" fill="#f5f8fc" stroke="none" stroke-width="0" rx="0" />
<rect x="84.10" y="401.45" width="6.90" height="6.87" fill="#ffffff" stroke="none" stroke-width="0" rx="0" />
<rect x="90.96" y="401.45" width="6.90" height="6.87" fill="#ffffff" stroke="none" stroke-width="0" rx="0" />
<rect x="97.82" y="401.45" width="6.90" height="6.87" fill="#ffffff" stroke="none" stroke-width="0" rx="0" />
<rect x="104.68" y="401.45" width="6.90" height="6.87" fill="#ffffff" stroke="none" stroke-width="0" rx="0" />
<rect x="111.54" y="401.45" width="6.90" height="6.87" fill="#ffffff" stroke="none" stroke-width="0" rx="0" />
<rect x="118.40" y="401.45" width="6.90" height="6.87" fill="#f5f8fc" stroke="none" stroke-width="0" rx="0" />
<rect x="125.26" y="401.45" width="6.90" height="6.87" fill="#f5f8fc" stroke="none" stroke-width="0" rx="0" />
<rect x="132.12" y="401.45" width="6.90" height="6.87" fill="#f5f8fc" stroke="none" stroke-width="0" rx="0" />
<rect x="138.98" y="401.45" width="6.90" height="6.87" fill="#f5f8fc" stroke="none" stroke-width="0" rx="0" />
<rect x="145.84" y="401.45" width="6.90" height="6.87" fill="#ffffff" stroke="none" stroke-width="0" rx="0" />
<rect x="152.70" y="401.45" width="6.90" height="6.87" fill="#ffffff" stroke="none" stroke-width="0" rx="0" />
<rect x="159.56" y="401.45" width="6.90" height="6.87" fill="#ffffff" stroke="none" stroke-width="0" rx="0" />
<rect x="166.42" y="401.45" width="6.90" height="6.87" fill="#ffffff" stroke="none" stroke-width="0" rx="0" />
<rect x="70.38" y="408.28" width="6.90" height="6.87" fill="#d7e2f4" stroke="none" stroke-width="0" rx="0" />
<rect x="77.24" y="408.28" width="6.90" height="6.87" fill="#b46262" stroke="none" stroke-width="0" rx="0" />
<rect x="84.10" y="408.28" width="6.90" height="6.87" fill="#ffffff" stroke="none" stroke-width="0" rx="0" />
<rect x="90.96" y="408.28" width="6.90" height="6.87" fill="#dab1b1" stroke="none" stroke-width="0" rx="0" />
<rect x="97.82" y="408.28" width="6.90" height="6.87" fill="#dab1b1" stroke="none" stroke-width="0" rx="0" />
<rect x="104.68" y="408.28" width="6.90" height="6.87" fill="#cd9696" stroke="none" stroke-width="0" rx="0" />
<rect x="111.54" y="408.28" width="6.90" height="6.87" fill="#dab1b1" stroke="none" stroke-width="0" rx="0" />
<rect x="118.40" y="408.28" width="6.90" height="6.87" fill="#ffffff" stroke="none" stroke-width="0" rx="0" />
<rect x="125.26" y="408.28" width="6.90" height="6.87" fill="#d7e2f4" stroke="none" stroke-width="0" rx="0" />
<rect x="132.12" y="408.28" width="6.90" height="6.87" fill="#d7e2f4" stroke="none" stroke-width="0" rx="0" />
<rect x="138.98" y="408.28" width="6.90" height="6.87" fill="#d7e2f4" stroke="none" stroke-width="0" rx="0" />
<rect x="145.84" y="408.28" width="6.90" height="6.87" fill="#d7e2f4" stroke="none" stroke-width="0" rx="0" />
<rect x="152.70" y="408.28" width="6.90" height="6.87" fill="#d7e2f4" stroke="none" stroke-width="0" rx="0" />
<rect x="159.56" y="408.28" width="6.90" height="6.87" fill="#d7e2f4" stroke="none" stroke-width="0" rx="0" />
<rect x="166.42" y="408.28" width="6.90" height="6.87" fill="#d7e2f4" stroke="none" stroke-width="0" rx="0" />
<rect x="70.38" y="415.11" width="6.90" height="6.87" fill="#ebf0f9" stroke="none" stroke-width="0" rx="0" />
<rect x="77.24" y="415.11" width="6.90" height="6.87" fill="#f0e0e0" stroke="none" stroke-width="0" rx="0" />
<rect x="84.10" y="415.11" width="6.90" height="6.87" fill="#f0e0e0" stroke="none" stroke-width="0" rx="0" />
<rect x="90.96" y="415.11" width="6.90" height="6.87" fill="#ffffff" stroke="none" stroke-width="0" rx="0" />
<rect x="97.82" y="415.11" width="6.90" height="6.87" fill="#ffffff" stroke="none" stroke-width="0" rx="0" />
<rect x="104.68" y="415.11" width="6.90" height="6.87" fill="#ffffff" stroke="none" stroke-width="0" rx="0" />
<rect x="111.54" y="415.11" width="6.90" height="6.87" fill="#ffffff" stroke="none" stroke-width="0" rx="0" />
<rect x="118.40" y="415.11" width="6.90" height="6.87" fill="#ebf0f9" stroke="none" stroke-width="0" rx="0" />
<rect x="125.26" y="415.11" width="6.90" height="6.87" fill="#ebf0f9" stroke="none" stroke-width="0" rx="0" />
<rect x="132.12" y="415.11" width="6.90" height="6.87" fill="#ebf0f9" stroke="none" stroke-width="0" rx="0" />
<rect x="138.98" y="415.11" width="6.90" height="6.87" fill="#ebf0f9" stroke="none" stroke-width="0" rx="0" />
<rect x="145.84" y="415.11" width="6.90" height="6.87" fill="#ffffff" stroke="none" stroke-width="0" rx="0" />
<rect x="152.70" y="415.11" width="6.90" height="6.87" fill="#ffffff" stroke="none" stroke-width="0" rx="0" />
<rect x="159.56" y="415.11" width="6.90" height="6.87" fill="#f8efef" stroke="none" stroke-width="0" rx="0" />
<rect x="166.42" y="415.11" width="6.90" height="6.87" fill="#ffffff" stroke="none" stroke-width="0" rx="0" />
<rect x="70.38" y="421.95" width="6.90" height="6.87" fill="#d7e2f4" stroke="none" stroke-width="0" rx="0" />
<rect x="77.24" y="421.95" width="6.90" height="6.87" fill="#f0e0e0" stroke="none" stroke-width="0" rx="0" />
<rect x="84.10" y="421.95" width="6.90" height="6.87" fill="#f0e0e0" stroke="none" stroke-width="0" rx="0" />
<rect x="90.96" y="421.95" width="6.90" height="6.87" fill="#ffffff" stroke="none" stroke-width="0" rx="0" />
<rect x="97.82" y="421.95" width="6.90" height="6.87" fill="#ffffff" stroke="none" stroke-width="0" rx="0" />
<rect x="104.68" y="421.95" width="6.90" height="6.87" fill="#ffffff" stroke="none" stroke-width="0" rx="0" />
<rect x="111.54" y="421.95" width="6.90" height="6.87" fill="#ffffff" stroke="none" stroke-width="0" rx="0" />
<rect x="118.40" y="421.95" width="6.90" height="6.87" fill="#ebf0f9" stroke="none" stroke-width="0" rx="0" />
<rect x="125.26" y="421.95" width="6.90" height="6.87" fill="#ebf0f9" stroke="none" stroke-width="0" rx="0" />
<rect x="132.12" y="421.95" width="6.90" height="6.87" fill="#ebf0f9" stroke="none" stroke-width="0" rx="0" />
<rect x="138.98" y="421.95" width="6.90" height="6.87" fill="#ebf0f9" stroke="none" stroke-width="0" rx="0" />
<rect x="145.84" y="421.95" width="6.90" height="6.87" fill="#ebf0f9" stroke="none" stroke-width="0" rx="0" />
<rect x="152.70" y="421.95" width="6.90" height="6.87" fill="#ebf0f9" stroke="none" stroke-width="0" rx="0" />
<rect x="159.56" y="421.95" width="6.90" height="6.87" fill="#ffffff" stroke="none" stroke-width="0" rx="0" />
<rect x="166.42" y="421.95" width="6.90" height="6.87" fill="#ebf0f9" stroke="none" stroke-width="0" rx="0" />
<rect x="70.38" y="428.78" width="6.90" height="6.87" fill="#ebf0f9" stroke="none" stroke-width="0" rx="0" />
<rect x="77.24" y="428.78" width="6.90" height="6.87" fill="#d7e2f4" stroke="none" stroke-width="0" rx="0" />
<rect x="84.10" y="428.78" width="6.90" height="6.87" fill="#f0e0e0" stroke="none" stroke-width="0" rx="0" />
<rect x="90.96" y="428.78" width="6.90" height="6.87" fill="#ffffff" stroke="none" stroke-width="0" rx="0" />
<rect x="97.82" y="428.78" width="6.90" height="6.87" fill="#d7e2f4" stroke="none" stroke-width="0" rx="0" />
<rect x="104.68" y="428.78" width="6.90" height="6.87" fill="#d7e2f4" stroke="none" stroke-width="0" rx="0" />
<rect x="111.54" y="428.78" width="6.90" height="6.87" fill="#d7e2f4" stroke="none" stroke-width="0" rx="0" />
<rect x="118.40" y="428.78" width="6.90" height="6.87" fill="#d7e2f4" stroke="none" stroke-width="0" rx="0" />
<rect x="125.26" y="428.78" width="6.90" height="6.87" fill="#d7e2f4" stroke="none" stroke-width="0" rx="0" />
<rect x="132.12" y="428.78" width="6.90" height="6.87" fill="#d7e2f4" stroke="none" stroke-width="0" rx="0" />
<rect x="138.98" y="428.78" width="6.90" height="6.87" fill="#d7e2f4" stroke="none" stroke-width="0" rx="0" />
<rect x="145.84" y="428.78" width="6.90" height="6.87" fill="#d7e2f4" stroke="none" stroke-width="0" rx="0" />
<rect x="152.70" y="428.78" width="6.90" height="6.87" fill="#d7e2f4" stroke="none" stroke-width="0" rx="0" />
<rect x="159.56" y="428.78" width="6.90" height="6.87" fill="#d7e2f4" stroke="none" stroke-width="0" rx="0" />
<rect x="166.42" y="428.78" width="6.90" height="6.87" fill="#d7e2f4" stroke="none" stroke-width="0" rx="0" />
<rect x="70.38" y="435.61" width="6.90" height="6.87" fill="#d7e2f4" stroke="none" stroke-width="0" rx="0" />
<rect x="77.24" y="435.61" width="6.90" height="6.87" fill="#b46262" stroke="none" stroke-width="0" rx="0" />
<rect x="84.10" y="435.61" width="6.90" height="6.87" fill="#cd9696" stroke="none" stroke-width="0" rx="0" />
<rect x="90.96" y="435.61" width="6.90" height="6.87" fill="#cd9696" stroke="none" stroke-width="0" rx="0" />
<rect x="97.82" y="435.61" width="6.90" height="6.87" fill="#cd9696" stroke="none" stroke-width="0" rx="0" />
<rect x="104.68" y="435.61" width="6.90" height="6.87" fill="#cd9696" stroke="none" stroke-width="0" rx="0" />
<rect x="111.54" y="435.61" width="6.90" height="6.87" fill="#dab1b1" stroke="none" stroke-width="0" rx="0" />
<rect x="118.40" y="435.61" width="6.90" height="6.87" fill="#ffffff" stroke="none" stroke-width="0" rx="0" />
<rect x="125.26" y="435.61" width="6.90" height="6.87" fill="#ffffff" stroke="none" stroke-width="0" rx="0" />
<rect x="132.12" y="435.61" width="6.90" height="6.87" fill="#ebf0f9" stroke="none" stroke-width="0" rx="0" />
<rect x="138.98" y="435.61" width="6.90" height="6.87" fill="#ebf0f9" stroke="none" stroke-width="0" rx="0" />
<rect x="145.84" y="435.61" width="6.90" height="6.87" fill="#f5f8fc" stroke="none" stroke-width="0" rx="0" />
<rect x="152.70" y="435.61" width="6.90" height="6.87" fill="#ffffff" stroke="none" stroke-width="0" rx="0" />
<rect x="159.56" y="435.61" width="6.90" height="6.87" fill="#f5f8fc" stroke="none" stroke-width="0" rx="0" />
<rect x="166.42" y="435.61" width="6.90" height="6.87" fill="#f5f8fc" stroke="none" stroke-width="0" rx="0" />
<rect x="70.38" y="442.45" width="6.90" height="6.87" fill="#d7e2f4" stroke="none" stroke-width="0" rx="0" />
<rect x="77.24" y="442.45" width="6.90" height="6.87" fill="#cd9696" stroke="none" stroke-width="0" rx="0" />
<rect x="84.10" y="442.45" width="6.90" height="6.87" fill="#f0e0e0" stroke="none" stroke-width="0" rx="0" />
<rect x="90.96" y="442.45" width="6.90" height="6.87" fill="#cd9696" stroke="none" stroke-width="0" rx="0" />
<rect x="97.82" y="442.45" width="6.90" height="6.87" fill="#cd9696" stroke="none" stroke-width="0" rx="0" />
<rect x="104.68" y="442.45" width="6.90" height="6.87" fill="#dab1b1" stroke="none" stroke-width="0" rx="0" />
<rect x="111.54" y="442.45" width="6.90" height="6.87" fill="#e6cbcb" stroke="none" stroke-width="0" rx="0" />
<rect x="118.40" y="442.45" width="6.90" height="6.87" fill="#f0e0e0" stroke="none" stroke-width="0" rx="0" />
<rect x="125.26" y="442.45" width="6.90" height="6.87" fill="#ebf0f9" stroke="none" stroke-width="0" rx="0" />
<rect x="132.12" y="442.45" width="6.90" height="6.87" fill="#ebf0f9" stroke="none" stroke-width="0" rx="0" />
<rect x="138.98" y="442.45" width="6.90" height="6.87" fill="#ebf0f9" stroke="none" stroke-width="0" rx="0" />
<rect x="145.84" y="442.45" width="6.90" height="6.87" fill="#ebf0f9" stroke="none" stroke-width="0" rx="0" />
<rect x="152.70" y="442.45" width="6.90" height="6.87" fill="#ebf0f9" stroke="none" stroke-width="0" rx="0" />
<rect x="159.56" y="442.45" width="6.90" height="6.87" fill="#ebf0f9" stroke="none" stroke-width="0" rx="0" />
<rect x="166.42" y="442.45" width="6.90" height="6.87" fill="#ebf0f9" stroke="none" stroke-width="0" rx="0" />
<line x1="77.26" y1="367.30" x2="77.26" y2="449.30" stroke="#949494" stroke-width="0.45" />
<line x1="84.12" y1="367.30" x2="84.12" y2="449.30" stroke="#949494" stroke-width="0.45" />
<line x1="90.98" y1="367.30" x2="90.98" y2="449.30" stroke="#949494" stroke-width="0.45" />
<line x1="97.84" y1="367.30" x2="97.84" y2="449.30" stroke="#949494" stroke-width="0.45" />
<line x1="104.70" y1="367.30" x2="104.70" y2="449.30" stroke="#949494" stroke-width="0.45" />
<line x1="111.56" y1="367.30" x2="111.56" y2="449.30" stroke="#949494" stroke-width="0.45" />
<line x1="118.42" y1="367.30" x2="118.42" y2="449.30" stroke="#949494" stroke-width="0.45" />
<line x1="125.28" y1="367.30" x2="125.28" y2="449.30" stroke="#949494" stroke-width="0.45" />
<line x1="132.14" y1="367.30" x2="132.14" y2="449.30" stroke="#949494" stroke-width="0.45" />
<line x1="139.00" y1="367.30" x2="139.00" y2="449.30" stroke="#949494" stroke-width="0.45" />
<line x1="145.86" y1="367.30" x2="145.86" y2="449.30" stroke="#949494" stroke-width="0.45" />
<line x1="152.72" y1="367.30" x2="152.72" y2="449.30" stroke="#949494" stroke-width="0.45" />
<line x1="159.58" y1="367.30" x2="159.58" y2="449.30" stroke="#949494" stroke-width="0.45" />
<line x1="166.44" y1="367.30" x2="166.44" y2="449.30" stroke="#949494" stroke-width="0.45" />
<line x1="70.40" y1="374.13" x2="173.30" y2="374.13" stroke="#949494" stroke-width="0.45" />
<line x1="70.40" y1="380.97" x2="173.30" y2="380.97" stroke="#949494" stroke-width="0.45" />
<line x1="70.40" y1="387.80" x2="173.30" y2="387.80" stroke="#949494" stroke-width="0.45" />
<line x1="70.40" y1="394.63" x2="173.30" y2="394.63" stroke="#949494" stroke-width="0.45" />
<line x1="70.40" y1="401.47" x2="173.30" y2="401.47" stroke="#949494" stroke-width="0.45" />
<line x1="70.40" y1="408.30" x2="173.30" y2="408.30" stroke="#949494" stroke-width="0.45" />
<line x1="70.40" y1="415.13" x2="173.30" y2="415.13" stroke="#949494" stroke-width="0.45" />
<line x1="70.40" y1="421.97" x2="173.30" y2="421.97" stroke="#949494" stroke-width="0.45" />
<line x1="70.40" y1="428.80" x2="173.30" y2="428.80" stroke="#949494" stroke-width="0.45" />
<line x1="70.40" y1="435.63" x2="173.30" y2="435.63" stroke="#949494" stroke-width="0.45" />
<line x1="70.40" y1="442.47" x2="173.30" y2="442.47" stroke="#949494" stroke-width="0.45" />
<line x1="70.40" y1="380.97" x2="173.30" y2="380.97" stroke="#555" stroke-width="0.6" />
<rect x="70.40" y="367.30" width="102.90" height="82.00" fill="none" stroke="#111" stroke-width="1.5" rx="1.2" />
<line x1="73.83" y1="450.10" x2="73.83" y2="452.30" stroke="#111" stroke-width="0.8" />
<text x="73.83" y="460.90" font-size="5.8" fill="#222" text-anchor="middle" stroke="#222" stroke-width="0.04" textLength="6.5" lengthAdjust="spacingAndGlyphs" >-3</text>
<line x1="80.69" y1="450.10" x2="80.69" y2="452.30" stroke="#111" stroke-width="0.8" />
<text x="80.69" y="460.90" font-size="5.8" fill="#222" text-anchor="middle" stroke="#222" stroke-width="0.04" >0</text>
<line x1="87.55" y1="450.10" x2="87.55" y2="452.30" stroke="#111" stroke-width="0.8" />
<text x="87.55" y="460.90" font-size="5.8" fill="#222" text-anchor="middle" stroke="#222" stroke-width="0.04" >1</text>
<line x1="94.41" y1="450.10" x2="94.41" y2="452.30" stroke="#111" stroke-width="0.8" />
<text x="94.41" y="460.90" font-size="5.8" fill="#222" text-anchor="middle" stroke="#222" stroke-width="0.04" >3</text>
<line x1="101.27" y1="450.10" x2="101.27" y2="452.30" stroke="#111" stroke-width="0.8" />
<text x="101.27" y="460.90" font-size="5.8" fill="#222" text-anchor="middle" stroke="#222" stroke-width="0.04" >7</text>
<line x1="108.13" y1="450.10" x2="108.13" y2="452.30" stroke="#111" stroke-width="0.8" />
<text x="108.13" y="460.90" font-size="5.8" fill="#222" text-anchor="middle" stroke="#222" stroke-width="0.04" >9</text>
<line x1="114.99" y1="450.10" x2="114.99" y2="452.30" stroke="#111" stroke-width="0.8" />
<text x="114.99" y="460.90" font-size="5.8" fill="#222" text-anchor="middle" stroke="#222" stroke-width="0.04" textLength="6.5" lengthAdjust="spacingAndGlyphs" >11</text>
<line x1="121.85" y1="450.10" x2="121.85" y2="452.30" stroke="#111" stroke-width="0.8" />
<text x="121.85" y="460.90" font-size="5.8" fill="#222" text-anchor="middle" stroke="#222" stroke-width="0.04" textLength="6.5" lengthAdjust="spacingAndGlyphs" >14</text>
<line x1="128.71" y1="450.10" x2="128.71" y2="452.30" stroke="#111" stroke-width="0.8" />
<text x="128.71" y="460.90" font-size="5.8" fill="#222" text-anchor="middle" stroke="#222" stroke-width="0.04" textLength="6.5" lengthAdjust="spacingAndGlyphs" >21</text>
<line x1="135.57" y1="450.10" x2="135.57" y2="452.30" stroke="#111" stroke-width="0.8" />
<text x="135.57" y="460.90" font-size="5.8" fill="#222" text-anchor="middle" stroke="#222" stroke-width="0.04" textLength="6.5" lengthAdjust="spacingAndGlyphs" >23</text>
<line x1="142.43" y1="450.10" x2="142.43" y2="452.30" stroke="#111" stroke-width="0.8" />
<text x="142.43" y="460.90" font-size="5.8" fill="#222" text-anchor="middle" stroke="#222" stroke-width="0.04" textLength="6.5" lengthAdjust="spacingAndGlyphs" >28</text>
<line x1="149.29" y1="450.10" x2="149.29" y2="452.30" stroke="#111" stroke-width="0.8" />
<text x="149.29" y="460.90" font-size="5.8" fill="#222" text-anchor="middle" stroke="#222" stroke-width="0.04" textLength="6.5" lengthAdjust="spacingAndGlyphs" >35</text>
<line x1="156.15" y1="450.10" x2="156.15" y2="452.30" stroke="#111" stroke-width="0.8" />
<text x="156.15" y="460.90" font-size="5.8" fill="#222" text-anchor="middle" stroke="#222" stroke-width="0.04" textLength="6.5" lengthAdjust="spacingAndGlyphs" >38</text>
<line x1="163.01" y1="450.10" x2="163.01" y2="452.30" stroke="#111" stroke-width="0.8" />
<text x="163.01" y="460.90" font-size="5.8" fill="#222" text-anchor="middle" stroke="#222" stroke-width="0.04" textLength="6.5" lengthAdjust="spacingAndGlyphs" >43</text>
<line x1="169.87" y1="450.10" x2="169.87" y2="452.30" stroke="#111" stroke-width="0.8" />
<text x="169.87" y="460.90" font-size="5.8" fill="#222" text-anchor="middle" stroke="#222" stroke-width="0.04" textLength="6.5" lengthAdjust="spacingAndGlyphs" >50</text>
<text x="121.85" y="326.30" font-size="7.7" fill="#222" text-anchor="middle" stroke="#222" stroke-width="0.06" textLength="34.0" lengthAdjust="spacingAndGlyphs" >Patient 05</text>
<text x="121.85" y="469.30" font-size="7.6" fill="#222" text-anchor="middle" stroke="#222" stroke-width="0.06" textLength="27.7" lengthAdjust="spacingAndGlyphs" >Time (day)</text>
<line x1="67.00" y1="334.42" x2="69.90" y2="334.42" stroke="#222" stroke-width="1.0" />
<text x="64.20" y="336.42" font-size="5.6" fill="#222" text-anchor="end" stroke="#222" stroke-width="0.05" >CRS</text>
<line x1="67.00" y1="341.26" x2="69.90" y2="341.26" stroke="#222" stroke-width="1.0" />
<text x="64.20" y="343.26" font-size="5.6" fill="#222" text-anchor="end" stroke="#222" stroke-width="0.05" >CRES</text>
<line x1="67.00" y1="348.10" x2="69.90" y2="348.10" stroke="#222" stroke-width="1.0" />
<text x="64.20" y="350.10" font-size="5.6" fill="#222" text-anchor="end" stroke="#222" stroke-width="0.05" >Fever</text>
<line x1="67.00" y1="354.94" x2="69.90" y2="354.94" stroke="#222" stroke-width="1.0" />
<text x="64.20" y="356.94" font-size="5.6" fill="#222" text-anchor="end" stroke="#222" stroke-width="0.05" >Hypotension</text>
<line x1="67.00" y1="361.78" x2="69.90" y2="361.78" stroke="#222" stroke-width="1.0" />
<text x="64.20" y="363.78" font-size="5.6" fill="#222" text-anchor="end" stroke="#222" stroke-width="0.05" >Hypoxia</text>
<line x1="67.00" y1="370.72" x2="69.90" y2="370.72" stroke="#222" stroke-width="1.0" />
<text x="64.20" y="372.72" font-size="5.6" fill="#222" text-anchor="end" stroke="#222" stroke-width="0.05" >CRP</text>
<line x1="67.00" y1="377.55" x2="69.90" y2="377.55" stroke="#222" stroke-width="1.0" />
<text x="64.20" y="379.55" font-size="5.6" fill="#222" text-anchor="end" stroke="#222" stroke-width="0.05" >Ferritin</text>
<line x1="67.00" y1="384.38" x2="69.90" y2="384.38" stroke="#222" stroke-width="1.0" />
<text x="64.20" y="386.38" font-size="5.6" fill="#222" text-anchor="end" stroke="#222" stroke-width="0.05" >IL-1β</text>
<line x1="67.00" y1="391.22" x2="69.90" y2="391.22" stroke="#222" stroke-width="1.0" />
<text x="64.20" y="393.22" font-size="5.6" fill="#222" text-anchor="end" stroke="#222" stroke-width="0.05" >TNF-α</text>
<line x1="67.00" y1="398.05" x2="69.90" y2="398.05" stroke="#222" stroke-width="1.0" />
<text x="64.20" y="400.05" font-size="5.6" fill="#222" text-anchor="end" stroke="#222" stroke-width="0.05" >IL-10</text>
<line x1="67.00" y1="404.88" x2="69.90" y2="404.88" stroke="#222" stroke-width="1.0" />
<text x="64.20" y="406.88" font-size="5.6" fill="#222" text-anchor="end" stroke="#222" stroke-width="0.05" >IL-6</text>
<line x1="67.00" y1="411.72" x2="69.90" y2="411.72" stroke="#222" stroke-width="1.0" />
<text x="64.20" y="413.72" font-size="5.6" fill="#222" text-anchor="end" stroke="#222" stroke-width="0.05" >IL-12</text>
<line x1="67.00" y1="418.55" x2="69.90" y2="418.55" stroke="#222" stroke-width="1.0" />
<text x="64.20" y="420.55" font-size="5.6" fill="#222" text-anchor="end" stroke="#222" stroke-width="0.05" >MCP-1</text>
<line x1="67.00" y1="425.38" x2="69.90" y2="425.38" stroke="#222" stroke-width="1.0" />
<text x="64.20" y="427.38" font-size="5.6" fill="#222" text-anchor="end" stroke="#222" stroke-width="0.05" >IFN-γ</text>
<line x1="67.00" y1="432.22" x2="69.90" y2="432.22" stroke="#222" stroke-width="1.0" />
<text x="64.20" y="434.22" font-size="5.6" fill="#222" text-anchor="end" stroke="#222" stroke-width="0.05" >IL-2</text>
<line x1="67.00" y1="439.05" x2="69.90" y2="439.05" stroke="#222" stroke-width="1.0" />
<text x="64.20" y="441.05" font-size="5.6" fill="#222" text-anchor="end" stroke="#222" stroke-width="0.05" >IL-8</text>
<line x1="67.00" y1="445.88" x2="69.90" y2="445.88" stroke="#222" stroke-width="1.0" />
<text x="64.20" y="447.88" font-size="5.6" fill="#222" text-anchor="end" stroke="#222" stroke-width="0.05" >IL-17A</text>
<path d="M36.60,331.92 H33.00 V378.05 H36.60" fill="none" stroke="#222" stroke-width="1.4"/>
<path d="M36.60,383.18 H33.00 V446.38 H36.60" fill="none" stroke="#222" stroke-width="1.4"/>
<text x="28.30" y="354.99" font-size="5.6" fill="#333" text-anchor="middle" stroke="#333" stroke-width="0.03" textLength="38.5" lengthAdjust="spacingAndGlyphs" transform="rotate(-90 28.30 354.99)" >Clinical Markers</text>
<text x="28.30" y="414.78" font-size="5.7" fill="#333" text-anchor="middle" stroke="#333" stroke-width="0.03" textLength="24.3" lengthAdjust="spacingAndGlyphs" transform="rotate(-90 28.30 414.78)" >Cytokines</text>
<rect x="181.90" y="367.60" width="8.9" height="82.90" fill="url(#cbgrad)" stroke="#333" stroke-width="0.5"/>
<line x1="189.20" y1="367.60" x2="192.40" y2="367.60" stroke="#222" stroke-width="0.7" />
<line x1="181.40" y1="367.60" x2="183.10" y2="367.60" stroke="#222" stroke-width="0.7" />
<text x="194.60" y="369.50" font-size="5.2" fill="#333" text-anchor="start" stroke="#333" stroke-width="0.03" >6</text>
<line x1="189.20" y1="386.02" x2="192.40" y2="386.02" stroke="#222" stroke-width="0.7" />
<line x1="181.40" y1="386.02" x2="183.10" y2="386.02" stroke="#222" stroke-width="0.7" />
<text x="194.60" y="387.92" font-size="5.2" fill="#333" text-anchor="start" stroke="#333" stroke-width="0.03" >4</text>
<line x1="189.20" y1="404.44" x2="192.40" y2="404.44" stroke="#222" stroke-width="0.7" />
<line x1="181.40" y1="404.44" x2="183.10" y2="404.44" stroke="#222" stroke-width="0.7" />
<text x="194.60" y="406.34" font-size="5.2" fill="#333" text-anchor="start" stroke="#333" stroke-width="0.03" >2</text>
<line x1="189.20" y1="422.87" x2="192.40" y2="422.87" stroke="#222" stroke-width="0.7" />
<line x1="181.40" y1="422.87" x2="183.10" y2="422.87" stroke="#222" stroke-width="0.7" />
<text x="194.60" y="424.77" font-size="5.2" fill="#333" text-anchor="start" stroke="#333" stroke-width="0.03" >0</text>
<line x1="189.20" y1="441.29" x2="192.40" y2="441.29" stroke="#222" stroke-width="0.7" />
<line x1="181.40" y1="441.29" x2="183.10" y2="441.29" stroke="#222" stroke-width="0.7" />
<text x="194.60" y="443.19" font-size="5.2" fill="#333" text-anchor="start" stroke="#333" stroke-width="0.03" >-2</text>
<text x="192.10" y="361.20" font-size="5.6" fill="#333" text-anchor="middle" stroke="#333" stroke-width="0.06" textLength="28" lengthAdjust="spacingAndGlyphs" >Abundance</text>
<text x="186.35" y="454.00" font-size="5.4" fill="#333" text-anchor="middle" stroke="#333" stroke-width="0.06" textLength="20.2" lengthAdjust="spacingAndGlyphs" >(z-score)</text>
<rect x="208.50" y="392.90" width="11.00" height="10.66" fill="#bf5e28" stroke="#aaa" stroke-width="0.5" rx="0" />
<text x="214.00" y="400.23" font-size="5.4" fill="#333" text-anchor="middle" stroke="#333" stroke-width="0.06" >4</text>
<rect x="208.50" y="403.56" width="11.00" height="10.66" fill="#d28343" stroke="#aaa" stroke-width="0.5" rx="0" />
<text x="214.00" y="410.89" font-size="5.4" fill="#333" text-anchor="middle" stroke="#333" stroke-width="0.06" >3</text>
<rect x="208.50" y="414.22" width="11.00" height="10.66" fill="#e2aa7b" stroke="#aaa" stroke-width="0.5" rx="0" />
<text x="214.00" y="421.55" font-size="5.4" fill="#333" text-anchor="middle" stroke="#333" stroke-width="0.06" >2</text>
<rect x="208.50" y="424.88" width="11.00" height="10.66" fill="#f5dcc7" stroke="#aaa" stroke-width="0.5" rx="0" />
<text x="214.00" y="432.21" font-size="5.4" fill="#333" text-anchor="middle" stroke="#333" stroke-width="0.06" >1</text>
<rect x="208.50" y="435.54" width="11.00" height="10.66" fill="#ffffff" stroke="#aaa" stroke-width="0.5" rx="0" />
<text x="214.00" y="442.87" font-size="5.4" fill="#333" text-anchor="middle" stroke="#333" stroke-width="0.06" >0</text>
<text x="214.00" y="383.30" font-size="5.6" fill="#333" text-anchor="middle" stroke="#333" stroke-width="0.06" >Clinical</text>
<text x="214.00" y="389.40" font-size="5.6" fill="#333" text-anchor="middle" stroke="#333" stroke-width="0.06" >Grade</text>
<rect x="227.70" y="425.00" width="11.00" height="10.66" fill="#f5dcc7" stroke="#aaa" stroke-width="0.5" rx="0" />
<text x="233.20" y="432.33" font-size="5.4" fill="#333" text-anchor="middle" stroke="#333" stroke-width="0.06" >1</text>
<text x="240.70" y="432.33" font-size="5.0" fill="#333" text-anchor="start" stroke="#333" stroke-width="0.06" >≥38 °C</text>
<rect x="227.70" y="435.66" width="11.00" height="10.66" fill="#ffffff" stroke="#aaa" stroke-width="0.5" rx="0" />
<text x="233.20" y="442.99" font-size="5.4" fill="#333" text-anchor="middle" stroke="#333" stroke-width="0.06" >0</text>
<text x="240.70" y="442.99" font-size="5.0" fill="#333" text-anchor="start" stroke="#333" stroke-width="0.06" >&lt;38 °C</text>
<text x="233.20" y="421.20" font-size="5.6" fill="#333" text-anchor="middle" stroke="#333" stroke-width="0.06" >Fever</text>
<line x1="74.40" y1="526.60" x2="79.46" y2="531.50" stroke="#b0b0b0" stroke-width="0.45" />
<line x1="79.46" y1="526.60" x2="74.40" y2="531.50" stroke="#b0b0b0" stroke-width="0.45" />
<text x="83.99" y="530.75" font-size="4.8" fill="#444" text-anchor="middle" stroke="#444" stroke-width="0.03" >0</text>
<rect x="86.92" y="525.80" width="6.66" height="6.50" fill="#f5dcc7" stroke="none" stroke-width="0" rx="0" />
<text x="90.65" y="530.75" font-size="4.8" fill="#444" text-anchor="middle" stroke="#444" stroke-width="0.03" >1</text>
<text x="97.31" y="530.75" font-size="4.8" fill="#444" text-anchor="middle" stroke="#444" stroke-width="0.03" >0</text>
<rect x="100.24" y="525.80" width="6.66" height="6.50" fill="#f5dcc7" stroke="none" stroke-width="0" rx="0" />
<text x="103.97" y="530.75" font-size="4.8" fill="#444" text-anchor="middle" stroke="#444" stroke-width="0.03" >1</text>
<rect x="106.90" y="525.80" width="6.66" height="6.50" fill="#f5dcc7" stroke="none" stroke-width="0" rx="0" />
<text x="110.63" y="530.75" font-size="4.8" fill="#444" text-anchor="middle" stroke="#444" stroke-width="0.03" >1</text>
<rect x="113.56" y="525.80" width="6.66" height="6.50" fill="#f5dcc7" stroke="none" stroke-width="0" rx="0" />
<text x="117.29" y="530.75" font-size="4.8" fill="#444" text-anchor="middle" stroke="#444" stroke-width="0.03" >1</text>
<rect x="120.22" y="525.80" width="6.66" height="6.50" fill="#f5dcc7" stroke="none" stroke-width="0" rx="0" />
<text x="123.95" y="530.75" font-size="4.8" fill="#444" text-anchor="middle" stroke="#444" stroke-width="0.03" >1</text>
<line x1="74.40" y1="533.10" x2="79.46" y2="538.00" stroke="#b0b0b0" stroke-width="0.45" />
<line x1="79.46" y1="533.10" x2="74.40" y2="538.00" stroke="#b0b0b0" stroke-width="0.45" />
<text x="83.99" y="537.25" font-size="4.8" fill="#444" text-anchor="middle" stroke="#444" stroke-width="0.03" >0</text>
<text x="90.65" y="537.25" font-size="4.8" fill="#444" text-anchor="middle" stroke="#444" stroke-width="0.03" >0</text>
<text x="97.31" y="537.25" font-size="4.8" fill="#444" text-anchor="middle" stroke="#444" stroke-width="0.03" >0</text>
<text x="103.97" y="537.25" font-size="4.8" fill="#444" text-anchor="middle" stroke="#444" stroke-width="0.03" >0</text>
<text x="110.63" y="537.25" font-size="4.8" fill="#444" text-anchor="middle" stroke="#444" stroke-width="0.03" >0</text>
<text x="117.29" y="537.25" font-size="4.8" fill="#444" text-anchor="middle" stroke="#444" stroke-width="0.03" >0</text>
<text x="123.95" y="537.25" font-size="4.8" fill="#444" text-anchor="middle" stroke="#444" stroke-width="0.03" >0</text>
<line x1="74.40" y1="539.60" x2="79.46" y2="544.50" stroke="#b0b0b0" stroke-width="0.45" />
<line x1="79.46" y1="539.60" x2="74.40" y2="544.50" stroke="#b0b0b0" stroke-width="0.45" />
<text x="83.99" y="543.75" font-size="4.8" fill="#444" text-anchor="middle" stroke="#444" stroke-width="0.03" >0</text>
<rect x="86.92" y="538.80" width="6.66" height="6.50" fill="#f5dcc7" stroke="none" stroke-width="0" rx="0" />
<text x="90.65" y="543.75" font-size="4.8" fill="#444" text-anchor="middle" stroke="#444" stroke-width="0.03" >1</text>
<text x="97.31" y="543.75" font-size="4.8" fill="#444" text-anchor="middle" stroke="#444" stroke-width="0.03" >0</text>
<rect x="100.24" y="538.80" width="6.66" height="6.50" fill="#f5dcc7" stroke="none" stroke-width="0" rx="0" />
<text x="103.97" y="543.75" font-size="4.8" fill="#444" text-anchor="middle" stroke="#444" stroke-width="0.03" >1</text>
<rect x="106.90" y="538.80" width="6.66" height="6.50" fill="#f5dcc7" stroke="none" stroke-width="0" rx="0" />
<text x="110.63" y="543.75" font-size="4.8" fill="#444" text-anchor="middle" stroke="#444" stroke-width="0.03" >1</text>
<rect x="113.56" y="538.80" width="6.66" height="6.50" fill="#f5dcc7" stroke="none" stroke-width="0" rx="0" />
<text x="117.29" y="543.75" font-size="4.8" fill="#444" text-anchor="middle" stroke="#444" stroke-width="0.03" >1</text>
<rect x="120.22" y="538.80" width="6.66" height="6.50" fill="#f5dcc7" stroke="none" stroke-width="0" rx="0" />
<text x="123.95" y="543.75" font-size="4.8" fill="#444" text-anchor="middle" stroke="#444" stroke-width="0.03" >1</text>
<line x1="74.40" y1="546.10" x2="79.46" y2="551.00" stroke="#b0b0b0" stroke-width="0.45" />
<line x1="79.46" y1="546.10" x2="74.40" y2="551.00" stroke="#b0b0b0" stroke-width="0.45" />
<text x="83.99" y="550.25" font-size="4.8" fill="#444" text-anchor="middle" stroke="#444" stroke-width="0.03" >0</text>
<text x="90.65" y="550.25" font-size="4.8" fill="#444" text-anchor="middle" stroke="#444" stroke-width="0.03" >0</text>
<text x="97.31" y="550.25" font-size="4.8" fill="#444" text-anchor="middle" stroke="#444" stroke-width="0.03" >0</text>
<text x="103.97" y="550.25" font-size="4.8" fill="#444" text-anchor="middle" stroke="#444" stroke-width="0.03" >0</text>
<text x="110.63" y="550.25" font-size="4.8" fill="#444" text-anchor="middle" stroke="#444" stroke-width="0.03" >0</text>
<text x="117.29" y="550.25" font-size="4.8" fill="#444" text-anchor="middle" stroke="#444" stroke-width="0.03" >0</text>
<text x="123.95" y="550.25" font-size="4.8" fill="#444" text-anchor="middle" stroke="#444" stroke-width="0.03" >0</text>
<line x1="74.40" y1="552.60" x2="79.46" y2="557.50" stroke="#b0b0b0" stroke-width="0.45" />
<line x1="79.46" y1="552.60" x2="74.40" y2="557.50" stroke="#b0b0b0" stroke-width="0.45" />
<text x="83.99" y="556.75" font-size="4.8" fill="#444" text-anchor="middle" stroke="#444" stroke-width="0.03" >0</text>
<text x="90.65" y="556.75" font-size="4.8" fill="#444" text-anchor="middle" stroke="#444" stroke-width="0.03" >0</text>
<text x="97.31" y="556.75" font-size="4.8" fill="#444" text-anchor="middle" stroke="#444" stroke-width="0.03" >0</text>
<text x="103.97" y="556.75" font-size="4.8" fill="#444" text-anchor="middle" stroke="#444" stroke-width="0.03" >0</text>
<text x="110.63" y="556.75" font-size="4.8" fill="#444" text-anchor="middle" stroke="#444" stroke-width="0.03" >0</text>
<text x="117.29" y="556.75" font-size="4.8" fill="#444" text-anchor="middle" stroke="#444" stroke-width="0.03" >0</text>
<text x="123.95" y="556.75" font-size="4.8" fill="#444" text-anchor="middle" stroke="#444" stroke-width="0.03" >0</text>
<line x1="80.26" y1="525.80" x2="80.26" y2="558.30" stroke="#b4b4b4" stroke-width="0.45" />
<line x1="86.92" y1="525.80" x2="86.92" y2="558.30" stroke="#b4b4b4" stroke-width="0.45" />
<line x1="93.58" y1="525.80" x2="93.58" y2="558.30" stroke="#b4b4b4" stroke-width="0.45" />
<line x1="100.24" y1="525.80" x2="100.24" y2="558.30" stroke="#b4b4b4" stroke-width="0.45" />
<line x1="106.90" y1="525.80" x2="106.90" y2="558.30" stroke="#b4b4b4" stroke-width="0.45" />
<line x1="113.56" y1="525.80" x2="113.56" y2="558.30" stroke="#b4b4b4" stroke-width="0.45" />
<line x1="120.22" y1="525.80" x2="120.22" y2="558.30" stroke="#b4b4b4" stroke-width="0.45" />
<line x1="73.60" y1="532.30" x2="126.88" y2="532.30" stroke="#b4b4b4" stroke-width="0.45" />
<line x1="73.60" y1="538.80" x2="126.88" y2="538.80" stroke="#b4b4b4" stroke-width="0.45" />
<line x1="73.60" y1="545.30" x2="126.88" y2="545.30" stroke="#b4b4b4" stroke-width="0.45" />
<line x1="73.60" y1="551.80" x2="126.88" y2="551.80" stroke="#b4b4b4" stroke-width="0.45" />
<rect x="73.60" y="525.80" width="53.28" height="32.50" fill="none" stroke="#111" stroke-width="1.5" rx="1.2" />
<line x1="74.40" y1="562.10" x2="79.46" y2="567.08" stroke="#b0b0b0" stroke-width="0.45" />
<line x1="79.46" y1="562.10" x2="74.40" y2="567.08" stroke="#b0b0b0" stroke-width="0.45" />
<rect x="80.24" y="561.28" width="6.70" height="6.62" fill="#f0e0e0" stroke="none" stroke-width="0" rx="0" />
<rect x="86.90" y="561.28" width="6.70" height="6.62" fill="#f8efef" stroke="none" stroke-width="0" rx="0" />
<rect x="93.56" y="561.28" width="6.70" height="6.62" fill="#f0e0e0" stroke="none" stroke-width="0" rx="0" />
<rect x="100.22" y="561.28" width="6.70" height="6.62" fill="#e6cbcb" stroke="none" stroke-width="0" rx="0" />
<rect x="106.88" y="561.28" width="6.70" height="6.62" fill="#f0e0e0" stroke="none" stroke-width="0" rx="0" />
<rect x="113.54" y="561.28" width="6.70" height="6.62" fill="#dab1b1" stroke="none" stroke-width="0" rx="0" />
<rect x="120.20" y="561.28" width="6.70" height="6.62" fill="#f0e0e0" stroke="none" stroke-width="0" rx="0" />
<line x1="74.40" y1="568.67" x2="79.46" y2="573.65" stroke="#b0b0b0" stroke-width="0.45" />
<line x1="79.46" y1="568.67" x2="74.40" y2="573.65" stroke="#b0b0b0" stroke-width="0.45" />
<rect x="80.24" y="567.86" width="6.70" height="6.62" fill="#ebf0f9" stroke="none" stroke-width="0" rx="0" />
<rect x="86.90" y="567.86" width="6.70" height="6.62" fill="#ebf0f9" stroke="none" stroke-width="0" rx="0" />
<rect x="93.56" y="567.86" width="6.70" height="6.62" fill="#ebf0f9" stroke="none" stroke-width="0" rx="0" />
<rect x="100.22" y="567.86" width="6.70" height="6.62" fill="#ffffff" stroke="none" stroke-width="0" rx="0" />
<rect x="106.88" y="567.86" width="6.70" height="6.62" fill="#ffffff" stroke="none" stroke-width="0" rx="0" />
<rect x="113.54" y="567.86" width="6.70" height="6.62" fill="#ffffff" stroke="none" stroke-width="0" rx="0" />
<rect x="120.20" y="567.86" width="6.70" height="6.62" fill="#ffffff" stroke="none" stroke-width="0" rx="0" />
<rect x="73.58" y="574.43" width="6.70" height="6.62" fill="#d7e2f4" stroke="none" stroke-width="0" rx="0" />
<rect x="80.24" y="574.43" width="6.70" height="6.62" fill="#ebf0f9" stroke="none" stroke-width="0" rx="0" />
<rect x="86.90" y="574.43" width="6.70" height="6.62" fill="#ebf0f9" stroke="none" stroke-width="0" rx="0" />
<rect x="93.56" y="574.43" width="6.70" height="6.62" fill="#ebf0f9" stroke="none" stroke-width="0" rx="0" />
<rect x="100.22" y="574.43" width="6.70" height="6.62" fill="#ebf0f9" stroke="none" stroke-width="0" rx="0" />
<rect x="106.88" y="574.43" width="6.70" height="6.62" fill="#d7e2f4" stroke="none" stroke-width="0" rx="0" />
<rect x="113.54" y="574.43" width="6.70" height="6.62" fill="#d7e2f4" stroke="none" stroke-width="0" rx="0" />
<rect x="120.20" y="574.43" width="6.70" height="6.62" fill="#ebf0f9" stroke="none" stroke-width="0" rx="0" />
<rect x="73.58" y="581.00" width="6.70" height="6.62" fill="#d7e2f4" stroke="none" stroke-width="0" rx="0" />
<rect x="80.24" y="581.00" width="6.70" height="6.62" fill="#d7e2f4" stroke="none" stroke-width="0" rx="0" />
<rect x="86.90" y="581.00" width="6.70" height="6.62" fill="#ebf0f9" stroke="none" stroke-width="0" rx="0" />
<rect x="93.56" y="581.00" width="6.70" height="6.62" fill="#d7e2f4" stroke="none" stroke-width="0" rx="0" />
<rect x="100.22" y="581.00" width="6.70" height="6.62" fill="#ffffff" stroke="none" stroke-width="0" rx="0" />
<rect x="106.88" y="581.00" width="6.70" height="6.62" fill="#d7e2f4" stroke="none" stroke-width="0" rx="0" />
<rect x="113.54" y="581.00" width="6.70" height="6.62" fill="#c3d3ee" stroke="none" stroke-width="0" rx="0" />
<rect x="120.20" y="581.00" width="6.70" height="6.62" fill="#f0e0e0" stroke="none" stroke-width="0" rx="0" />
<rect x="73.58" y="587.58" width="6.70" height="6.62" fill="#c3d3ee" stroke="none" stroke-width="0" rx="0" />
<rect x="80.24" y="587.58" width="6.70" height="6.62" fill="#ebf0f9" stroke="none" stroke-width="0" rx="0" />
<rect x="86.90" y="587.58" width="6.70" height="6.62" fill="#ebf0f9" stroke="none" stroke-width="0" rx="0" />
<rect x="93.56" y="587.58" width="6.70" height="6.62" fill="#ebf0f9" stroke="none" stroke-width="0" rx="0" />
<rect x="100.22" y="587.58" width="6.70" height="6.62" fill="#ebf0f9" stroke="none" stroke-width="0" rx="0" />
<rect x="106.88" y="587.58" width="6.70" height="6.62" fill="#ebf0f9" stroke="none" stroke-width="0" rx="0" />
<rect x="113.54" y="587.58" width="6.70" height="6.62" fill="#d7e2f4" stroke="none" stroke-width="0" rx="0" />
<rect x="120.20" y="587.58" width="6.70" height="6.62" fill="#ebf0f9" stroke="none" stroke-width="0" rx="0" />
<rect x="73.58" y="594.15" width="6.70" height="6.62" fill="#f5f8fc" stroke="none" stroke-width="0" rx="0" />
<rect x="80.24" y="594.15" width="6.70" height="6.62" fill="#f5f8fc" stroke="none" stroke-width="0" rx="0" />
<rect x="86.90" y="594.15" width="6.70" height="6.62" fill="#ffffff" stroke="none" stroke-width="0" rx="0" />
<rect x="93.56" y="594.15" width="6.70" height="6.62" fill="#ffffff" stroke="none" stroke-width="0" rx="0" />
<rect x="100.22" y="594.15" width="6.70" height="6.62" fill="#f5f8fc" stroke="none" stroke-width="0" rx="0" />
<rect x="106.88" y="594.15" width="6.70" height="6.62" fill="#f5f8fc" stroke="none" stroke-width="0" rx="0" />
<rect x="113.54" y="594.15" width="6.70" height="6.62" fill="#ebf0f9" stroke="none" stroke-width="0" rx="0" />
<rect x="120.20" y="594.15" width="6.70" height="6.62" fill="#f5f8fc" stroke="none" stroke-width="0" rx="0" />
<rect x="73.58" y="600.73" width="6.70" height="6.62" fill="#d7e2f4" stroke="none" stroke-width="0" rx="0" />
<rect x="80.24" y="600.73" width="6.70" height="6.62" fill="#ebf0f9" stroke="none" stroke-width="0" rx="0" />
<rect x="86.90" y="600.73" width="6.70" height="6.62" fill="#ebf0f9" stroke="none" stroke-width="0" rx="0" />
<rect x="93.56" y="600.73" width="6.70" height="6.62" fill="#d7e2f4" stroke="none" stroke-width="0" rx="0" />
<rect x="100.22" y="600.73" width="6.70" height="6.62" fill="#d7e2f4" stroke="none" stroke-width="0" rx="0" />
<rect x="106.88" y="600.73" width="6.70" height="6.62" fill="#d7e2f4" stroke="none" stroke-width="0" rx="0" />
<rect x="113.54" y="600.73" width="6.70" height="6.62" fill="#d7e2f4" stroke="none" stroke-width="0" rx="0" />
<rect x="120.20" y="600.73" width="6.70" height="6.62" fill="#d7e2f4" stroke="none" stroke-width="0" rx="0" />
<rect x="73.58" y="607.31" width="6.70" height="6.62" fill="#d7e2f4" stroke="none" stroke-width="0" rx="0" />
<rect x="80.24" y="607.31" width="6.70" height="6.62" fill="#ebf0f9" stroke="none" stroke-width="0" rx="0" />
<rect x="86.90" y="607.31" width="6.70" height="6.62" fill="#ebf0f9" stroke="none" stroke-width="0" rx="0" />
<rect x="93.56" y="607.31" width="6.70" height="6.62" fill="#d7e2f4" stroke="none" stroke-width="0" rx="0" />
<rect x="100.22" y="607.31" width="6.70" height="6.62" fill="#d7e2f4" stroke="none" stroke-width="0" rx="0" />
<rect x="106.88" y="607.31" width="6.70" height="6.62" fill="#d7e2f4" stroke="none" stroke-width="0" rx="0" />
<rect x="113.54" y="607.31" width="6.70" height="6.62" fill="#d7e2f4" stroke="none" stroke-width="0" rx="0" />
<rect x="120.20" y="607.31" width="6.70" height="6.62" fill="#d7e2f4" stroke="none" stroke-width="0" rx="0" />
<rect x="73.58" y="613.88" width="6.70" height="6.62" fill="#d7e2f4" stroke="none" stroke-width="0" rx="0" />
<rect x="80.24" y="613.88" width="6.70" height="6.62" fill="#ebf0f9" stroke="none" stroke-width="0" rx="0" />
<rect x="86.90" y="613.88" width="6.70" height="6.62" fill="#ebf0f9" stroke="none" stroke-width="0" rx="0" />
<rect x="93.56" y="613.88" width="6.70" height="6.62" fill="#d7e2f4" stroke="none" stroke-width="0" rx="0" />
<rect x="100.22" y="613.88" width="6.70" height="6.62" fill="#d7e2f4" stroke="none" stroke-width="0" rx="0" />
<rect x="106.88" y="613.88" width="6.70" height="6.62" fill="#d7e2f4" stroke="none" stroke-width="0" rx="0" />
<rect x="113.54" y="613.88" width="6.70" height="6.62" fill="#d7e2f4" stroke="none" stroke-width="0" rx="0" />
<rect x="120.20" y="613.88" width="6.70" height="6.62" fill="#ebf0f9" stroke="none" stroke-width="0" rx="0" />
<rect x="73.58" y="620.46" width="6.70" height="6.62" fill="#ebf0f9" stroke="none" stroke-width="0" rx="0" />
<rect x="80.24" y="620.46" width="6.70" height="6.62" fill="#f8efef" stroke="none" stroke-width="0" rx="0" />
<rect x="86.90" y="620.46" width="6.70" height="6.62" fill="#ffffff" stroke="none" stroke-width="0" rx="0" />
<rect x="93.56" y="620.46" width="6.70" height="6.62" fill="#f8efef" stroke="none" stroke-width="0" rx="0" />
<rect x="100.22" y="620.46" width="6.70" height="6.62" fill="#f8efef" stroke="none" stroke-width="0" rx="0" />
<rect x="106.88" y="620.46" width="6.70" height="6.62" fill="#ffffff" stroke="none" stroke-width="0" rx="0" />
<rect x="113.54" y="620.46" width="6.70" height="6.62" fill="#ffffff" stroke="none" stroke-width="0" rx="0" />
<rect x="120.20" y="620.46" width="6.70" height="6.62" fill="#ffffff" stroke="none" stroke-width="0" rx="0" />
<rect x="73.58" y="627.03" width="6.70" height="6.62" fill="#d7e2f4" stroke="none" stroke-width="0" rx="0" />
<rect x="80.24" y="627.03" width="6.70" height="6.62" fill="#ebf0f9" stroke="none" stroke-width="0" rx="0" />
<rect x="86.90" y="627.03" width="6.70" height="6.62" fill="#ebf0f9" stroke="none" stroke-width="0" rx="0" />
<rect x="93.56" y="627.03" width="6.70" height="6.62" fill="#ebf0f9" stroke="none" stroke-width="0" rx="0" />
<rect x="100.22" y="627.03" width="6.70" height="6.62" fill="#d7e2f4" stroke="none" stroke-width="0" rx="0" />
<rect x="106.88" y="627.03" width="6.70" height="6.62" fill="#d7e2f4" stroke="none" stroke-width="0" rx="0" />
<rect x="113.54" y="627.03" width="6.70" height="6.62" fill="#d7e2f4" stroke="none" stroke-width="0" rx="0" />
<rect x="120.20" y="627.03" width="6.70" height="6.62" fill="#ebf0f9" stroke="none" stroke-width="0" rx="0" />
<rect x="73.58" y="633.61" width="6.70" height="6.62" fill="#c3d3ee" stroke="none" stroke-width="0" rx="0" />
<rect x="80.24" y="633.61" width="6.70" height="6.62" fill="#f0e0e0" stroke="none" stroke-width="0" rx="0" />
<rect x="86.90" y="633.61" width="6.70" height="6.62" fill="#f0e0e0" stroke="none" stroke-width="0" rx="0" />
<rect x="93.56" y="633.61" width="6.70" height="6.62" fill="#f0e0e0" stroke="none" stroke-width="0" rx="0" />
<rect x="100.22" y="633.61" width="6.70" height="6.62" fill="#ffffff" stroke="none" stroke-width="0" rx="0" />
<rect x="106.88" y="633.61" width="6.70" height="6.62" fill="#f5f8fc" stroke="none" stroke-width="0" rx="0" />
<rect x="113.54" y="633.61" width="6.70" height="6.62" fill="#ebf0f9" stroke="none" stroke-width="0" rx="0" />
<rect x="120.20" y="633.61" width="6.70" height="6.62" fill="#ffffff" stroke="none" stroke-width="0" rx="0" />
<line x1="80.26" y1="561.30" x2="80.26" y2="640.20" stroke="#949494" stroke-width="0.45" />
<line x1="86.92" y1="561.30" x2="86.92" y2="640.20" stroke="#949494" stroke-width="0.45" />
<line x1="93.58" y1="561.30" x2="93.58" y2="640.20" stroke="#949494" stroke-width="0.45" />
<line x1="100.24" y1="561.30" x2="100.24" y2="640.20" stroke="#949494" stroke-width="0.45" />
<line x1="106.90" y1="561.30" x2="106.90" y2="640.20" stroke="#949494" stroke-width="0.45" />
<line x1="113.56" y1="561.30" x2="113.56" y2="640.20" stroke="#949494" stroke-width="0.45" />
<line x1="120.22" y1="561.30" x2="120.22" y2="640.20" stroke="#949494" stroke-width="0.45" />
<line x1="73.60" y1="567.88" x2="126.88" y2="567.88" stroke="#949494" stroke-width="0.45" />
<line x1="73.60" y1="574.45" x2="126.88" y2="574.45" stroke="#949494" stroke-width="0.45" />
<line x1="73.60" y1="581.02" x2="126.88" y2="581.02" stroke="#949494" stroke-width="0.45" />
<line x1="73.60" y1="587.60" x2="126.88" y2="587.60" stroke="#949494" stroke-width="0.45" />
<line x1="73.60" y1="594.17" x2="126.88" y2="594.17" stroke="#949494" stroke-width="0.45" />
<line x1="73.60" y1="600.75" x2="126.88" y2="600.75" stroke="#949494" stroke-width="0.45" />
<line x1="73.60" y1="607.33" x2="126.88" y2="607.33" stroke="#949494" stroke-width="0.45" />
<line x1="73.60" y1="613.90" x2="126.88" y2="613.90" stroke="#949494" stroke-width="0.45" />
<line x1="73.60" y1="620.48" x2="126.88" y2="620.48" stroke="#949494" stroke-width="0.45" />
<line x1="73.60" y1="627.05" x2="126.88" y2="627.05" stroke="#949494" stroke-width="0.45" />
<line x1="73.60" y1="633.62" x2="126.88" y2="633.62" stroke="#949494" stroke-width="0.45" />
<line x1="73.60" y1="574.45" x2="126.88" y2="574.45" stroke="#555" stroke-width="0.6" />
<rect x="73.60" y="561.30" width="53.28" height="78.90" fill="none" stroke="#111" stroke-width="1.5" rx="1.2" />
<line x1="76.93" y1="641.00" x2="76.93" y2="643.20" stroke="#111" stroke-width="0.8" />
<text x="76.93" y="651.80" font-size="5.8" fill="#222" text-anchor="middle" stroke="#222" stroke-width="0.04" textLength="6.5" lengthAdjust="spacingAndGlyphs" >-4</text>
<line x1="83.59" y1="641.00" x2="83.59" y2="643.20" stroke="#111" stroke-width="0.8" />
<text x="83.59" y="651.80" font-size="5.8" fill="#222" text-anchor="middle" stroke="#222" stroke-width="0.04" >0</text>
<line x1="90.25" y1="641.00" x2="90.25" y2="643.20" stroke="#111" stroke-width="0.8" />
<text x="90.25" y="651.80" font-size="5.8" fill="#222" text-anchor="middle" stroke="#222" stroke-width="0.04" >1</text>
<line x1="96.91" y1="641.00" x2="96.91" y2="643.20" stroke="#111" stroke-width="0.8" />
<text x="96.91" y="651.80" font-size="5.8" fill="#222" text-anchor="middle" stroke="#222" stroke-width="0.04" >2</text>
<line x1="103.57" y1="641.00" x2="103.57" y2="643.20" stroke="#111" stroke-width="0.8" />
<text x="103.57" y="651.80" font-size="5.8" fill="#222" text-anchor="middle" stroke="#222" stroke-width="0.04" >3</text>
<line x1="110.23" y1="641.00" x2="110.23" y2="643.20" stroke="#111" stroke-width="0.8" />
<text x="110.23" y="651.80" font-size="5.8" fill="#222" text-anchor="middle" stroke="#222" stroke-width="0.04" >4</text>
<line x1="116.89" y1="641.00" x2="116.89" y2="643.20" stroke="#111" stroke-width="0.8" />
<text x="116.89" y="651.80" font-size="5.8" fill="#222" text-anchor="middle" stroke="#222" stroke-width="0.04" >7</text>
<line x1="123.55" y1="641.00" x2="123.55" y2="643.20" stroke="#111" stroke-width="0.8" />
<text x="123.55" y="651.80" font-size="5.8" fill="#222" text-anchor="middle" stroke="#222" stroke-width="0.04" >8</text>
<text x="100.24" y="520.80" font-size="7.7" fill="#222" text-anchor="middle" stroke="#222" stroke-width="0.06" textLength="34.0" lengthAdjust="spacingAndGlyphs" >Patient 17</text>
<text x="100.24" y="661.30" font-size="7.6" fill="#222" text-anchor="middle" stroke="#222" stroke-width="0.06" textLength="27.7" lengthAdjust="spacingAndGlyphs" >Time (day)</text>
<line x1="70.20" y1="529.05" x2="73.10" y2="529.05" stroke="#222" stroke-width="1.0" />
<text x="67.60" y="531.05" font-size="5.6" fill="#222" text-anchor="end" stroke="#222" stroke-width="0.05" >CRS</text>
<line x1="70.20" y1="535.55" x2="73.10" y2="535.55" stroke="#222" stroke-width="1.0" />
<text x="67.60" y="537.55" font-size="5.6" fill="#222" text-anchor="end" stroke="#222" stroke-width="0.05" >CRES</text>
<line x1="70.20" y1="542.05" x2="73.10" y2="542.05" stroke="#222" stroke-width="1.0" />
<text x="67.60" y="544.05" font-size="5.6" fill="#222" text-anchor="end" stroke="#222" stroke-width="0.05" >Fever</text>
<line x1="70.20" y1="548.55" x2="73.10" y2="548.55" stroke="#222" stroke-width="1.0" />
<text x="67.60" y="550.55" font-size="5.6" fill="#222" text-anchor="end" stroke="#222" stroke-width="0.05" >Hypotension</text>
<line x1="70.20" y1="555.05" x2="73.10" y2="555.05" stroke="#222" stroke-width="1.0" />
<text x="67.60" y="557.05" font-size="5.6" fill="#222" text-anchor="end" stroke="#222" stroke-width="0.05" >Hypoxia</text>
<line x1="70.20" y1="564.59" x2="73.10" y2="564.59" stroke="#222" stroke-width="1.0" />
<text x="67.60" y="566.59" font-size="5.6" fill="#222" text-anchor="end" stroke="#222" stroke-width="0.05" >CRP</text>
<line x1="70.20" y1="571.16" x2="73.10" y2="571.16" stroke="#222" stroke-width="1.0" />
<text x="67.60" y="573.16" font-size="5.6" fill="#222" text-anchor="end" stroke="#222" stroke-width="0.05" >Ferritin</text>
<line x1="70.20" y1="577.74" x2="73.10" y2="577.74" stroke="#222" stroke-width="1.0" />
<text x="67.60" y="579.74" font-size="5.6" fill="#222" text-anchor="end" stroke="#222" stroke-width="0.05" >IL-1β</text>
<line x1="70.20" y1="584.31" x2="73.10" y2="584.31" stroke="#222" stroke-width="1.0" />
<text x="67.60" y="586.31" font-size="5.6" fill="#222" text-anchor="end" stroke="#222" stroke-width="0.05" >TNF-α</text>
<line x1="70.20" y1="590.89" x2="73.10" y2="590.89" stroke="#222" stroke-width="1.0" />
<text x="67.60" y="592.89" font-size="5.6" fill="#222" text-anchor="end" stroke="#222" stroke-width="0.05" >IL-10</text>
<line x1="70.20" y1="597.46" x2="73.10" y2="597.46" stroke="#222" stroke-width="1.0" />
<text x="67.60" y="599.46" font-size="5.6" fill="#222" text-anchor="end" stroke="#222" stroke-width="0.05" >IL-6</text>
<line x1="70.20" y1="604.04" x2="73.10" y2="604.04" stroke="#222" stroke-width="1.0" />
<text x="67.60" y="606.04" font-size="5.6" fill="#222" text-anchor="end" stroke="#222" stroke-width="0.05" >IL-12</text>
<line x1="70.20" y1="610.61" x2="73.10" y2="610.61" stroke="#222" stroke-width="1.0" />
<text x="67.60" y="612.61" font-size="5.6" fill="#222" text-anchor="end" stroke="#222" stroke-width="0.05" >MCP-1</text>
<line x1="70.20" y1="617.19" x2="73.10" y2="617.19" stroke="#222" stroke-width="1.0" />
<text x="67.60" y="619.19" font-size="5.6" fill="#222" text-anchor="end" stroke="#222" stroke-width="0.05" >IFN-γ</text>
<line x1="70.20" y1="623.76" x2="73.10" y2="623.76" stroke="#222" stroke-width="1.0" />
<text x="67.60" y="625.76" font-size="5.6" fill="#222" text-anchor="end" stroke="#222" stroke-width="0.05" >IL-2</text>
<line x1="70.20" y1="630.34" x2="73.10" y2="630.34" stroke="#222" stroke-width="1.0" />
<text x="67.60" y="632.34" font-size="5.6" fill="#222" text-anchor="end" stroke="#222" stroke-width="0.05" >IL-8</text>
<line x1="70.20" y1="636.91" x2="73.10" y2="636.91" stroke="#222" stroke-width="1.0" />
<text x="67.60" y="638.91" font-size="5.6" fill="#222" text-anchor="end" stroke="#222" stroke-width="0.05" >IL-17A</text>
<path d="M38.80,526.55 H35.20 V571.66 H38.80" fill="none" stroke="#222" stroke-width="1.4"/>
<path d="M38.80,576.54 H35.20 V637.41 H38.80" fill="none" stroke="#222" stroke-width="1.4"/>
<text x="30.50" y="549.11" font-size="5.6" fill="#333" text-anchor="middle" stroke="#333" stroke-width="0.03" textLength="38.5" lengthAdjust="spacingAndGlyphs" transform="rotate(-90 30.50 549.11)" >Clinical Markers</text>
<text x="30.50" y="606.97" font-size="5.7" fill="#333" text-anchor="middle" stroke="#333" stroke-width="0.03" textLength="24.3" lengthAdjust="spacingAndGlyphs" transform="rotate(-90 30.50 606.97)" >Cytokines</text>
<line x1="146.10" y1="525.80" x2="151.17" y2="530.74" stroke="#b0b0b0" stroke-width="0.45" />
<line x1="151.17" y1="525.80" x2="146.10" y2="530.74" stroke="#b0b0b0" stroke-width="0.45" />
<text x="155.71" y="529.97" font-size="4.8" fill="#444" text-anchor="middle" stroke="#444" stroke-width="0.03" >0</text>
<rect x="158.64" y="525.00" width="6.67" height="6.54" fill="#f5dcc7" stroke="none" stroke-width="0" rx="0" />
<text x="162.38" y="529.97" font-size="4.8" fill="#444" text-anchor="middle" stroke="#444" stroke-width="0.03" >1</text>
<rect x="165.31" y="525.00" width="6.67" height="6.54" fill="#f5dcc7" stroke="none" stroke-width="0" rx="0" />
<text x="169.05" y="529.97" font-size="4.8" fill="#444" text-anchor="middle" stroke="#444" stroke-width="0.03" >1</text>
<rect x="171.98" y="525.00" width="6.67" height="6.54" fill="#f5dcc7" stroke="none" stroke-width="0" rx="0" />
<text x="175.72" y="529.97" font-size="4.8" fill="#444" text-anchor="middle" stroke="#444" stroke-width="0.03" >1</text>
<rect x="178.65" y="525.00" width="6.67" height="6.54" fill="#f5dcc7" stroke="none" stroke-width="0" rx="0" />
<text x="182.39" y="529.97" font-size="4.8" fill="#444" text-anchor="middle" stroke="#444" stroke-width="0.03" >1</text>
<rect x="185.32" y="525.00" width="6.67" height="6.54" fill="#f5dcc7" stroke="none" stroke-width="0" rx="0" />
<text x="189.06" y="529.97" font-size="4.8" fill="#444" text-anchor="middle" stroke="#444" stroke-width="0.03" >1</text>
<text x="195.73" y="529.97" font-size="4.8" fill="#444" text-anchor="middle" stroke="#444" stroke-width="0.03" >0</text>
<text x="202.40" y="529.97" font-size="4.8" fill="#444" text-anchor="middle" stroke="#444" stroke-width="0.03" >0</text>
<line x1="146.10" y1="532.34" x2="151.17" y2="537.28" stroke="#b0b0b0" stroke-width="0.45" />
<line x1="151.17" y1="532.34" x2="146.10" y2="537.28" stroke="#b0b0b0" stroke-width="0.45" />
<text x="155.71" y="536.51" font-size="4.8" fill="#444" text-anchor="middle" stroke="#444" stroke-width="0.03" >0</text>
<text x="162.38" y="536.51" font-size="4.8" fill="#444" text-anchor="middle" stroke="#444" stroke-width="0.03" >0</text>
<text x="169.05" y="536.51" font-size="4.8" fill="#444" text-anchor="middle" stroke="#444" stroke-width="0.03" >0</text>
<text x="175.72" y="536.51" font-size="4.8" fill="#444" text-anchor="middle" stroke="#444" stroke-width="0.03" >0</text>
<text x="182.39" y="536.51" font-size="4.8" fill="#444" text-anchor="middle" stroke="#444" stroke-width="0.03" >0</text>
<text x="189.06" y="536.51" font-size="4.8" fill="#444" text-anchor="middle" stroke="#444" stroke-width="0.03" >0</text>
<text x="195.73" y="536.51" font-size="4.8" fill="#444" text-anchor="middle" stroke="#444" stroke-width="0.03" >0</text>
<text x="202.40" y="536.51" font-size="4.8" fill="#444" text-anchor="middle" stroke="#444" stroke-width="0.03" >0</text>
<line x1="146.10" y1="538.88" x2="151.17" y2="543.82" stroke="#b0b0b0" stroke-width="0.45" />
<line x1="151.17" y1="538.88" x2="146.10" y2="543.82" stroke="#b0b0b0" stroke-width="0.45" />
<text x="155.71" y="543.05" font-size="4.8" fill="#444" text-anchor="middle" stroke="#444" stroke-width="0.03" >0</text>
<rect x="158.64" y="538.08" width="6.67" height="6.54" fill="#f5dcc7" stroke="none" stroke-width="0" rx="0" />
<text x="162.38" y="543.05" font-size="4.8" fill="#444" text-anchor="middle" stroke="#444" stroke-width="0.03" >1</text>
<rect x="165.31" y="538.08" width="6.67" height="6.54" fill="#f5dcc7" stroke="none" stroke-width="0" rx="0" />
<text x="169.05" y="543.05" font-size="4.8" fill="#444" text-anchor="middle" stroke="#444" stroke-width="0.03" >1</text>
<rect x="171.98" y="538.08" width="6.67" height="6.54" fill="#f5dcc7" stroke="none" stroke-width="0" rx="0" />
<text x="175.72" y="543.05" font-size="4.8" fill="#444" text-anchor="middle" stroke="#444" stroke-width="0.03" >1</text>
<rect x="178.65" y="538.08" width="6.67" height="6.54" fill="#f5dcc7" stroke="none" stroke-width="0" rx="0" />
<text x="182.39" y="543.05" font-size="4.8" fill="#444" text-anchor="middle" stroke="#444" stroke-width="0.03" >1</text>
<rect x="185.32" y="538.08" width="6.67" height="6.54" fill="#f5dcc7" stroke="none" stroke-width="0" rx="0" />
<text x="189.06" y="543.05" font-size="4.8" fill="#444" text-anchor="middle" stroke="#444" stroke-width="0.03" >1</text>
<text x="195.73" y="543.05" font-size="4.8" fill="#444" text-anchor="middle" stroke="#444" stroke-width="0.03" >0</text>
<text x="202.40" y="543.05" font-size="4.8" fill="#444" text-anchor="middle" stroke="#444" stroke-width="0.03" >0</text>
<line x1="146.10" y1="545.42" x2="151.17" y2="550.36" stroke="#b0b0b0" stroke-width="0.45" />
<line x1="151.17" y1="545.42" x2="146.10" y2="550.36" stroke="#b0b0b0" stroke-width="0.45" />
<text x="155.71" y="549.59" font-size="4.8" fill="#444" text-anchor="middle" stroke="#444" stroke-width="0.03" >0</text>
<text x="162.38" y="549.59" font-size="4.8" fill="#444" text-anchor="middle" stroke="#444" stroke-width="0.03" >0</text>
<text x="169.05" y="549.59" font-size="4.8" fill="#444" text-anchor="middle" stroke="#444" stroke-width="0.03" >0</text>
<text x="175.72" y="549.59" font-size="4.8" fill="#444" text-anchor="middle" stroke="#444" stroke-width="0.03" >0</text>
<text x="182.39" y="549.59" font-size="4.8" fill="#444" text-anchor="middle" stroke="#444" stroke-width="0.03" >0</text>
<text x="189.06" y="549.59" font-size="4.8" fill="#444" text-anchor="middle" stroke="#444" stroke-width="0.03" >0</text>
<text x="195.73" y="549.59" font-size="4.8" fill="#444" text-anchor="middle" stroke="#444" stroke-width="0.03" >0</text>
<text x="202.40" y="549.59" font-size="4.8" fill="#444" text-anchor="middle" stroke="#444" stroke-width="0.03" >0</text>
<line x1="146.10" y1="551.96" x2="151.17" y2="556.90" stroke="#b0b0b0" stroke-width="0.45" />
<line x1="151.17" y1="551.96" x2="146.10" y2="556.90" stroke="#b0b0b0" stroke-width="0.45" />
<text x="155.71" y="556.13" font-size="4.8" fill="#444" text-anchor="middle" stroke="#444" stroke-width="0.03" >0</text>
<text x="162.38" y="556.13" font-size="4.8" fill="#444" text-anchor="middle" stroke="#444" stroke-width="0.03" >0</text>
<text x="169.05" y="556.13" font-size="4.8" fill="#444" text-anchor="middle" stroke="#444" stroke-width="0.03" >0</text>
<text x="175.72" y="556.13" font-size="4.8" fill="#444" text-anchor="middle" stroke="#444" stroke-width="0.03" >0</text>
<text x="182.39" y="556.13" font-size="4.8" fill="#444" text-anchor="middle" stroke="#444" stroke-width="0.03" >0</text>
<text x="189.06" y="556.13" font-size="4.8" fill="#444" text-anchor="middle" stroke="#444" stroke-width="0.03" >0</text>
<text x="195.73" y="556.13" font-size="4.8" fill="#444" text-anchor="middle" stroke="#444" stroke-width="0.03" >0</text>
<text x="202.40" y="556.13" font-size="4.8" fill="#444" text-anchor="middle" stroke="#444" stroke-width="0.03" >0</text>
<line x1="151.97" y1="525.00" x2="151.97" y2="557.70" stroke="#b4b4b4" stroke-width="0.45" />
<line x1="158.64" y1="525.00" x2="158.64" y2="557.70" stroke="#b4b4b4" stroke-width="0.45" />
<line x1="165.31" y1="525.00" x2="165.31" y2="557.70" stroke="#b4b4b4" stroke-width="0.45" />
<line x1="171.98" y1="525.00" x2="171.98" y2="557.70" stroke="#b4b4b4" stroke-width="0.45" />
<line x1="178.65" y1="525.00" x2="178.65" y2="557.70" stroke="#b4b4b4" stroke-width="0.45" />
<line x1="185.32" y1="525.00" x2="185.32" y2="557.70" stroke="#b4b4b4" stroke-width="0.45" />
<line x1="191.99" y1="525.00" x2="191.99" y2="557.70" stroke="#b4b4b4" stroke-width="0.45" />
<line x1="198.66" y1="525.00" x2="198.66" y2="557.70" stroke="#b4b4b4" stroke-width="0.45" />
<line x1="145.30" y1="531.54" x2="205.33" y2="531.54" stroke="#b4b4b4" stroke-width="0.45" />
<line x1="145.30" y1="538.08" x2="205.33" y2="538.08" stroke="#b4b4b4" stroke-width="0.45" />
<line x1="145.30" y1="544.62" x2="205.33" y2="544.62" stroke="#b4b4b4" stroke-width="0.45" />
<line x1="145.30" y1="551.16" x2="205.33" y2="551.16" stroke="#b4b4b4" stroke-width="0.45" />
<rect x="145.30" y="525.00" width="60.03" height="32.70" fill="none" stroke="#111" stroke-width="1.5" rx="1.2" />
<line x1="146.10" y1="561.60" x2="151.17" y2="566.62" stroke="#b0b0b0" stroke-width="0.45" />
<line x1="151.17" y1="561.60" x2="146.10" y2="566.62" stroke="#b0b0b0" stroke-width="0.45" />
<rect x="151.95" y="560.78" width="6.71" height="6.66" fill="#ebf0f9" stroke="none" stroke-width="0" rx="0" />
<rect x="158.62" y="560.78" width="6.71" height="6.66" fill="#ebf0f9" stroke="none" stroke-width="0" rx="0" />
<rect x="165.29" y="560.78" width="6.71" height="6.66" fill="#ebf0f9" stroke="none" stroke-width="0" rx="0" />
<rect x="171.96" y="560.78" width="6.71" height="6.66" fill="#ebf0f9" stroke="none" stroke-width="0" rx="0" />
<rect x="178.63" y="560.78" width="6.71" height="6.66" fill="#ebf0f9" stroke="none" stroke-width="0" rx="0" />
<rect x="185.30" y="560.78" width="6.71" height="6.66" fill="#ebf0f9" stroke="none" stroke-width="0" rx="0" />
<rect x="191.97" y="560.78" width="6.71" height="6.66" fill="#ebf0f9" stroke="none" stroke-width="0" rx="0" />
<rect x="198.64" y="560.78" width="6.71" height="6.66" fill="#ebf0f9" stroke="none" stroke-width="0" rx="0" />
<line x1="146.10" y1="568.22" x2="151.17" y2="573.23" stroke="#b0b0b0" stroke-width="0.45" />
<line x1="151.17" y1="568.22" x2="146.10" y2="573.23" stroke="#b0b0b0" stroke-width="0.45" />
<rect x="151.95" y="567.40" width="6.71" height="6.66" fill="#f0e0e0" stroke="none" stroke-width="0" rx="0" />
<rect x="158.62" y="567.40" width="6.71" height="6.66" fill="#f0e0e0" stroke="none" stroke-width="0" rx="0" />
<rect x="165.29" y="567.40" width="6.71" height="6.66" fill="#f0e0e0" stroke="none" stroke-width="0" rx="0" />
<rect x="171.96" y="567.40" width="6.71" height="6.66" fill="#f0e0e0" stroke="none" stroke-width="0" rx="0" />
<rect x="178.63" y="567.40" width="6.71" height="6.66" fill="#f0e0e0" stroke="none" stroke-width="0" rx="0" />
<rect x="185.30" y="567.40" width="6.71" height="6.66" fill="#f0e0e0" stroke="none" stroke-width="0" rx="0" />
<rect x="191.97" y="567.40" width="6.71" height="6.66" fill="#f0e0e0" stroke="none" stroke-width="0" rx="0" />
<rect x="198.64" y="567.40" width="6.71" height="6.66" fill="#f0e0e0" stroke="none" stroke-width="0" rx="0" />
<rect x="145.28" y="574.01" width="6.71" height="6.66" fill="#d7e2f4" stroke="none" stroke-width="0" rx="0" />
<rect x="151.95" y="574.01" width="6.71" height="6.66" fill="#ffffff" stroke="none" stroke-width="0" rx="0" />
<rect x="158.62" y="574.01" width="6.71" height="6.66" fill="#ffffff" stroke="none" stroke-width="0" rx="0" />
<rect x="165.29" y="574.01" width="6.71" height="6.66" fill="#ffffff" stroke="none" stroke-width="0" rx="0" />
<rect x="171.96" y="574.01" width="6.71" height="6.66" fill="#ffffff" stroke="none" stroke-width="0" rx="0" />
<rect x="178.63" y="574.01" width="6.71" height="6.66" fill="#ffffff" stroke="none" stroke-width="0" rx="0" />
<rect x="185.30" y="574.01" width="6.71" height="6.66" fill="#ffffff" stroke="none" stroke-width="0" rx="0" />
<rect x="191.97" y="574.01" width="6.71" height="6.66" fill="#ffffff" stroke="none" stroke-width="0" rx="0" />
<rect x="198.64" y="574.01" width="6.71" height="6.66" fill="#f5f8fc" stroke="none" stroke-width="0" rx="0" />
<rect x="145.28" y="580.63" width="6.71" height="6.66" fill="#ebf0f9" stroke="none" stroke-width="0" rx="0" />
<rect x="151.95" y="580.63" width="6.71" height="6.66" fill="#dab1b1" stroke="none" stroke-width="0" rx="0" />
<rect x="158.62" y="580.63" width="6.71" height="6.66" fill="#ebf0f9" stroke="none" stroke-width="0" rx="0" />
<rect x="165.29" y="580.63" width="6.71" height="6.66" fill="#f0e0e0" stroke="none" stroke-width="0" rx="0" />
<rect x="171.96" y="580.63" width="6.71" height="6.66" fill="#ebf0f9" stroke="none" stroke-width="0" rx="0" />
<rect x="178.63" y="580.63" width="6.71" height="6.66" fill="#d7e2f4" stroke="none" stroke-width="0" rx="0" />
<rect x="185.30" y="580.63" width="6.71" height="6.66" fill="#d7e2f4" stroke="none" stroke-width="0" rx="0" />
<rect x="191.97" y="580.63" width="6.71" height="6.66" fill="#d7e2f4" stroke="none" stroke-width="0" rx="0" />
<rect x="198.64" y="580.63" width="6.71" height="6.66" fill="#d7e2f4" stroke="none" stroke-width="0" rx="0" />
<rect x="145.28" y="587.25" width="6.71" height="6.66" fill="#ebf0f9" stroke="none" stroke-width="0" rx="0" />
<rect x="151.95" y="587.25" width="6.71" height="6.66" fill="#cd9696" stroke="none" stroke-width="0" rx="0" />
<rect x="158.62" y="587.25" width="6.71" height="6.66" fill="#ffffff" stroke="none" stroke-width="0" rx="0" />
<rect x="165.29" y="587.25" width="6.71" height="6.66" fill="#ffffff" stroke="none" stroke-width="0" rx="0" />
<rect x="171.96" y="587.25" width="6.71" height="6.66" fill="#ffffff" stroke="none" stroke-width="0" rx="0" />
<rect x="178.63" y="587.25" width="6.71" height="6.66" fill="#ffffff" stroke="none" stroke-width="0" rx="0" />
<rect x="185.30" y="587.25" width="6.71" height="6.66" fill="#ffffff" stroke="none" stroke-width="0" rx="0" />
<rect x="191.97" y="587.25" width="6.71" height="6.66" fill="#ffffff" stroke="none" stroke-width="0" rx="0" />
<rect x="198.64" y="587.25" width="6.71" height="6.66" fill="#f5f8fc" stroke="none" stroke-width="0" rx="0" />
<rect x="145.28" y="593.86" width="6.71" height="6.66" fill="#f5f8fc" stroke="none" stroke-width="0" rx="0" />
<rect x="151.95" y="593.86" width="6.71" height="6.66" fill="#ffffff" stroke="none" stroke-width="0" rx="0" />
<rect x="158.62" y="593.86" width="6.71" height="6.66" fill="#f5f8fc" stroke="none" stroke-width="0" rx="0" />
<rect x="165.29" y="593.86" width="6.71" height="6.66" fill="#f5f8fc" stroke="none" stroke-width="0" rx="0" />
<rect x="171.96" y="593.86" width="6.71" height="6.66" fill="#f5f8fc" stroke="none" stroke-width="0" rx="0" />
<rect x="178.63" y="593.86" width="6.71" height="6.66" fill="#f5f8fc" stroke="none" stroke-width="0" rx="0" />
<rect x="185.30" y="593.86" width="6.71" height="6.66" fill="#f5f8fc" stroke="none" stroke-width="0" rx="0" />
<rect x="191.97" y="593.86" width="6.71" height="6.66" fill="#f5f8fc" stroke="none" stroke-width="0" rx="0" />
<rect x="198.64" y="593.86" width="6.71" height="6.66" fill="#f5f8fc" stroke="none" stroke-width="0" rx="0" />
<rect x="145.28" y="600.48" width="6.71" height="6.66" fill="#d7e2f4" stroke="none" stroke-width="0" rx="0" />
<rect x="151.95" y="600.48" width="6.71" height="6.66" fill="#f0e0e0" stroke="none" stroke-width="0" rx="0" />
<rect x="158.62" y="600.48" width="6.71" height="6.66" fill="#ffffff" stroke="none" stroke-width="0" rx="0" />
<rect x="165.29" y="600.48" width="6.71" height="6.66" fill="#ffffff" stroke="none" stroke-width="0" rx="0" />
<rect x="171.96" y="600.48" width="6.71" height="6.66" fill="#ffffff" stroke="none" stroke-width="0" rx="0" />
<rect x="178.63" y="600.48" width="6.71" height="6.66" fill="#ffffff" stroke="none" stroke-width="0" rx="0" />
<rect x="185.30" y="600.48" width="6.71" height="6.66" fill="#ffffff" stroke="none" stroke-width="0" rx="0" />
<rect x="191.97" y="600.48" width="6.71" height="6.66" fill="#ffffff" stroke="none" stroke-width="0" rx="0" />
<rect x="198.64" y="600.48" width="6.71" height="6.66" fill="#ffffff" stroke="none" stroke-width="0" rx="0" />
<rect x="145.28" y="607.10" width="6.71" height="6.66" fill="#ffffff" stroke="none" stroke-width="0" rx="0" />
<rect x="151.95" y="607.10" width="6.71" height="6.66" fill="#e6cbcb" stroke="none" stroke-width="0" rx="0" />
<rect x="158.62" y="607.10" width="6.71" height="6.66" fill="#f8efef" stroke="none" stroke-width="0" rx="0" />
<rect x="165.29" y="607.10" width="6.71" height="6.66" fill="#f8efef" stroke="none" stroke-width="0" rx="0" />
<rect x="171.96" y="607.10" width="6.71" height="6.66" fill="#f5f8fc" stroke="none" stroke-width="0" rx="0" />
<rect x="178.63" y="607.10" width="6.71" height="6.66" fill="#f5f8fc" stroke="none" stroke-width="0" rx="0" />
<rect x="185.30" y="607.10" width="6.71" height="6.66" fill="#ebf0f9" stroke="none" stroke-width="0" rx="0" />
<rect x="191.97" y="607.10" width="6.71" height="6.66" fill="#ebf0f9" stroke="none" stroke-width="0" rx="0" />
<rect x="198.64" y="607.10" width="6.71" height="6.66" fill="#ebf0f9" stroke="none" stroke-width="0" rx="0" />
<rect x="145.28" y="613.71" width="6.71" height="6.66" fill="#ebf0f9" stroke="none" stroke-width="0" rx="0" />
<rect x="151.95" y="613.71" width="6.71" height="6.66" fill="#e6cbcb" stroke="none" stroke-width="0" rx="0" />
<rect x="158.62" y="613.71" width="6.71" height="6.66" fill="#f0e0e0" stroke="none" stroke-width="0" rx="0" />
<rect x="165.29" y="613.71" width="6.71" height="6.66" fill="#e6cbcb" stroke="none" stroke-width="0" rx="0" />
<rect x="171.96" y="613.71" width="6.71" height="6.66" fill="#f5f8fc" stroke="none" stroke-width="0" rx="0" />
<rect x="178.63" y="613.71" width="6.71" height="6.66" fill="#f5f8fc" stroke="none" stroke-width="0" rx="0" />
<rect x="185.30" y="613.71" width="6.71" height="6.66" fill="#f5f8fc" stroke="none" stroke-width="0" rx="0" />
<rect x="191.97" y="613.71" width="6.71" height="6.66" fill="#f5f8fc" stroke="none" stroke-width="0" rx="0" />
<rect x="198.64" y="613.71" width="6.71" height="6.66" fill="#f5f8fc" stroke="none" stroke-width="0" rx="0" />
<rect x="145.28" y="620.33" width="6.71" height="6.66" fill="#ebf0f9" stroke="none" stroke-width="0" rx="0" />
<rect x="151.95" y="620.33" width="6.71" height="6.66" fill="#f0e0e0" stroke="none" stroke-width="0" rx="0" />
<rect x="158.62" y="620.33" width="6.71" height="6.66" fill="#ffffff" stroke="none" stroke-width="0" rx="0" />
<rect x="165.29" y="620.33" width="6.71" height="6.66" fill="#ffffff" stroke="none" stroke-width="0" rx="0" />
<rect x="171.96" y="620.33" width="6.71" height="6.66" fill="#ffffff" stroke="none" stroke-width="0" rx="0" />
<rect x="178.63" y="620.33" width="6.71" height="6.66" fill="#ffffff" stroke="none" stroke-width="0" rx="0" />
<rect x="185.30" y="620.33" width="6.71" height="6.66" fill="#ffffff" stroke="none" stroke-width="0" rx="0" />
<rect x="191.97" y="620.33" width="6.71" height="6.66" fill="#ffffff" stroke="none" stroke-width="0" rx="0" />
<rect x="198.64" y="620.33" width="6.71" height="6.66" fill="#ffffff" stroke="none" stroke-width="0" rx="0" />
<rect x="145.28" y="626.95" width="6.71" height="6.66" fill="#ebf0f9" stroke="none" stroke-width="0" rx="0" />
<rect x="151.95" y="626.95" width="6.71" height="6.66" fill="#e6cbcb" stroke="none" stroke-width="0" rx="0" />
<rect x="158.62" y="626.95" width="6.71" height="6.66" fill="#f8efef" stroke="none" stroke-width="0" rx="0" />
<rect x="165.29" y="626.95" width="6.71" height="6.66" fill="#f0e0e0" stroke="none" stroke-width="0" rx="0" />
<rect x="171.96" y="626.95" width="6.71" height="6.66" fill="#ebf0f9" stroke="none" stroke-width="0" rx="0" />
<rect x="178.63" y="626.95" width="6.71" height="6.66" fill="#ebf0f9" stroke="none" stroke-width="0" rx="0" />
<rect x="185.30" y="626.95" width="6.71" height="6.66" fill="#ebf0f9" stroke="none" stroke-width="0" rx="0" />
<rect x="191.97" y="626.95" width="6.71" height="6.66" fill="#ebf0f9" stroke="none" stroke-width="0" rx="0" />
<rect x="198.64" y="626.95" width="6.71" height="6.66" fill="#ebf0f9" stroke="none" stroke-width="0" rx="0" />
<rect x="145.28" y="633.56" width="6.71" height="6.66" fill="#d7e2f4" stroke="none" stroke-width="0" rx="0" />
<rect x="151.95" y="633.56" width="6.71" height="6.66" fill="#f0e0e0" stroke="none" stroke-width="0" rx="0" />
<rect x="158.62" y="633.56" width="6.71" height="6.66" fill="#ffffff" stroke="none" stroke-width="0" rx="0" />
<rect x="165.29" y="633.56" width="6.71" height="6.66" fill="#ffffff" stroke="none" stroke-width="0" rx="0" />
<rect x="171.96" y="633.56" width="6.71" height="6.66" fill="#d7e2f4" stroke="none" stroke-width="0" rx="0" />
<rect x="178.63" y="633.56" width="6.71" height="6.66" fill="#d7e2f4" stroke="none" stroke-width="0" rx="0" />
<rect x="185.30" y="633.56" width="6.71" height="6.66" fill="#d7e2f4" stroke="none" stroke-width="0" rx="0" />
<rect x="191.97" y="633.56" width="6.71" height="6.66" fill="#d7e2f4" stroke="none" stroke-width="0" rx="0" />
<rect x="198.64" y="633.56" width="6.71" height="6.66" fill="#d7e2f4" stroke="none" stroke-width="0" rx="0" />
<line x1="151.97" y1="560.80" x2="151.97" y2="640.20" stroke="#949494" stroke-width="0.45" />
<line x1="158.64" y1="560.80" x2="158.64" y2="640.20" stroke="#949494" stroke-width="0.45" />
<line x1="165.31" y1="560.80" x2="165.31" y2="640.20" stroke="#949494" stroke-width="0.45" />
<line x1="171.98" y1="560.80" x2="171.98" y2="640.20" stroke="#949494" stroke-width="0.45" />
<line x1="178.65" y1="560.80" x2="178.65" y2="640.20" stroke="#949494" stroke-width="0.45" />
<line x1="185.32" y1="560.80" x2="185.32" y2="640.20" stroke="#949494" stroke-width="0.45" />
<line x1="191.99" y1="560.80" x2="191.99" y2="640.20" stroke="#949494" stroke-width="0.45" />
<line x1="198.66" y1="560.80" x2="198.66" y2="640.20" stroke="#949494" stroke-width="0.45" />
<line x1="145.30" y1="567.42" x2="205.33" y2="567.42" stroke="#949494" stroke-width="0.45" />
<line x1="145.30" y1="574.03" x2="205.33" y2="574.03" stroke="#949494" stroke-width="0.45" />
<line x1="145.30" y1="580.65" x2="205.33" y2="580.65" stroke="#949494" stroke-width="0.45" />
<line x1="145.30" y1="587.27" x2="205.33" y2="587.27" stroke="#949494" stroke-width="0.45" />
<line x1="145.30" y1="593.88" x2="205.33" y2="593.88" stroke="#949494" stroke-width="0.45" />
<line x1="145.30" y1="600.50" x2="205.33" y2="600.50" stroke="#949494" stroke-width="0.45" />
<line x1="145.30" y1="607.12" x2="205.33" y2="607.12" stroke="#949494" stroke-width="0.45" />
<line x1="145.30" y1="613.73" x2="205.33" y2="613.73" stroke="#949494" stroke-width="0.45" />
<line x1="145.30" y1="620.35" x2="205.33" y2="620.35" stroke="#949494" stroke-width="0.45" />
<line x1="145.30" y1="626.97" x2="205.33" y2="626.97" stroke="#949494" stroke-width="0.45" />
<line x1="145.30" y1="633.58" x2="205.33" y2="633.58" stroke="#949494" stroke-width="0.45" />
<line x1="145.30" y1="574.03" x2="205.33" y2="574.03" stroke="#555" stroke-width="0.6" />
<rect x="145.30" y="560.80" width="60.03" height="79.40" fill="none" stroke="#111" stroke-width="1.5" rx="1.2" />
<line x1="148.64" y1="641.00" x2="148.64" y2="643.20" stroke="#111" stroke-width="0.8" />
<text x="148.64" y="651.80" font-size="5.8" fill="#222" text-anchor="middle" stroke="#222" stroke-width="0.04" textLength="6.5" lengthAdjust="spacingAndGlyphs" >-5</text>
<line x1="155.31" y1="641.00" x2="155.31" y2="643.20" stroke="#111" stroke-width="0.8" />
<text x="155.31" y="651.80" font-size="5.8" fill="#222" text-anchor="middle" stroke="#222" stroke-width="0.04" >0</text>
<line x1="161.98" y1="641.00" x2="161.98" y2="643.20" stroke="#111" stroke-width="0.8" />
<text x="161.98" y="651.80" font-size="5.8" fill="#222" text-anchor="middle" stroke="#222" stroke-width="0.04" >3</text>
<line x1="168.65" y1="641.00" x2="168.65" y2="643.20" stroke="#111" stroke-width="0.8" />
<text x="168.65" y="651.80" font-size="5.8" fill="#222" text-anchor="middle" stroke="#222" stroke-width="0.04" >4</text>
<line x1="175.32" y1="641.00" x2="175.32" y2="643.20" stroke="#111" stroke-width="0.8" />
<text x="175.32" y="651.80" font-size="5.8" fill="#222" text-anchor="middle" stroke="#222" stroke-width="0.04" >5</text>
<line x1="181.99" y1="641.00" x2="181.99" y2="643.20" stroke="#111" stroke-width="0.8" />
<text x="181.99" y="651.80" font-size="5.8" fill="#222" text-anchor="middle" stroke="#222" stroke-width="0.04" >6</text>
<line x1="188.66" y1="641.00" x2="188.66" y2="643.20" stroke="#111" stroke-width="0.8" />
<text x="188.66" y="651.80" font-size="5.8" fill="#222" text-anchor="middle" stroke="#222" stroke-width="0.04" >7</text>
<line x1="195.33" y1="641.00" x2="195.33" y2="643.20" stroke="#111" stroke-width="0.8" />
<text x="195.33" y="651.80" font-size="5.8" fill="#222" text-anchor="middle" stroke="#222" stroke-width="0.04" textLength="6.5" lengthAdjust="spacingAndGlyphs" >10</text>
<line x1="202.00" y1="641.00" x2="202.00" y2="643.20" stroke="#111" stroke-width="0.8" />
<text x="202.00" y="651.80" font-size="5.8" fill="#222" text-anchor="middle" stroke="#222" stroke-width="0.04" textLength="6.5" lengthAdjust="spacingAndGlyphs" >11</text>
<text x="175.31" y="520.40" font-size="7.7" fill="#222" text-anchor="middle" stroke="#222" stroke-width="0.06" textLength="34.0" lengthAdjust="spacingAndGlyphs" >Patient 25</text>
<text x="175.31" y="661.10" font-size="7.6" fill="#222" text-anchor="middle" stroke="#222" stroke-width="0.06" textLength="27.7" lengthAdjust="spacingAndGlyphs" >Time (day)</text>
<line x1="226.70" y1="525.80" x2="231.79" y2="530.74" stroke="#b0b0b0" stroke-width="0.45" />
<line x1="231.79" y1="525.80" x2="226.70" y2="530.74" stroke="#b0b0b0" stroke-width="0.45" />
<text x="236.34" y="529.97" font-size="4.8" fill="#444" text-anchor="middle" stroke="#444" stroke-width="0.03" >0</text>
<text x="243.03" y="529.97" font-size="4.8" fill="#444" text-anchor="middle" stroke="#444" stroke-width="0.03" >0</text>
<text x="249.72" y="529.97" font-size="4.8" fill="#444" text-anchor="middle" stroke="#444" stroke-width="0.03" >0</text>
<text x="256.40" y="529.97" font-size="4.8" fill="#444" text-anchor="middle" stroke="#444" stroke-width="0.03" >0</text>
<text x="263.10" y="529.97" font-size="4.8" fill="#444" text-anchor="middle" stroke="#444" stroke-width="0.03" >0</text>
<text x="269.79" y="529.97" font-size="4.8" fill="#444" text-anchor="middle" stroke="#444" stroke-width="0.03" >0</text>
<text x="276.48" y="529.97" font-size="4.8" fill="#444" text-anchor="middle" stroke="#444" stroke-width="0.03" >0</text>
<line x1="226.70" y1="532.34" x2="231.79" y2="537.28" stroke="#b0b0b0" stroke-width="0.45" />
<line x1="231.79" y1="532.34" x2="226.70" y2="537.28" stroke="#b0b0b0" stroke-width="0.45" />
<text x="236.34" y="536.51" font-size="4.8" fill="#444" text-anchor="middle" stroke="#444" stroke-width="0.03" >0</text>
<text x="243.03" y="536.51" font-size="4.8" fill="#444" text-anchor="middle" stroke="#444" stroke-width="0.03" >0</text>
<text x="249.72" y="536.51" font-size="4.8" fill="#444" text-anchor="middle" stroke="#444" stroke-width="0.03" >0</text>
<text x="256.40" y="536.51" font-size="4.8" fill="#444" text-anchor="middle" stroke="#444" stroke-width="0.03" >0</text>
<text x="263.10" y="536.51" font-size="4.8" fill="#444" text-anchor="middle" stroke="#444" stroke-width="0.03" >0</text>
<text x="269.79" y="536.51" font-size="4.8" fill="#444" text-anchor="middle" stroke="#444" stroke-width="0.03" >0</text>
<text x="276.48" y="536.51" font-size="4.8" fill="#444" text-anchor="middle" stroke="#444" stroke-width="0.03" >0</text>
<line x1="226.70" y1="538.88" x2="231.79" y2="543.82" stroke="#b0b0b0" stroke-width="0.45" />
<line x1="231.79" y1="538.88" x2="226.70" y2="543.82" stroke="#b0b0b0" stroke-width="0.45" />
<text x="236.34" y="543.05" font-size="4.8" fill="#444" text-anchor="middle" stroke="#444" stroke-width="0.03" >0</text>
<text x="243.03" y="543.05" font-size="4.8" fill="#444" text-anchor="middle" stroke="#444" stroke-width="0.03" >0</text>
<text x="249.72" y="543.05" font-size="4.8" fill="#444" text-anchor="middle" stroke="#444" stroke-width="0.03" >0</text>
<text x="256.40" y="543.05" font-size="4.8" fill="#444" text-anchor="middle" stroke="#444" stroke-width="0.03" >0</text>
<text x="263.10" y="543.05" font-size="4.8" fill="#444" text-anchor="middle" stroke="#444" stroke-width="0.03" >0</text>
<text x="269.79" y="543.05" font-size="4.8" fill="#444" text-anchor="middle" stroke="#444" stroke-width="0.03" >0</text>
<text x="276.48" y="543.05" font-size="4.8" fill="#444" text-anchor="middle" stroke="#444" stroke-width="0.03" >0</text>
<line x1="226.70" y1="545.42" x2="231.79" y2="550.36" stroke="#b0b0b0" stroke-width="0.45" />
<line x1="231.79" y1="545.42" x2="226.70" y2="550.36" stroke="#b0b0b0" stroke-width="0.45" />
<text x="236.34" y="549.59" font-size="4.8" fill="#444" text-anchor="middle" stroke="#444" stroke-width="0.03" >0</text>
<text x="243.03" y="549.59" font-size="4.8" fill="#444" text-anchor="middle" stroke="#444" stroke-width="0.03" >0</text>
<text x="249.72" y="549.59" font-size="4.8" fill="#444" text-anchor="middle" stroke="#444" stroke-width="0.03" >0</text>
<text x="256.40" y="549.59" font-size="4.8" fill="#444" text-anchor="middle" stroke="#444" stroke-width="0.03" >0</text>
<text x="263.10" y="549.59" font-size="4.8" fill="#444" text-anchor="middle" stroke="#444" stroke-width="0.03" >0</text>
<text x="269.79" y="549.59" font-size="4.8" fill="#444" text-anchor="middle" stroke="#444" stroke-width="0.03" >0</text>
<text x="276.48" y="549.59" font-size="4.8" fill="#444" text-anchor="middle" stroke="#444" stroke-width="0.03" >0</text>
<line x1="226.70" y1="551.96" x2="231.79" y2="556.90" stroke="#b0b0b0" stroke-width="0.45" />
<line x1="231.79" y1="551.96" x2="226.70" y2="556.90" stroke="#b0b0b0" stroke-width="0.45" />
<text x="236.34" y="556.13" font-size="4.8" fill="#444" text-anchor="middle" stroke="#444" stroke-width="0.03" >0</text>
<text x="243.03" y="556.13" font-size="4.8" fill="#444" text-anchor="middle" stroke="#444" stroke-width="0.03" >0</text>
<text x="249.72" y="556.13" font-size="4.8" fill="#444" text-anchor="middle" stroke="#444" stroke-width="0.03" >0</text>
<text x="256.40" y="556.13" font-size="4.8" fill="#444" text-anchor="middle" stroke="#444" stroke-width="0.03" >0</text>
<text x="263.10" y="556.13" font-size="4.8" fill="#444" text-anchor="middle" stroke="#444" stroke-width="0.03" >0</text>
<text x="269.79" y="556.13" font-size="4.8" fill="#444" text-anchor="middle" stroke="#444" stroke-width="0.03" >0</text>
<text x="276.48" y="556.13" font-size="4.8" fill="#444" text-anchor="middle" stroke="#444" stroke-width="0.03" >0</text>
<line x1="232.59" y1="525.00" x2="232.59" y2="557.70" stroke="#b4b4b4" stroke-width="0.45" />
<line x1="239.28" y1="525.00" x2="239.28" y2="557.70" stroke="#b4b4b4" stroke-width="0.45" />
<line x1="245.97" y1="525.00" x2="245.97" y2="557.70" stroke="#b4b4b4" stroke-width="0.45" />
<line x1="252.66" y1="525.00" x2="252.66" y2="557.70" stroke="#b4b4b4" stroke-width="0.45" />
<line x1="259.35" y1="525.00" x2="259.35" y2="557.70" stroke="#b4b4b4" stroke-width="0.45" />
<line x1="266.04" y1="525.00" x2="266.04" y2="557.70" stroke="#b4b4b4" stroke-width="0.45" />
<line x1="272.73" y1="525.00" x2="272.73" y2="557.70" stroke="#b4b4b4" stroke-width="0.45" />
<line x1="225.90" y1="531.54" x2="279.42" y2="531.54" stroke="#b4b4b4" stroke-width="0.45" />
<line x1="225.90" y1="538.08" x2="279.42" y2="538.08" stroke="#b4b4b4" stroke-width="0.45" />
<line x1="225.90" y1="544.62" x2="279.42" y2="544.62" stroke="#b4b4b4" stroke-width="0.45" />
<line x1="225.90" y1="551.16" x2="279.42" y2="551.16" stroke="#b4b4b4" stroke-width="0.45" />
<rect x="225.90" y="525.00" width="53.52" height="32.70" fill="none" stroke="#111" stroke-width="1.5" rx="1.2" />
<line x1="226.70" y1="561.60" x2="231.79" y2="566.62" stroke="#b0b0b0" stroke-width="0.45" />
<line x1="231.79" y1="561.60" x2="226.70" y2="566.62" stroke="#b0b0b0" stroke-width="0.45" />
<rect x="232.57" y="560.78" width="6.73" height="6.66" fill="#d7e2f4" stroke="none" stroke-width="0" rx="0" />
<line x1="240.08" y1="561.60" x2="245.17" y2="566.62" stroke="#b0b0b0" stroke-width="0.45" />
<line x1="245.17" y1="561.60" x2="240.08" y2="566.62" stroke="#b0b0b0" stroke-width="0.45" />
<rect x="245.95" y="560.78" width="6.73" height="6.66" fill="#d7e2f4" stroke="none" stroke-width="0" rx="0" />
<line x1="253.46" y1="561.60" x2="258.55" y2="566.62" stroke="#b0b0b0" stroke-width="0.45" />
<line x1="258.55" y1="561.60" x2="253.46" y2="566.62" stroke="#b0b0b0" stroke-width="0.45" />
<rect x="259.33" y="560.78" width="6.73" height="6.66" fill="#d7e2f4" stroke="none" stroke-width="0" rx="0" />
<line x1="266.84" y1="561.60" x2="271.93" y2="566.62" stroke="#b0b0b0" stroke-width="0.45" />
<line x1="271.93" y1="561.60" x2="266.84" y2="566.62" stroke="#b0b0b0" stroke-width="0.45" />
<rect x="272.71" y="560.78" width="6.73" height="6.66" fill="#d7e2f4" stroke="none" stroke-width="0" rx="0" />
<line x1="226.70" y1="568.22" x2="231.79" y2="573.23" stroke="#b0b0b0" stroke-width="0.45" />
<line x1="231.79" y1="568.22" x2="226.70" y2="573.23" stroke="#b0b0b0" stroke-width="0.45" />
<rect x="232.57" y="567.40" width="6.73" height="6.66" fill="#ffffff" stroke="none" stroke-width="0" rx="0" />
<rect x="239.26" y="567.40" width="6.73" height="6.66" fill="#ffffff" stroke="none" stroke-width="0" rx="0" />
<rect x="245.95" y="567.40" width="6.73" height="6.66" fill="#ffffff" stroke="none" stroke-width="0" rx="0" />
<rect x="252.64" y="567.40" width="6.73" height="6.66" fill="#ffffff" stroke="none" stroke-width="0" rx="0" />
<rect x="259.33" y="567.40" width="6.73" height="6.66" fill="#f5f8fc" stroke="none" stroke-width="0" rx="0" />
<rect x="266.02" y="567.40" width="6.73" height="6.66" fill="#f5f8fc" stroke="none" stroke-width="0" rx="0" />
<rect x="272.71" y="567.40" width="6.73" height="6.66" fill="#f5f8fc" stroke="none" stroke-width="0" rx="0" />
<rect x="225.88" y="574.01" width="6.73" height="6.66" fill="#d7e2f4" stroke="none" stroke-width="0" rx="0" />
<rect x="232.57" y="574.01" width="6.73" height="6.66" fill="#f5f8fc" stroke="none" stroke-width="0" rx="0" />
<rect x="239.26" y="574.01" width="6.73" height="6.66" fill="#ffffff" stroke="none" stroke-width="0" rx="0" />
<rect x="245.95" y="574.01" width="6.73" height="6.66" fill="#ffffff" stroke="none" stroke-width="0" rx="0" />
<rect x="252.64" y="574.01" width="6.73" height="6.66" fill="#ffffff" stroke="none" stroke-width="0" rx="0" />
<rect x="259.33" y="574.01" width="6.73" height="6.66" fill="#ffffff" stroke="none" stroke-width="0" rx="0" />
<rect x="266.02" y="574.01" width="6.73" height="6.66" fill="#ffffff" stroke="none" stroke-width="0" rx="0" />
<rect x="272.71" y="574.01" width="6.73" height="6.66" fill="#ffffff" stroke="none" stroke-width="0" rx="0" />
<rect x="225.88" y="580.63" width="6.73" height="6.66" fill="#ebf0f9" stroke="none" stroke-width="0" rx="0" />
<rect x="232.57" y="580.63" width="6.73" height="6.66" fill="#dab1b1" stroke="none" stroke-width="0" rx="0" />
<rect x="239.26" y="580.63" width="6.73" height="6.66" fill="#dab1b1" stroke="none" stroke-width="0" rx="0" />
<rect x="245.95" y="580.63" width="6.73" height="6.66" fill="#dab1b1" stroke="none" stroke-width="0" rx="0" />
<rect x="252.64" y="580.63" width="6.73" height="6.66" fill="#f0e0e0" stroke="none" stroke-width="0" rx="0" />
<rect x="259.33" y="580.63" width="6.73" height="6.66" fill="#c17c7c" stroke="none" stroke-width="0" rx="0" />
<rect x="266.02" y="580.63" width="6.73" height="6.66" fill="#dab1b1" stroke="none" stroke-width="0" rx="0" />
<rect x="272.71" y="580.63" width="6.73" height="6.66" fill="#dab1b1" stroke="none" stroke-width="0" rx="0" />
<rect x="225.88" y="587.25" width="6.73" height="6.66" fill="#d7e2f4" stroke="none" stroke-width="0" rx="0" />
<rect x="232.57" y="587.25" width="6.73" height="6.66" fill="#f5f8fc" stroke="none" stroke-width="0" rx="0" />
<rect x="239.26" y="587.25" width="6.73" height="6.66" fill="#ffffff" stroke="none" stroke-width="0" rx="0" />
<rect x="245.95" y="587.25" width="6.73" height="6.66" fill="#ffffff" stroke="none" stroke-width="0" rx="0" />
<rect x="252.64" y="587.25" width="6.73" height="6.66" fill="#ffffff" stroke="none" stroke-width="0" rx="0" />
<rect x="259.33" y="587.25" width="6.73" height="6.66" fill="#ffffff" stroke="none" stroke-width="0" rx="0" />
<rect x="266.02" y="587.25" width="6.73" height="6.66" fill="#ffffff" stroke="none" stroke-width="0" rx="0" />
<rect x="272.71" y="587.25" width="6.73" height="6.66" fill="#ffffff" stroke="none" stroke-width="0" rx="0" />
<rect x="225.88" y="593.86" width="6.73" height="6.66" fill="#ebf0f9" stroke="none" stroke-width="0" rx="0" />
<rect x="232.57" y="593.86" width="6.73" height="6.66" fill="#f5f8fc" stroke="none" stroke-width="0" rx="0" />
<rect x="239.26" y="593.86" width="6.73" height="6.66" fill="#f5f8fc" stroke="none" stroke-width="0" rx="0" />
<rect x="245.95" y="593.86" width="6.73" height="6.66" fill="#f5f8fc" stroke="none" stroke-width="0" rx="0" />
<rect x="252.64" y="593.86" width="6.73" height="6.66" fill="#f5f8fc" stroke="none" stroke-width="0" rx="0" />
<rect x="259.33" y="593.86" width="6.73" height="6.66" fill="#f5f8fc" stroke="none" stroke-width="0" rx="0" />
<rect x="266.02" y="593.86" width="6.73" height="6.66" fill="#f5f8fc" stroke="none" stroke-width="0" rx="0" />
<rect x="272.71" y="593.86" width="6.73" height="6.66" fill="#f5f8fc" stroke="none" stroke-width="0" rx="0" />
<rect x="225.88" y="600.48" width="6.73" height="6.66" fill="#d7e2f4" stroke="none" stroke-width="0" rx="0" />
<rect x="232.57" y="600.48" width="6.73" height="6.66" fill="#ebf0f9" stroke="none" stroke-width="0" rx="0" />
<rect x="239.26" y="600.48" width="6.73" height="6.66" fill="#ebf0f9" stroke="none" stroke-width="0" rx="0" />
<rect x="245.95" y="600.48" width="6.73" height="6.66" fill="#ebf0f9" stroke="none" stroke-width="0" rx="0" />
<rect x="252.64" y="600.48" width="6.73" height="6.66" fill="#ebf0f9" stroke="none" stroke-width="0" rx="0" />
<rect x="259.33" y="600.48" width="6.73" height="6.66" fill="#ffffff" stroke="none" stroke-width="0" rx="0" />
<rect x="266.02" y="600.48" width="6.73" height="6.66" fill="#ffffff" stroke="none" stroke-width="0" rx="0" />
<rect x="272.71" y="600.48" width="6.73" height="6.66" fill="#ffffff" stroke="none" stroke-width="0" rx="0" />
<rect x="225.88" y="607.10" width="6.73" height="6.66" fill="#d7e2f4" stroke="none" stroke-width="0" rx="0" />
<rect x="232.57" y="607.10" width="6.73" height="6.66" fill="#ebf0f9" stroke="none" stroke-width="0" rx="0" />
<rect x="239.26" y="607.10" width="6.73" height="6.66" fill="#ebf0f9" stroke="none" stroke-width="0" rx="0" />
<rect x="245.95" y="607.10" width="6.73" height="6.66" fill="#ebf0f9" stroke="none" stroke-width="0" rx="0" />
<rect x="252.64" y="607.10" width="6.73" height="6.66" fill="#d7e2f4" stroke="none" stroke-width="0" rx="0" />
<rect x="259.33" y="607.10" width="6.73" height="6.66" fill="#d7e2f4" stroke="none" stroke-width="0" rx="0" />
<rect x="266.02" y="607.10" width="6.73" height="6.66" fill="#ebf0f9" stroke="none" stroke-width="0" rx="0" />
<rect x="272.71" y="607.10" width="6.73" height="6.66" fill="#ebf0f9" stroke="none" stroke-width="0" rx="0" />
<rect x="225.88" y="613.71" width="6.73" height="6.66" fill="#d7e2f4" stroke="none" stroke-width="0" rx="0" />
<rect x="232.57" y="613.71" width="6.73" height="6.66" fill="#ffffff" stroke="none" stroke-width="0" rx="0" />
<rect x="239.26" y="613.71" width="6.73" height="6.66" fill="#ebf0f9" stroke="none" stroke-width="0" rx="0" />
<rect x="245.95" y="613.71" width="6.73" height="6.66" fill="#ffffff" stroke="none" stroke-width="0" rx="0" />
<rect x="252.64" y="613.71" width="6.73" height="6.66" fill="#d7e2f4" stroke="none" stroke-width="0" rx="0" />
<rect x="259.33" y="613.71" width="6.73" height="6.66" fill="#ebf0f9" stroke="none" stroke-width="0" rx="0" />
<rect x="266.02" y="613.71" width="6.73" height="6.66" fill="#ffffff" stroke="none" stroke-width="0" rx="0" />
<rect x="272.71" y="613.71" width="6.73" height="6.66" fill="#ffffff" stroke="none" stroke-width="0" rx="0" />
<rect x="225.88" y="620.33" width="6.73" height="6.66" fill="#ffffff" stroke="none" stroke-width="0" rx="0" />
<rect x="232.57" y="620.33" width="6.73" height="6.66" fill="#f0e0e0" stroke="none" stroke-width="0" rx="0" />
<rect x="239.26" y="620.33" width="6.73" height="6.66" fill="#f0e0e0" stroke="none" stroke-width="0" rx="0" />
<rect x="245.95" y="620.33" width="6.73" height="6.66" fill="#f0e0e0" stroke="none" stroke-width="0" rx="0" />
<rect x="252.64" y="620.33" width="6.73" height="6.66" fill="#dab1b1" stroke="none" stroke-width="0" rx="0" />
<rect x="259.33" y="620.33" width="6.73" height="6.66" fill="#f0e0e0" stroke="none" stroke-width="0" rx="0" />
<rect x="266.02" y="620.33" width="6.73" height="6.66" fill="#f0e0e0" stroke="none" stroke-width="0" rx="0" />
<rect x="272.71" y="620.33" width="6.73" height="6.66" fill="#f0e0e0" stroke="none" stroke-width="0" rx="0" />
<rect x="225.88" y="626.95" width="6.73" height="6.66" fill="#d7e2f4" stroke="none" stroke-width="0" rx="0" />
<rect x="232.57" y="626.95" width="6.73" height="6.66" fill="#ffffff" stroke="none" stroke-width="0" rx="0" />
<rect x="239.26" y="626.95" width="6.73" height="6.66" fill="#d7e2f4" stroke="none" stroke-width="0" rx="0" />
<rect x="245.95" y="626.95" width="6.73" height="6.66" fill="#ffffff" stroke="none" stroke-width="0" rx="0" />
<rect x="252.64" y="626.95" width="6.73" height="6.66" fill="#ebf0f9" stroke="none" stroke-width="0" rx="0" />
<rect x="259.33" y="626.95" width="6.73" height="6.66" fill="#f5f8fc" stroke="none" stroke-width="0" rx="0" />
<rect x="266.02" y="626.95" width="6.73" height="6.66" fill="#ffffff" stroke="none" stroke-width="0" rx="0" />
<rect x="272.71" y="626.95" width="6.73" height="6.66" fill="#ffffff" stroke="none" stroke-width="0" rx="0" />
<rect x="225.88" y="633.56" width="6.73" height="6.66" fill="#ebf0f9" stroke="none" stroke-width="0" rx="0" />
<rect x="232.57" y="633.56" width="6.73" height="6.66" fill="#ffffff" stroke="none" stroke-width="0" rx="0" />
<rect x="239.26" y="633.56" width="6.73" height="6.66" fill="#ffffff" stroke="none" stroke-width="0" rx="0" />
<rect x="245.95" y="633.56" width="6.73" height="6.66" fill="#e6cbcb" stroke="none" stroke-width="0" rx="0" />
<rect x="252.64" y="633.56" width="6.73" height="6.66" fill="#ffffff" stroke="none" stroke-width="0" rx="0" />
<rect x="259.33" y="633.56" width="6.73" height="6.66" fill="#e6cbcb" stroke="none" stroke-width="0" rx="0" />
<rect x="266.02" y="633.56" width="6.73" height="6.66" fill="#e6cbcb" stroke="none" stroke-width="0" rx="0" />
<rect x="272.71" y="633.56" width="6.73" height="6.66" fill="#e6cbcb" stroke="none" stroke-width="0" rx="0" />
<line x1="232.59" y1="560.80" x2="232.59" y2="640.20" stroke="#949494" stroke-width="0.45" />
<line x1="239.28" y1="560.80" x2="239.28" y2="640.20" stroke="#949494" stroke-width="0.45" />
<line x1="245.97" y1="560.80" x2="245.97" y2="640.20" stroke="#949494" stroke-width="0.45" />
<line x1="252.66" y1="560.80" x2="252.66" y2="640.20" stroke="#949494" stroke-width="0.45" />
<line x1="259.35" y1="560.80" x2="259.35" y2="640.20" stroke="#949494" stroke-width="0.45" />
<line x1="266.04" y1="560.80" x2="266.04" y2="640.20" stroke="#949494" stroke-width="0.45" />
<line x1="272.73" y1="560.80" x2="272.73" y2="640.20" stroke="#949494" stroke-width="0.45" />
<line x1="225.90" y1="567.42" x2="279.42" y2="567.42" stroke="#949494" stroke-width="0.45" />
<line x1="225.90" y1="574.03" x2="279.42" y2="574.03" stroke="#949494" stroke-width="0.45" />
<line x1="225.90" y1="580.65" x2="279.42" y2="580.65" stroke="#949494" stroke-width="0.45" />
<line x1="225.90" y1="587.27" x2="279.42" y2="587.27" stroke="#949494" stroke-width="0.45" />
<line x1="225.90" y1="593.88" x2="279.42" y2="593.88" stroke="#949494" stroke-width="0.45" />
<line x1="225.90" y1="600.50" x2="279.42" y2="600.50" stroke="#949494" stroke-width="0.45" />
<line x1="225.90" y1="607.12" x2="279.42" y2="607.12" stroke="#949494" stroke-width="0.45" />
<line x1="225.90" y1="613.73" x2="279.42" y2="613.73" stroke="#949494" stroke-width="0.45" />
<line x1="225.90" y1="620.35" x2="279.42" y2="620.35" stroke="#949494" stroke-width="0.45" />
<line x1="225.90" y1="626.97" x2="279.42" y2="626.97" stroke="#949494" stroke-width="0.45" />
<line x1="225.90" y1="633.58" x2="279.42" y2="633.58" stroke="#949494" stroke-width="0.45" />
<line x1="225.90" y1="574.03" x2="279.42" y2="574.03" stroke="#555" stroke-width="0.6" />
<rect x="225.90" y="560.80" width="53.52" height="79.40" fill="none" stroke="#111" stroke-width="1.5" rx="1.2" />
<line x1="229.25" y1="641.00" x2="229.25" y2="643.20" stroke="#111" stroke-width="0.8" />
<text x="229.25" y="651.80" font-size="5.8" fill="#222" text-anchor="middle" stroke="#222" stroke-width="0.04" textLength="6.5" lengthAdjust="spacingAndGlyphs" >-7</text>
<line x1="235.94" y1="641.00" x2="235.94" y2="643.20" stroke="#111" stroke-width="0.8" />
<text x="235.94" y="651.80" font-size="5.8" fill="#222" text-anchor="middle" stroke="#222" stroke-width="0.04" >0</text>
<line x1="242.62" y1="641.00" x2="242.62" y2="643.20" stroke="#111" stroke-width="0.8" />
<text x="242.62" y="651.80" font-size="5.8" fill="#222" text-anchor="middle" stroke="#222" stroke-width="0.04" >1</text>
<line x1="249.31" y1="641.00" x2="249.31" y2="643.20" stroke="#111" stroke-width="0.8" />
<text x="249.31" y="651.80" font-size="5.8" fill="#222" text-anchor="middle" stroke="#222" stroke-width="0.04" >2</text>
<line x1="256.00" y1="641.00" x2="256.00" y2="643.20" stroke="#111" stroke-width="0.8" />
<text x="256.00" y="651.80" font-size="5.8" fill="#222" text-anchor="middle" stroke="#222" stroke-width="0.04" >3</text>
<line x1="262.70" y1="641.00" x2="262.70" y2="643.20" stroke="#111" stroke-width="0.8" />
<text x="262.70" y="651.80" font-size="5.8" fill="#222" text-anchor="middle" stroke="#222" stroke-width="0.04" >7</text>
<line x1="269.39" y1="641.00" x2="269.39" y2="643.20" stroke="#111" stroke-width="0.8" />
<text x="269.39" y="651.80" font-size="5.8" fill="#222" text-anchor="middle" stroke="#222" stroke-width="0.04" >8</text>
<line x1="276.08" y1="641.00" x2="276.08" y2="643.20" stroke="#111" stroke-width="0.8" />
<text x="276.08" y="651.80" font-size="5.8" fill="#222" text-anchor="middle" stroke="#222" stroke-width="0.04" >9</text>
<text x="252.66" y="520.40" font-size="7.7" fill="#222" text-anchor="middle" stroke="#222" stroke-width="0.06" textLength="34.0" lengthAdjust="spacingAndGlyphs" >Patient 12</text>
<text x="252.66" y="661.10" font-size="7.6" fill="#222" text-anchor="middle" stroke="#222" stroke-width="0.06" textLength="27.7" lengthAdjust="spacingAndGlyphs" >Time (day)</text>
<line x1="299.60" y1="525.80" x2="304.70" y2="530.74" stroke="#b0b0b0" stroke-width="0.45" />
<line x1="304.70" y1="525.80" x2="299.60" y2="530.74" stroke="#b0b0b0" stroke-width="0.45" />
<text x="309.25" y="529.97" font-size="4.8" fill="#444" text-anchor="middle" stroke="#444" stroke-width="0.03" >0</text>
<text x="315.95" y="529.97" font-size="4.8" fill="#444" text-anchor="middle" stroke="#444" stroke-width="0.03" >0</text>
<text x="322.65" y="529.97" font-size="4.8" fill="#444" text-anchor="middle" stroke="#444" stroke-width="0.03" >0</text>
<text x="329.35" y="529.97" font-size="4.8" fill="#444" text-anchor="middle" stroke="#444" stroke-width="0.03" >0</text>
<text x="336.05" y="529.97" font-size="4.8" fill="#444" text-anchor="middle" stroke="#444" stroke-width="0.03" >0</text>
<text x="342.75" y="529.97" font-size="4.8" fill="#444" text-anchor="middle" stroke="#444" stroke-width="0.03" >0</text>
<text x="349.45" y="529.97" font-size="4.8" fill="#444" text-anchor="middle" stroke="#444" stroke-width="0.03" >0</text>
<line x1="299.60" y1="532.34" x2="304.70" y2="537.28" stroke="#b0b0b0" stroke-width="0.45" />
<line x1="304.70" y1="532.34" x2="299.60" y2="537.28" stroke="#b0b0b0" stroke-width="0.45" />
<text x="309.25" y="536.51" font-size="4.8" fill="#444" text-anchor="middle" stroke="#444" stroke-width="0.03" >0</text>
<text x="315.95" y="536.51" font-size="4.8" fill="#444" text-anchor="middle" stroke="#444" stroke-width="0.03" >0</text>
<text x="322.65" y="536.51" font-size="4.8" fill="#444" text-anchor="middle" stroke="#444" stroke-width="0.03" >0</text>
<text x="329.35" y="536.51" font-size="4.8" fill="#444" text-anchor="middle" stroke="#444" stroke-width="0.03" >0</text>
<text x="336.05" y="536.51" font-size="4.8" fill="#444" text-anchor="middle" stroke="#444" stroke-width="0.03" >0</text>
<text x="342.75" y="536.51" font-size="4.8" fill="#444" text-anchor="middle" stroke="#444" stroke-width="0.03" >0</text>
<text x="349.45" y="536.51" font-size="4.8" fill="#444" text-anchor="middle" stroke="#444" stroke-width="0.03" >0</text>
<line x1="299.60" y1="538.88" x2="304.70" y2="543.82" stroke="#b0b0b0" stroke-width="0.45" />
<line x1="304.70" y1="538.88" x2="299.60" y2="543.82" stroke="#b0b0b0" stroke-width="0.45" />
<text x="309.25" y="543.05" font-size="4.8" fill="#444" text-anchor="middle" stroke="#444" stroke-width="0.03" >0</text>
<text x="315.95" y="543.05" font-size="4.8" fill="#444" text-anchor="middle" stroke="#444" stroke-width="0.03" >0</text>
<text x="322.65" y="543.05" font-size="4.8" fill="#444" text-anchor="middle" stroke="#444" stroke-width="0.03" >0</text>
<text x="329.35" y="543.05" font-size="4.8" fill="#444" text-anchor="middle" stroke="#444" stroke-width="0.03" >0</text>
<text x="336.05" y="543.05" font-size="4.8" fill="#444" text-anchor="middle" stroke="#444" stroke-width="0.03" >0</text>
<text x="342.75" y="543.05" font-size="4.8" fill="#444" text-anchor="middle" stroke="#444" stroke-width="0.03" >0</text>
<text x="349.45" y="543.05" font-size="4.8" fill="#444" text-anchor="middle" stroke="#444" stroke-width="0.03" >0</text>
<line x1="299.60" y1="545.42" x2="304.70" y2="550.36" stroke="#b0b0b0" stroke-width="0.45" />
<line x1="304.70" y1="545.42" x2="299.60" y2="550.36" stroke="#b0b0b0" stroke-width="0.45" />
<text x="309.25" y="549.59" font-size="4.8" fill="#444" text-anchor="middle" stroke="#444" stroke-width="0.03" >0</text>
<text x="315.95" y="549.59" font-size="4.8" fill="#444" text-anchor="middle" stroke="#444" stroke-width="0.03" >0</text>
<text x="322.65" y="549.59" font-size="4.8" fill="#444" text-anchor="middle" stroke="#444" stroke-width="0.03" >0</text>
<text x="329.35" y="549.59" font-size="4.8" fill="#444" text-anchor="middle" stroke="#444" stroke-width="0.03" >0</text>
<text x="336.05" y="549.59" font-size="4.8" fill="#444" text-anchor="middle" stroke="#444" stroke-width="0.03" >0</text>
<text x="342.75" y="549.59" font-size="4.8" fill="#444" text-anchor="middle" stroke="#444" stroke-width="0.03" >0</text>
<text x="349.45" y="549.59" font-size="4.8" fill="#444" text-anchor="middle" stroke="#444" stroke-width="0.03" >0</text>
<line x1="299.60" y1="551.96" x2="304.70" y2="556.90" stroke="#b0b0b0" stroke-width="0.45" />
<line x1="304.70" y1="551.96" x2="299.60" y2="556.90" stroke="#b0b0b0" stroke-width="0.45" />
<text x="309.25" y="556.13" font-size="4.8" fill="#444" text-anchor="middle" stroke="#444" stroke-width="0.03" >0</text>
<text x="315.95" y="556.13" font-size="4.8" fill="#444" text-anchor="middle" stroke="#444" stroke-width="0.03" >0</text>
<text x="322.65" y="556.13" font-size="4.8" fill="#444" text-anchor="middle" stroke="#444" stroke-width="0.03" >0</text>
<text x="329.35" y="556.13" font-size="4.8" fill="#444" text-anchor="middle" stroke="#444" stroke-width="0.03" >0</text>
<text x="336.05" y="556.13" font-size="4.8" fill="#444" text-anchor="middle" stroke="#444" stroke-width="0.03" >0</text>
<text x="342.75" y="556.13" font-size="4.8" fill="#444" text-anchor="middle" stroke="#444" stroke-width="0.03" >0</text>
<text x="349.45" y="556.13" font-size="4.8" fill="#444" text-anchor="middle" stroke="#444" stroke-width="0.03" >0</text>
<line x1="305.50" y1="525.00" x2="305.50" y2="557.70" stroke="#b4b4b4" stroke-width="0.45" />
<line x1="312.20" y1="525.00" x2="312.20" y2="557.70" stroke="#b4b4b4" stroke-width="0.45" />
<line x1="318.90" y1="525.00" x2="318.90" y2="557.70" stroke="#b4b4b4" stroke-width="0.45" />
<line x1="325.60" y1="525.00" x2="325.60" y2="557.70" stroke="#b4b4b4" stroke-width="0.45" />
<line x1="332.30" y1="525.00" x2="332.30" y2="557.70" stroke="#b4b4b4" stroke-width="0.45" />
<line x1="339.00" y1="525.00" x2="339.00" y2="557.70" stroke="#b4b4b4" stroke-width="0.45" />
<line x1="345.70" y1="525.00" x2="345.70" y2="557.70" stroke="#b4b4b4" stroke-width="0.45" />
<line x1="298.80" y1="531.54" x2="352.40" y2="531.54" stroke="#b4b4b4" stroke-width="0.45" />
<line x1="298.80" y1="538.08" x2="352.40" y2="538.08" stroke="#b4b4b4" stroke-width="0.45" />
<line x1="298.80" y1="544.62" x2="352.40" y2="544.62" stroke="#b4b4b4" stroke-width="0.45" />
<line x1="298.80" y1="551.16" x2="352.40" y2="551.16" stroke="#b4b4b4" stroke-width="0.45" />
<rect x="298.80" y="525.00" width="53.60" height="32.70" fill="none" stroke="#111" stroke-width="1.5" rx="1.2" />
<line x1="299.60" y1="561.60" x2="304.70" y2="566.62" stroke="#b0b0b0" stroke-width="0.45" />
<line x1="304.70" y1="561.60" x2="299.60" y2="566.62" stroke="#b0b0b0" stroke-width="0.45" />
<rect x="305.48" y="560.78" width="6.74" height="6.66" fill="#e6cbcb" stroke="none" stroke-width="0" rx="0" />
<rect x="312.18" y="560.78" width="6.74" height="6.66" fill="#f0e0e0" stroke="none" stroke-width="0" rx="0" />
<rect x="318.88" y="560.78" width="6.74" height="6.66" fill="#f0e0e0" stroke="none" stroke-width="0" rx="0" />
<rect x="325.58" y="560.78" width="6.74" height="6.66" fill="#ffffff" stroke="none" stroke-width="0" rx="0" />
<rect x="332.28" y="560.78" width="6.74" height="6.66" fill="#ffffff" stroke="none" stroke-width="0" rx="0" />
<rect x="338.98" y="560.78" width="6.74" height="6.66" fill="#ffffff" stroke="none" stroke-width="0" rx="0" />
<rect x="345.68" y="560.78" width="6.74" height="6.66" fill="#ffffff" stroke="none" stroke-width="0" rx="0" />
<line x1="299.60" y1="568.22" x2="304.70" y2="573.23" stroke="#b0b0b0" stroke-width="0.45" />
<line x1="304.70" y1="568.22" x2="299.60" y2="573.23" stroke="#b0b0b0" stroke-width="0.45" />
<rect x="305.48" y="567.40" width="6.74" height="6.66" fill="#ffffff" stroke="none" stroke-width="0" rx="0" />
<rect x="312.18" y="567.40" width="6.74" height="6.66" fill="#ffffff" stroke="none" stroke-width="0" rx="0" />
<rect x="318.88" y="567.40" width="6.74" height="6.66" fill="#f5f8fc" stroke="none" stroke-width="0" rx="0" />
<rect x="325.58" y="567.40" width="6.74" height="6.66" fill="#f5f8fc" stroke="none" stroke-width="0" rx="0" />
<rect x="332.28" y="567.40" width="6.74" height="6.66" fill="#f5f8fc" stroke="none" stroke-width="0" rx="0" />
<rect x="338.98" y="567.40" width="6.74" height="6.66" fill="#f5f8fc" stroke="none" stroke-width="0" rx="0" />
<rect x="345.68" y="567.40" width="6.74" height="6.66" fill="#f5f8fc" stroke="none" stroke-width="0" rx="0" />
<rect x="298.78" y="574.01" width="6.74" height="6.66" fill="#d7e2f4" stroke="none" stroke-width="0" rx="0" />
<rect x="305.48" y="574.01" width="6.74" height="6.66" fill="#ebf0f9" stroke="none" stroke-width="0" rx="0" />
<rect x="312.18" y="574.01" width="6.74" height="6.66" fill="#d7e2f4" stroke="none" stroke-width="0" rx="0" />
<rect x="318.88" y="574.01" width="6.74" height="6.66" fill="#ebf0f9" stroke="none" stroke-width="0" rx="0" />
<rect x="325.58" y="574.01" width="6.74" height="6.66" fill="#d7e2f4" stroke="none" stroke-width="0" rx="0" />
<rect x="332.28" y="574.01" width="6.74" height="6.66" fill="#d7e2f4" stroke="none" stroke-width="0" rx="0" />
<rect x="338.98" y="574.01" width="6.74" height="6.66" fill="#d7e2f4" stroke="none" stroke-width="0" rx="0" />
<rect x="345.68" y="574.01" width="6.74" height="6.66" fill="#d7e2f4" stroke="none" stroke-width="0" rx="0" />
<rect x="298.78" y="580.63" width="6.74" height="6.66" fill="#c3d3ee" stroke="none" stroke-width="0" rx="0" />
<rect x="305.48" y="580.63" width="6.74" height="6.66" fill="#f8efef" stroke="none" stroke-width="0" rx="0" />
<rect x="312.18" y="580.63" width="6.74" height="6.66" fill="#ffffff" stroke="none" stroke-width="0" rx="0" />
<rect x="318.88" y="580.63" width="6.74" height="6.66" fill="#e6cbcb" stroke="none" stroke-width="0" rx="0" />
<rect x="325.58" y="580.63" width="6.74" height="6.66" fill="#e6cbcb" stroke="none" stroke-width="0" rx="0" />
<rect x="332.28" y="580.63" width="6.74" height="6.66" fill="#e6cbcb" stroke="none" stroke-width="0" rx="0" />
<rect x="338.98" y="580.63" width="6.74" height="6.66" fill="#e6cbcb" stroke="none" stroke-width="0" rx="0" />
<rect x="345.68" y="580.63" width="6.74" height="6.66" fill="#f0e0e0" stroke="none" stroke-width="0" rx="0" />
<rect x="298.78" y="587.25" width="6.74" height="6.66" fill="#d7e2f4" stroke="none" stroke-width="0" rx="0" />
<rect x="305.48" y="587.25" width="6.74" height="6.66" fill="#ebf0f9" stroke="none" stroke-width="0" rx="0" />
<rect x="312.18" y="587.25" width="6.74" height="6.66" fill="#d7e2f4" stroke="none" stroke-width="0" rx="0" />
<rect x="318.88" y="587.25" width="6.74" height="6.66" fill="#ebf0f9" stroke="none" stroke-width="0" rx="0" />
<rect x="325.58" y="587.25" width="6.74" height="6.66" fill="#d7e2f4" stroke="none" stroke-width="0" rx="0" />
<rect x="332.28" y="587.25" width="6.74" height="6.66" fill="#d7e2f4" stroke="none" stroke-width="0" rx="0" />
<rect x="338.98" y="587.25" width="6.74" height="6.66" fill="#ebf0f9" stroke="none" stroke-width="0" rx="0" />
<rect x="345.68" y="587.25" width="6.74" height="6.66" fill="#ebf0f9" stroke="none" stroke-width="0" rx="0" />
<rect x="298.78" y="593.86" width="6.74" height="6.66" fill="#ffffff" stroke="none" stroke-width="0" rx="0" />
<rect x="305.48" y="593.86" width="6.74" height="6.66" fill="#f5f8fc" stroke="none" stroke-width="0" rx="0" />
<rect x="312.18" y="593.86" width="6.74" height="6.66" fill="#f5f8fc" stroke="none" stroke-width="0" rx="0" />
<rect x="318.88" y="593.86" width="6.74" height="6.66" fill="#f5f8fc" stroke="none" stroke-width="0" rx="0" />
<rect x="325.58" y="593.86" width="6.74" height="6.66" fill="#f5f8fc" stroke="none" stroke-width="0" rx="0" />
<rect x="332.28" y="593.86" width="6.74" height="6.66" fill="#f5f8fc" stroke="none" stroke-width="0" rx="0" />
<rect x="338.98" y="593.86" width="6.74" height="6.66" fill="#f5f8fc" stroke="none" stroke-width="0" rx="0" />
<rect x="345.68" y="593.86" width="6.74" height="6.66" fill="#f5f8fc" stroke="none" stroke-width="0" rx="0" />
<rect x="298.78" y="600.48" width="6.74" height="6.66" fill="#d7e2f4" stroke="none" stroke-width="0" rx="0" />
<rect x="305.48" y="600.48" width="6.74" height="6.66" fill="#ebf0f9" stroke="none" stroke-width="0" rx="0" />
<rect x="312.18" y="600.48" width="6.74" height="6.66" fill="#ebf0f9" stroke="none" stroke-width="0" rx="0" />
<rect x="318.88" y="600.48" width="6.74" height="6.66" fill="#ebf0f9" stroke="none" stroke-width="0" rx="0" />
<rect x="325.58" y="600.48" width="6.74" height="6.66" fill="#d7e2f4" stroke="none" stroke-width="0" rx="0" />
<rect x="332.28" y="600.48" width="6.74" height="6.66" fill="#d7e2f4" stroke="none" stroke-width="0" rx="0" />
<rect x="338.98" y="600.48" width="6.74" height="6.66" fill="#d7e2f4" stroke="none" stroke-width="0" rx="0" />
<rect x="345.68" y="600.48" width="6.74" height="6.66" fill="#d7e2f4" stroke="none" stroke-width="0" rx="0" />
<rect x="298.78" y="607.10" width="6.74" height="6.66" fill="#d7e2f4" stroke="none" stroke-width="0" rx="0" />
<rect x="305.48" y="607.10" width="6.74" height="6.66" fill="#ebf0f9" stroke="none" stroke-width="0" rx="0" />
<rect x="312.18" y="607.10" width="6.74" height="6.66" fill="#ebf0f9" stroke="none" stroke-width="0" rx="0" />
<rect x="318.88" y="607.10" width="6.74" height="6.66" fill="#ffffff" stroke="none" stroke-width="0" rx="0" />
<rect x="325.58" y="607.10" width="6.74" height="6.66" fill="#d7e2f4" stroke="none" stroke-width="0" rx="0" />
<rect x="332.28" y="607.10" width="6.74" height="6.66" fill="#d7e2f4" stroke="none" stroke-width="0" rx="0" />
<rect x="338.98" y="607.10" width="6.74" height="6.66" fill="#d7e2f4" stroke="none" stroke-width="0" rx="0" />
<rect x="345.68" y="607.10" width="6.74" height="6.66" fill="#d7e2f4" stroke="none" stroke-width="0" rx="0" />
<rect x="298.78" y="613.71" width="6.74" height="6.66" fill="#d7e2f4" stroke="none" stroke-width="0" rx="0" />
<rect x="305.48" y="613.71" width="6.74" height="6.66" fill="#ebf0f9" stroke="none" stroke-width="0" rx="0" />
<rect x="312.18" y="613.71" width="6.74" height="6.66" fill="#ebf0f9" stroke="none" stroke-width="0" rx="0" />
<rect x="318.88" y="613.71" width="6.74" height="6.66" fill="#ebf0f9" stroke="none" stroke-width="0" rx="0" />
<rect x="325.58" y="613.71" width="6.74" height="6.66" fill="#d7e2f4" stroke="none" stroke-width="0" rx="0" />
<rect x="332.28" y="613.71" width="6.74" height="6.66" fill="#d7e2f4" stroke="none" stroke-width="0" rx="0" />
<rect x="338.98" y="613.71" width="6.74" height="6.66" fill="#d7e2f4" stroke="none" stroke-width="0" rx="0" />
<rect x="345.68" y="613.71" width="6.74" height="6.66" fill="#d7e2f4" stroke="none" stroke-width="0" rx="0" />
<rect x="298.78" y="620.33" width="6.74" height="6.66" fill="#ebf0f9" stroke="none" stroke-width="0" rx="0" />
<rect x="305.48" y="620.33" width="6.74" height="6.66" fill="#dab1b1" stroke="none" stroke-width="0" rx="0" />
<rect x="312.18" y="620.33" width="6.74" height="6.66" fill="#ffffff" stroke="none" stroke-width="0" rx="0" />
<rect x="318.88" y="620.33" width="6.74" height="6.66" fill="#f8efef" stroke="none" stroke-width="0" rx="0" />
<rect x="325.58" y="620.33" width="6.74" height="6.66" fill="#f8efef" stroke="none" stroke-width="0" rx="0" />
<rect x="332.28" y="620.33" width="6.74" height="6.66" fill="#f0e0e0" stroke="none" stroke-width="0" rx="0" />
<rect x="338.98" y="620.33" width="6.74" height="6.66" fill="#ffffff" stroke="none" stroke-width="0" rx="0" />
<rect x="345.68" y="620.33" width="6.74" height="6.66" fill="#f8efef" stroke="none" stroke-width="0" rx="0" />
<rect x="298.78" y="626.95" width="6.74" height="6.66" fill="#d7e2f4" stroke="none" stroke-width="0" rx="0" />
<rect x="305.48" y="626.95" width="6.74" height="6.66" fill="#ebf0f9" stroke="none" stroke-width="0" rx="0" />
<rect x="312.18" y="626.95" width="6.74" height="6.66" fill="#ebf0f9" stroke="none" stroke-width="0" rx="0" />
<rect x="318.88" y="626.95" width="6.74" height="6.66" fill="#ebf0f9" stroke="none" stroke-width="0" rx="0" />
<rect x="325.58" y="626.95" width="6.74" height="6.66" fill="#d7e2f4" stroke="none" stroke-width="0" rx="0" />
<rect x="332.28" y="626.95" width="6.74" height="6.66" fill="#d7e2f4" stroke="none" stroke-width="0" rx="0" />
<rect x="338.98" y="626.95" width="6.74" height="6.66" fill="#d7e2f4" stroke="none" stroke-width="0" rx="0" />
<rect x="345.68" y="626.95" width="6.74" height="6.66" fill="#d7e2f4" stroke="none" stroke-width="0" rx="0" />
<rect x="298.78" y="633.56" width="6.74" height="6.66" fill="#c3d3ee" stroke="none" stroke-width="0" rx="0" />
<rect x="305.48" y="633.56" width="6.74" height="6.66" fill="#ebf0f9" stroke="none" stroke-width="0" rx="0" />
<rect x="312.18" y="633.56" width="6.74" height="6.66" fill="#ebf0f9" stroke="none" stroke-width="0" rx="0" />
<rect x="318.88" y="633.56" width="6.74" height="6.66" fill="#ebf0f9" stroke="none" stroke-width="0" rx="0" />
<rect x="325.58" y="633.56" width="6.74" height="6.66" fill="#d7e2f4" stroke="none" stroke-width="0" rx="0" />
<rect x="332.28" y="633.56" width="6.74" height="6.66" fill="#d7e2f4" stroke="none" stroke-width="0" rx="0" />
<rect x="338.98" y="633.56" width="6.74" height="6.66" fill="#d7e2f4" stroke="none" stroke-width="0" rx="0" />
<rect x="345.68" y="633.56" width="6.74" height="6.66" fill="#d7e2f4" stroke="none" stroke-width="0" rx="0" />
<line x1="305.50" y1="560.80" x2="305.50" y2="640.20" stroke="#949494" stroke-width="0.45" />
<line x1="312.20" y1="560.80" x2="312.20" y2="640.20" stroke="#949494" stroke-width="0.45" />
<line x1="318.90" y1="560.80" x2="318.90" y2="640.20" stroke="#949494" stroke-width="0.45" />
<line x1="325.60" y1="560.80" x2="325.60" y2="640.20" stroke="#949494" stroke-width="0.45" />
<line x1="332.30" y1="560.80" x2="332.30" y2="640.20" stroke="#949494" stroke-width="0.45" />
<line x1="339.00" y1="560.80" x2="339.00" y2="640.20" stroke="#949494" stroke-width="0.45" />
<line x1="345.70" y1="560.80" x2="345.70" y2="640.20" stroke="#949494" stroke-width="0.45" />
<line x1="298.80" y1="567.42" x2="352.40" y2="567.42" stroke="#949494" stroke-width="0.45" />
<line x1="298.80" y1="574.03" x2="352.40" y2="574.03" stroke="#949494" stroke-width="0.45" />
<line x1="298.80" y1="580.65" x2="352.40" y2="580.65" stroke="#949494" stroke-width="0.45" />
<line x1="298.80" y1="587.27" x2="352.40" y2="587.27" stroke="#949494" stroke-width="0.45" />
<line x1="298.80" y1="593.88" x2="352.40" y2="593.88" stroke="#949494" stroke-width="0.45" />
<line x1="298.80" y1="600.50" x2="352.40" y2="600.50" stroke="#949494" stroke-width="0.45" />
<line x1="298.80" y1="607.12" x2="352.40" y2="607.12" stroke="#949494" stroke-width="0.45" />
<line x1="298.80" y1="613.73" x2="352.40" y2="613.73" stroke="#949494" stroke-width="0.45" />
<line x1="298.80" y1="620.35" x2="352.40" y2="620.35" stroke="#949494" stroke-width="0.45" />
<line x1="298.80" y1="626.97" x2="352.40" y2="626.97" stroke="#949494" stroke-width="0.45" />
<line x1="298.80" y1="633.58" x2="352.40" y2="633.58" stroke="#949494" stroke-width="0.45" />
<line x1="298.80" y1="574.03" x2="352.40" y2="574.03" stroke="#555" stroke-width="0.6" />
<rect x="298.80" y="560.80" width="53.60" height="79.40" fill="none" stroke="#111" stroke-width="1.5" rx="1.2" />
<line x1="302.15" y1="641.00" x2="302.15" y2="643.20" stroke="#111" stroke-width="0.8" />
<text x="302.15" y="651.80" font-size="5.8" fill="#222" text-anchor="middle" stroke="#222" stroke-width="0.04" textLength="6.7" lengthAdjust="spacingAndGlyphs" >-20</text>
<line x1="308.85" y1="641.00" x2="308.85" y2="643.20" stroke="#111" stroke-width="0.8" />
<text x="308.85" y="651.80" font-size="5.8" fill="#222" text-anchor="middle" stroke="#222" stroke-width="0.04" >0</text>
<line x1="315.55" y1="641.00" x2="315.55" y2="643.20" stroke="#111" stroke-width="0.8" />
<text x="315.55" y="651.80" font-size="5.8" fill="#222" text-anchor="middle" stroke="#222" stroke-width="0.04" >1</text>
<line x1="322.25" y1="641.00" x2="322.25" y2="643.20" stroke="#111" stroke-width="0.8" />
<text x="322.25" y="651.80" font-size="5.8" fill="#222" text-anchor="middle" stroke="#222" stroke-width="0.04" >2</text>
<line x1="328.95" y1="641.00" x2="328.95" y2="643.20" stroke="#111" stroke-width="0.8" />
<text x="328.95" y="651.80" font-size="5.8" fill="#222" text-anchor="middle" stroke="#222" stroke-width="0.04" >5</text>
<line x1="335.65" y1="641.00" x2="335.65" y2="643.20" stroke="#111" stroke-width="0.8" />
<text x="335.65" y="651.80" font-size="5.8" fill="#222" text-anchor="middle" stroke="#222" stroke-width="0.04" >6</text>
<line x1="342.35" y1="641.00" x2="342.35" y2="643.20" stroke="#111" stroke-width="0.8" />
<text x="342.35" y="651.80" font-size="5.8" fill="#222" text-anchor="middle" stroke="#222" stroke-width="0.04" >7</text>
<line x1="349.05" y1="641.00" x2="349.05" y2="643.20" stroke="#111" stroke-width="0.8" />
<text x="349.05" y="651.80" font-size="5.8" fill="#222" text-anchor="middle" stroke="#222" stroke-width="0.04" >8</text>
<text x="325.60" y="520.40" font-size="7.7" fill="#222" text-anchor="middle" stroke="#222" stroke-width="0.06" textLength="34.0" lengthAdjust="spacingAndGlyphs" >Patient 14</text>
<text x="325.60" y="661.10" font-size="7.6" fill="#222" text-anchor="middle" stroke="#222" stroke-width="0.06" textLength="27.7" lengthAdjust="spacingAndGlyphs" >Time (day)</text>
<line x1="372.20" y1="525.80" x2="377.23" y2="530.74" stroke="#b0b0b0" stroke-width="0.45" />
<line x1="377.23" y1="525.80" x2="372.20" y2="530.74" stroke="#b0b0b0" stroke-width="0.45" />
<text x="381.74" y="529.97" font-size="4.8" fill="#444" text-anchor="middle" stroke="#444" stroke-width="0.03" >0</text>
<text x="388.37" y="529.97" font-size="4.8" fill="#444" text-anchor="middle" stroke="#444" stroke-width="0.03" >0</text>
<text x="395.00" y="529.97" font-size="4.8" fill="#444" text-anchor="middle" stroke="#444" stroke-width="0.03" >0</text>
<text x="401.63" y="529.97" font-size="4.8" fill="#444" text-anchor="middle" stroke="#444" stroke-width="0.03" >0</text>
<text x="408.26" y="529.97" font-size="4.8" fill="#444" text-anchor="middle" stroke="#444" stroke-width="0.03" >0</text>
<text x="414.89" y="529.97" font-size="4.8" fill="#444" text-anchor="middle" stroke="#444" stroke-width="0.03" >0</text>
<line x1="372.20" y1="532.34" x2="377.23" y2="537.28" stroke="#b0b0b0" stroke-width="0.45" />
<line x1="377.23" y1="532.34" x2="372.20" y2="537.28" stroke="#b0b0b0" stroke-width="0.45" />
<text x="381.74" y="536.51" font-size="4.8" fill="#444" text-anchor="middle" stroke="#444" stroke-width="0.03" >0</text>
<text x="388.37" y="536.51" font-size="4.8" fill="#444" text-anchor="middle" stroke="#444" stroke-width="0.03" >0</text>
<text x="395.00" y="536.51" font-size="4.8" fill="#444" text-anchor="middle" stroke="#444" stroke-width="0.03" >0</text>
<text x="401.63" y="536.51" font-size="4.8" fill="#444" text-anchor="middle" stroke="#444" stroke-width="0.03" >0</text>
<text x="408.26" y="536.51" font-size="4.8" fill="#444" text-anchor="middle" stroke="#444" stroke-width="0.03" >0</text>
<text x="414.89" y="536.51" font-size="4.8" fill="#444" text-anchor="middle" stroke="#444" stroke-width="0.03" >0</text>
<line x1="372.20" y1="538.88" x2="377.23" y2="543.82" stroke="#b0b0b0" stroke-width="0.45" />
<line x1="377.23" y1="538.88" x2="372.20" y2="543.82" stroke="#b0b0b0" stroke-width="0.45" />
<text x="381.74" y="543.05" font-size="4.8" fill="#444" text-anchor="middle" stroke="#444" stroke-width="0.03" >0</text>
<text x="388.37" y="543.05" font-size="4.8" fill="#444" text-anchor="middle" stroke="#444" stroke-width="0.03" >0</text>
<text x="395.00" y="543.05" font-size="4.8" fill="#444" text-anchor="middle" stroke="#444" stroke-width="0.03" >0</text>
<text x="401.63" y="543.05" font-size="4.8" fill="#444" text-anchor="middle" stroke="#444" stroke-width="0.03" >0</text>
<text x="408.26" y="543.05" font-size="4.8" fill="#444" text-anchor="middle" stroke="#444" stroke-width="0.03" >0</text>
<text x="414.89" y="543.05" font-size="4.8" fill="#444" text-anchor="middle" stroke="#444" stroke-width="0.03" >0</text>
<line x1="372.20" y1="545.42" x2="377.23" y2="550.36" stroke="#b0b0b0" stroke-width="0.45" />
<line x1="377.23" y1="545.42" x2="372.20" y2="550.36" stroke="#b0b0b0" stroke-width="0.45" />
<text x="381.74" y="549.59" font-size="4.8" fill="#444" text-anchor="middle" stroke="#444" stroke-width="0.03" >0</text>
<text x="388.37" y="549.59" font-size="4.8" fill="#444" text-anchor="middle" stroke="#444" stroke-width="0.03" >0</text>
<text x="395.00" y="549.59" font-size="4.8" fill="#444" text-anchor="middle" stroke="#444" stroke-width="0.03" >0</text>
<text x="401.63" y="549.59" font-size="4.8" fill="#444" text-anchor="middle" stroke="#444" stroke-width="0.03" >0</text>
<text x="408.26" y="549.59" font-size="4.8" fill="#444" text-anchor="middle" stroke="#444" stroke-width="0.03" >0</text>
<text x="414.89" y="549.59" font-size="4.8" fill="#444" text-anchor="middle" stroke="#444" stroke-width="0.03" >0</text>
<line x1="372.20" y1="551.96" x2="377.23" y2="556.90" stroke="#b0b0b0" stroke-width="0.45" />
<line x1="377.23" y1="551.96" x2="372.20" y2="556.90" stroke="#b0b0b0" stroke-width="0.45" />
<text x="381.74" y="556.13" font-size="4.8" fill="#444" text-anchor="middle" stroke="#444" stroke-width="0.03" >0</text>
<text x="388.37" y="556.13" font-size="4.8" fill="#444" text-anchor="middle" stroke="#444" stroke-width="0.03" >0</text>
<text x="395.00" y="556.13" font-size="4.8" fill="#444" text-anchor="middle" stroke="#444" stroke-width="0.03" >0</text>
<text x="401.63" y="556.13" font-size="4.8" fill="#444" text-anchor="middle" stroke="#444" stroke-width="0.03" >0</text>
<text x="408.26" y="556.13" font-size="4.8" fill="#444" text-anchor="middle" stroke="#444" stroke-width="0.03" >0</text>
<text x="414.89" y="556.13" font-size="4.8" fill="#444" text-anchor="middle" stroke="#444" stroke-width="0.03" >0</text>
<line x1="378.03" y1="525.00" x2="378.03" y2="557.70" stroke="#b4b4b4" stroke-width="0.45" />
<line x1="384.66" y1="525.00" x2="384.66" y2="557.70" stroke="#b4b4b4" stroke-width="0.45" />
<line x1="391.29" y1="525.00" x2="391.29" y2="557.70" stroke="#b4b4b4" stroke-width="0.45" />
<line x1="397.92" y1="525.00" x2="397.92" y2="557.70" stroke="#b4b4b4" stroke-width="0.45" />
<line x1="404.55" y1="525.00" x2="404.55" y2="557.70" stroke="#b4b4b4" stroke-width="0.45" />
<line x1="411.18" y1="525.00" x2="411.18" y2="557.70" stroke="#b4b4b4" stroke-width="0.45" />
<line x1="371.40" y1="531.54" x2="417.81" y2="531.54" stroke="#b4b4b4" stroke-width="0.45" />
<line x1="371.40" y1="538.08" x2="417.81" y2="538.08" stroke="#b4b4b4" stroke-width="0.45" />
<line x1="371.40" y1="544.62" x2="417.81" y2="544.62" stroke="#b4b4b4" stroke-width="0.45" />
<line x1="371.40" y1="551.16" x2="417.81" y2="551.16" stroke="#b4b4b4" stroke-width="0.45" />
<rect x="371.40" y="525.00" width="46.41" height="32.70" fill="none" stroke="#111" stroke-width="1.5" rx="1.2" />
<line x1="372.20" y1="561.60" x2="377.23" y2="566.62" stroke="#b0b0b0" stroke-width="0.45" />
<line x1="377.23" y1="561.60" x2="372.20" y2="566.62" stroke="#b0b0b0" stroke-width="0.45" />
<rect x="378.01" y="560.78" width="6.67" height="6.66" fill="#ebf0f9" stroke="none" stroke-width="0" rx="0" />
<rect x="384.64" y="560.78" width="6.67" height="6.66" fill="#d7e2f4" stroke="none" stroke-width="0" rx="0" />
<rect x="391.27" y="560.78" width="6.67" height="6.66" fill="#ebf0f9" stroke="none" stroke-width="0" rx="0" />
<rect x="397.90" y="560.78" width="6.67" height="6.66" fill="#ebf0f9" stroke="none" stroke-width="0" rx="0" />
<rect x="404.53" y="560.78" width="6.67" height="6.66" fill="#d7e2f4" stroke="none" stroke-width="0" rx="0" />
<rect x="411.16" y="560.78" width="6.67" height="6.66" fill="#ebf0f9" stroke="none" stroke-width="0" rx="0" />
<line x1="372.20" y1="568.22" x2="377.23" y2="573.23" stroke="#b0b0b0" stroke-width="0.45" />
<line x1="377.23" y1="568.22" x2="372.20" y2="573.23" stroke="#b0b0b0" stroke-width="0.45" />
<rect x="378.01" y="567.40" width="6.67" height="6.66" fill="#f0e0e0" stroke="none" stroke-width="0" rx="0" />
<rect x="384.64" y="567.40" width="6.67" height="6.66" fill="#f0e0e0" stroke="none" stroke-width="0" rx="0" />
<rect x="391.27" y="567.40" width="6.67" height="6.66" fill="#f0e0e0" stroke="none" stroke-width="0" rx="0" />
<rect x="397.90" y="567.40" width="6.67" height="6.66" fill="#f0e0e0" stroke="none" stroke-width="0" rx="0" />
<rect x="404.53" y="567.40" width="6.67" height="6.66" fill="#f0e0e0" stroke="none" stroke-width="0" rx="0" />
<rect x="411.16" y="567.40" width="6.67" height="6.66" fill="#f0e0e0" stroke="none" stroke-width="0" rx="0" />
<rect x="371.38" y="574.01" width="6.67" height="6.66" fill="#ebf0f9" stroke="none" stroke-width="0" rx="0" />
<rect x="378.01" y="574.01" width="6.67" height="6.66" fill="#e6cbcb" stroke="none" stroke-width="0" rx="0" />
<rect x="384.64" y="574.01" width="6.67" height="6.66" fill="#e6cbcb" stroke="none" stroke-width="0" rx="0" />
<rect x="391.27" y="574.01" width="6.67" height="6.66" fill="#e6cbcb" stroke="none" stroke-width="0" rx="0" />
<rect x="397.90" y="574.01" width="6.67" height="6.66" fill="#ffffff" stroke="none" stroke-width="0" rx="0" />
<rect x="404.53" y="574.01" width="6.67" height="6.66" fill="#e6cbcb" stroke="none" stroke-width="0" rx="0" />
<rect x="411.16" y="574.01" width="6.67" height="6.66" fill="#e6cbcb" stroke="none" stroke-width="0" rx="0" />
<rect x="371.38" y="580.63" width="6.67" height="6.66" fill="#f0e0e0" stroke="none" stroke-width="0" rx="0" />
<rect x="378.01" y="580.63" width="6.67" height="6.66" fill="#b46262" stroke="none" stroke-width="0" rx="0" />
<rect x="384.64" y="580.63" width="6.67" height="6.66" fill="#c17c7c" stroke="none" stroke-width="0" rx="0" />
<rect x="391.27" y="580.63" width="6.67" height="6.66" fill="#f0e0e0" stroke="none" stroke-width="0" rx="0" />
<rect x="397.90" y="580.63" width="6.67" height="6.66" fill="#cd9696" stroke="none" stroke-width="0" rx="0" />
<rect x="404.53" y="580.63" width="6.67" height="6.66" fill="#e6cbcb" stroke="none" stroke-width="0" rx="0" />
<rect x="411.16" y="580.63" width="6.67" height="6.66" fill="#ffffff" stroke="none" stroke-width="0" rx="0" />
<rect x="371.38" y="587.25" width="6.67" height="6.66" fill="#d7e2f4" stroke="none" stroke-width="0" rx="0" />
<rect x="378.01" y="587.25" width="6.67" height="6.66" fill="#ffffff" stroke="none" stroke-width="0" rx="0" />
<rect x="384.64" y="587.25" width="6.67" height="6.66" fill="#f8efef" stroke="none" stroke-width="0" rx="0" />
<rect x="391.27" y="587.25" width="6.67" height="6.66" fill="#ffffff" stroke="none" stroke-width="0" rx="0" />
<rect x="397.90" y="587.25" width="6.67" height="6.66" fill="#f5f8fc" stroke="none" stroke-width="0" rx="0" />
<rect x="404.53" y="587.25" width="6.67" height="6.66" fill="#f8efef" stroke="none" stroke-width="0" rx="0" />
<rect x="411.16" y="587.25" width="6.67" height="6.66" fill="#ffffff" stroke="none" stroke-width="0" rx="0" />
<rect x="371.38" y="593.86" width="6.67" height="6.66" fill="#f5f8fc" stroke="none" stroke-width="0" rx="0" />
<rect x="378.01" y="593.86" width="6.67" height="6.66" fill="#f5f8fc" stroke="none" stroke-width="0" rx="0" />
<rect x="384.64" y="593.86" width="6.67" height="6.66" fill="#f5f8fc" stroke="none" stroke-width="0" rx="0" />
<rect x="391.27" y="593.86" width="6.67" height="6.66" fill="#f5f8fc" stroke="none" stroke-width="0" rx="0" />
<rect x="397.90" y="593.86" width="6.67" height="6.66" fill="#f5f8fc" stroke="none" stroke-width="0" rx="0" />
<rect x="404.53" y="593.86" width="6.67" height="6.66" fill="#f5f8fc" stroke="none" stroke-width="0" rx="0" />
<rect x="411.16" y="593.86" width="6.67" height="6.66" fill="#ffffff" stroke="none" stroke-width="0" rx="0" />
<rect x="371.38" y="600.48" width="6.67" height="6.66" fill="#d7e2f4" stroke="none" stroke-width="0" rx="0" />
<rect x="378.01" y="600.48" width="6.67" height="6.66" fill="#f0e0e0" stroke="none" stroke-width="0" rx="0" />
<rect x="384.64" y="600.48" width="6.67" height="6.66" fill="#e6cbcb" stroke="none" stroke-width="0" rx="0" />
<rect x="391.27" y="600.48" width="6.67" height="6.66" fill="#e6cbcb" stroke="none" stroke-width="0" rx="0" />
<rect x="397.90" y="600.48" width="6.67" height="6.66" fill="#ffffff" stroke="none" stroke-width="0" rx="0" />
<rect x="404.53" y="600.48" width="6.67" height="6.66" fill="#e6cbcb" stroke="none" stroke-width="0" rx="0" />
<rect x="411.16" y="600.48" width="6.67" height="6.66" fill="#e6cbcb" stroke="none" stroke-width="0" rx="0" />
<rect x="371.38" y="607.10" width="6.67" height="6.66" fill="#d7e2f4" stroke="none" stroke-width="0" rx="0" />
<rect x="378.01" y="607.10" width="6.67" height="6.66" fill="#ffffff" stroke="none" stroke-width="0" rx="0" />
<rect x="384.64" y="607.10" width="6.67" height="6.66" fill="#ebf0f9" stroke="none" stroke-width="0" rx="0" />
<rect x="391.27" y="607.10" width="6.67" height="6.66" fill="#ffffff" stroke="none" stroke-width="0" rx="0" />
<rect x="397.90" y="607.10" width="6.67" height="6.66" fill="#d7e2f4" stroke="none" stroke-width="0" rx="0" />
<rect x="404.53" y="607.10" width="6.67" height="6.66" fill="#ffffff" stroke="none" stroke-width="0" rx="0" />
<rect x="411.16" y="607.10" width="6.67" height="6.66" fill="#f5f8fc" stroke="none" stroke-width="0" rx="0" />
<rect x="371.38" y="613.71" width="6.67" height="6.66" fill="#ebf0f9" stroke="none" stroke-width="0" rx="0" />
<rect x="378.01" y="613.71" width="6.67" height="6.66" fill="#cd9696" stroke="none" stroke-width="0" rx="0" />
<rect x="384.64" y="613.71" width="6.67" height="6.66" fill="#f0e0e0" stroke="none" stroke-width="0" rx="0" />
<rect x="391.27" y="613.71" width="6.67" height="6.66" fill="#dab1b1" stroke="none" stroke-width="0" rx="0" />
<rect x="397.90" y="613.71" width="6.67" height="6.66" fill="#ffffff" stroke="none" stroke-width="0" rx="0" />
<rect x="404.53" y="613.71" width="6.67" height="6.66" fill="#dab1b1" stroke="none" stroke-width="0" rx="0" />
<rect x="411.16" y="613.71" width="6.67" height="6.66" fill="#e6cbcb" stroke="none" stroke-width="0" rx="0" />
<rect x="371.38" y="620.33" width="6.67" height="6.66" fill="#ffffff" stroke="none" stroke-width="0" rx="0" />
<rect x="378.01" y="620.33" width="6.67" height="6.66" fill="#e6cbcb" stroke="none" stroke-width="0" rx="0" />
<rect x="384.64" y="620.33" width="6.67" height="6.66" fill="#e6cbcb" stroke="none" stroke-width="0" rx="0" />
<rect x="391.27" y="620.33" width="6.67" height="6.66" fill="#dab1b1" stroke="none" stroke-width="0" rx="0" />
<rect x="397.90" y="620.33" width="6.67" height="6.66" fill="#e6cbcb" stroke="none" stroke-width="0" rx="0" />
<rect x="404.53" y="620.33" width="6.67" height="6.66" fill="#f8efef" stroke="none" stroke-width="0" rx="0" />
<rect x="411.16" y="620.33" width="6.67" height="6.66" fill="#f8efef" stroke="none" stroke-width="0" rx="0" />
<rect x="371.38" y="626.95" width="6.67" height="6.66" fill="#d7e2f4" stroke="none" stroke-width="0" rx="0" />
<rect x="378.01" y="626.95" width="6.67" height="6.66" fill="#e6cbcb" stroke="none" stroke-width="0" rx="0" />
<rect x="384.64" y="626.95" width="6.67" height="6.66" fill="#ffffff" stroke="none" stroke-width="0" rx="0" />
<rect x="391.27" y="626.95" width="6.67" height="6.66" fill="#f0e0e0" stroke="none" stroke-width="0" rx="0" />
<rect x="397.90" y="626.95" width="6.67" height="6.66" fill="#d7e2f4" stroke="none" stroke-width="0" rx="0" />
<rect x="404.53" y="626.95" width="6.67" height="6.66" fill="#f0e0e0" stroke="none" stroke-width="0" rx="0" />
<rect x="411.16" y="626.95" width="6.67" height="6.66" fill="#ffffff" stroke="none" stroke-width="0" rx="0" />
<rect x="371.38" y="633.56" width="6.67" height="6.66" fill="#d7e2f4" stroke="none" stroke-width="0" rx="0" />
<rect x="378.01" y="633.56" width="6.67" height="6.66" fill="#f8efef" stroke="none" stroke-width="0" rx="0" />
<rect x="384.64" y="633.56" width="6.67" height="6.66" fill="#f5f8fc" stroke="none" stroke-width="0" rx="0" />
<rect x="391.27" y="633.56" width="6.67" height="6.66" fill="#f8efef" stroke="none" stroke-width="0" rx="0" />
<rect x="397.90" y="633.56" width="6.67" height="6.66" fill="#f5f8fc" stroke="none" stroke-width="0" rx="0" />
<rect x="404.53" y="633.56" width="6.67" height="6.66" fill="#f8efef" stroke="none" stroke-width="0" rx="0" />
<rect x="411.16" y="633.56" width="6.67" height="6.66" fill="#ffffff" stroke="none" stroke-width="0" rx="0" />
<line x1="378.03" y1="560.80" x2="378.03" y2="640.20" stroke="#949494" stroke-width="0.45" />
<line x1="384.66" y1="560.80" x2="384.66" y2="640.20" stroke="#949494" stroke-width="0.45" />
<line x1="391.29" y1="560.80" x2="391.29" y2="640.20" stroke="#949494" stroke-width="0.45" />
<line x1="397.92" y1="560.80" x2="397.92" y2="640.20" stroke="#949494" stroke-width="0.45" />
<line x1="404.55" y1="560.80" x2="404.55" y2="640.20" stroke="#949494" stroke-width="0.45" />
<line x1="411.18" y1="560.80" x2="411.18" y2="640.20" stroke="#949494" stroke-width="0.45" />
<line x1="371.40" y1="567.42" x2="417.81" y2="567.42" stroke="#949494" stroke-width="0.45" />
<line x1="371.40" y1="574.03" x2="417.81" y2="574.03" stroke="#949494" stroke-width="0.45" />
<line x1="371.40" y1="580.65" x2="417.81" y2="580.65" stroke="#949494" stroke-width="0.45" />
<line x1="371.40" y1="587.27" x2="417.81" y2="587.27" stroke="#949494" stroke-width="0.45" />
<line x1="371.40" y1="593.88" x2="417.81" y2="593.88" stroke="#949494" stroke-width="0.45" />
<line x1="371.40" y1="600.50" x2="417.81" y2="600.50" stroke="#949494" stroke-width="0.45" />
<line x1="371.40" y1="607.12" x2="417.81" y2="607.12" stroke="#949494" stroke-width="0.45" />
<line x1="371.40" y1="613.73" x2="417.81" y2="613.73" stroke="#949494" stroke-width="0.45" />
<line x1="371.40" y1="620.35" x2="417.81" y2="620.35" stroke="#949494" stroke-width="0.45" />
<line x1="371.40" y1="626.97" x2="417.81" y2="626.97" stroke="#949494" stroke-width="0.45" />
<line x1="371.40" y1="633.58" x2="417.81" y2="633.58" stroke="#949494" stroke-width="0.45" />
<line x1="371.40" y1="574.03" x2="417.81" y2="574.03" stroke="#555" stroke-width="0.6" />
<rect x="371.40" y="560.80" width="46.41" height="79.40" fill="none" stroke="#111" stroke-width="1.5" rx="1.2" />
<line x1="374.71" y1="641.00" x2="374.71" y2="643.20" stroke="#111" stroke-width="0.8" />
<text x="374.71" y="651.80" font-size="5.8" fill="#222" text-anchor="middle" stroke="#222" stroke-width="0.04" textLength="6.5" lengthAdjust="spacingAndGlyphs" >-7</text>
<line x1="381.34" y1="641.00" x2="381.34" y2="643.20" stroke="#111" stroke-width="0.8" />
<text x="381.34" y="651.80" font-size="5.8" fill="#222" text-anchor="middle" stroke="#222" stroke-width="0.04" >0</text>
<line x1="387.97" y1="641.00" x2="387.97" y2="643.20" stroke="#111" stroke-width="0.8" />
<text x="387.97" y="651.80" font-size="5.8" fill="#222" text-anchor="middle" stroke="#222" stroke-width="0.04" >2</text>
<line x1="394.60" y1="641.00" x2="394.60" y2="643.20" stroke="#111" stroke-width="0.8" />
<text x="394.60" y="651.80" font-size="5.8" fill="#222" text-anchor="middle" stroke="#222" stroke-width="0.04" >3</text>
<line x1="401.23" y1="641.00" x2="401.23" y2="643.20" stroke="#111" stroke-width="0.8" />
<text x="401.23" y="651.80" font-size="5.8" fill="#222" text-anchor="middle" stroke="#222" stroke-width="0.04" >6</text>
<line x1="407.86" y1="641.00" x2="407.86" y2="643.20" stroke="#111" stroke-width="0.8" />
<text x="407.86" y="651.80" font-size="5.8" fill="#222" text-anchor="middle" stroke="#222" stroke-width="0.04" >7</text>
<line x1="414.49" y1="641.00" x2="414.49" y2="643.20" stroke="#111" stroke-width="0.8" />
<text x="414.49" y="651.80" font-size="5.8" fill="#222" text-anchor="middle" stroke="#222" stroke-width="0.04" >9</text>
<text x="394.60" y="520.40" font-size="7.7" fill="#222" text-anchor="middle" stroke="#222" stroke-width="0.06" textLength="34.0" lengthAdjust="spacingAndGlyphs" >Patient 33</text>
<text x="394.60" y="661.10" font-size="7.6" fill="#222" text-anchor="middle" stroke="#222" stroke-width="0.06" textLength="27.7" lengthAdjust="spacingAndGlyphs" >Time (day)</text>
<rect x="426.40" y="561.00" width="8.6" height="78.40" fill="url(#cbgrad)" stroke="#333" stroke-width="0.5"/>
<line x1="433.40" y1="561.00" x2="436.60" y2="561.00" stroke="#222" stroke-width="0.7" />
<line x1="425.90" y1="561.00" x2="427.60" y2="561.00" stroke="#222" stroke-width="0.7" />
<text x="438.80" y="562.90" font-size="5.2" fill="#333" text-anchor="start" stroke="#333" stroke-width="0.03" >6</text>
<line x1="433.40" y1="578.42" x2="436.60" y2="578.42" stroke="#222" stroke-width="0.7" />
<line x1="425.90" y1="578.42" x2="427.60" y2="578.42" stroke="#222" stroke-width="0.7" />
<text x="438.80" y="580.32" font-size="5.2" fill="#333" text-anchor="start" stroke="#333" stroke-width="0.03" >4</text>
<line x1="433.40" y1="595.84" x2="436.60" y2="595.84" stroke="#222" stroke-width="0.7" />
<line x1="425.90" y1="595.84" x2="427.60" y2="595.84" stroke="#222" stroke-width="0.7" />
<text x="438.80" y="597.74" font-size="5.2" fill="#333" text-anchor="start" stroke="#333" stroke-width="0.03" >2</text>
<line x1="433.40" y1="613.27" x2="436.60" y2="613.27" stroke="#222" stroke-width="0.7" />
<line x1="425.90" y1="613.27" x2="427.60" y2="613.27" stroke="#222" stroke-width="0.7" />
<text x="438.80" y="615.17" font-size="5.2" fill="#333" text-anchor="start" stroke="#333" stroke-width="0.03" >0</text>
<line x1="433.40" y1="630.69" x2="436.60" y2="630.69" stroke="#222" stroke-width="0.7" />
<line x1="425.90" y1="630.69" x2="427.60" y2="630.69" stroke="#222" stroke-width="0.7" />
<text x="438.80" y="632.59" font-size="5.2" fill="#333" text-anchor="start" stroke="#333" stroke-width="0.03" >-2</text>
<text x="434.40" y="555.60" font-size="5.6" fill="#333" text-anchor="middle" stroke="#333" stroke-width="0.06" textLength="28" lengthAdjust="spacingAndGlyphs" >Abundance</text>
<text x="430.70" y="647.60" font-size="5.4" fill="#333" text-anchor="middle" stroke="#333" stroke-width="0.06" textLength="20.2" lengthAdjust="spacingAndGlyphs" >(z-score)</text>
<rect x="447.70" y="585.50" width="10.50" height="10.16" fill="#bf5e28" stroke="#aaa" stroke-width="0.5" rx="0" />
<text x="452.95" y="592.58" font-size="5.4" fill="#333" text-anchor="middle" stroke="#333" stroke-width="0.06" >4</text>
<rect x="447.70" y="595.66" width="10.50" height="10.16" fill="#d28343" stroke="#aaa" stroke-width="0.5" rx="0" />
<text x="452.95" y="602.74" font-size="5.4" fill="#333" text-anchor="middle" stroke="#333" stroke-width="0.06" >3</text>
<rect x="447.70" y="605.82" width="10.50" height="10.16" fill="#e2aa7b" stroke="#aaa" stroke-width="0.5" rx="0" />
<text x="452.95" y="612.90" font-size="5.4" fill="#333" text-anchor="middle" stroke="#333" stroke-width="0.06" >2</text>
<rect x="447.70" y="615.98" width="10.50" height="10.16" fill="#f5dcc7" stroke="#aaa" stroke-width="0.5" rx="0" />
<text x="452.95" y="623.06" font-size="5.4" fill="#333" text-anchor="middle" stroke="#333" stroke-width="0.06" >1</text>
<rect x="447.70" y="626.14" width="10.50" height="10.16" fill="#ffffff" stroke="#aaa" stroke-width="0.5" rx="0" />
<text x="452.95" y="633.22" font-size="5.4" fill="#333" text-anchor="middle" stroke="#333" stroke-width="0.06" >0</text>
<text x="452.95" y="577.00" font-size="5.6" fill="#333" text-anchor="middle" stroke="#333" stroke-width="0.06" >Clinical</text>
<text x="452.95" y="583.10" font-size="5.6" fill="#333" text-anchor="middle" stroke="#333" stroke-width="0.06" >Grade</text>
<rect x="466.70" y="616.60" width="10.50" height="10.16" fill="#f5dcc7" stroke="#aaa" stroke-width="0.5" rx="0" />
<text x="471.95" y="623.68" font-size="5.4" fill="#333" text-anchor="middle" stroke="#333" stroke-width="0.06" >1</text>
<text x="479.20" y="623.68" font-size="5.0" fill="#333" text-anchor="start" stroke="#333" stroke-width="0.06" >≥38 °C</text>
<rect x="466.70" y="626.76" width="10.50" height="10.16" fill="#ffffff" stroke="#aaa" stroke-width="0.5" rx="0" />
<text x="471.95" y="633.84" font-size="5.4" fill="#333" text-anchor="middle" stroke="#333" stroke-width="0.06" >0</text>
<text x="479.20" y="633.84" font-size="5.0" fill="#333" text-anchor="start" stroke="#333" stroke-width="0.06" >&lt;38 °C</text>
<text x="471.95" y="612.90" font-size="5.6" fill="#333" text-anchor="middle" stroke="#333" stroke-width="0.06" >Fever</text>
<rect x="69.80" y="199.40" width="5.20" height="56.00" fill="#e6e6e9" stroke="none" stroke-width="0" rx="0" />
<line x1="40.10" y1="255.40" x2="117.80" y2="255.40" stroke="#111" stroke-width="1.3" />
<line x1="41.00" y1="255.40" x2="41.00" y2="258.00" stroke="#111" stroke-width="1.0" />
<text x="41.00" y="265.80" font-size="5.4" fill="#222" text-anchor="middle" stroke="#222" stroke-width="0.04" >-10</text>
<line x1="56.00" y1="255.40" x2="56.00" y2="258.00" stroke="#111" stroke-width="1.0" />
<text x="56.00" y="265.80" font-size="5.4" fill="#222" text-anchor="middle" stroke="#222" stroke-width="0.04" >0</text>
<line x1="71.20" y1="255.40" x2="71.20" y2="258.00" stroke="#111" stroke-width="1.0" />
<text x="71.20" y="265.80" font-size="5.4" fill="#222" text-anchor="middle" stroke="#222" stroke-width="0.04" >10</text>
<line x1="86.40" y1="255.40" x2="86.40" y2="258.00" stroke="#111" stroke-width="1.0" />
<text x="86.40" y="265.80" font-size="5.4" fill="#222" text-anchor="middle" stroke="#222" stroke-width="0.04" >20</text>
<line x1="101.60" y1="255.40" x2="101.60" y2="258.00" stroke="#111" stroke-width="1.0" />
<text x="101.60" y="265.80" font-size="5.4" fill="#222" text-anchor="middle" stroke="#222" stroke-width="0.04" >30</text>
<line x1="116.80" y1="255.40" x2="116.80" y2="258.00" stroke="#111" stroke-width="1.0" />
<text x="116.80" y="265.80" font-size="5.4" fill="#222" text-anchor="middle" stroke="#222" stroke-width="0.04" >40</text>
<line x1="48.50" y1="255.40" x2="48.50" y2="257.00" stroke="#111" stroke-width="0.7" />
<line x1="63.60" y1="255.40" x2="63.60" y2="257.00" stroke="#111" stroke-width="0.7" />
<line x1="78.80" y1="255.40" x2="78.80" y2="257.00" stroke="#111" stroke-width="0.7" />
<line x1="94.00" y1="255.40" x2="94.00" y2="257.00" stroke="#111" stroke-width="0.7" />
<line x1="109.20" y1="255.40" x2="109.20" y2="257.00" stroke="#111" stroke-width="0.7" />
<line x1="40.70" y1="197.30" x2="40.70" y2="256.00" stroke="#111" stroke-width="1.3" />
<line x1="38.10" y1="197.80" x2="40.70" y2="197.80" stroke="#111" stroke-width="1.0" />
<text x="35.70" y="199.70" font-size="5.4" fill="#222" text-anchor="end" stroke="#222" stroke-width="0.04" >10000</text>
<line x1="38.10" y1="212.20" x2="40.70" y2="212.20" stroke="#111" stroke-width="1.0" />
<text x="35.70" y="214.10" font-size="5.4" fill="#222" text-anchor="end" stroke="#222" stroke-width="0.04" >1000</text>
<line x1="38.10" y1="226.60" x2="40.70" y2="226.60" stroke="#111" stroke-width="1.0" />
<text x="35.70" y="228.50" font-size="5.4" fill="#222" text-anchor="end" stroke="#222" stroke-width="0.04" >100</text>
<line x1="38.10" y1="241.00" x2="40.70" y2="241.00" stroke="#111" stroke-width="1.0" />
<text x="35.70" y="242.90" font-size="5.4" fill="#222" text-anchor="end" stroke="#222" stroke-width="0.04" >10</text>
<line x1="38.10" y1="255.40" x2="40.70" y2="255.40" stroke="#111" stroke-width="1.0" />
<text x="35.70" y="257.30" font-size="5.4" fill="#222" text-anchor="end" stroke="#222" stroke-width="0.04" >1</text>
<line x1="39.10" y1="251.07" x2="40.70" y2="251.07" stroke="#111" stroke-width="0.7" />
<line x1="39.10" y1="248.53" x2="40.70" y2="248.53" stroke="#111" stroke-width="0.7" />
<line x1="39.10" y1="246.73" x2="40.70" y2="246.73" stroke="#111" stroke-width="0.7" />
<line x1="39.10" y1="245.33" x2="40.70" y2="245.33" stroke="#111" stroke-width="0.7" />
<line x1="39.10" y1="244.19" x2="40.70" y2="244.19" stroke="#111" stroke-width="0.7" />
<line x1="39.10" y1="243.23" x2="40.70" y2="243.23" stroke="#111" stroke-width="0.7" />
<line x1="39.10" y1="242.40" x2="40.70" y2="242.40" stroke="#111" stroke-width="0.7" />
<line x1="39.10" y1="241.66" x2="40.70" y2="241.66" stroke="#111" stroke-width="0.7" />
<line x1="39.10" y1="236.67" x2="40.70" y2="236.67" stroke="#111" stroke-width="0.7" />
<line x1="39.10" y1="234.13" x2="40.70" y2="234.13" stroke="#111" stroke-width="0.7" />
<line x1="39.10" y1="232.33" x2="40.70" y2="232.33" stroke="#111" stroke-width="0.7" />
<line x1="39.10" y1="230.93" x2="40.70" y2="230.93" stroke="#111" stroke-width="0.7" />
<line x1="39.10" y1="229.79" x2="40.70" y2="229.79" stroke="#111" stroke-width="0.7" />
<line x1="39.10" y1="228.83" x2="40.70" y2="228.83" stroke="#111" stroke-width="0.7" />
<line x1="39.10" y1="228.00" x2="40.70" y2="228.00" stroke="#111" stroke-width="0.7" />
<line x1="39.10" y1="227.26" x2="40.70" y2="227.26" stroke="#111" stroke-width="0.7" />
<line x1="39.10" y1="222.27" x2="40.70" y2="222.27" stroke="#111" stroke-width="0.7" />
<line x1="39.10" y1="219.73" x2="40.70" y2="219.73" stroke="#111" stroke-width="0.7" />
<line x1="39.10" y1="217.93" x2="40.70" y2="217.93" stroke="#111" stroke-width="0.7" />
<line x1="39.10" y1="216.53" x2="40.70" y2="216.53" stroke="#111" stroke-width="0.7" />
<line x1="39.10" y1="215.39" x2="40.70" y2="215.39" stroke="#111" stroke-width="0.7" />
<line x1="39.10" y1="214.43" x2="40.70" y2="214.43" stroke="#111" stroke-width="0.7" />
<line x1="39.10" y1="213.60" x2="40.70" y2="213.60" stroke="#111" stroke-width="0.7" />
<line x1="39.10" y1="212.86" x2="40.70" y2="212.86" stroke="#111" stroke-width="0.7" />
<line x1="39.10" y1="207.87" x2="40.70" y2="207.87" stroke="#111" stroke-width="0.7" />
<line x1="39.10" y1="205.33" x2="40.70" y2="205.33" stroke="#111" stroke-width="0.7" />
<line x1="39.10" y1="203.53" x2="40.70" y2="203.53" stroke="#111" stroke-width="0.7" />
<line x1="39.10" y1="202.13" x2="40.70" y2="202.13" stroke="#111" stroke-width="0.7" />
<line x1="39.10" y1="200.99" x2="40.70" y2="200.99" stroke="#111" stroke-width="0.7" />
<line x1="39.10" y1="200.03" x2="40.70" y2="200.03" stroke="#111" stroke-width="0.7" />
<line x1="39.10" y1="199.20" x2="40.70" y2="199.20" stroke="#111" stroke-width="0.7" />
<line x1="39.10" y1="198.46" x2="40.70" y2="198.46" stroke="#111" stroke-width="0.7" />
<line x1="117.60" y1="197.30" x2="117.60" y2="256.00" stroke="#5aa9e6" stroke-width="1.3" />
<line x1="117.60" y1="198.00" x2="120.20" y2="198.00" stroke="#5aa9e6" stroke-width="1.0" />
<text x="122.60" y="199.90" font-size="5.4" fill="#78b6e8" text-anchor="start" >20</text>
<line x1="117.60" y1="212.35" x2="120.20" y2="212.35" stroke="#5aa9e6" stroke-width="1.0" />
<text x="122.60" y="214.25" font-size="5.4" fill="#78b6e8" text-anchor="start" >15</text>
<line x1="117.60" y1="226.70" x2="120.20" y2="226.70" stroke="#5aa9e6" stroke-width="1.0" />
<text x="122.60" y="228.60" font-size="5.4" fill="#78b6e8" text-anchor="start" >10</text>
<line x1="117.60" y1="241.05" x2="120.20" y2="241.05" stroke="#5aa9e6" stroke-width="1.0" />
<text x="122.60" y="242.95" font-size="5.4" fill="#78b6e8" text-anchor="start" >5</text>
<line x1="117.60" y1="255.40" x2="120.20" y2="255.40" stroke="#5aa9e6" stroke-width="1.0" />
<text x="122.60" y="257.30" font-size="5.4" fill="#78b6e8" text-anchor="start" >0</text>
<line x1="117.60" y1="205.20" x2="119.20" y2="205.20" stroke="#5aa9e6" stroke-width="0.7" />
<line x1="117.60" y1="219.50" x2="119.20" y2="219.50" stroke="#5aa9e6" stroke-width="0.7" />
<line x1="117.60" y1="233.90" x2="119.20" y2="233.90" stroke="#5aa9e6" stroke-width="0.7" />
<line x1="117.60" y1="248.20" x2="119.20" y2="248.20" stroke="#5aa9e6" stroke-width="0.7" />
<line x1="144.60" y1="197.30" x2="144.60" y2="256.00" stroke="#b9274a" stroke-width="1.3" />
<line x1="144.60" y1="198.00" x2="147.20" y2="198.00" stroke="#b9274a" stroke-width="1.0" />
<text x="149.60" y="199.90" font-size="5.4" fill="#b9274a" text-anchor="start" >1000</text>
<line x1="144.60" y1="209.50" x2="147.20" y2="209.50" stroke="#b9274a" stroke-width="1.0" />
<text x="149.60" y="211.40" font-size="5.4" fill="#b9274a" text-anchor="start" >800</text>
<line x1="144.60" y1="221.00" x2="147.20" y2="221.00" stroke="#b9274a" stroke-width="1.0" />
<text x="149.60" y="222.90" font-size="5.4" fill="#b9274a" text-anchor="start" >600</text>
<line x1="144.60" y1="232.50" x2="147.20" y2="232.50" stroke="#b9274a" stroke-width="1.0" />
<text x="149.60" y="234.40" font-size="5.4" fill="#b9274a" text-anchor="start" >400</text>
<line x1="144.60" y1="244.00" x2="147.20" y2="244.00" stroke="#b9274a" stroke-width="1.0" />
<text x="149.60" y="245.90" font-size="5.4" fill="#b9274a" text-anchor="start" >200</text>
<line x1="144.60" y1="255.40" x2="147.20" y2="255.40" stroke="#b9274a" stroke-width="1.0" />
<text x="149.60" y="257.30" font-size="5.4" fill="#b9274a" text-anchor="start" >0</text>
<line x1="144.60" y1="203.70" x2="146.20" y2="203.70" stroke="#b9274a" stroke-width="0.7" />
<line x1="144.60" y1="215.20" x2="146.20" y2="215.20" stroke="#b9274a" stroke-width="0.7" />
<line x1="144.60" y1="226.70" x2="146.20" y2="226.70" stroke="#b9274a" stroke-width="0.7" />
<line x1="144.60" y1="238.20" x2="146.20" y2="238.20" stroke="#b9274a" stroke-width="0.7" />
<line x1="144.60" y1="249.70" x2="146.20" y2="249.70" stroke="#b9274a" stroke-width="0.7" />
<text x="12.90" y="226.00" font-size="7.4" fill="#333" text-anchor="middle" stroke="#333" stroke-width="0.02" textLength="32" lengthAdjust="spacingAndGlyphs" transform="rotate(-90 12.90 226.00)" dominant-baseline="middle">IL-6 (pg/mL)</text>
<text x="136.50" y="226.00" font-size="7.0" fill="#78b6e8" text-anchor="middle" textLength="33" lengthAdjust="spacingAndGlyphs" transform="rotate(90 136.50 226.00)" dominant-baseline="middle">CRP (mg/dL)</text>
<text x="169.40" y="226.00" font-size="7.0" fill="#bd3656" text-anchor="middle" textLength="41" lengthAdjust="spacingAndGlyphs" transform="rotate(90 169.40 226.00)" dominant-baseline="middle">Ferritin (ng/mL)</text>
<text x="79.30" y="277.20" font-size="7.6" fill="#333" text-anchor="middle" stroke="#333" stroke-width="0.02" textLength="58" lengthAdjust="spacingAndGlyphs" >Time, patient 02 (day)</text>
<line x1="59.60" y1="203.00" x2="59.60" y2="255.40" stroke="#2a4a8a" stroke-width="0.8" stroke-dasharray="1,1"/>
<line x1="63.60" y1="203.00" x2="63.60" y2="255.40" stroke="#2a4a8a" stroke-width="0.8" stroke-dasharray="1,1"/>
<polyline points="55.80,249.00 57.20,251.00 59.70,212.50 61.30,209.00 63.20,240.00 65.70,252.80 69.20,254.60 75.00,255.20 80.00,255.40" fill="none" stroke="#5aa9e6" stroke-width="0.9" stroke-linejoin="round" />
<circle cx="55.80" cy="249.00" r="0.6" fill="#5aa9e6"/>
<circle cx="57.20" cy="251.00" r="0.6" fill="#5aa9e6"/>
<circle cx="59.70" cy="212.50" r="0.6" fill="#5aa9e6"/>
<circle cx="61.30" cy="209.00" r="0.6" fill="#5aa9e6"/>
<circle cx="63.20" cy="240.00" r="0.6" fill="#5aa9e6"/>
<circle cx="65.70" cy="252.80" r="0.6" fill="#5aa9e6"/>
<polyline points="48.40,240.20 56.20,244.00 60.50,210.40 70.60,239.00 72.70,240.40 77.60,229.00 82.20,237.20 92.80,235.10 103.80,230.50 112.90,233.20" fill="none" stroke="#3f4a5e" stroke-width="0.8" stroke-linejoin="round" />
<circle cx="48.40" cy="240.20" r="0.85" fill="#3f4a5e"/>
<circle cx="56.20" cy="244.00" r="0.85" fill="#3f4a5e"/>
<circle cx="60.50" cy="210.40" r="0.85" fill="#3f4a5e"/>
<circle cx="70.60" cy="239.00" r="0.85" fill="#3f4a5e"/>
<circle cx="72.70" cy="240.40" r="0.85" fill="#3f4a5e"/>
<circle cx="77.60" cy="229.00" r="0.85" fill="#3f4a5e"/>
<circle cx="82.20" cy="237.20" r="0.85" fill="#3f4a5e"/>
<circle cx="92.80" cy="235.10" r="0.85" fill="#3f4a5e"/>
<circle cx="103.80" cy="230.50" r="0.85" fill="#3f4a5e"/>
<circle cx="112.90" cy="233.20" r="0.85" fill="#3f4a5e"/>
<polyline points="55.70,245.40 58.80,248.00 62.60,245.00 66.80,207.30 70.40,238.50 73.70,243.90 77.20,241.40 79.70,242.30" fill="none" stroke="#b9274a" stroke-width="0.9" stroke-linejoin="round" />
<circle cx="55.70" cy="245.40" r="0.6" fill="#b9274a"/>
<circle cx="58.80" cy="248.00" r="0.6" fill="#b9274a"/>
<circle cx="62.60" cy="245.00" r="0.6" fill="#b9274a"/>
<circle cx="66.80" cy="207.30" r="0.6" fill="#b9274a"/>
<circle cx="70.40" cy="238.50" r="0.6" fill="#b9274a"/>
<circle cx="73.70" cy="243.90" r="0.6" fill="#b9274a"/>
<circle cx="77.20" cy="241.40" r="0.6" fill="#b9274a"/>
<circle cx="79.70" cy="242.30" r="0.6" fill="#b9274a"/>
<line x1="86.20" y1="202.90" x2="96.20" y2="202.90" stroke="#3f4a5e" stroke-width="0.7" />
<circle cx="91.20" cy="202.90" r="0.9" fill="#3f4a5e"/>
<text x="98.70" y="204.50" font-size="4.5" fill="#555" text-anchor="start" >IL-6</text>
<line x1="86.20" y1="208.10" x2="96.20" y2="208.10" stroke="#5aa9e6" stroke-width="0.7" />
<circle cx="91.20" cy="208.10" r="0.9" fill="#5aa9e6"/>
<text x="98.70" y="209.70" font-size="4.5" fill="#555" text-anchor="start" >CRP</text>
<line x1="86.20" y1="213.30" x2="96.20" y2="213.30" stroke="#b9274a" stroke-width="0.7" />
<circle cx="91.20" cy="213.30" r="0.9" fill="#b9274a"/>
<text x="98.70" y="214.90" font-size="4.5" fill="#555" text-anchor="start" >Ferritin</text>
<text x="52.50" y="196.60" font-size="5.4" fill="#3a5590" text-anchor="middle" textLength="22" lengthAdjust="spacingAndGlyphs" >Tocilizumab</text>
<path d="M54.5,199.5 L59,204 M57.5,199 L61.5,203.5 M60.5,199 L63.5,203.5" stroke="#1f3f7f" stroke-width="1.1" fill="none"/>
<path d="M57.2,202.6 L59.4,204.6 L59.6,201.8 Z M60.6,202.2 L62.3,204.2 L62.6,201.4 Z" fill="#1f3f7f"/>
<text x="82.00" y="196.00" font-size="5.0" fill="#888" text-anchor="middle" stroke="#888" stroke-width="0.06" textLength="19" lengthAdjust="spacingAndGlyphs" >On Steroid</text>
<path d="M80.5,198.5 L72.2,203.3" stroke="#555" stroke-width="0.6" fill="none"/><path d="M71.5,203.8 L73.5,201.6 L74.2,203.2 Z" fill="#555"/>
<line x1="208.80" y1="255.40" x2="284.30" y2="255.40" stroke="#111" stroke-width="1.3" />
<line x1="209.77" y1="255.40" x2="209.77" y2="258.00" stroke="#111" stroke-width="1.0" />
<text x="209.77" y="265.80" font-size="5.4" fill="#222" text-anchor="middle" stroke="#222" stroke-width="0.04" >-10</text>
<line x1="224.50" y1="255.40" x2="224.50" y2="258.00" stroke="#111" stroke-width="1.0" />
<text x="224.50" y="265.80" font-size="5.4" fill="#222" text-anchor="middle" stroke="#222" stroke-width="0.04" >0</text>
<line x1="239.23" y1="255.40" x2="239.23" y2="258.00" stroke="#111" stroke-width="1.0" />
<text x="239.23" y="265.80" font-size="5.4" fill="#222" text-anchor="middle" stroke="#222" stroke-width="0.04" >10</text>
<line x1="253.96" y1="255.40" x2="253.96" y2="258.00" stroke="#111" stroke-width="1.0" />
<text x="253.96" y="265.80" font-size="5.4" fill="#222" text-anchor="middle" stroke="#222" stroke-width="0.04" >20</text>
<line x1="268.69" y1="255.40" x2="268.69" y2="258.00" stroke="#111" stroke-width="1.0" />
<text x="268.69" y="265.80" font-size="5.4" fill="#222" text-anchor="middle" stroke="#222" stroke-width="0.04" >30</text>
<line x1="283.42" y1="255.40" x2="283.42" y2="258.00" stroke="#111" stroke-width="1.0" />
<text x="283.42" y="265.80" font-size="5.4" fill="#222" text-anchor="middle" stroke="#222" stroke-width="0.04" >40</text>
<line x1="217.13" y1="255.40" x2="217.13" y2="257.00" stroke="#111" stroke-width="0.7" />
<line x1="231.87" y1="255.40" x2="231.87" y2="257.00" stroke="#111" stroke-width="0.7" />
<line x1="246.59" y1="255.40" x2="246.59" y2="257.00" stroke="#111" stroke-width="0.7" />
<line x1="261.32" y1="255.40" x2="261.32" y2="257.00" stroke="#111" stroke-width="0.7" />
<line x1="276.06" y1="255.40" x2="276.06" y2="257.00" stroke="#111" stroke-width="0.7" />
<line x1="209.40" y1="197.80" x2="209.40" y2="256.00" stroke="#111" stroke-width="1.3" />
<line x1="206.80" y1="198.30" x2="209.40" y2="198.30" stroke="#111" stroke-width="1.0" />
<text x="205.60" y="200.20" font-size="5.4" fill="#222" text-anchor="end" stroke="#222" stroke-width="0.04" >250</text>
<line x1="206.80" y1="209.72" x2="209.40" y2="209.72" stroke="#111" stroke-width="1.0" />
<text x="205.60" y="211.62" font-size="5.4" fill="#222" text-anchor="end" stroke="#222" stroke-width="0.04" >200</text>
<line x1="206.80" y1="221.14" x2="209.40" y2="221.14" stroke="#111" stroke-width="1.0" />
<text x="205.60" y="223.04" font-size="5.4" fill="#222" text-anchor="end" stroke="#222" stroke-width="0.04" >150</text>
<line x1="206.80" y1="232.56" x2="209.40" y2="232.56" stroke="#111" stroke-width="1.0" />
<text x="205.60" y="234.46" font-size="5.4" fill="#222" text-anchor="end" stroke="#222" stroke-width="0.04" >100</text>
<line x1="206.80" y1="243.98" x2="209.40" y2="243.98" stroke="#111" stroke-width="1.0" />
<text x="205.60" y="245.88" font-size="5.4" fill="#222" text-anchor="end" stroke="#222" stroke-width="0.04" >50</text>
<line x1="206.80" y1="255.40" x2="209.40" y2="255.40" stroke="#111" stroke-width="1.0" />
<text x="205.60" y="257.30" font-size="5.4" fill="#222" text-anchor="end" stroke="#222" stroke-width="0.04" >0</text>
<line x1="207.80" y1="204.00" x2="209.40" y2="204.00" stroke="#111" stroke-width="0.7" />
<line x1="207.80" y1="215.40" x2="209.40" y2="215.40" stroke="#111" stroke-width="0.7" />
<line x1="207.80" y1="226.85" x2="209.40" y2="226.85" stroke="#111" stroke-width="0.7" />
<line x1="207.80" y1="238.30" x2="209.40" y2="238.30" stroke="#111" stroke-width="0.7" />
<line x1="207.80" y1="249.70" x2="209.40" y2="249.70" stroke="#111" stroke-width="0.7" />
<line x1="287.10" y1="197.80" x2="287.10" y2="256.00" stroke="#5aa9e6" stroke-width="1.3" />
<line x1="287.10" y1="198.00" x2="289.70" y2="198.00" stroke="#5aa9e6" stroke-width="1.0" />
<text x="292.10" y="199.90" font-size="5.4" fill="#78b6e8" text-anchor="start" >20</text>
<line x1="287.10" y1="212.30" x2="289.70" y2="212.30" stroke="#5aa9e6" stroke-width="1.0" />
<text x="292.10" y="214.20" font-size="5.4" fill="#78b6e8" text-anchor="start" >15</text>
<line x1="287.10" y1="226.70" x2="289.70" y2="226.70" stroke="#5aa9e6" stroke-width="1.0" />
<text x="292.10" y="228.60" font-size="5.4" fill="#78b6e8" text-anchor="start" >10</text>
<line x1="287.10" y1="241.00" x2="289.70" y2="241.00" stroke="#5aa9e6" stroke-width="1.0" />
<text x="292.10" y="242.90" font-size="5.4" fill="#78b6e8" text-anchor="start" >5</text>
<line x1="287.10" y1="255.30" x2="289.70" y2="255.30" stroke="#5aa9e6" stroke-width="1.0" />
<text x="292.10" y="257.20" font-size="5.4" fill="#78b6e8" text-anchor="start" >0</text>
<line x1="287.10" y1="205.20" x2="288.70" y2="205.20" stroke="#5aa9e6" stroke-width="0.7" />
<line x1="287.10" y1="219.50" x2="288.70" y2="219.50" stroke="#5aa9e6" stroke-width="0.7" />
<line x1="287.10" y1="233.90" x2="288.70" y2="233.90" stroke="#5aa9e6" stroke-width="0.7" />
<line x1="287.10" y1="248.20" x2="288.70" y2="248.20" stroke="#5aa9e6" stroke-width="0.7" />
<line x1="314.00" y1="197.80" x2="314.00" y2="256.00" stroke="#b9274a" stroke-width="1.3" />
<line x1="314.00" y1="198.00" x2="316.60" y2="198.00" stroke="#b9274a" stroke-width="1.0" />
<text x="319.00" y="199.90" font-size="5.4" fill="#b9274a" text-anchor="start" >2500</text>
<line x1="314.00" y1="209.50" x2="316.60" y2="209.50" stroke="#b9274a" stroke-width="1.0" />
<text x="319.00" y="211.40" font-size="5.4" fill="#b9274a" text-anchor="start" >2000</text>
<line x1="314.00" y1="221.00" x2="316.60" y2="221.00" stroke="#b9274a" stroke-width="1.0" />
<text x="319.00" y="222.90" font-size="5.4" fill="#b9274a" text-anchor="start" >1500</text>
<line x1="314.00" y1="232.50" x2="316.60" y2="232.50" stroke="#b9274a" stroke-width="1.0" />
<text x="319.00" y="234.40" font-size="5.4" fill="#b9274a" text-anchor="start" >1000</text>
<line x1="314.00" y1="244.00" x2="316.60" y2="244.00" stroke="#b9274a" stroke-width="1.0" />
<text x="319.00" y="245.90" font-size="5.4" fill="#b9274a" text-anchor="start" >500</text>
<line x1="314.00" y1="255.40" x2="316.60" y2="255.40" stroke="#b9274a" stroke-width="1.0" />
<text x="319.00" y="257.30" font-size="5.4" fill="#b9274a" text-anchor="start" >0</text>
<line x1="314.00" y1="203.70" x2="315.60" y2="203.70" stroke="#b9274a" stroke-width="0.7" />
<line x1="314.00" y1="215.20" x2="315.60" y2="215.20" stroke="#b9274a" stroke-width="0.7" />
<line x1="314.00" y1="226.70" x2="315.60" y2="226.70" stroke="#b9274a" stroke-width="0.7" />
<line x1="314.00" y1="238.20" x2="315.60" y2="238.20" stroke="#b9274a" stroke-width="0.7" />
<line x1="314.00" y1="249.70" x2="315.60" y2="249.70" stroke="#b9274a" stroke-width="0.7" />
<text x="186.70" y="226.00" font-size="7.4" fill="#333" text-anchor="middle" stroke="#333" stroke-width="0.02" textLength="32" lengthAdjust="spacingAndGlyphs" transform="rotate(-90 186.70 226.00)" dominant-baseline="middle">IL-6 (pg/mL)</text>
<text x="305.90" y="226.00" font-size="7.0" fill="#78b6e8" text-anchor="middle" textLength="33" lengthAdjust="spacingAndGlyphs" transform="rotate(90 305.90 226.00)" dominant-baseline="middle">CRP (mg/dL)</text>
<text x="339.30" y="226.00" font-size="7.0" fill="#bd3656" text-anchor="middle" textLength="41" lengthAdjust="spacingAndGlyphs" transform="rotate(90 339.30 226.00)" dominant-baseline="middle">Ferritin (ng/mL)</text>
<text x="247.20" y="277.20" font-size="7.6" fill="#333" text-anchor="middle" stroke="#333" stroke-width="0.02" textLength="58" lengthAdjust="spacingAndGlyphs" >Time, patient 08 (day)</text>
<line x1="236.50" y1="201.00" x2="236.50" y2="255.40" stroke="#2a4a8a" stroke-width="0.8" stroke-dasharray="1,1"/>
<text x="227.80" y="196.90" font-size="5.0" fill="#3a5590" text-anchor="middle" textLength="22.3" lengthAdjust="spacingAndGlyphs" >Tocilizumab</text>
<path d="M228.3,199 L234.2,202.6" stroke="#1f3f7f" stroke-width="1.0" fill="none"/><path d="M232.6,203.4 L235.8,203.6 L234.3,200.9 Z" fill="#1f3f7f"/>
<polyline points="224.50,219.40 226.40,234.10 227.60,230.70 232.80,241.00 235.90,234.10 237.40,217.70 238.80,228.00 240.60,248.80 245.70,253.20 249.20,254.90" fill="none" stroke="#5aa9e6" stroke-width="0.9" stroke-linejoin="round" />
<circle cx="224.50" cy="219.40" r="0.6" fill="#5aa9e6"/>
<circle cx="226.40" cy="234.10" r="0.6" fill="#5aa9e6"/>
<circle cx="227.60" cy="230.70" r="0.6" fill="#5aa9e6"/>
<circle cx="232.80" cy="241.00" r="0.6" fill="#5aa9e6"/>
<circle cx="235.90" cy="234.10" r="0.6" fill="#5aa9e6"/>
<circle cx="237.40" cy="217.70" r="0.6" fill="#5aa9e6"/>
<circle cx="238.80" cy="228.00" r="0.6" fill="#5aa9e6"/>
<polyline points="224.10,211.60 225.80,216.80 230.20,222.90 235.40,218.50 238.00,206.40 239.70,212.50 242.30,206.40 244.90,218.50 246.60,214.20 249.20,221.10" fill="none" stroke="#b9274a" stroke-width="0.9" stroke-linejoin="round" />
<circle cx="224.10" cy="211.60" r="0.6" fill="#b9274a"/>
<circle cx="225.80" cy="216.80" r="0.6" fill="#b9274a"/>
<circle cx="230.20" cy="222.90" r="0.6" fill="#b9274a"/>
<circle cx="235.40" cy="218.50" r="0.6" fill="#b9274a"/>
<circle cx="238.00" cy="206.40" r="0.6" fill="#b9274a"/>
<circle cx="239.70" cy="212.50" r="0.6" fill="#b9274a"/>
<circle cx="242.30" cy="206.40" r="0.6" fill="#b9274a"/>
<circle cx="244.90" cy="218.50" r="0.6" fill="#b9274a"/>
<circle cx="246.60" cy="214.20" r="0.6" fill="#b9274a"/>
<circle cx="249.20" cy="221.10" r="0.6" fill="#b9274a"/>
<polyline points="215.50,251.40 224.50,228.00 226.40,235.80 227.60,231.50 230.20,235.30 235.90,229.40 237.60,202.10 239.70,235.80 244.90,241.00 246.60,245.40 249.20,241.90 267.40,240.20 280.80,234.00" fill="none" stroke="#3f4a5e" stroke-width="0.8" stroke-linejoin="round" />
<circle cx="215.50" cy="251.40" r="0.85" fill="#3f4a5e"/>
<circle cx="224.50" cy="228.00" r="0.85" fill="#3f4a5e"/>
<circle cx="226.40" cy="235.80" r="0.85" fill="#3f4a5e"/>
<circle cx="227.60" cy="231.50" r="0.85" fill="#3f4a5e"/>
<circle cx="230.20" cy="235.30" r="0.85" fill="#3f4a5e"/>
<circle cx="235.90" cy="229.40" r="0.85" fill="#3f4a5e"/>
<circle cx="237.60" cy="202.10" r="0.85" fill="#3f4a5e"/>
<circle cx="239.70" cy="235.80" r="0.85" fill="#3f4a5e"/>
<circle cx="244.90" cy="241.00" r="0.85" fill="#3f4a5e"/>
<circle cx="246.60" cy="245.40" r="0.85" fill="#3f4a5e"/>
<circle cx="249.20" cy="241.90" r="0.85" fill="#3f4a5e"/>
<circle cx="267.40" cy="240.20" r="0.85" fill="#3f4a5e"/>
<circle cx="280.80" cy="234.00" r="0.85" fill="#3f4a5e"/>
<line x1="226.40" y1="232.80" x2="226.40" y2="238.80" stroke="#3f4a5e" stroke-width="0.6" />
<line x1="239.70" y1="232.80" x2="239.70" y2="238.80" stroke="#3f4a5e" stroke-width="0.6" />
<line x1="246.60" y1="242.40" x2="246.60" y2="248.40" stroke="#3f4a5e" stroke-width="0.6" />
<line x1="267.40" y1="236.20" x2="267.40" y2="244.20" stroke="#3f4a5e" stroke-width="0.6" />
<line x1="237.60" y1="199.10" x2="237.60" y2="205.10" stroke="#3f4a5e" stroke-width="0.6" />
<line x1="257.70" y1="203.30" x2="268.30" y2="203.30" stroke="#3f4a5e" stroke-width="0.7" />
<circle cx="263.00" cy="203.30" r="0.9" fill="#3f4a5e"/>
<text x="269.80" y="204.90" font-size="4.5" fill="#555" text-anchor="start" >IL-6</text>
<line x1="257.70" y1="208.00" x2="268.30" y2="208.00" stroke="#5aa9e6" stroke-width="0.7" />
<circle cx="263.00" cy="208.00" r="0.9" fill="#5aa9e6"/>
<text x="269.80" y="209.60" font-size="4.5" fill="#555" text-anchor="start" >CRP</text>
<line x1="257.70" y1="212.90" x2="268.30" y2="212.90" stroke="#b9274a" stroke-width="0.7" />
<circle cx="263.00" cy="212.90" r="0.9" fill="#b9274a"/>
<text x="269.80" y="214.50" font-size="4.5" fill="#555" text-anchor="start" >Ferritin</text>
<line x1="377.60" y1="255.40" x2="455.60" y2="255.40" stroke="#111" stroke-width="1.3" />
<line x1="377.84" y1="255.40" x2="377.84" y2="258.00" stroke="#111" stroke-width="1.0" />
<text x="377.84" y="265.80" font-size="5.4" fill="#222" text-anchor="middle" stroke="#222" stroke-width="0.04" >-2</text>
<line x1="386.50" y1="255.40" x2="386.50" y2="258.00" stroke="#111" stroke-width="1.0" />
<text x="386.50" y="265.80" font-size="5.4" fill="#222" text-anchor="middle" stroke="#222" stroke-width="0.04" >0</text>
<line x1="395.16" y1="255.40" x2="395.16" y2="258.00" stroke="#111" stroke-width="1.0" />
<text x="395.16" y="265.80" font-size="5.4" fill="#222" text-anchor="middle" stroke="#222" stroke-width="0.04" >2</text>
<line x1="403.82" y1="255.40" x2="403.82" y2="258.00" stroke="#111" stroke-width="1.0" />
<text x="403.82" y="265.80" font-size="5.4" fill="#222" text-anchor="middle" stroke="#222" stroke-width="0.04" >4</text>
<line x1="412.48" y1="255.40" x2="412.48" y2="258.00" stroke="#111" stroke-width="1.0" />
<text x="412.48" y="265.80" font-size="5.4" fill="#222" text-anchor="middle" stroke="#222" stroke-width="0.04" >6</text>
<line x1="421.14" y1="255.40" x2="421.14" y2="258.00" stroke="#111" stroke-width="1.0" />
<text x="421.14" y="265.80" font-size="5.4" fill="#222" text-anchor="middle" stroke="#222" stroke-width="0.04" >8</text>
<line x1="429.80" y1="255.40" x2="429.80" y2="258.00" stroke="#111" stroke-width="1.0" />
<text x="429.80" y="265.80" font-size="5.4" fill="#222" text-anchor="middle" stroke="#222" stroke-width="0.04" >10</text>
<line x1="438.46" y1="255.40" x2="438.46" y2="258.00" stroke="#111" stroke-width="1.0" />
<text x="438.46" y="265.80" font-size="5.4" fill="#222" text-anchor="middle" stroke="#222" stroke-width="0.04" >12</text>
<line x1="447.12" y1="255.40" x2="447.12" y2="258.00" stroke="#111" stroke-width="1.0" />
<text x="447.12" y="265.80" font-size="5.4" fill="#222" text-anchor="middle" stroke="#222" stroke-width="0.04" >14</text>
<line x1="455.78" y1="255.40" x2="455.78" y2="258.00" stroke="#111" stroke-width="1.0" />
<text x="455.78" y="265.80" font-size="5.4" fill="#222" text-anchor="middle" stroke="#222" stroke-width="0.04" >16</text>
<line x1="382.17" y1="255.40" x2="382.17" y2="257.00" stroke="#111" stroke-width="0.7" />
<line x1="390.83" y1="255.40" x2="390.83" y2="257.00" stroke="#111" stroke-width="0.7" />
<line x1="399.49" y1="255.40" x2="399.49" y2="257.00" stroke="#111" stroke-width="0.7" />
<line x1="408.15" y1="255.40" x2="408.15" y2="257.00" stroke="#111" stroke-width="0.7" />
<line x1="416.81" y1="255.40" x2="416.81" y2="257.00" stroke="#111" stroke-width="0.7" />
<line x1="425.47" y1="255.40" x2="425.47" y2="257.00" stroke="#111" stroke-width="0.7" />
<line x1="434.13" y1="255.40" x2="434.13" y2="257.00" stroke="#111" stroke-width="0.7" />
<line x1="442.79" y1="255.40" x2="442.79" y2="257.00" stroke="#111" stroke-width="0.7" />
<line x1="451.45" y1="255.40" x2="451.45" y2="257.00" stroke="#111" stroke-width="0.7" />
<line x1="378.20" y1="197.80" x2="378.20" y2="256.00" stroke="#111" stroke-width="1.3" />
<line x1="375.60" y1="198.30" x2="378.20" y2="198.30" stroke="#111" stroke-width="1.0" />
<text x="373.60" y="200.20" font-size="5.4" fill="#222" text-anchor="end" stroke="#222" stroke-width="0.04" >600</text>
<line x1="375.60" y1="207.82" x2="378.20" y2="207.82" stroke="#111" stroke-width="1.0" />
<text x="373.60" y="209.72" font-size="5.4" fill="#222" text-anchor="end" stroke="#222" stroke-width="0.04" >500</text>
<line x1="375.60" y1="217.33" x2="378.20" y2="217.33" stroke="#111" stroke-width="1.0" />
<text x="373.60" y="219.23" font-size="5.4" fill="#222" text-anchor="end" stroke="#222" stroke-width="0.04" >400</text>
<line x1="375.60" y1="226.85" x2="378.20" y2="226.85" stroke="#111" stroke-width="1.0" />
<text x="373.60" y="228.75" font-size="5.4" fill="#222" text-anchor="end" stroke="#222" stroke-width="0.04" >300</text>
<line x1="375.60" y1="236.37" x2="378.20" y2="236.37" stroke="#111" stroke-width="1.0" />
<text x="373.60" y="238.27" font-size="5.4" fill="#222" text-anchor="end" stroke="#222" stroke-width="0.04" >200</text>
<line x1="375.60" y1="245.88" x2="378.20" y2="245.88" stroke="#111" stroke-width="1.0" />
<text x="373.60" y="247.78" font-size="5.4" fill="#222" text-anchor="end" stroke="#222" stroke-width="0.04" >100</text>
<line x1="375.60" y1="255.40" x2="378.20" y2="255.40" stroke="#111" stroke-width="1.0" />
<text x="373.60" y="257.30" font-size="5.4" fill="#222" text-anchor="end" stroke="#222" stroke-width="0.04" >0</text>
<line x1="376.60" y1="203.05" x2="378.20" y2="203.05" stroke="#111" stroke-width="0.7" />
<line x1="376.60" y1="212.60" x2="378.20" y2="212.60" stroke="#111" stroke-width="0.7" />
<line x1="376.60" y1="222.10" x2="378.20" y2="222.10" stroke="#111" stroke-width="0.7" />
<line x1="376.60" y1="231.60" x2="378.20" y2="231.60" stroke="#111" stroke-width="0.7" />
<line x1="376.60" y1="241.10" x2="378.20" y2="241.10" stroke="#111" stroke-width="0.7" />
<line x1="376.60" y1="250.60" x2="378.20" y2="250.60" stroke="#111" stroke-width="0.7" />
<line x1="455.60" y1="197.80" x2="455.60" y2="256.00" stroke="#5aa9e6" stroke-width="1.3" />
<line x1="455.60" y1="198.00" x2="458.20" y2="198.00" stroke="#5aa9e6" stroke-width="1.0" />
<text x="460.60" y="199.90" font-size="5.4" fill="#78b6e8" text-anchor="start" >30</text>
<line x1="455.60" y1="207.55" x2="458.20" y2="207.55" stroke="#5aa9e6" stroke-width="1.0" />
<text x="460.60" y="209.45" font-size="5.4" fill="#78b6e8" text-anchor="start" >25</text>
<line x1="455.60" y1="217.10" x2="458.20" y2="217.10" stroke="#5aa9e6" stroke-width="1.0" />
<text x="460.60" y="219.00" font-size="5.4" fill="#78b6e8" text-anchor="start" >20</text>
<line x1="455.60" y1="226.70" x2="458.20" y2="226.70" stroke="#5aa9e6" stroke-width="1.0" />
<text x="460.60" y="228.60" font-size="5.4" fill="#78b6e8" text-anchor="start" >15</text>
<line x1="455.60" y1="236.25" x2="458.20" y2="236.25" stroke="#5aa9e6" stroke-width="1.0" />
<text x="460.60" y="238.15" font-size="5.4" fill="#78b6e8" text-anchor="start" >10</text>
<line x1="455.60" y1="245.80" x2="458.20" y2="245.80" stroke="#5aa9e6" stroke-width="1.0" />
<text x="460.60" y="247.70" font-size="5.4" fill="#78b6e8" text-anchor="start" >5</text>
<line x1="455.60" y1="255.40" x2="458.20" y2="255.40" stroke="#5aa9e6" stroke-width="1.0" />
<text x="460.60" y="257.30" font-size="5.4" fill="#78b6e8" text-anchor="start" >0</text>
<line x1="455.60" y1="202.80" x2="457.20" y2="202.80" stroke="#5aa9e6" stroke-width="0.7" />
<line x1="455.60" y1="212.30" x2="457.20" y2="212.30" stroke="#5aa9e6" stroke-width="0.7" />
<line x1="455.60" y1="221.90" x2="457.20" y2="221.90" stroke="#5aa9e6" stroke-width="0.7" />
<line x1="455.60" y1="231.50" x2="457.20" y2="231.50" stroke="#5aa9e6" stroke-width="0.7" />
<line x1="455.60" y1="241.00" x2="457.20" y2="241.00" stroke="#5aa9e6" stroke-width="0.7" />
<line x1="455.60" y1="250.60" x2="457.20" y2="250.60" stroke="#5aa9e6" stroke-width="0.7" />
<line x1="481.90" y1="197.80" x2="481.90" y2="256.00" stroke="#b9274a" stroke-width="1.3" />
<line x1="481.90" y1="198.00" x2="484.50" y2="198.00" stroke="#b9274a" stroke-width="1.0" />
<text x="486.90" y="199.90" font-size="5.4" fill="#b9274a" text-anchor="start" >1200</text>
<line x1="481.90" y1="212.35" x2="484.50" y2="212.35" stroke="#b9274a" stroke-width="1.0" />
<text x="486.90" y="214.25" font-size="5.4" fill="#b9274a" text-anchor="start" >900</text>
<line x1="481.90" y1="226.70" x2="484.50" y2="226.70" stroke="#b9274a" stroke-width="1.0" />
<text x="486.90" y="228.60" font-size="5.4" fill="#b9274a" text-anchor="start" >600</text>
<line x1="481.90" y1="241.05" x2="484.50" y2="241.05" stroke="#b9274a" stroke-width="1.0" />
<text x="486.90" y="242.95" font-size="5.4" fill="#b9274a" text-anchor="start" >300</text>
<line x1="481.90" y1="255.40" x2="484.50" y2="255.40" stroke="#b9274a" stroke-width="1.0" />
<text x="486.90" y="257.30" font-size="5.4" fill="#b9274a" text-anchor="start" >0</text>
<line x1="481.90" y1="205.20" x2="483.50" y2="205.20" stroke="#b9274a" stroke-width="0.7" />
<line x1="481.90" y1="219.50" x2="483.50" y2="219.50" stroke="#b9274a" stroke-width="0.7" />
<line x1="481.90" y1="233.90" x2="483.50" y2="233.90" stroke="#b9274a" stroke-width="0.7" />
<line x1="481.90" y1="248.20" x2="483.50" y2="248.20" stroke="#b9274a" stroke-width="0.7" />
<text x="355.90" y="226.00" font-size="7.4" fill="#333" text-anchor="middle" stroke="#333" stroke-width="0.02" textLength="32" lengthAdjust="spacingAndGlyphs" transform="rotate(-90 355.90 226.00)" dominant-baseline="middle">IL-6 (pg/mL)</text>
<text x="474.80" y="226.00" font-size="7.0" fill="#78b6e8" text-anchor="middle" textLength="33" lengthAdjust="spacingAndGlyphs" transform="rotate(90 474.80 226.00)" dominant-baseline="middle">CRP (mg/dL)</text>
<text x="508.30" y="226.00" font-size="7.0" fill="#bd3656" text-anchor="middle" textLength="41" lengthAdjust="spacingAndGlyphs" transform="rotate(90 508.30 226.00)" dominant-baseline="middle">Ferritin (ng/mL)</text>
<text x="416.60" y="277.20" font-size="7.6" fill="#333" text-anchor="middle" stroke="#333" stroke-width="0.02" textLength="58" lengthAdjust="spacingAndGlyphs" >Time, patient 34 (day)</text>
<text x="395.80" y="196.60" font-size="5.0" fill="#222" text-anchor="middle" stroke="#222" stroke-width="0.06" textLength="29.5" lengthAdjust="spacingAndGlyphs" >No Tocilizumab</text>
<polyline points="386.50,216.80 391.70,220.30 395.20,221.10 400.40,223.70 403.80,220.80 408.10,206.40 411.60,206.40 416.80,212.50 421.10,209.00 425.80,214.80 429.80,218.50 433.50,222.50 438.30,225.40 446.90,227.70" fill="none" stroke="#b9274a" stroke-width="0.9" stroke-linejoin="round" />
<circle cx="386.50" cy="216.80" r="0.6" fill="#b9274a"/>
<circle cx="391.70" cy="220.30" r="0.6" fill="#b9274a"/>
<circle cx="395.20" cy="221.10" r="0.6" fill="#b9274a"/>
<circle cx="400.40" cy="223.70" r="0.6" fill="#b9274a"/>
<circle cx="403.80" cy="220.80" r="0.6" fill="#b9274a"/>
<circle cx="408.10" cy="206.40" r="0.6" fill="#b9274a"/>
<circle cx="411.60" cy="206.40" r="0.6" fill="#b9274a"/>
<circle cx="416.80" cy="212.50" r="0.6" fill="#b9274a"/>
<circle cx="421.10" cy="209.00" r="0.6" fill="#b9274a"/>
<circle cx="425.80" cy="214.80" r="0.6" fill="#b9274a"/>
<circle cx="429.80" cy="218.50" r="0.6" fill="#b9274a"/>
<circle cx="433.50" cy="222.50" r="0.6" fill="#b9274a"/>
<circle cx="438.30" cy="225.40" r="0.6" fill="#b9274a"/>
<circle cx="446.90" cy="227.70" r="0.6" fill="#b9274a"/>
<polyline points="386.50,238.10 390.80,238.40 395.20,235.80 399.50,222.90 403.80,214.20 408.10,209.00 412.50,226.30 416.80,238.40 421.10,244.50 425.80,248.50 438.30,251.30 446.90,251.30" fill="none" stroke="#5aa9e6" stroke-width="0.9" stroke-linejoin="round" />
<circle cx="386.50" cy="238.10" r="0.6" fill="#5aa9e6"/>
<circle cx="390.80" cy="238.40" r="0.6" fill="#5aa9e6"/>
<circle cx="395.20" cy="235.80" r="0.6" fill="#5aa9e6"/>
<circle cx="399.50" cy="222.90" r="0.6" fill="#5aa9e6"/>
<circle cx="403.80" cy="214.20" r="0.6" fill="#5aa9e6"/>
<circle cx="408.10" cy="209.00" r="0.6" fill="#5aa9e6"/>
<circle cx="412.50" cy="226.30" r="0.6" fill="#5aa9e6"/>
<circle cx="416.80" cy="238.40" r="0.6" fill="#5aa9e6"/>
<circle cx="421.10" cy="244.50" r="0.6" fill="#5aa9e6"/>
<circle cx="425.80" cy="248.50" r="0.6" fill="#5aa9e6"/>
<circle cx="438.30" cy="251.30" r="0.6" fill="#5aa9e6"/>
<circle cx="446.90" cy="251.30" r="0.6" fill="#5aa9e6"/>
<polyline points="386.50,232.40 395.20,227.70 403.80,231.00 412.50,239.30 421.10,237.00 425.60,241.00 433.50,236.50 438.30,239.80 442.70,228.80" fill="none" stroke="#3f4a5e" stroke-width="0.8" stroke-linejoin="round" />
<circle cx="386.50" cy="232.40" r="0.85" fill="#3f4a5e"/>
<circle cx="395.20" cy="227.70" r="0.85" fill="#3f4a5e"/>
<circle cx="403.80" cy="231.00" r="0.85" fill="#3f4a5e"/>
<circle cx="412.50" cy="239.30" r="0.85" fill="#3f4a5e"/>
<circle cx="421.10" cy="237.00" r="0.85" fill="#3f4a5e"/>
<circle cx="425.60" cy="241.00" r="0.85" fill="#3f4a5e"/>
<circle cx="433.50" cy="236.50" r="0.85" fill="#3f4a5e"/>
<circle cx="438.30" cy="239.80" r="0.85" fill="#3f4a5e"/>
<circle cx="442.70" cy="228.80" r="0.85" fill="#3f4a5e"/>
<line x1="386.50" y1="229.40" x2="386.50" y2="235.40" stroke="#3f4a5e" stroke-width="0.6" />
<line x1="412.50" y1="236.80" x2="412.50" y2="241.80" stroke="#3f4a5e" stroke-width="0.6" />
<line x1="438.30" y1="236.30" x2="438.30" y2="243.30" stroke="#3f4a5e" stroke-width="0.6" />
<line x1="442.70" y1="225.80" x2="442.70" y2="231.80" stroke="#3f4a5e" stroke-width="0.6" />
<line x1="428.70" y1="199.40" x2="439.20" y2="199.40" stroke="#3f4a5e" stroke-width="0.7" />
<circle cx="433.95" cy="199.40" r="0.9" fill="#3f4a5e"/>
<text x="440.40" y="201.00" font-size="4.5" fill="#555" text-anchor="start" >IL-6</text>
<line x1="428.70" y1="204.60" x2="439.20" y2="204.60" stroke="#5aa9e6" stroke-width="0.7" />
<circle cx="433.95" cy="204.60" r="0.9" fill="#5aa9e6"/>
<text x="440.40" y="206.20" font-size="4.5" fill="#555" text-anchor="start" >CRP</text>
<line x1="428.70" y1="210.00" x2="439.20" y2="210.00" stroke="#b9274a" stroke-width="0.7" />
<circle cx="433.95" cy="210.00" r="0.9" fill="#b9274a"/>
<text x="440.40" y="211.60" font-size="4.5" fill="#555" text-anchor="start" >Ferritin</text>
<rect x="337.10" y="348.10" width="51.50" height="94.40" fill="#e8e8ec" stroke="none" stroke-width="0" rx="0" />
<line x1="297.90" y1="442.50" x2="442.60" y2="442.50" stroke="#111" stroke-width="1.3" />
<line x1="304.32" y1="442.50" x2="304.32" y2="445.10" stroke="#111" stroke-width="1.0" />
<text x="304.32" y="453.60" font-size="5.4" fill="#222" text-anchor="middle" stroke="#222" stroke-width="0.04" >-5</text>
<line x1="315.90" y1="442.50" x2="315.90" y2="445.10" stroke="#111" stroke-width="1.0" />
<text x="315.90" y="453.60" font-size="5.4" fill="#222" text-anchor="middle" stroke="#222" stroke-width="0.04" >0</text>
<line x1="327.47" y1="442.50" x2="327.47" y2="445.10" stroke="#111" stroke-width="1.0" />
<text x="327.47" y="453.60" font-size="5.4" fill="#222" text-anchor="middle" stroke="#222" stroke-width="0.04" >5</text>
<line x1="339.05" y1="442.50" x2="339.05" y2="445.10" stroke="#111" stroke-width="1.0" />
<text x="339.05" y="453.60" font-size="5.4" fill="#222" text-anchor="middle" stroke="#222" stroke-width="0.04" >10</text>
<line x1="350.62" y1="442.50" x2="350.62" y2="445.10" stroke="#111" stroke-width="1.0" />
<text x="350.62" y="453.60" font-size="5.4" fill="#222" text-anchor="middle" stroke="#222" stroke-width="0.04" >15</text>
<line x1="362.20" y1="442.50" x2="362.20" y2="445.10" stroke="#111" stroke-width="1.0" />
<text x="362.20" y="453.60" font-size="5.4" fill="#222" text-anchor="middle" stroke="#222" stroke-width="0.04" >20</text>
<line x1="373.77" y1="442.50" x2="373.77" y2="445.10" stroke="#111" stroke-width="1.0" />
<text x="373.77" y="453.60" font-size="5.4" fill="#222" text-anchor="middle" stroke="#222" stroke-width="0.04" >25</text>
<line x1="385.35" y1="442.50" x2="385.35" y2="445.10" stroke="#111" stroke-width="1.0" />
<text x="385.35" y="453.60" font-size="5.4" fill="#222" text-anchor="middle" stroke="#222" stroke-width="0.04" >30</text>
<line x1="396.92" y1="442.50" x2="396.92" y2="445.10" stroke="#111" stroke-width="1.0" />
<text x="396.92" y="453.60" font-size="5.4" fill="#222" text-anchor="middle" stroke="#222" stroke-width="0.04" >35</text>
<line x1="408.50" y1="442.50" x2="408.50" y2="445.10" stroke="#111" stroke-width="1.0" />
<text x="408.50" y="453.60" font-size="5.4" fill="#222" text-anchor="middle" stroke="#222" stroke-width="0.04" >40</text>
<line x1="420.07" y1="442.50" x2="420.07" y2="445.10" stroke="#111" stroke-width="1.0" />
<text x="420.07" y="453.60" font-size="5.4" fill="#222" text-anchor="middle" stroke="#222" stroke-width="0.04" >45</text>
<line x1="431.65" y1="442.50" x2="431.65" y2="445.10" stroke="#111" stroke-width="1.0" />
<text x="431.65" y="453.60" font-size="5.4" fill="#222" text-anchor="middle" stroke="#222" stroke-width="0.04" >50</text>
<line x1="443.22" y1="442.50" x2="443.22" y2="445.10" stroke="#111" stroke-width="1.0" />
<text x="443.22" y="453.60" font-size="5.4" fill="#222" text-anchor="middle" stroke="#222" stroke-width="0.04" >55</text>
<line x1="310.11" y1="442.50" x2="310.11" y2="444.10" stroke="#111" stroke-width="0.7" />
<line x1="321.69" y1="442.50" x2="321.69" y2="444.10" stroke="#111" stroke-width="0.7" />
<line x1="333.26" y1="442.50" x2="333.26" y2="444.10" stroke="#111" stroke-width="0.7" />
<line x1="344.84" y1="442.50" x2="344.84" y2="444.10" stroke="#111" stroke-width="0.7" />
<line x1="356.41" y1="442.50" x2="356.41" y2="444.10" stroke="#111" stroke-width="0.7" />
<line x1="367.99" y1="442.50" x2="367.99" y2="444.10" stroke="#111" stroke-width="0.7" />
<line x1="379.56" y1="442.50" x2="379.56" y2="444.10" stroke="#111" stroke-width="0.7" />
<line x1="391.14" y1="442.50" x2="391.14" y2="444.10" stroke="#111" stroke-width="0.7" />
<line x1="402.71" y1="442.50" x2="402.71" y2="444.10" stroke="#111" stroke-width="0.7" />
<line x1="414.29" y1="442.50" x2="414.29" y2="444.10" stroke="#111" stroke-width="0.7" />
<line x1="425.86" y1="442.50" x2="425.86" y2="444.10" stroke="#111" stroke-width="0.7" />
<line x1="437.44" y1="442.50" x2="437.44" y2="444.10" stroke="#111" stroke-width="0.7" />
<line x1="298.50" y1="349.00" x2="298.50" y2="443.10" stroke="#111" stroke-width="1.3" />
<line x1="295.90" y1="349.50" x2="298.50" y2="349.50" stroke="#111" stroke-width="1.0" />
<text x="293.30" y="351.40" font-size="5.4" fill="#222" text-anchor="end" stroke="#222" stroke-width="0.04" >10000</text>
<line x1="295.90" y1="372.75" x2="298.50" y2="372.75" stroke="#111" stroke-width="1.0" />
<text x="293.30" y="374.65" font-size="5.4" fill="#222" text-anchor="end" stroke="#222" stroke-width="0.04" >1000</text>
<line x1="295.90" y1="396.00" x2="298.50" y2="396.00" stroke="#111" stroke-width="1.0" />
<text x="293.30" y="397.90" font-size="5.4" fill="#222" text-anchor="end" stroke="#222" stroke-width="0.04" >100</text>
<line x1="295.90" y1="419.25" x2="298.50" y2="419.25" stroke="#111" stroke-width="1.0" />
<text x="293.30" y="421.15" font-size="5.4" fill="#222" text-anchor="end" stroke="#222" stroke-width="0.04" >10</text>
<line x1="295.90" y1="442.50" x2="298.50" y2="442.50" stroke="#111" stroke-width="1.0" />
<text x="293.30" y="444.40" font-size="5.4" fill="#222" text-anchor="end" stroke="#222" stroke-width="0.04" >1</text>
<line x1="296.90" y1="435.50" x2="298.50" y2="435.50" stroke="#111" stroke-width="0.7" />
<line x1="296.90" y1="431.41" x2="298.50" y2="431.41" stroke="#111" stroke-width="0.7" />
<line x1="296.90" y1="428.50" x2="298.50" y2="428.50" stroke="#111" stroke-width="0.7" />
<line x1="296.90" y1="426.25" x2="298.50" y2="426.25" stroke="#111" stroke-width="0.7" />
<line x1="296.90" y1="424.41" x2="298.50" y2="424.41" stroke="#111" stroke-width="0.7" />
<line x1="296.90" y1="422.85" x2="298.50" y2="422.85" stroke="#111" stroke-width="0.7" />
<line x1="296.90" y1="421.50" x2="298.50" y2="421.50" stroke="#111" stroke-width="0.7" />
<line x1="296.90" y1="420.31" x2="298.50" y2="420.31" stroke="#111" stroke-width="0.7" />
<line x1="296.90" y1="412.25" x2="298.50" y2="412.25" stroke="#111" stroke-width="0.7" />
<line x1="296.90" y1="408.16" x2="298.50" y2="408.16" stroke="#111" stroke-width="0.7" />
<line x1="296.90" y1="405.25" x2="298.50" y2="405.25" stroke="#111" stroke-width="0.7" />
<line x1="296.90" y1="403.00" x2="298.50" y2="403.00" stroke="#111" stroke-width="0.7" />
<line x1="296.90" y1="401.16" x2="298.50" y2="401.16" stroke="#111" stroke-width="0.7" />
<line x1="296.90" y1="399.60" x2="298.50" y2="399.60" stroke="#111" stroke-width="0.7" />
<line x1="296.90" y1="398.25" x2="298.50" y2="398.25" stroke="#111" stroke-width="0.7" />
<line x1="296.90" y1="397.06" x2="298.50" y2="397.06" stroke="#111" stroke-width="0.7" />
<line x1="296.90" y1="389.00" x2="298.50" y2="389.00" stroke="#111" stroke-width="0.7" />
<line x1="296.90" y1="384.91" x2="298.50" y2="384.91" stroke="#111" stroke-width="0.7" />
<line x1="296.90" y1="382.00" x2="298.50" y2="382.00" stroke="#111" stroke-width="0.7" />
<line x1="296.90" y1="379.75" x2="298.50" y2="379.75" stroke="#111" stroke-width="0.7" />
<line x1="296.90" y1="377.91" x2="298.50" y2="377.91" stroke="#111" stroke-width="0.7" />
<line x1="296.90" y1="376.35" x2="298.50" y2="376.35" stroke="#111" stroke-width="0.7" />
<line x1="296.90" y1="375.00" x2="298.50" y2="375.00" stroke="#111" stroke-width="0.7" />
<line x1="296.90" y1="373.81" x2="298.50" y2="373.81" stroke="#111" stroke-width="0.7" />
<line x1="296.90" y1="365.75" x2="298.50" y2="365.75" stroke="#111" stroke-width="0.7" />
<line x1="296.90" y1="361.66" x2="298.50" y2="361.66" stroke="#111" stroke-width="0.7" />
<line x1="296.90" y1="358.75" x2="298.50" y2="358.75" stroke="#111" stroke-width="0.7" />
<line x1="296.90" y1="356.50" x2="298.50" y2="356.50" stroke="#111" stroke-width="0.7" />
<line x1="296.90" y1="354.66" x2="298.50" y2="354.66" stroke="#111" stroke-width="0.7" />
<line x1="296.90" y1="353.10" x2="298.50" y2="353.10" stroke="#111" stroke-width="0.7" />
<line x1="296.90" y1="351.75" x2="298.50" y2="351.75" stroke="#111" stroke-width="0.7" />
<line x1="296.90" y1="350.56" x2="298.50" y2="350.56" stroke="#111" stroke-width="0.7" />
<line x1="442.40" y1="349.00" x2="442.40" y2="443.10" stroke="#5aa9e6" stroke-width="1.3" />
<line x1="442.40" y1="349.70" x2="445.00" y2="349.70" stroke="#5aa9e6" stroke-width="1.0" />
<text x="447.40" y="351.60" font-size="5.4" fill="#78b6e8" text-anchor="start" >20</text>
<line x1="442.40" y1="372.95" x2="445.00" y2="372.95" stroke="#5aa9e6" stroke-width="1.0" />
<text x="447.40" y="374.85" font-size="5.4" fill="#78b6e8" text-anchor="start" >15</text>
<line x1="442.40" y1="396.20" x2="445.00" y2="396.20" stroke="#5aa9e6" stroke-width="1.0" />
<text x="447.40" y="398.10" font-size="5.4" fill="#78b6e8" text-anchor="start" >10</text>
<line x1="442.40" y1="419.45" x2="445.00" y2="419.45" stroke="#5aa9e6" stroke-width="1.0" />
<text x="447.40" y="421.35" font-size="5.4" fill="#78b6e8" text-anchor="start" >5</text>
<line x1="442.40" y1="442.70" x2="445.00" y2="442.70" stroke="#5aa9e6" stroke-width="1.0" />
<text x="447.40" y="444.60" font-size="5.4" fill="#78b6e8" text-anchor="start" >0</text>
<line x1="442.40" y1="361.30" x2="444.00" y2="361.30" stroke="#5aa9e6" stroke-width="0.7" />
<line x1="442.40" y1="384.60" x2="444.00" y2="384.60" stroke="#5aa9e6" stroke-width="0.7" />
<line x1="442.40" y1="407.80" x2="444.00" y2="407.80" stroke="#5aa9e6" stroke-width="0.7" />
<line x1="442.40" y1="431.10" x2="444.00" y2="431.10" stroke="#5aa9e6" stroke-width="0.7" />
<line x1="472.90" y1="349.00" x2="472.90" y2="443.10" stroke="#b9274a" stroke-width="1.3" />
<line x1="472.90" y1="349.70" x2="475.50" y2="349.70" stroke="#b9274a" stroke-width="1.0" />
<text x="477.90" y="351.60" font-size="5.4" fill="#b9274a" text-anchor="start" >2000</text>
<line x1="472.90" y1="368.30" x2="475.50" y2="368.30" stroke="#b9274a" stroke-width="1.0" />
<text x="477.90" y="370.20" font-size="5.4" fill="#b9274a" text-anchor="start" >1600</text>
<line x1="472.90" y1="386.90" x2="475.50" y2="386.90" stroke="#b9274a" stroke-width="1.0" />
<text x="477.90" y="388.80" font-size="5.4" fill="#b9274a" text-anchor="start" >1200</text>
<line x1="472.90" y1="405.50" x2="475.50" y2="405.50" stroke="#b9274a" stroke-width="1.0" />
<text x="477.90" y="407.40" font-size="5.4" fill="#b9274a" text-anchor="start" >800</text>
<line x1="472.90" y1="424.10" x2="475.50" y2="424.10" stroke="#b9274a" stroke-width="1.0" />
<text x="477.90" y="426.00" font-size="5.4" fill="#b9274a" text-anchor="start" >400</text>
<line x1="472.90" y1="442.70" x2="475.50" y2="442.70" stroke="#b9274a" stroke-width="1.0" />
<text x="477.90" y="444.60" font-size="5.4" fill="#b9274a" text-anchor="start" >0</text>
<line x1="472.90" y1="359.00" x2="474.50" y2="359.00" stroke="#b9274a" stroke-width="0.7" />
<line x1="472.90" y1="377.60" x2="474.50" y2="377.60" stroke="#b9274a" stroke-width="0.7" />
<line x1="472.90" y1="396.20" x2="474.50" y2="396.20" stroke="#b9274a" stroke-width="0.7" />
<line x1="472.90" y1="414.80" x2="474.50" y2="414.80" stroke="#b9274a" stroke-width="0.7" />
<line x1="472.90" y1="433.40" x2="474.50" y2="433.40" stroke="#b9274a" stroke-width="0.7" />
<text x="270.00" y="394.70" font-size="7.4" fill="#333" text-anchor="middle" stroke="#333" stroke-width="0.02" textLength="32" lengthAdjust="spacingAndGlyphs" transform="rotate(-90 270.00 394.70)" dominant-baseline="middle">IL-6 (pg/mL)</text>
<text x="461.60" y="395.40" font-size="7.0" fill="#78b6e8" text-anchor="middle" textLength="33" lengthAdjust="spacingAndGlyphs" transform="rotate(90 461.60 395.40)" dominant-baseline="middle">CRP (mg/dL)</text>
<text x="497.30" y="396.40" font-size="7.0" fill="#bd3656" text-anchor="middle" textLength="41" lengthAdjust="spacingAndGlyphs" transform="rotate(90 497.30 396.40)" dominant-baseline="middle">Ferritin (ng/mL)</text>
<text x="367.00" y="463.40" font-size="7.6" fill="#333" text-anchor="middle" stroke="#333" stroke-width="0.02" textLength="58" lengthAdjust="spacingAndGlyphs" >Time, patient 05 (day)</text>
<text x="363.10" y="344.40" font-size="5.4" fill="#222" text-anchor="middle" stroke="#222" stroke-width="0.06" textLength="26" lengthAdjust="spacingAndGlyphs" >On Steroid</text>
<path d="M363.5,347 L360.6,354.5" stroke="#333" stroke-width="0.6" fill="none"/><path d="M360.2,356 L359.4,352.6 L361.6,353.2 Z" fill="#333"/>
<polyline points="309.10,383.20 315.90,368.70 318.40,366.80 322.60,370.60 331.30,372.60 336.70,372.60 340.90,376.40 347.70,385.50 352.50,385.50 359.80,382.80 364.10,381.20 368.90,380.90 380.10,387.00 395.90,380.30 402.60,378.90 414.80,371.60 430.60,375.10" fill="none" stroke="#e9b52e" stroke-width="0.8" stroke-linejoin="round" />
<circle cx="309.10" cy="383.20" r="0.85" fill="#e9b52e"/>
<circle cx="315.90" cy="368.70" r="0.85" fill="#e9b52e"/>
<circle cx="318.40" cy="366.80" r="0.85" fill="#e9b52e"/>
<circle cx="322.60" cy="370.60" r="0.85" fill="#e9b52e"/>
<circle cx="331.30" cy="372.60" r="0.85" fill="#e9b52e"/>
<circle cx="336.70" cy="372.60" r="0.85" fill="#e9b52e"/>
<circle cx="340.90" cy="376.40" r="0.85" fill="#e9b52e"/>
<circle cx="347.70" cy="385.50" r="0.85" fill="#e9b52e"/>
<circle cx="352.50" cy="385.50" r="0.85" fill="#e9b52e"/>
<circle cx="359.80" cy="382.80" r="0.85" fill="#e9b52e"/>
<circle cx="364.10" cy="381.20" r="0.85" fill="#e9b52e"/>
<circle cx="368.90" cy="380.90" r="0.85" fill="#e9b52e"/>
<circle cx="380.10" cy="387.00" r="0.85" fill="#e9b52e"/>
<circle cx="395.90" cy="380.30" r="0.85" fill="#e9b52e"/>
<circle cx="402.60" cy="378.90" r="0.85" fill="#e9b52e"/>
<circle cx="414.80" cy="371.60" r="0.85" fill="#e9b52e"/>
<circle cx="430.60" cy="375.10" r="0.85" fill="#e9b52e"/>
<polyline points="315.90,428.40 318.40,430.40 320.70,386.00 322.60,363.90 325.10,360.00 327.40,367.80 329.70,389.00 332.30,415.90 334.80,427.50 337.10,432.30 341.90,437.10 345.80,440.60 351.60,441.40 382.40,441.90" fill="none" stroke="#5aa9e6" stroke-width="0.9" stroke-linejoin="round" />
<circle cx="315.90" cy="428.40" r="0.6" fill="#5aa9e6"/>
<circle cx="318.40" cy="430.40" r="0.6" fill="#5aa9e6"/>
<circle cx="320.70" cy="386.00" r="0.6" fill="#5aa9e6"/>
<circle cx="322.60" cy="363.90" r="0.6" fill="#5aa9e6"/>
<circle cx="325.10" cy="360.00" r="0.6" fill="#5aa9e6"/>
<circle cx="327.40" cy="367.80" r="0.6" fill="#5aa9e6"/>
<circle cx="329.70" cy="389.00" r="0.6" fill="#5aa9e6"/>
<circle cx="332.30" cy="415.90" r="0.6" fill="#5aa9e6"/>
<circle cx="334.80" cy="427.50" r="0.6" fill="#5aa9e6"/>
<circle cx="337.10" cy="432.30" r="0.6" fill="#5aa9e6"/>
<circle cx="341.90" cy="437.10" r="0.6" fill="#5aa9e6"/>
<circle cx="345.80" cy="440.60" r="0.6" fill="#5aa9e6"/>
<circle cx="351.60" cy="441.40" r="0.6" fill="#5aa9e6"/>
<circle cx="382.40" cy="441.90" r="0.6" fill="#5aa9e6"/>
<circle cx="356.00" cy="441.80" r="0.55" fill="#5aa9e6"/>
<circle cx="360.00" cy="441.80" r="0.55" fill="#5aa9e6"/>
<circle cx="364.00" cy="441.80" r="0.55" fill="#5aa9e6"/>
<circle cx="368.00" cy="441.80" r="0.55" fill="#5aa9e6"/>
<circle cx="372.00" cy="441.80" r="0.55" fill="#5aa9e6"/>
<circle cx="376.00" cy="441.80" r="0.55" fill="#5aa9e6"/>
<circle cx="380.00" cy="441.80" r="0.55" fill="#5aa9e6"/>
<polyline points="315.90,378.40 318.20,398.60 320.70,394.70 322.60,404.70 326.50,403.40 329.40,400.50 334.20,402.80 336.70,408.60 339.00,409.80 341.30,396.30 343.80,397.60 345.70,400.10 348.20,395.70 350.20,385.50 352.50,386.60 355.00,384.10 357.30,370.60 359.70,384.70 361.60,391.30 364.10,394.30 366.60,397.00 368.50,400.10 371.20,400.10 373.10,375.50 375.60,367.80 378.20,380.30 380.10,370.60 382.40,362.90" fill="none" stroke="#b9274a" stroke-width="0.9" stroke-linejoin="round" />
<circle cx="315.90" cy="378.40" r="0.6" fill="#b9274a"/>
<circle cx="318.20" cy="398.60" r="0.6" fill="#b9274a"/>
<circle cx="320.70" cy="394.70" r="0.6" fill="#b9274a"/>
<circle cx="322.60" cy="404.70" r="0.6" fill="#b9274a"/>
<circle cx="326.50" cy="403.40" r="0.6" fill="#b9274a"/>
<circle cx="329.40" cy="400.50" r="0.6" fill="#b9274a"/>
<circle cx="334.20" cy="402.80" r="0.6" fill="#b9274a"/>
<circle cx="336.70" cy="408.60" r="0.6" fill="#b9274a"/>
<circle cx="339.00" cy="409.80" r="0.6" fill="#b9274a"/>
<circle cx="341.30" cy="396.30" r="0.6" fill="#b9274a"/>
<circle cx="343.80" cy="397.60" r="0.6" fill="#b9274a"/>
<circle cx="345.70" cy="400.10" r="0.6" fill="#b9274a"/>
<circle cx="348.20" cy="395.70" r="0.6" fill="#b9274a"/>
<circle cx="350.20" cy="385.50" r="0.6" fill="#b9274a"/>
<circle cx="352.50" cy="386.60" r="0.6" fill="#b9274a"/>
<circle cx="355.00" cy="384.10" r="0.6" fill="#b9274a"/>
<circle cx="357.30" cy="370.60" r="0.6" fill="#b9274a"/>
<circle cx="359.70" cy="384.70" r="0.6" fill="#b9274a"/>
<circle cx="361.60" cy="391.30" r="0.6" fill="#b9274a"/>
<circle cx="364.10" cy="394.30" r="0.6" fill="#b9274a"/>
<circle cx="366.60" cy="397.00" r="0.6" fill="#b9274a"/>
<circle cx="368.50" cy="400.10" r="0.6" fill="#b9274a"/>
<circle cx="371.20" cy="400.10" r="0.6" fill="#b9274a"/>
<circle cx="373.10" cy="375.50" r="0.6" fill="#b9274a"/>
<circle cx="375.60" cy="367.80" r="0.6" fill="#b9274a"/>
<circle cx="378.20" cy="380.30" r="0.6" fill="#b9274a"/>
<circle cx="380.10" cy="370.60" r="0.6" fill="#b9274a"/>
<circle cx="382.40" cy="362.90" r="0.6" fill="#b9274a"/>
<polyline points="309.10,428.40 315.90,424.60 317.80,396.30 322.60,395.70 331.30,399.50 336.70,398.60 340.90,400.50 347.70,406.50 364.10,416.90 368.90,419.80 380.10,423.20 395.90,406.30 402.60,401.50 414.80,399.50 430.60,396.30" fill="none" stroke="#3f4a5e" stroke-width="0.8" stroke-linejoin="round" />
<circle cx="309.10" cy="428.40" r="1.1" fill="#3f4a5e"/>
<circle cx="315.90" cy="424.60" r="1.1" fill="#3f4a5e"/>
<circle cx="317.80" cy="396.30" r="1.1" fill="#3f4a5e"/>
<circle cx="322.60" cy="395.70" r="1.1" fill="#3f4a5e"/>
<circle cx="331.30" cy="399.50" r="1.1" fill="#3f4a5e"/>
<circle cx="336.70" cy="398.60" r="1.1" fill="#3f4a5e"/>
<circle cx="340.90" cy="400.50" r="1.1" fill="#3f4a5e"/>
<circle cx="347.70" cy="406.50" r="1.1" fill="#3f4a5e"/>
<circle cx="364.10" cy="416.90" r="1.1" fill="#3f4a5e"/>
<circle cx="368.90" cy="419.80" r="1.1" fill="#3f4a5e"/>
<circle cx="380.10" cy="423.20" r="1.1" fill="#3f4a5e"/>
<circle cx="395.90" cy="406.30" r="1.1" fill="#3f4a5e"/>
<circle cx="402.60" cy="401.50" r="1.1" fill="#3f4a5e"/>
<circle cx="414.80" cy="399.50" r="1.1" fill="#3f4a5e"/>
<circle cx="430.60" cy="396.30" r="1.1" fill="#3f4a5e"/>
<line x1="347.70" y1="403.00" x2="347.70" y2="410.00" stroke="#3f4a5e" stroke-width="0.6" />
<line x1="402.60" y1="398.00" x2="402.60" y2="405.00" stroke="#3f4a5e" stroke-width="0.6" />
<line x1="380.10" y1="421.20" x2="380.10" y2="425.20" stroke="#3f4a5e" stroke-width="0.6" />
<line x1="401.30" y1="414.60" x2="417.00" y2="414.60" stroke="#3f4a5e" stroke-width="0.7" />
<circle cx="409.15" cy="414.60" r="0.9" fill="#3f4a5e"/>
<text x="420.20" y="416.20" font-size="4.5" fill="#555" text-anchor="start" >IL-6</text>
<line x1="401.30" y1="422.80" x2="417.00" y2="422.80" stroke="#5aa9e6" stroke-width="0.7" />
<circle cx="409.15" cy="422.80" r="0.9" fill="#5aa9e6"/>
<text x="420.20" y="424.40" font-size="4.5" fill="#555" text-anchor="start" >CRP</text>
<line x1="401.30" y1="431.00" x2="417.00" y2="431.00" stroke="#b9274a" stroke-width="0.7" />
<circle cx="409.15" cy="431.00" r="0.9" fill="#b9274a"/>
<text x="420.20" y="432.60" font-size="4.5" fill="#555" text-anchor="start" >Ferritin</text>
<line x1="401.30" y1="438.90" x2="417.00" y2="438.90" stroke="#e9b52e" stroke-width="0.7" />
<circle cx="409.15" cy="438.90" r="0.9" fill="#e9b52e"/>
<text x="420.20" y="440.50" font-size="4.5" fill="#555" text-anchor="start" >MCP-1</text>
</svg>
</body></html>
